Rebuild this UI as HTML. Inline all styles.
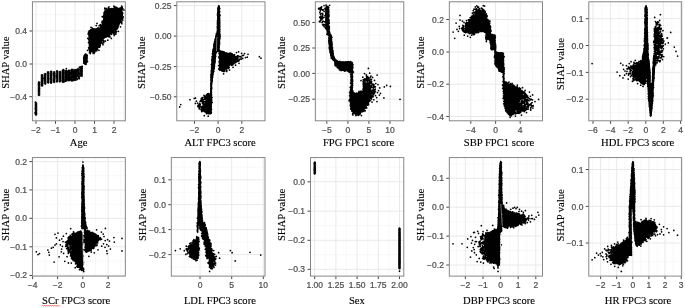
<!DOCTYPE html>
<html><head><meta charset="utf-8"><title>SHAP dependence plots</title>
<style>
html,body{margin:0;padding:0;background:#fff;}
body{width:685px;height:308px;overflow:hidden;}
svg{display:block;opacity:.999;will-change:transform;}
.t{font-family:"Liberation Sans",sans-serif;font-size:8.5px;fill:#4d4d4d;stroke:#4d4d4d;stroke-width:.22px;}
.a{font-family:"Liberation Serif",serif;font-size:10.6px;fill:#000;stroke:#000;stroke-width:.12px;}
.p{fill:none;stroke:#000;stroke-width:1.75;stroke-linecap:round;}
</style></head><body>
<svg width="685" height="308" viewBox="0 0 685 308">
<rect width="685" height="308" fill="#fff"/>
<g><clipPath id="c0"><rect x="32.4" y="1.8" width="92.9" height="119.0"/></clipPath>
<path d="M45.8 1.8V120.8M65.2 1.8V120.8M84.8 1.8V120.8M104.2 1.8V120.8M123.8 1.8V120.8M32.4 14.6H125.3M32.4 47.4H125.3M32.4 80.3H125.3M32.4 113.1H125.3" stroke="#f1f1f1" stroke-width=".5" fill="none"/>
<path d="M36.0 1.8V120.8M55.5 1.8V120.8M75.0 1.8V120.8M94.5 1.8V120.8M114.0 1.8V120.8M32.4 31.0H125.3M32.4 64.0H125.3M32.4 96.7H125.3" stroke="#e6e6e6" stroke-width=".9" fill="none"/>
<g clip-path="url(#c0)"><path d="M35.1 102.5L36.9 102.5L36.9 115.2L35.1 115.2ZM38.1 82.2L39.9 82.2L39.9 95.6L38.1 95.6ZM41.1 74.6L43.0 74.6L43.0 86.2L41.1 86.2ZM44.1 73.4L46.0 73.4L46.0 83.8L44.1 83.8ZM47.2 71.6L49.0 71.6L49.0 83.0L47.2 83.0ZM50.2 70.9L52.0 70.9L52.0 83.1L50.2 83.1ZM53.2 71.6L55.0 71.6L55.0 82.7L53.2 82.7ZM56.2 70.8L58.1 70.8L58.1 81.8L56.2 81.8ZM59.2 71.3L61.1 71.3L61.1 81.7L59.2 81.7ZM62.0 69.9L64.4 69.9L64.4 82.4L62.0 82.4ZM65.0 70.5L67.4 70.5L67.4 81.2L65.0 81.2ZM68.0 69.9L70.4 69.9L70.4 81.0L68.0 81.0ZM71.0 69.0L73.4 69.0L73.4 81.2L71.0 81.2ZM74.1 69.4L76.5 69.4L76.5 80.5L74.1 80.5ZM77.1 68.4L79.5 68.4L79.5 78.4L77.1 78.4ZM80.1 66.8L82.5 66.8L82.5 76.6L80.1 76.6ZM72.5 71.4L72.5 79.2L78.5 78.6L78.5 70.2ZM83.7 56.6L84.0 63.8L85.8 64.3L87.4 61.4L87.0 54.4L84.7 54.3ZM88.9 30.6L89.0 51.5L90.9 51.4L95.5 50.8L100.6 44.5L103.2 38.6L103.2 38.6L103.3 38.5L103.3 38.4L103.4 38.3L106.9 35.0L106.9 35.0L107.0 34.9L107.1 34.9L107.2 34.9L113.3 32.3L118.5 26.0L122.1 18.3L122.4 13.1L121.3 8.2L114.1 8.2L107.0 9.1L104.7 12.3L103.7 21.1L103.7 21.2L103.7 21.3L103.6 21.3L103.6 21.4L100.4 27.4L100.3 27.5L100.3 27.6L100.2 27.6L100.2 27.7L100.1 27.7L100.0 27.8L99.9 27.8L99.9 27.9L99.8 27.9L92.2 29.4Z" fill="#000" stroke="#000" stroke-width=".6" stroke-linejoin="round"/>
<path d="M36.2 110.6h0M36.2 114.3h0M36.0 112.6h0M35.6 105.1h0M36.0 106.1h0M36.3 114.0h0M35.4 102.1h0M35.8 113.3h0M35.1 112.9h0M35.4 108.4h0M38.8 84.8h0M38.6 84.0h0M38.7 90.5h0M39.5 82.3h0M38.7 82.2h0M39.0 89.1h0M39.4 88.4h0M38.8 94.9h0M39.0 90.8h0M39.1 89.1h0M39.0 88.9h0M41.5 84.8h0M42.1 82.2h0M42.3 83.4h0M42.0 75.3h0M42.3 80.9h0M42.0 80.5h0M42.3 85.1h0M42.7 78.7h0M41.7 81.6h0M44.5 80.2h0M44.7 80.6h0M45.4 74.6h0M44.2 77.9h0M44.9 75.6h0M45.0 77.5h0M45.6 74.0h0M45.4 83.9h0M47.9 72.9h0M48.6 73.5h0M48.4 82.6h0M48.1 77.9h0M48.4 73.3h0M47.9 82.1h0M48.6 79.1h0M48.1 78.2h0M48.3 75.8h0M51.0 72.0h0M51.0 83.1h0M51.4 79.1h0M51.3 76.1h0M50.6 77.3h0M51.1 81.9h0M51.1 74.9h0M50.6 78.2h0M51.2 79.4h0M50.7 75.1h0M54.5 78.7h0M53.7 80.7h0M54.5 77.3h0M54.2 79.9h0M53.4 73.8h0M54.7 73.5h0M54.8 75.5h0M54.1 73.2h0M54.0 75.3h0M57.1 77.3h0M56.8 75.5h0M57.0 80.9h0M56.9 75.3h0M57.1 81.4h0M57.0 71.2h0M57.0 75.5h0M56.5 76.6h0M56.8 81.7h0M60.5 80.3h0M60.1 72.1h0M60.2 77.7h0M59.8 76.2h0M60.4 77.6h0M59.9 78.3h0M60.1 74.3h0M59.7 81.7h0M63.5 81.7h0M63.4 80.2h0M62.9 81.2h0M62.6 76.4h0M63.6 81.7h0M63.6 70.0h0M63.1 69.8h0M63.4 69.7h0M63.5 72.8h0M63.6 72.7h0M65.4 77.1h0M66.6 72.2h0M65.7 76.7h0M66.2 70.5h0M66.6 79.4h0M65.5 81.2h0M65.3 80.0h0M66.3 70.6h0M68.8 80.1h0M68.9 71.8h0M68.8 76.3h0M68.8 77.1h0M69.3 76.7h0M68.9 70.5h0M69.4 77.4h0M69.4 77.0h0M70.1 79.3h0M71.2 73.5h0M71.9 71.9h0M71.4 74.6h0M70.8 77.2h0M72.0 69.9h0M72.8 73.6h0M72.3 70.3h0M71.7 77.3h0M71.8 79.5h0M72.7 73.5h0M74.7 70.5h0M75.2 70.5h0M75.3 69.9h0M74.7 79.9h0M76.0 72.2h0M75.9 72.6h0M75.1 79.0h0M75.6 76.4h0M75.4 71.2h0M79.0 73.6h0M78.0 76.2h0M78.1 70.0h0M77.5 70.8h0M79.0 73.8h0M78.7 76.1h0M78.7 77.8h0M78.6 69.3h0M82.0 68.3h0M81.5 74.5h0M81.3 74.5h0M81.1 74.1h0M80.8 71.1h0M81.3 70.4h0M81.7 70.8h0M81.1 66.7h0M71.5 76.3h0M69.0 76.2h0M75.9 77.0h0M78.8 76.8h0M68.4 76.4h0M76.0 74.2h0M76.5 71.9h0M78.2 72.9h0M68.8 72.6h0M67.7 74.3h0M68.4 74.0h0M68.2 74.2h0M73.7 73.5h0M71.4 76.4h0M69.2 79.5h0M77.4 74.3h0M69.2 73.1h0M67.1 74.7h0M72.4 76.9h0M70.7 79.2h0M70.0 73.2h0M75.1 75.5h0M71.9 71.8h0M67.9 75.2h0M79.3 78.7h0M77.3 79.3h0M77.5 74.5h0M69.7 78.2h0M71.1 74.0h0M68.8 74.1h0M67.9 75.6h0M67.2 72.2h0M72.5 73.4h0M67.8 77.2h0M68.4 78.5h0M76.9 70.1h0M72.3 77.6h0M69.2 77.9h0M74.2 74.4h0M74.0 77.5h0M70.0 72.7h0M73.7 76.6h0M74.0 74.3h0M73.3 76.9h0M71.2 73.3h0M76.8 75.1h0M77.4 74.6h0M69.1 76.5h0M68.5 72.3h0M67.9 79.4h0M78.5 72.6h0M77.8 72.8h0M76.8 71.9h0M75.1 72.5h0M73.2 71.9h0M78.7 72.9h0M77.3 76.0h0M73.4 79.8h0M76.9 75.2h0M72.5 76.2h0M78.2 76.0h0M73.2 73.4h0M75.5 73.4h0M73.5 75.3h0M74.4 72.0h0M73.1 72.5h0M75.5 78.3h0M74.9 74.1h0M75.8 72.2h0M73.9 76.3h0M74.0 72.4h0M74.2 78.6h0M74.9 76.3h0M77.0 71.0h0M75.1 73.4h0M77.7 70.4h0M78.0 72.2h0M76.6 71.7h0M73.9 76.1h0M74.9 71.7h0M76.2 78.2h0M78.7 73.4h0M73.9 73.5h0M76.6 70.9h0M75.5 77.4h0M73.3 76.2h0M77.8 75.1h0M76.0 75.9h0M77.7 72.3h0M73.1 75.6h0M66.3 68.6h0M82.2 66.3h0M79.4 67.2h0M84.1 59.2h0M85.0 59.4h0M86.4 61.4h0M84.9 60.6h0M83.7 60.1h0M87.2 55.4h0M86.8 56.4h0M86.0 63.2h0M84.4 55.6h0M85.8 59.8h0M85.9 54.6h0M84.8 63.5h0M86.5 55.9h0M84.8 58.4h0M85.7 59.3h0M83.8 61.2h0M86.0 64.2h0M86.8 61.5h0M86.9 57.3h0M85.1 54.8h0M86.6 62.1h0M85.7 54.1h0M85.3 62.0h0M86.6 55.6h0M84.1 59.0h0M86.1 59.9h0M86.4 61.1h0M85.4 64.3h0M86.4 60.8h0M85.8 57.9h0M85.6 61.4h0M84.4 58.8h0M87.0 58.3h0M85.1 58.1h0M86.1 58.9h0M85.3 57.1h0M84.1 59.5h0M86.2 62.6h0M85.5 57.5h0M85.5 63.0h0M84.2 57.7h0M85.3 59.7h0M84.7 58.3h0M86.4 60.9h0M85.4 64.2h0M86.3 60.9h0M85.3 61.4h0M83.7 57.9h0M87.5 61.5h0M86.4 57.3h0M84.6 59.5h0M86.3 60.9h0M84.6 56.2h0M84.0 62.3h0M83.7 63.0h0M86.9 61.2h0M85.2 57.5h0M84.4 61.0h0M85.1 55.3h0M85.7 60.3h0M86.0 60.2h0M86.4 60.9h0M86.5 58.8h0M84.3 56.5h0M85.8 61.6h0M85.3 62.2h0M86.3 58.2h0M112.4 24.5h0M111.4 19.7h0M95.1 34.3h0M119.1 14.4h0M118.2 26.1h0M110.4 20.5h0M113.4 18.9h0M105.0 23.6h0M96.2 46.9h0M89.5 32.4h0M103.7 24.1h0M105.2 34.6h0M109.5 19.7h0M105.9 32.0h0M104.4 33.9h0M114.5 11.8h0M113.2 10.5h0M115.4 19.2h0M111.6 23.9h0M112.6 18.0h0M94.8 36.1h0M112.7 9.6h0M114.6 22.3h0M109.8 33.1h0M117.1 16.5h0M95.1 45.3h0M93.7 44.7h0M107.5 18.5h0M107.8 18.0h0M114.0 21.8h0M114.6 24.1h0M90.5 48.4h0M108.1 15.4h0M96.8 40.3h0M106.3 21.3h0M107.4 10.8h0M97.2 36.5h0M97.4 39.6h0M101.7 40.5h0M104.6 24.7h0M89.5 47.5h0M98.6 34.3h0M91.8 40.9h0M120.6 19.7h0M96.3 41.2h0M102.4 25.1h0M101.4 38.5h0M114.6 15.1h0M95.3 46.9h0M103.0 21.9h0M117.5 17.1h0M98.6 37.0h0M98.4 38.9h0M116.6 24.6h0M96.8 41.5h0M112.8 21.9h0M92.5 37.0h0M107.5 26.2h0M103.5 28.6h0M104.5 35.0h0M105.5 24.0h0M93.7 51.4h0M97.5 45.6h0M98.0 34.2h0M96.5 36.0h0M97.3 43.6h0M99.8 46.8h0M100.9 36.3h0M104.7 12.1h0M111.4 11.0h0M120.9 11.6h0M102.2 22.8h0M109.2 17.9h0M119.6 20.6h0M109.3 28.4h0M91.4 49.3h0M119.0 20.4h0M92.5 48.3h0M97.6 37.7h0M91.7 39.9h0M88.4 33.5h0M100.5 28.6h0M97.3 47.5h0M114.8 19.8h0M117.9 27.4h0M109.6 21.6h0M119.4 9.4h0M122.8 20.0h0M115.9 20.8h0M110.3 9.2h0M108.0 18.5h0M98.3 37.1h0M100.2 37.4h0M122.8 18.1h0M96.2 47.5h0M103.4 27.9h0M99.6 47.1h0M92.5 38.1h0M116.2 19.7h0M94.1 39.5h0M107.0 10.6h0M110.5 23.2h0M99.3 36.3h0M98.5 39.4h0M95.8 47.8h0M119.1 21.9h0M117.2 15.7h0M123.2 16.8h0M108.3 13.6h0M120.7 12.0h0M97.7 39.9h0M94.3 42.0h0M114.8 13.4h0M117.2 25.4h0M122.0 12.1h0M96.9 31.4h0M92.4 36.5h0M88.3 33.4h0M121.6 22.2h0M103.3 21.4h0M117.4 22.3h0M97.9 42.3h0M107.5 21.3h0M107.7 23.9h0M107.7 34.2h0M93.0 47.8h0M120.9 7.9h0M106.4 18.0h0M93.3 42.9h0M104.2 29.5h0M112.1 27.5h0M115.7 20.1h0M117.4 12.3h0M116.3 13.4h0M97.7 40.6h0M98.1 34.2h0M103.1 35.3h0M109.1 17.4h0M99.5 29.9h0M99.7 38.1h0M104.2 31.8h0M108.4 9.9h0M119.7 8.3h0M95.3 34.8h0M106.7 26.7h0M91.0 50.7h0M122.8 13.0h0M105.0 23.9h0M121.3 21.4h0M92.4 38.0h0M107.5 21.7h0M120.4 13.2h0M110.8 33.5h0M108.6 28.9h0M101.5 36.8h0M107.5 33.1h0M106.6 32.9h0M116.3 13.9h0M91.2 37.9h0M114.5 23.8h0M99.8 43.5h0M116.3 27.4h0M90.9 45.8h0M99.1 47.0h0M106.7 33.0h0M98.5 42.5h0M117.6 13.7h0M108.2 32.0h0M97.3 42.5h0M114.8 13.7h0M109.3 23.7h0M119.2 9.6h0M105.2 36.3h0M120.5 14.4h0M92.0 30.7h0M114.5 10.5h0M99.7 42.7h0M109.3 30.6h0M93.4 46.2h0M114.6 11.6h0M92.6 46.0h0M119.6 19.9h0M118.1 18.0h0M106.0 23.2h0M106.7 26.8h0M97.5 29.5h0M94.8 37.7h0M91.7 35.9h0M112.2 14.6h0M122.0 14.8h0M119.3 15.2h0M98.0 27.8h0M106.7 11.2h0M110.6 30.5h0M115.3 11.0h0M99.6 37.2h0M116.0 24.4h0M88.9 32.6h0M95.9 35.2h0M94.3 42.9h0M98.9 46.5h0M121.8 14.3h0M89.8 47.4h0M110.7 20.1h0M115.9 20.7h0M101.3 41.6h0M95.5 32.6h0M118.7 24.7h0M93.1 43.5h0M92.8 48.3h0M96.9 35.6h0M112.8 20.6h0M105.9 14.4h0M110.5 9.6h0M95.8 31.5h0M114.7 12.9h0M110.7 27.2h0M115.5 23.5h0M103.3 27.5h0M119.5 13.8h0M107.6 25.8h0M117.9 9.1h0M112.2 26.7h0M110.5 19.7h0M106.3 15.6h0M105.9 15.1h0M95.6 33.8h0M94.0 46.8h0M115.4 27.8h0M90.2 44.2h0M97.1 40.3h0M96.5 30.2h0M99.6 39.8h0M111.1 10.4h0M91.7 33.2h0M111.4 10.8h0M99.1 37.3h0M117.2 22.6h0M103.3 21.8h0M93.1 35.8h0M109.8 11.3h0M91.4 44.9h0M114.7 18.4h0M105.0 23.7h0M111.8 11.1h0M96.3 47.7h0M112.1 16.9h0M95.0 45.2h0M104.8 20.4h0M93.3 40.0h0M106.8 13.1h0M109.4 29.3h0M121.5 15.8h0M119.8 8.5h0M115.4 23.0h0M98.7 40.0h0M109.4 18.8h0M91.9 38.5h0M104.7 31.6h0M117.1 16.7h0M114.8 26.3h0M111.7 29.2h0M93.7 37.7h0M104.8 22.5h0M109.2 10.4h0M105.8 17.3h0M90.5 34.4h0M94.7 45.0h0M108.1 25.2h0M108.6 11.8h0M112.5 10.5h0M102.7 42.8h0M105.3 14.0h0M90.6 32.5h0M95.2 50.7h0M118.2 9.1h0M103.4 20.4h0M115.8 11.7h0M108.9 30.8h0M95.3 35.3h0M105.7 16.8h0M98.2 39.5h0M113.7 21.4h0M113.4 22.6h0M116.8 22.5h0M118.0 22.2h0M117.4 20.6h0M113.0 30.0h0M91.7 44.0h0M108.3 24.0h0M93.9 47.6h0M100.0 33.8h0M101.3 35.4h0M92.7 45.5h0M120.7 14.1h0M93.7 47.9h0M117.2 13.5h0M113.1 18.1h0M107.0 23.8h0M100.9 36.0h0M118.6 13.7h0M120.3 18.6h0M94.9 42.9h0M94.3 30.8h0M93.4 39.5h0M108.9 22.4h0M92.0 49.6h0M99.8 40.7h0M116.6 18.1h0M90.4 45.2h0M109.3 21.0h0M117.5 21.5h0M93.3 45.9h0M104.6 28.9h0M94.6 49.4h0M102.4 36.4h0M92.2 38.7h0M106.6 24.2h0M112.7 20.1h0M87.5 50.3h0M94.8 45.4h0M111.7 23.6h0M113.4 30.5h0M104.9 30.4h0M112.8 11.1h0M120.6 11.2h0M111.5 26.7h0M118.3 23.8h0M91.9 30.1h0M96.3 45.3h0M115.7 25.4h0M90.4 42.1h0M118.6 24.5h0M116.5 25.2h0M112.3 29.4h0M111.7 31.3h0M89.1 42.2h0M114.0 19.4h0M115.3 23.4h0M109.6 18.0h0M97.2 30.2h0M106.4 32.6h0M114.5 10.2h0M92.0 31.9h0M92.9 34.1h0M106.7 12.7h0M121.3 18.1h0M110.9 31.5h0M99.6 42.9h0M116.5 18.7h0M120.2 13.7h0M96.8 36.3h0M121.1 11.1h0M90.1 31.3h0M97.5 41.5h0M103.0 38.0h0M91.5 30.0h0M113.5 16.5h0M104.7 11.3h0M110.2 23.2h0M98.3 28.6h0M91.8 38.9h0M104.1 24.6h0M93.3 44.7h0M119.1 16.9h0M110.5 14.8h0M103.2 36.4h0M91.5 32.7h0M106.7 14.5h0M93.7 43.5h0M120.9 14.0h0M116.5 15.4h0M107.5 13.5h0M110.6 27.8h0M89.4 37.7h0M113.1 12.1h0M101.0 42.0h0M114.4 16.8h0M109.1 23.1h0M109.3 33.0h0M120.0 19.9h0M90.7 42.4h0M97.3 47.3h0M97.0 33.6h0M96.3 45.5h0M118.2 13.6h0M90.6 50.6h0M95.5 43.6h0M94.2 35.6h0M116.4 11.0h0M93.4 38.5h0M112.1 9.1h0M100.8 25.8h0M93.3 50.8h0M118.8 13.7h0M94.8 50.1h0M101.7 32.1h0M118.9 17.3h0M103.8 19.5h0M115.6 21.3h0M120.3 19.9h0M104.7 34.1h0M102.6 25.3h0M98.6 35.8h0M88.3 34.3h0M114.8 29.4h0M93.8 46.5h0M97.5 32.8h0M109.6 27.9h0M120.2 10.4h0M119.1 12.3h0M117.1 23.4h0M119.9 12.2h0M119.7 17.5h0M108.4 7.8h0M97.1 40.4h0M97.7 35.7h0M96.9 33.7h0M107.0 28.8h0M114.8 10.1h0M93.8 32.3h0M102.4 33.4h0M119.3 19.4h0M93.2 36.7h0M117.1 21.9h0M107.5 19.6h0M110.8 16.2h0M95.1 32.5h0M116.3 15.6h0M114.7 12.8h0M115.3 15.0h0M106.8 14.4h0M117.3 20.2h0M103.1 33.3h0M118.6 22.0h0M114.9 27.7h0M119.4 20.8h0M95.2 29.6h0M113.7 21.9h0M112.8 22.3h0M104.6 16.5h0M114.8 12.8h0M106.3 26.0h0M95.3 33.5h0M109.4 32.7h0M103.2 23.7h0M113.4 19.4h0M91.0 35.1h0M117.9 24.9h0M110.5 23.5h0M110.1 16.6h0M96.8 44.9h0M106.1 12.6h0M109.3 14.8h0M109.2 12.9h0M97.4 33.2h0M121.1 16.4h0M116.4 17.3h0M108.4 23.6h0M96.7 40.2h0M113.2 20.4h0M112.4 25.3h0M116.1 24.7h0M102.5 23.5h0M111.6 33.5h0M112.9 22.0h0M92.0 40.2h0M113.2 12.9h0M108.6 19.1h0M119.9 19.3h0M90.5 31.8h0M118.2 23.7h0M110.0 27.9h0M104.1 26.5h0M111.7 13.2h0M108.0 17.5h0M97.5 49.4h0M94.2 39.2h0M115.6 9.2h0M106.5 22.1h0M117.8 9.1h0M117.8 13.3h0M119.4 14.3h0M110.3 13.8h0M97.6 39.4h0M118.1 25.2h0M96.2 33.0h0M95.9 40.1h0M109.7 30.0h0M96.6 43.3h0M113.8 22.6h0M98.0 29.3h0M104.0 37.4h0M107.1 32.6h0M101.8 36.8h0M116.5 24.0h0M106.3 11.8h0M92.1 43.9h0M99.0 28.5h0M109.3 28.1h0M99.1 25.8h0M102.7 26.9h0M95.4 42.5h0M93.7 46.0h0M122.3 14.8h0M120.1 15.4h0M96.2 37.8h0M106.0 34.8h0M119.2 9.5h0M95.4 38.8h0M90.3 32.2h0M91.7 37.3h0M94.1 49.0h0M116.2 12.2h0M104.5 14.6h0M111.4 15.2h0M104.8 13.4h0M97.0 47.5h0M89.1 49.0h0M103.6 32.7h0M102.2 35.5h0M106.3 31.6h0M103.7 16.0h0M88.7 47.8h0M97.4 31.9h0M122.2 9.6h0M104.1 18.6h0M101.6 27.4h0M106.7 22.1h0M120.2 14.3h0M90.8 40.0h0M108.3 30.8h0M117.3 18.4h0M102.7 39.5h0M120.9 15.3h0M94.1 34.6h0M121.1 12.2h0M116.5 21.6h0M95.8 45.8h0M94.8 36.1h0M107.7 29.6h0M117.4 16.7h0M119.7 17.9h0M88.8 39.6h0M93.0 30.0h0M99.8 30.1h0M110.7 11.5h0M111.8 15.7h0M111.1 24.8h0M112.8 29.5h0M110.5 14.6h0M92.1 35.4h0M96.8 36.6h0M113.8 17.9h0M95.1 45.4h0M107.6 34.6h0M103.2 37.9h0M111.2 33.3h0M103.5 29.5h0M98.3 42.4h0M118.4 18.8h0M118.4 13.5h0M106.2 32.7h0M91.8 50.9h0M103.7 30.7h0M109.1 22.8h0M116.2 20.5h0M112.6 28.6h0M99.3 31.0h0M116.0 17.9h0M103.2 30.0h0M96.2 40.2h0M102.7 38.0h0M119.6 13.6h0M89.5 39.3h0M90.7 51.5h0M112.9 12.8h0M99.8 41.3h0M114.1 28.4h0M118.3 14.0h0M108.1 11.9h0M95.8 38.0h0M95.9 37.8h0M109.9 19.2h0M110.8 21.0h0M98.9 41.0h0M106.5 23.7h0M106.8 32.6h0M109.7 11.0h0M104.1 25.4h0M105.0 36.1h0M98.6 28.4h0M117.2 18.6h0M117.1 10.9h0M118.8 16.4h0M108.8 15.7h0M114.2 23.2h0M98.2 41.3h0M104.8 35.6h0M96.1 29.4h0M94.5 44.2h0M103.5 35.1h0M121.2 13.5h0M114.6 26.5h0M94.8 37.5h0M106.4 35.2h0M97.0 31.8h0M90.8 38.7h0M107.4 18.5h0M121.7 8.2h0M115.1 27.5h0M103.2 24.6h0M104.1 30.3h0M110.3 23.4h0M90.8 46.6h0M110.3 30.1h0M105.8 27.5h0M103.6 25.6h0M115.5 15.2h0M113.9 31.4h0M121.0 7.7h0M120.9 18.7h0M117.8 18.0h0M103.7 25.9h0M113.9 21.7h0M90.9 48.8h0M96.3 33.8h0M95.0 33.5h0M100.8 37.8h0M107.6 13.1h0M89.7 31.0h0M96.3 48.5h0M107.9 12.3h0M107.4 11.0h0M105.2 15.9h0M99.1 41.4h0M107.4 34.5h0M91.5 31.6h0M99.7 42.0h0M118.0 16.2h0M94.7 36.7h0M91.4 34.5h0M117.6 20.2h0M96.6 44.4h0M99.3 41.1h0M92.6 31.5h0M104.9 34.3h0M105.9 13.7h0M121.3 17.3h0M117.4 16.9h0M106.0 30.7h0M90.3 36.3h0M110.6 14.1h0M103.5 37.1h0M101.1 26.4h0M113.2 20.6h0M111.7 28.1h0M112.8 21.9h0M93.2 38.4h0M91.2 44.7h0M104.0 33.9h0M96.0 49.0h0M105.3 28.4h0M115.0 17.0h0M111.8 27.4h0M108.2 18.6h0M107.4 28.0h0M100.9 27.6h0M97.6 31.9h0M98.3 34.7h0M114.9 19.3h0M107.5 33.3h0M95.0 33.7h0M91.8 48.7h0M111.4 28.6h0M107.4 18.5h0M90.3 43.1h0M89.9 41.5h0M98.7 32.7h0M90.5 36.5h0M93.0 39.2h0M107.9 24.9h0M113.1 22.3h0M92.6 44.9h0M94.5 41.1h0M107.2 20.0h0M90.3 32.9h0M90.5 30.8h0M106.1 36.9h0M106.8 31.1h0M92.1 35.0h0M110.7 13.6h0M95.5 42.9h0M119.6 15.8h0M90.0 41.4h0M109.9 18.0h0M92.1 37.2h0M113.7 23.2h0M112.4 28.4h0M106.9 33.0h0M110.3 19.9h0M110.7 19.0h0M109.5 10.8h0M103.0 31.1h0M111.2 12.4h0M113.1 20.1h0M94.0 28.8h0M99.9 40.7h0M117.9 8.7h0M93.1 45.0h0M104.7 16.8h0M103.4 30.2h0M112.3 8.8h0M94.3 37.8h0M104.6 31.0h0M100.8 25.7h0M115.4 23.1h0M98.9 44.5h0M116.3 27.9h0M113.6 18.2h0M106.5 13.6h0M111.7 25.5h0M111.6 9.2h0M89.4 32.3h0M108.7 17.3h0M119.8 18.8h0M110.2 10.0h0M98.6 36.7h0M102.4 37.8h0M99.0 42.6h0M106.6 33.8h0M120.3 8.4h0M97.6 35.2h0M103.9 12.8h0M92.0 34.7h0M94.1 38.8h0M104.1 14.1h0M96.3 38.7h0M114.8 17.1h0M106.2 36.0h0M110.3 24.6h0M119.5 14.2h0M89.5 52.5h0M88.5 42.5h0M103.1 33.1h0M113.7 12.4h0M103.2 17.3h0M106.9 31.4h0M89.1 34.8h0M98.0 34.1h0M105.7 17.0h0M92.1 35.9h0M101.1 39.2h0M108.7 14.2h0M97.9 46.4h0M106.5 22.5h0M90.9 49.2h0M95.8 44.1h0M105.1 15.3h0M95.7 33.3h0M108.4 32.4h0M113.3 10.8h0M108.7 22.9h0M90.3 48.0h0M89.4 30.9h0M90.3 35.5h0M103.8 28.4h0M118.6 15.7h0M111.4 24.5h0M110.0 24.5h0M110.6 18.0h0M96.6 34.6h0M102.7 28.8h0M114.9 17.9h0M100.2 38.1h0M119.1 14.2h0M119.2 20.3h0M115.6 22.4h0M95.4 39.1h0M114.0 23.0h0M117.0 12.2h0M96.0 47.8h0M106.0 12.4h0M108.9 17.4h0M95.0 44.5h0M101.4 41.2h0M93.3 33.2h0M110.8 29.1h0M116.0 20.0h0M101.3 25.8h0M101.7 35.7h0M99.9 34.1h0M115.9 18.5h0M103.9 15.2h0M111.1 31.1h0M99.6 35.6h0M97.8 41.2h0M97.5 45.2h0M116.8 9.0h0M116.8 11.3h0M93.9 36.4h0M111.8 8.7h0M89.4 41.2h0M118.5 14.0h0M95.0 45.6h0M116.8 29.2h0M90.0 48.9h0M106.9 17.7h0M120.2 14.0h0M108.4 26.6h0M88.8 34.7h0M92.5 33.9h0M95.0 31.2h0M97.0 37.1h0M111.7 13.2h0M111.8 18.2h0M113.8 19.4h0M111.8 25.4h0M119.6 19.8h0M93.0 42.1h0M114.0 11.9h0M100.0 33.3h0M116.1 20.6h0M105.6 29.6h0M89.6 49.0h0M102.9 22.6h0M103.5 21.8h0M104.3 20.3h0M95.3 36.4h0M121.8 18.9h0M109.2 22.8h0M104.2 35.6h0M116.2 18.2h0M96.7 50.8h0M89.5 35.3h0M99.5 39.8h0M102.5 34.4h0M105.1 28.7h0M121.8 10.0h0M101.2 33.7h0M101.0 35.8h0M112.4 12.4h0M89.2 35.9h0M107.2 9.8h0M116.4 15.1h0M109.4 20.1h0M116.7 16.1h0M93.6 32.2h0M122.0 17.1h0M106.7 33.3h0M95.8 37.5h0M90.3 31.9h0M105.4 37.2h0M113.1 27.1h0M101.4 40.7h0M93.9 41.0h0M116.5 20.0h0M92.2 50.7h0M113.2 10.6h0M113.6 27.0h0M93.7 32.1h0M107.9 23.8h0M111.2 16.0h0M93.6 32.3h0M113.8 13.3h0M117.5 10.2h0M96.5 39.1h0M92.4 51.9h0M108.7 24.8h0M101.2 27.5h0M119.7 22.8h0M121.0 13.6h0M95.7 44.0h0M113.2 20.8h0M100.9 35.7h0M108.7 30.9h0M104.4 35.0h0M113.5 28.1h0M95.6 46.9h0M114.1 10.0h0M110.4 24.1h0M111.7 29.9h0M106.9 31.3h0M100.5 40.4h0M100.5 37.4h0M118.2 17.9h0M117.9 11.5h0M121.3 12.1h0M106.6 25.6h0M99.9 36.7h0M111.7 21.4h0M110.1 26.7h0M90.4 43.1h0M103.5 24.0h0M118.5 11.3h0M107.4 35.8h0M107.5 17.4h0M105.1 12.6h0M99.6 29.1h0M108.3 16.1h0M121.5 21.6h0M87.8 38.4h0M117.8 17.8h0M96.1 50.4h0M93.0 30.7h0M92.1 32.9h0M111.0 9.7h0M114.2 23.0h0M89.7 39.5h0M119.8 11.5h0M114.9 23.0h0M101.5 39.4h0M97.3 38.5h0M104.3 14.5h0M106.1 26.3h0M103.3 32.3h0M92.9 44.2h0M96.5 29.0h0M113.4 16.1h0M100.5 36.7h0M101.5 31.0h0M105.5 30.9h0M120.5 9.2h0M115.4 24.0h0M90.0 37.0h0M91.5 44.7h0M121.5 16.7h0M108.0 34.2h0M110.7 12.7h0M114.6 8.3h0M107.1 32.4h0M97.8 39.7h0M95.1 30.3h0M108.7 18.6h0M117.1 21.1h0M95.4 36.2h0M109.2 31.3h0M93.4 32.0h0M107.9 32.3h0M91.4 35.7h0M99.3 37.4h0M110.8 30.4h0M95.1 34.0h0M101.4 36.1h0M112.8 31.6h0M118.0 23.7h0M93.1 35.2h0M97.4 35.5h0M95.4 48.7h0M95.4 32.1h0M98.8 37.7h0M120.3 12.3h0M111.8 32.0h0M108.8 24.9h0M97.0 47.5h0M93.4 49.4h0M90.3 40.1h0M98.0 46.8h0M115.1 25.9h0M105.6 24.6h0M113.0 24.6h0M90.2 47.5h0M104.1 28.8h0M98.7 28.6h0M115.9 27.8h0M99.2 30.2h0M96.8 36.5h0M109.1 29.4h0M112.4 19.3h0M93.1 36.6h0M91.4 30.6h0M108.0 29.8h0M94.4 43.7h0M101.9 30.2h0M93.7 47.1h0M100.5 43.5h0M107.5 12.0h0M118.0 21.9h0M95.3 41.9h0M103.7 38.2h0M111.0 12.7h0M94.8 36.7h0M107.8 15.7h0M110.8 13.9h0M115.6 17.1h0M100.0 32.3h0M94.1 38.6h0M117.1 19.8h0M108.9 29.9h0M110.9 11.6h0M118.7 11.3h0M112.6 24.6h0M122.8 8.7h0M110.1 27.9h0M98.1 45.3h0M101.2 42.4h0M92.9 32.0h0M114.2 19.2h0M98.3 43.1h0M92.8 34.1h0M101.0 34.6h0M97.7 43.9h0M112.3 26.3h0M88.6 32.1h0M95.7 36.9h0M101.4 39.2h0M110.3 32.9h0M100.0 38.5h0M110.0 14.3h0M102.3 25.9h0M106.2 20.0h0M101.7 36.4h0M102.2 31.0h0M115.0 12.6h0M110.6 15.2h0M91.8 34.6h0M114.5 21.6h0M90.7 45.6h0M97.9 33.9h0M102.9 34.0h0M108.4 34.9h0M92.1 39.9h0M100.2 45.5h0M101.1 38.6h0M92.2 50.7h0M90.7 36.4h0M92.7 35.1h0M99.3 40.7h0M104.9 23.6h0M100.1 42.9h0M91.5 50.9h0M89.8 32.0h0M91.4 35.8h0M90.3 41.5h0M90.7 29.9h0M90.3 39.4h0M89.7 39.8h0M89.9 52.1h0M90.2 36.9h0M89.8 44.5h0M90.0 40.9h0M89.9 48.1h0M89.8 43.8h0M90.3 53.5h0M90.0 44.6h0M89.7 37.3h0M89.8 39.2h0M90.1 50.1h0M90.8 37.9h0M90.2 51.8h0M90.6 39.7h0M90.3 52.3h0M89.3 32.5h0M90.2 48.3h0M89.8 39.8h0M91.9 39.9h0M91.5 32.4h0M91.4 41.1h0M91.6 30.4h0M91.5 30.4h0M91.1 29.8h0M91.9 33.8h0M91.6 31.6h0M91.8 34.0h0M91.0 45.0h0M91.8 44.4h0M92.2 28.2h0M91.7 49.1h0M91.0 48.1h0M91.5 51.3h0M91.5 33.0h0M91.6 45.9h0M91.4 41.5h0M91.7 45.3h0M91.3 50.2h0M91.6 29.5h0M91.2 48.7h0M92.6 45.9h0M93.2 39.8h0M93.1 29.5h0M93.1 44.6h0M93.6 45.0h0M92.5 45.9h0M93.2 37.2h0M93.2 50.2h0M92.8 43.4h0M93.7 38.0h0M92.7 34.5h0M93.1 29.2h0M93.1 46.4h0M92.3 36.4h0M92.6 50.0h0M92.8 36.5h0M93.4 36.1h0M93.4 48.2h0M93.3 38.0h0M93.2 53.3h0M92.3 42.7h0M93.2 52.1h0M93.6 29.8h0M94.2 37.9h0M94.4 36.7h0M94.9 30.9h0M94.3 46.3h0M94.6 41.7h0M94.2 44.8h0M94.7 51.4h0M94.1 43.5h0M94.8 51.9h0M93.4 49.9h0M93.8 42.2h0M95.2 44.7h0M94.6 40.6h0M94.2 38.4h0M95.3 47.7h0M94.9 44.2h0M94.9 37.9h0M94.4 45.6h0M94.7 42.4h0M94.7 31.0h0M93.9 48.0h0M96.0 50.0h0M95.2 38.4h0M96.0 34.8h0M95.8 29.9h0M96.8 31.6h0M96.3 29.4h0M96.0 40.8h0M96.2 36.8h0M96.4 34.9h0M95.9 46.4h0M96.0 30.2h0M96.0 37.7h0M97.0 46.1h0M96.1 46.7h0M95.4 44.0h0M96.4 40.0h0M97.1 31.9h0M95.8 37.1h0M97.4 44.5h0M98.0 41.0h0M98.1 46.0h0M97.6 36.3h0M97.9 31.3h0M97.6 37.0h0M97.9 47.6h0M97.6 38.5h0M97.7 37.6h0M97.4 46.5h0M97.5 42.0h0M98.2 31.6h0M97.1 37.2h0M97.5 49.4h0M97.3 29.1h0M97.9 46.0h0M98.2 35.6h0M97.4 45.7h0M96.5 32.2h0M97.7 43.6h0M99.2 29.8h0M98.9 35.9h0M99.2 41.5h0M98.5 40.8h0M99.2 30.1h0M98.2 36.6h0M98.8 32.6h0M99.6 30.9h0M99.6 33.6h0M99.0 38.9h0M98.8 43.0h0M99.5 29.1h0M99.1 32.4h0M99.2 40.0h0M99.4 35.8h0M100.5 42.4h0M100.5 32.7h0M100.5 38.1h0M100.6 27.3h0M100.4 41.3h0M100.2 41.7h0M100.0 39.3h0M99.8 39.3h0M101.0 36.9h0M100.9 32.5h0M100.0 41.3h0M100.4 28.9h0M100.7 37.3h0M101.1 28.4h0M100.3 40.4h0M102.6 23.0h0M102.3 31.0h0M101.9 38.0h0M102.3 23.5h0M102.5 43.6h0M102.4 37.1h0M102.2 21.3h0M102.0 37.8h0M102.3 30.7h0M102.8 24.9h0M102.2 36.0h0M101.9 37.2h0M102.3 35.1h0M101.7 26.7h0M102.2 25.1h0M102.0 22.3h0M102.5 24.7h0M102.2 29.1h0M102.5 28.6h0M103.0 22.5h0M103.4 35.2h0M103.4 34.6h0M104.3 37.5h0M103.9 40.9h0M103.2 24.6h0M103.4 26.6h0M103.5 42.2h0M103.3 35.6h0M102.9 40.4h0M103.8 28.0h0M103.8 42.5h0M103.6 30.3h0M103.4 38.5h0M103.6 40.9h0M103.8 32.1h0M103.2 29.9h0M103.4 31.7h0M103.3 23.6h0M103.8 22.3h0M103.6 41.6h0M105.4 29.0h0M105.4 34.0h0M105.2 15.1h0M105.6 15.5h0M105.0 35.7h0M104.8 32.8h0M105.3 26.6h0M104.2 30.3h0M105.0 26.0h0M105.2 16.3h0M105.0 23.7h0M105.6 14.5h0M105.4 10.3h0M105.2 17.2h0M105.0 30.7h0M105.6 11.5h0M104.9 8.8h0M105.0 14.2h0M105.4 30.0h0M105.4 32.9h0M105.9 15.3h0M105.1 35.1h0M104.5 21.2h0M105.4 27.2h0M105.6 26.7h0M106.5 14.9h0M106.4 32.7h0M106.6 12.9h0M106.2 14.6h0M106.9 30.1h0M106.0 33.5h0M106.7 36.1h0M106.1 8.7h0M107.1 17.4h0M106.9 26.0h0M106.3 17.4h0M106.4 30.0h0M106.2 14.2h0M106.5 25.8h0M106.7 12.2h0M107.5 11.9h0M106.1 31.7h0M107.0 26.5h0M106.4 24.6h0M106.7 18.8h0M106.9 27.9h0M106.8 36.4h0M106.7 18.8h0M106.5 8.7h0M106.6 15.2h0M108.6 26.1h0M108.2 30.3h0M107.8 22.5h0M108.6 28.7h0M108.3 21.7h0M108.3 11.2h0M107.7 33.1h0M108.2 14.2h0M107.6 14.1h0M107.5 11.9h0M108.1 18.2h0M108.0 19.8h0M108.4 13.9h0M108.7 12.9h0M108.2 21.2h0M108.8 8.5h0M108.0 22.4h0M108.5 11.3h0M107.7 12.0h0M108.2 11.7h0M108.1 32.7h0M108.1 31.8h0M108.4 36.6h0M107.5 31.5h0M108.2 22.8h0M107.9 19.6h0M109.4 19.9h0M109.6 27.8h0M109.7 18.2h0M108.9 17.9h0M109.8 20.9h0M109.2 34.7h0M110.1 22.0h0M110.2 10.9h0M109.6 18.7h0M109.0 25.4h0M109.6 24.1h0M109.6 36.2h0M109.8 23.2h0M109.5 31.4h0M109.2 30.2h0M109.5 21.9h0M109.2 20.5h0M110.2 21.7h0M109.3 11.8h0M109.3 10.8h0M109.6 11.6h0M109.1 12.1h0M109.4 10.7h0M109.5 19.9h0M109.4 12.6h0M109.5 36.8h0M111.6 27.8h0M111.0 29.5h0M111.1 14.0h0M111.0 17.9h0M111.5 25.3h0M111.9 21.9h0M110.9 29.7h0M111.4 19.7h0M111.2 32.3h0M111.1 14.8h0M111.4 25.8h0M110.7 29.5h0M111.5 34.3h0M111.3 18.8h0M110.8 31.6h0M111.8 24.5h0M111.5 25.5h0M111.6 15.7h0M110.7 31.5h0M111.1 10.9h0M111.0 34.3h0M111.4 23.6h0M112.5 13.5h0M113.4 20.4h0M113.1 32.0h0M112.4 22.1h0M113.0 32.3h0M113.0 21.8h0M112.6 20.8h0M113.0 11.1h0M112.7 12.5h0M112.4 29.8h0M112.2 25.7h0M112.6 23.0h0M113.0 30.2h0M112.1 24.9h0M112.0 16.8h0M112.8 29.7h0M111.6 26.6h0M113.3 12.4h0M112.4 28.9h0M112.9 18.6h0M113.3 29.2h0M112.1 28.8h0M114.5 6.7h0M113.7 13.6h0M114.1 10.7h0M113.6 19.2h0M114.0 19.3h0M115.5 17.3h0M114.2 32.8h0M114.1 17.3h0M114.0 11.6h0M113.8 33.9h0M113.6 24.8h0M114.2 34.0h0M114.1 19.2h0M114.7 23.8h0M113.6 15.6h0M114.4 34.3h0M114.7 14.1h0M113.5 33.4h0M114.5 16.0h0M113.6 28.6h0M114.4 25.0h0M114.7 28.9h0M114.2 11.9h0M114.3 35.4h0M114.0 20.6h0M114.3 8.1h0M116.0 32.8h0M116.1 16.0h0M115.6 29.5h0M115.8 17.2h0M115.1 28.4h0M114.8 19.4h0M115.4 13.0h0M115.5 12.9h0M115.1 15.1h0M115.7 10.4h0M115.7 31.5h0M115.9 33.1h0M116.2 29.5h0M115.9 7.2h0M115.5 31.9h0M115.7 29.5h0M115.8 30.8h0M115.2 24.9h0M116.1 12.9h0M115.9 15.5h0M115.5 18.0h0M115.4 12.3h0M117.0 7.8h0M115.9 33.9h0M116.0 18.0h0M116.3 24.2h0M117.5 22.6h0M117.3 28.3h0M117.2 24.2h0M117.5 13.3h0M117.3 9.8h0M117.2 26.9h0M116.8 23.3h0M117.1 20.2h0M117.5 18.3h0M117.1 27.5h0M117.4 9.4h0M117.2 11.7h0M116.9 14.9h0M116.9 28.4h0M117.0 22.4h0M117.1 20.6h0M117.2 15.4h0M118.6 13.7h0M119.0 12.6h0M118.5 10.7h0M119.0 16.5h0M118.6 22.7h0M118.5 17.9h0M118.6 24.6h0M118.7 20.1h0M118.4 19.2h0M118.2 18.6h0M119.3 10.5h0M118.5 20.2h0M118.0 13.1h0M117.8 11.2h0M117.6 11.6h0M118.4 12.7h0M119.1 20.7h0M121.0 13.8h0M120.1 21.5h0M120.7 21.1h0M120.4 8.8h0M120.2 13.0h0M119.6 17.9h0M120.6 13.1h0M120.0 21.4h0M120.1 8.6h0M120.4 22.0h0M120.3 15.9h0M120.7 15.8h0M120.0 17.0h0M120.3 9.7h0M120.4 12.8h0M122.2 7.9h0M121.9 14.8h0M121.4 22.3h0M122.2 15.2h0M121.8 12.9h0M122.2 7.3h0M121.3 12.0h0M122.3 8.5h0M121.7 13.4h0M120.9 13.5h0M121.9 22.0h0M121.6 12.3h0M121.3 21.1h0M121.6 6.0h0M121.0 11.4h0M122.0 6.6h0M118.4 31.3h0M111.3 38.4h0M97.0 23.4h0M113.9 6.2h0M109.0 6.8h0M116.5 31.5h0M105.5 41.0h0M100.3 24.6h0M91.0 27.4h0M110.0 36.8h0M99.0 50.3h0M124.0 10.0h0M120.5 26.8h0M94.0 53.4h0M103.0 44.7h0M107.8 40.2h0M114.8 34.3h0M121.8 23.7h0M102.2 16.5h0M104.8 8.2h0M96.2 25.5h0" class="p"/></g>
<rect x="32.4" y="1.8" width="92.9" height="119.0" fill="none" stroke="#7a7a7a" stroke-width=".9"/>
<path d="M36.0 121.2v2.6M55.5 121.2v2.6M75.0 121.2v2.6M94.5 121.2v2.6M114.0 121.2v2.6M32.0 31.0h-2.6M32.0 64.0h-2.6M32.0 96.7h-2.6" stroke="#333" stroke-width=".9" fill="none"/>
<text class="t" x="36.0" y="132.7" text-anchor="middle">−2</text>
<text class="t" x="55.5" y="132.7" text-anchor="middle">−1</text>
<text class="t" x="75.0" y="132.7" text-anchor="middle">0</text>
<text class="t" x="94.5" y="132.7" text-anchor="middle">1</text>
<text class="t" x="114.0" y="132.7" text-anchor="middle">2</text>
<text class="t" x="27.0" y="34.0" text-anchor="end">0.4</text>
<text class="t" x="27.0" y="67.0" text-anchor="end">0.0</text>
<text class="t" x="27.0" y="99.8" text-anchor="end">−0.4</text>
<text class="a" x="78.6" y="145.6" text-anchor="middle">Age</text>
<text class="a" transform="translate(9.1 62.7) rotate(-90)" text-anchor="middle">SHAP value</text></g>
<g><clipPath id="c1"><rect x="176.8" y="1.8" width="88.2" height="119.0"/></clipPath>
<path d="M182.7 1.8V120.8M206.3 1.8V120.8M230.0 1.8V120.8M253.6 1.8V120.8M176.8 20.8H265.0M176.8 51.2H265.0M176.8 81.6H265.0M176.8 112.0H265.0" stroke="#f1f1f1" stroke-width=".5" fill="none"/>
<path d="M194.5 1.8V120.8M218.1 1.8V120.8M241.8 1.8V120.8M176.8 5.6H265.0M176.8 36.1H265.0M176.8 66.6H265.0M176.8 96.8H265.0" stroke="#e6e6e6" stroke-width=".9" fill="none"/>
<g clip-path="url(#c1)"><path d="M218.6 5.2L217.8 8.0L217.4 20.0L216.9 36.0L217.2 46.0L217.3 52.0L218.7 52.0L219.5 46.0L220.1 36.0L219.8 20.0L219.5 8.0L218.8 5.2ZM216.7 33.0L214.3 42.0L212.9 50.0L211.7 62.0L210.9 75.0L210.8 84.0L210.7 100.0L210.3 113.0L210.8 113.0L211.2 100.0L211.6 84.0L213.2 75.0L215.2 62.0L216.4 50.0L217.0 42.0L217.0 33.0ZM219.4 49.6L219.9 69.8L221.6 71.0L225.7 66.3L225.8 66.3L230.7 61.3L234.0 56.6L231.8 54.9L225.9 53.3L225.9 53.3L220.4 51.8L220.4 51.8L220.3 51.8L220.3 51.8L220.3 51.8L220.3 51.8L220.2 51.7L220.2 51.7L220.2 51.7L220.2 51.7L220.2 51.6ZM211.2 94.5L208.7 95.6L206.0 99.1L205.9 107.9L207.8 112.3L210.8 113.5L211.2 111.9Z" fill="#000" stroke="#000" stroke-width=".6" stroke-linejoin="round"/>
<path d="M218.9 19.5h0M217.5 47.3h0M219.6 24.9h0M218.6 28.2h0M218.6 17.5h0M219.1 9.8h0M217.5 15.0h0M219.2 17.2h0M219.1 25.8h0M219.1 28.3h0M217.7 44.3h0M219.6 22.2h0M217.7 40.7h0M218.1 17.4h0M219.4 27.6h0M219.3 9.3h0M217.8 46.5h0M218.7 21.9h0M219.5 35.0h0M218.8 31.4h0M217.5 28.1h0M218.2 16.7h0M218.5 43.4h0M219.4 27.3h0M218.2 11.8h0M218.2 10.4h0M219.0 28.8h0M218.0 31.6h0M218.1 18.4h0M218.2 16.5h0M217.3 43.7h0M217.4 37.0h0M218.6 12.4h0M217.8 42.6h0M219.0 8.4h0M217.1 44.2h0M218.0 43.9h0M219.6 11.4h0M217.9 51.0h0M219.2 46.9h0M218.0 14.0h0M219.4 35.6h0M217.5 27.0h0M219.4 12.4h0M220.0 15.2h0M219.1 15.2h0M217.6 36.4h0M219.2 31.9h0M218.6 50.1h0M218.9 19.8h0M219.1 27.7h0M217.7 22.8h0M219.3 23.2h0M217.7 32.4h0M218.0 41.6h0M217.9 37.0h0M218.1 11.1h0M218.0 18.4h0M219.8 34.4h0M217.0 40.5h0M218.4 45.4h0M218.5 22.3h0M217.4 26.7h0M218.0 8.0h0M218.5 29.5h0M218.3 19.7h0M218.0 29.8h0M217.7 33.2h0M218.1 13.6h0M218.8 9.3h0M219.8 38.3h0M217.8 38.7h0M217.8 50.8h0M219.2 28.8h0M218.4 8.9h0M218.1 9.3h0M218.4 50.1h0M218.2 39.3h0M217.7 13.3h0M218.3 25.1h0M219.5 14.7h0M217.3 41.2h0M219.5 39.2h0M218.2 48.1h0M219.3 35.8h0M219.0 24.3h0M218.7 47.4h0M219.6 23.3h0M217.5 39.4h0M217.7 15.8h0M219.2 18.4h0M218.3 33.4h0M218.6 19.2h0M218.0 45.0h0M219.7 29.4h0M218.2 48.1h0M218.7 33.2h0M217.1 32.1h0M217.9 28.9h0M218.3 14.7h0M219.6 21.8h0M217.5 46.7h0M218.7 36.7h0M219.2 40.9h0M218.7 24.8h0M218.8 15.0h0M218.1 42.1h0M217.8 24.8h0M217.6 41.3h0M219.0 8.9h0M218.6 21.9h0M218.2 35.4h0M218.8 48.2h0M218.5 15.0h0M217.6 50.6h0M218.7 36.6h0M219.0 14.9h0M219.0 6.5h0M218.1 48.1h0M217.1 36.6h0M218.5 38.7h0M217.6 24.6h0M218.2 9.8h0M219.3 27.6h0M219.9 35.1h0M219.5 18.4h0M217.8 49.6h0M218.1 41.1h0M219.3 6.6h0M219.3 19.2h0M217.2 46.9h0M218.1 39.9h0M218.9 42.4h0M218.0 14.4h0M217.2 46.0h0M217.5 35.8h0M218.8 24.2h0M219.2 36.9h0M219.0 16.9h0M218.5 46.7h0M219.1 9.4h0M218.8 18.0h0M219.6 38.6h0M219.1 24.9h0M218.8 46.1h0M219.4 43.5h0M217.4 36.8h0M217.6 22.2h0M218.8 25.8h0M218.6 20.9h0M219.6 20.0h0M218.7 6.4h0M219.2 17.6h0M219.0 37.5h0M217.6 30.5h0M217.6 20.9h0M218.5 20.7h0M218.0 14.0h0M218.2 9.3h0M218.5 12.9h0M217.3 34.2h0M218.3 48.2h0M218.6 37.1h0M218.5 21.5h0M218.7 31.5h0M218.2 11.9h0M218.8 9.6h0M219.4 8.7h0M219.5 31.6h0M217.3 32.5h0M218.1 12.9h0M218.7 48.8h0M218.9 12.2h0M218.1 29.0h0M219.6 35.4h0M219.1 7.2h0M218.7 18.2h0M217.9 30.1h0M220.1 36.7h0M218.4 36.9h0M217.8 36.0h0M217.9 9.1h0M219.7 8.4h0M218.7 45.0h0M218.0 12.5h0M217.8 22.3h0M219.5 44.1h0M218.0 7.8h0M218.5 44.9h0M218.7 35.6h0M218.9 23.5h0M219.0 16.8h0M218.2 29.6h0M218.6 43.4h0M219.4 15.0h0M218.8 17.1h0M218.7 28.6h0M219.0 42.7h0M217.7 24.8h0M218.1 24.6h0M218.4 49.7h0M218.5 30.2h0M217.2 41.7h0M219.7 36.5h0M218.0 30.8h0M218.1 25.6h0M217.5 35.6h0M219.4 43.8h0M219.0 12.4h0M218.2 18.1h0M218.0 15.4h0M219.4 42.7h0M217.6 20.6h0M218.6 26.2h0M219.0 29.2h0M218.8 49.4h0M218.7 6.0h0M217.6 14.2h0M218.1 45.4h0M219.6 26.6h0M218.0 22.6h0M217.5 48.8h0M218.2 10.7h0M219.2 6.5h0M219.2 47.1h0M218.5 43.2h0M218.0 30.3h0M218.3 17.9h0M217.9 41.3h0M218.4 13.0h0M218.4 25.3h0M218.7 13.6h0M217.8 24.4h0M218.9 6.1h0M219.0 26.7h0M218.7 26.4h0M218.4 50.6h0M217.5 23.1h0M218.8 30.1h0M218.2 12.7h0M218.8 18.7h0M219.5 16.3h0M217.5 50.2h0M218.1 11.6h0M218.1 35.1h0M218.5 43.7h0M218.7 48.8h0M211.4 95.5h0M210.7 100.2h0M214.9 62.1h0M212.8 69.7h0M210.7 93.9h0M214.7 44.1h0M211.0 97.1h0M214.8 62.5h0M215.1 53.2h0M212.3 70.5h0M211.4 84.6h0M210.9 99.7h0M210.6 98.4h0M216.0 36.4h0M214.8 46.5h0M213.4 60.2h0M215.6 38.3h0M213.5 68.9h0M212.0 69.3h0M212.2 74.9h0M213.6 61.2h0M215.2 52.4h0M212.2 80.0h0M216.7 38.0h0M216.5 36.7h0M211.3 92.3h0M214.8 48.6h0M216.8 46.1h0M215.3 53.0h0M211.3 78.9h0M213.0 52.4h0M210.8 85.8h0M211.6 84.0h0M211.9 65.4h0M210.6 106.7h0M211.4 93.1h0M216.1 44.5h0M214.5 51.7h0M214.8 42.2h0M210.8 89.7h0M214.4 48.7h0M212.1 69.2h0M216.7 40.9h0M210.9 102.7h0M211.1 92.4h0M211.2 86.0h0M210.9 88.7h0M212.4 62.1h0M215.8 48.5h0M216.7 35.0h0M214.4 65.9h0M210.7 105.1h0M216.1 35.8h0M216.3 48.9h0M210.9 75.1h0M215.3 39.4h0M214.7 57.0h0M211.5 92.8h0M216.0 50.5h0M214.3 57.6h0M213.5 55.8h0M213.3 49.8h0M211.0 97.1h0M210.7 108.4h0M211.0 80.1h0M215.2 53.7h0M216.0 52.8h0M210.9 88.0h0M211.2 90.3h0M210.7 97.9h0M215.6 44.3h0M213.3 49.3h0M214.8 60.5h0M212.2 67.4h0M211.1 97.7h0M215.6 40.5h0M212.9 57.1h0M216.9 42.7h0M211.0 97.0h0M211.3 89.6h0M211.2 97.3h0M214.1 58.6h0M212.4 75.0h0M210.6 103.5h0M216.7 35.2h0M210.9 96.7h0M211.0 94.1h0M213.7 67.9h0M211.1 94.6h0M210.9 93.3h0M215.8 47.8h0M210.4 109.9h0M210.9 107.7h0M213.0 53.8h0M210.3 108.8h0M211.1 76.6h0M212.9 73.8h0M211.5 94.6h0M211.1 105.7h0M214.3 53.8h0M216.4 43.2h0M210.7 99.7h0M212.0 68.4h0M212.6 77.0h0M211.6 71.4h0M210.5 102.8h0M211.3 78.4h0M211.2 89.1h0M211.2 94.1h0M216.3 33.8h0M212.0 77.8h0M212.1 81.2h0M216.5 41.8h0M216.5 46.8h0M216.5 38.9h0M214.2 66.2h0M211.0 94.7h0M214.6 52.9h0M210.7 102.3h0M215.9 38.9h0M213.3 60.8h0M215.2 51.9h0M210.5 109.0h0M216.3 46.8h0M211.0 100.7h0M211.7 74.4h0M213.8 54.9h0M213.9 66.5h0M215.4 43.9h0M211.5 81.5h0M211.3 86.1h0M214.2 68.5h0M211.0 96.0h0M211.1 94.0h0M211.4 86.8h0M210.9 92.9h0M211.9 67.4h0M216.3 45.9h0M211.1 75.2h0M213.3 70.0h0M215.4 45.3h0M211.2 88.4h0M213.2 68.6h0M211.5 86.8h0M215.1 48.7h0M213.4 52.0h0M217.0 41.0h0M211.0 105.1h0M211.7 88.0h0M214.1 57.9h0M216.1 37.7h0M212.0 60.1h0M211.3 95.1h0M210.8 104.4h0M215.0 46.7h0M210.9 106.4h0M215.6 49.5h0M215.9 36.4h0M213.9 44.0h0M216.4 35.1h0M216.2 52.6h0M211.0 94.3h0M213.8 71.3h0M210.7 96.0h0M216.3 40.9h0M211.0 92.6h0M215.6 44.3h0M212.0 59.0h0M210.8 107.2h0M210.9 91.2h0M211.3 91.2h0M211.4 84.5h0M214.3 62.6h0M211.0 83.1h0M213.8 67.5h0M211.0 95.9h0M211.5 86.7h0M211.2 103.7h0M210.6 99.5h0M210.9 99.7h0M215.9 41.1h0M216.5 35.2h0M214.4 63.7h0M210.2 108.1h0M211.7 81.4h0M211.7 79.2h0M210.5 98.6h0M211.3 83.5h0M216.2 42.5h0M211.4 70.9h0M210.7 101.9h0M211.3 97.1h0M216.8 38.5h0M210.8 112.3h0M212.4 74.7h0M213.6 56.4h0M214.1 67.5h0M210.7 107.9h0M210.5 104.2h0M213.8 61.6h0M210.9 83.8h0M216.6 39.3h0M211.3 96.0h0M216.3 39.5h0M211.4 90.1h0M215.1 58.6h0M216.0 45.6h0M216.4 44.9h0M210.8 110.2h0M213.0 51.1h0M211.6 70.6h0M215.9 45.9h0M211.9 72.2h0M211.1 98.2h0M213.9 53.2h0M211.1 89.9h0M212.3 61.6h0M215.3 43.4h0M211.2 97.6h0M214.8 60.7h0M210.8 83.9h0M210.7 108.6h0M211.3 90.6h0M212.0 59.7h0M211.7 82.1h0M210.8 92.6h0M215.4 50.6h0M210.9 108.8h0M212.8 51.5h0M216.6 36.5h0M211.2 75.5h0M212.9 71.0h0M214.9 45.8h0M212.7 71.7h0M215.0 55.0h0M210.9 97.7h0M211.6 72.3h0M211.4 74.9h0M215.1 44.9h0M210.6 108.2h0M212.6 53.6h0M212.0 79.6h0M211.0 94.8h0M211.1 74.6h0M214.1 58.8h0M211.5 84.3h0M211.1 90.1h0M215.1 44.5h0M213.3 53.7h0M215.3 48.0h0M216.2 35.4h0M211.4 82.5h0M210.6 112.3h0M214.0 55.1h0M210.7 107.5h0M212.2 64.0h0M210.6 105.6h0M215.6 41.0h0M213.0 58.6h0M210.9 100.3h0M210.7 105.2h0M211.2 96.8h0M211.6 87.4h0M212.7 58.1h0M210.7 111.2h0M211.4 78.8h0M210.8 98.2h0M211.9 65.0h0M210.6 107.5h0M211.7 82.7h0M210.8 89.7h0M216.4 44.8h0M214.0 66.2h0M216.1 41.2h0M214.9 61.5h0M211.7 78.3h0M214.9 56.5h0M216.9 34.1h0M213.9 67.6h0M211.0 93.4h0M212.4 63.5h0M211.3 94.9h0M214.0 64.2h0M212.4 76.9h0M213.6 57.4h0M216.5 40.4h0M210.9 95.2h0M211.2 74.0h0M211.0 96.2h0M211.4 95.4h0M210.8 95.0h0M213.2 63.6h0M212.2 56.7h0M215.9 51.4h0M212.4 70.5h0M211.7 81.1h0M210.9 101.5h0M210.6 112.2h0M211.2 91.1h0M212.2 78.3h0M215.6 56.3h0M211.9 79.6h0M214.4 56.0h0M210.9 102.2h0M213.6 51.5h0M212.8 65.9h0M215.1 51.3h0M213.3 50.8h0M210.7 93.8h0M213.7 49.6h0M212.2 58.9h0M216.2 37.0h0M210.5 105.4h0M210.9 104.4h0M213.1 63.2h0M210.3 106.1h0M215.9 51.6h0M212.4 53.5h0M211.0 77.4h0M213.2 50.7h0M210.9 105.0h0M210.7 110.1h0M216.8 43.3h0M212.2 68.9h0M213.0 67.0h0M210.9 111.5h0M210.8 111.3h0M216.8 38.5h0M210.6 108.9h0M211.6 84.6h0M211.4 70.8h0M213.2 68.0h0M210.9 101.0h0M214.7 43.7h0M213.8 65.0h0M215.3 41.5h0M213.9 64.9h0M210.6 96.7h0M210.8 99.2h0M216.6 44.7h0M214.6 53.2h0M211.6 88.8h0M216.5 47.2h0M216.8 37.5h0M211.0 102.0h0M216.8 35.5h0M210.8 103.8h0M212.1 80.8h0M214.2 64.8h0M215.2 57.3h0M211.4 64.5h0M210.4 104.3h0M211.5 79.3h0M215.9 45.0h0M211.6 77.9h0M213.2 58.2h0M210.8 104.7h0M215.5 46.2h0M213.2 72.6h0M216.5 35.5h0M213.1 54.4h0M211.2 89.4h0M211.4 82.0h0M210.6 106.0h0M213.9 45.9h0M213.1 70.2h0M214.6 41.7h0M224.5 68.2h0M222.5 61.0h0M230.4 61.9h0M233.6 61.5h0M234.2 60.9h0M219.8 67.0h0M237.4 55.8h0M231.9 63.9h0M231.1 55.6h0M231.0 56.1h0M223.9 69.0h0M225.1 54.7h0M222.5 57.8h0M224.7 61.2h0M226.1 60.0h0M230.5 61.1h0M227.1 57.0h0M232.4 54.4h0M225.4 53.9h0M224.9 59.6h0M227.5 57.6h0M220.6 57.8h0M221.7 65.6h0M237.9 58.2h0M224.2 63.9h0M231.6 57.8h0M220.4 53.9h0M219.7 65.1h0M239.3 59.9h0M219.6 55.1h0M240.1 58.8h0M221.9 63.4h0M232.7 56.6h0M227.3 58.7h0M229.6 56.3h0M241.2 57.0h0M227.1 58.6h0M233.2 55.3h0M224.9 66.3h0M237.7 60.0h0M229.3 64.1h0M237.6 56.8h0M228.9 59.5h0M226.2 57.4h0M222.5 54.3h0M227.1 55.6h0M223.7 62.2h0M230.1 61.2h0M224.6 60.0h0M226.1 56.1h0M232.8 64.8h0M223.1 53.6h0M223.2 54.4h0M224.4 58.0h0M232.0 62.7h0M226.9 53.2h0M223.9 54.5h0M220.6 70.0h0M233.7 55.7h0M223.6 69.3h0M231.9 53.7h0M229.0 65.3h0M223.7 58.6h0M222.1 60.6h0M221.6 62.1h0M224.9 53.3h0M230.1 61.7h0M238.6 61.2h0M230.1 54.9h0M227.4 64.8h0M221.8 65.6h0M222.1 55.7h0M225.0 59.2h0M232.9 61.7h0M224.7 61.2h0M229.2 65.0h0M222.2 64.5h0M225.4 65.2h0M227.4 56.7h0M225.5 61.8h0M229.0 60.0h0M226.5 60.0h0M221.2 59.6h0M229.6 65.0h0M227.3 62.4h0M228.5 58.2h0M222.4 63.8h0M222.2 52.3h0M226.8 70.2h0M222.9 67.2h0M231.6 63.3h0M225.1 53.9h0M220.2 59.8h0M222.4 63.8h0M229.6 54.4h0M230.9 55.5h0M223.4 58.1h0M230.8 57.2h0M235.7 58.5h0M222.0 68.6h0M226.1 60.2h0M224.8 63.7h0M226.0 53.4h0M234.3 55.4h0M225.9 64.3h0M228.8 64.1h0M224.3 55.4h0M232.1 64.0h0M227.0 62.9h0M230.9 58.1h0M221.9 63.2h0M221.9 57.5h0M225.3 53.3h0M237.0 56.7h0M227.5 60.8h0M223.7 54.1h0M230.9 59.5h0M234.3 61.1h0M228.2 58.3h0M225.1 54.3h0M225.3 59.9h0M227.1 67.5h0M228.6 54.2h0M220.5 51.7h0M233.1 61.8h0M228.7 60.8h0M223.8 54.5h0M219.4 62.5h0M223.0 67.0h0M221.7 61.7h0M229.6 61.6h0M229.0 56.4h0M241.4 59.0h0M225.6 58.2h0M221.1 55.0h0M235.0 59.1h0M220.1 53.2h0M221.0 52.5h0M226.4 58.3h0M221.8 57.2h0M223.2 63.3h0M229.7 57.6h0M228.6 62.4h0M226.1 61.0h0M222.6 58.5h0M229.7 64.1h0M231.4 58.8h0M223.6 61.1h0M228.9 65.6h0M224.5 65.4h0M222.2 66.5h0M234.1 56.1h0M226.1 64.6h0M228.0 66.3h0M224.3 65.8h0M227.5 54.9h0M225.7 61.2h0M221.7 70.7h0M221.6 60.7h0M225.0 70.8h0M238.7 56.1h0M222.7 53.7h0M230.7 61.6h0M225.9 65.8h0M223.9 57.4h0M226.1 62.7h0M219.9 67.5h0M231.0 57.4h0M226.1 60.9h0M231.6 65.2h0M222.7 62.5h0M226.1 65.0h0M227.2 63.8h0M225.2 63.4h0M222.5 66.2h0M222.7 53.5h0M232.7 62.4h0M233.0 55.1h0M230.8 62.5h0M227.7 55.0h0M225.3 69.1h0M226.4 68.5h0M219.7 69.5h0M225.3 64.3h0M221.4 51.4h0M230.6 55.9h0M223.6 68.6h0M230.6 57.1h0M228.7 53.7h0M223.7 55.0h0M224.7 68.4h0M224.4 70.6h0M232.4 63.1h0M221.0 60.8h0M234.2 55.5h0M235.1 61.2h0M225.1 68.5h0M232.4 55.4h0M221.2 59.8h0M229.5 54.8h0M220.0 60.1h0M227.2 55.3h0M225.5 63.1h0M229.5 62.4h0M233.1 60.8h0M229.3 55.0h0M227.9 63.2h0M222.2 60.2h0M219.6 61.1h0M219.1 68.3h0M231.4 64.3h0M227.7 58.8h0M228.5 55.0h0M228.4 68.4h0M226.6 64.3h0M219.2 58.0h0M226.8 68.2h0M234.7 62.9h0M224.1 67.2h0M224.4 66.6h0M238.1 55.8h0M225.2 54.1h0M228.6 58.7h0M225.4 64.5h0M223.4 56.2h0M227.8 61.0h0M235.3 60.9h0M234.5 59.9h0M223.5 65.2h0M235.2 57.9h0M220.5 68.4h0M231.9 61.4h0M236.1 61.2h0M233.8 57.6h0M237.5 61.2h0M233.3 59.1h0M222.2 56.0h0M220.7 52.7h0M224.2 52.2h0M220.4 63.1h0M222.6 63.1h0M228.7 64.3h0M222.7 54.6h0M220.6 56.3h0M222.4 70.2h0M221.0 63.6h0M226.9 61.2h0M222.0 68.7h0M231.8 61.9h0M231.9 61.8h0M230.2 58.1h0M224.7 70.6h0M235.7 59.4h0M232.6 59.7h0M222.8 56.5h0M226.8 60.9h0M228.3 65.7h0M228.4 56.1h0M221.0 64.1h0M221.7 60.9h0M225.6 54.2h0M224.4 58.9h0M228.0 62.3h0M223.9 66.8h0M229.9 60.2h0M238.0 56.2h0M226.4 62.1h0M228.6 55.7h0M232.7 57.9h0M235.5 60.6h0M219.8 51.9h0M232.2 55.7h0M230.7 55.0h0M226.7 58.0h0M231.7 57.3h0M223.1 65.3h0M223.2 58.4h0M226.5 67.5h0M221.4 62.6h0M230.4 57.6h0M223.2 67.2h0M225.0 69.1h0M229.2 54.7h0M227.0 64.8h0M222.6 67.3h0M234.4 62.2h0M228.7 59.0h0M221.5 52.0h0M225.8 52.8h0M221.0 53.8h0M220.4 52.6h0M225.8 56.5h0M224.2 66.6h0M233.8 63.6h0M225.3 54.8h0M228.1 67.4h0M228.3 57.4h0M223.5 59.9h0M229.2 61.4h0M221.7 53.0h0M227.4 64.1h0M224.6 70.7h0M242.3 55.6h0M228.8 57.4h0M235.0 61.4h0M219.7 70.1h0M230.3 64.1h0M223.3 66.5h0M231.1 58.9h0M233.3 58.8h0M235.2 59.4h0M226.1 56.0h0M231.0 64.4h0M218.7 65.7h0M227.7 57.4h0M223.2 57.9h0M237.6 59.2h0M225.8 68.2h0M222.9 64.5h0M230.5 55.8h0M219.9 53.9h0M239.2 56.6h0M224.5 58.6h0M223.8 57.9h0M229.2 62.3h0M220.4 63.6h0M221.3 57.3h0M219.2 61.4h0M224.8 55.0h0M223.7 56.6h0M223.9 71.6h0M222.1 64.5h0M233.0 54.9h0M227.9 61.0h0M225.7 63.0h0M226.2 54.5h0M227.1 54.0h0M226.8 66.7h0M228.4 63.6h0M226.4 68.1h0M224.2 61.9h0M232.3 56.9h0M226.6 56.5h0M230.9 53.5h0M236.6 56.5h0M231.2 53.5h0M228.3 63.8h0M219.8 62.4h0M220.8 68.0h0M226.8 59.7h0M223.7 67.0h0M220.4 62.0h0M222.6 65.3h0M219.8 67.4h0M228.2 57.8h0M222.8 66.1h0M231.2 56.6h0M228.5 66.1h0M224.4 68.6h0M227.3 60.1h0M229.8 61.6h0M221.1 51.5h0M224.9 66.6h0M227.9 66.7h0M227.6 61.1h0M223.8 58.7h0M222.4 51.7h0M231.4 55.2h0M232.8 57.4h0M232.1 64.7h0M225.1 65.3h0M228.2 58.7h0M227.3 54.1h0M226.7 57.7h0M236.3 59.1h0M229.5 59.2h0M222.7 55.2h0M220.9 68.8h0M220.1 66.2h0M221.4 54.3h0M220.3 52.5h0M234.9 56.3h0M231.4 64.3h0M220.8 58.8h0M234.5 54.7h0M229.1 60.2h0M229.5 59.6h0M222.4 54.2h0M222.8 57.5h0M225.7 53.6h0M225.1 58.8h0M223.9 59.7h0M221.9 67.7h0M228.8 55.8h0M221.3 69.1h0M230.7 58.9h0M231.9 64.1h0M229.3 59.1h0M235.6 58.1h0M229.4 60.7h0M226.6 64.4h0M224.0 63.5h0M229.1 65.1h0M224.3 60.7h0M223.4 51.8h0M225.8 59.4h0M229.7 57.6h0M226.2 59.4h0M223.0 66.0h0M223.5 66.8h0M226.6 56.9h0M229.2 55.1h0M235.3 61.5h0M230.7 57.3h0M236.1 61.2h0M223.3 55.4h0M226.5 56.4h0M231.9 62.5h0M220.1 68.0h0M223.7 65.9h0M218.9 56.9h0M224.8 53.4h0M220.4 66.5h0M225.3 68.4h0M220.7 63.8h0M233.4 60.7h0M222.5 64.2h0M220.3 69.8h0M223.6 59.4h0M222.0 68.3h0M229.5 56.1h0M228.6 58.0h0M226.1 57.8h0M232.6 58.3h0M228.4 60.2h0M231.5 55.6h0M220.4 63.1h0M235.6 56.9h0M237.0 57.5h0M230.1 53.0h0M230.0 64.4h0M221.0 54.9h0M222.9 65.5h0M233.7 61.8h0M236.9 59.4h0M222.7 67.1h0M228.7 66.7h0M224.0 65.9h0M222.5 57.5h0M227.2 65.7h0M221.3 67.7h0M223.8 61.4h0M224.9 60.8h0M234.0 59.5h0M222.7 71.0h0M237.8 59.8h0M225.1 62.8h0M228.7 54.5h0M223.5 61.8h0M226.9 68.0h0M235.5 62.4h0M224.8 64.1h0M229.2 67.4h0M236.3 58.5h0M228.3 64.3h0M220.6 56.8h0M226.8 59.1h0M223.6 57.0h0M221.8 68.7h0M236.7 61.8h0M224.0 62.6h0M226.1 57.0h0M222.7 55.3h0M225.6 65.1h0M228.2 62.7h0M224.6 63.6h0M223.8 66.1h0M225.0 55.7h0M224.3 65.1h0M221.4 70.1h0M228.7 54.3h0M221.5 55.8h0M228.4 60.9h0M220.3 64.2h0M225.8 53.0h0M224.6 67.4h0M225.6 55.0h0M231.9 56.4h0M224.7 54.7h0M223.6 64.6h0M231.0 57.6h0M223.2 67.2h0M226.9 64.2h0M222.3 59.5h0M220.9 60.4h0M225.2 53.8h0M219.9 58.3h0M224.9 61.5h0M225.7 56.8h0M223.7 67.6h0M226.0 61.8h0M227.0 59.7h0M228.7 62.6h0M225.0 63.7h0M219.1 53.5h0M225.5 61.0h0M228.5 55.4h0M222.1 68.1h0M222.7 56.8h0M218.9 69.2h0M221.7 61.6h0M222.7 59.4h0M222.8 68.8h0M221.5 66.8h0M224.8 58.5h0M230.1 56.2h0M229.6 53.8h0M224.3 66.7h0M225.9 54.4h0M226.6 61.4h0M231.3 57.5h0M228.4 61.6h0M219.4 53.2h0M220.6 69.8h0M230.0 57.6h0M221.9 65.7h0M229.9 56.0h0M220.9 64.9h0M223.9 57.3h0M232.0 58.5h0M224.8 62.3h0M225.9 62.8h0M221.6 63.2h0M222.0 65.6h0M221.1 63.9h0M226.3 53.1h0M228.2 56.9h0M220.3 55.2h0M224.0 67.0h0M223.4 55.6h0M221.1 60.2h0M232.1 58.3h0M226.1 64.4h0M223.7 59.5h0M221.7 69.3h0M230.6 57.0h0M232.9 57.7h0M228.5 54.5h0M226.0 55.7h0M231.4 56.1h0M223.6 67.3h0M222.7 66.3h0M231.5 60.3h0M222.2 65.2h0M227.1 60.9h0M224.9 66.6h0M220.7 60.1h0M225.3 60.5h0M220.9 53.0h0M222.0 58.5h0M219.3 61.0h0M221.3 67.1h0M220.1 58.1h0M224.0 56.8h0M220.1 61.9h0M230.0 56.5h0M222.1 64.6h0M220.4 66.9h0M226.7 56.2h0M228.6 60.6h0M219.5 63.0h0M230.4 55.6h0M230.2 56.4h0M226.7 65.3h0M222.1 62.7h0M220.4 61.6h0M223.6 59.7h0M222.8 60.2h0M228.4 55.6h0M226.1 53.3h0M226.7 63.4h0M229.0 61.6h0M220.7 66.7h0M227.6 62.7h0M225.1 61.4h0M220.3 68.6h0M224.4 65.3h0M219.9 62.0h0M230.0 55.9h0M228.3 55.5h0M226.9 61.0h0M220.7 69.7h0M228.1 57.4h0M223.6 61.5h0M224.0 58.7h0M229.2 60.2h0M220.8 52.6h0M221.7 59.5h0M227.6 55.7h0M220.4 55.9h0M226.5 56.2h0M222.9 60.9h0M223.4 60.5h0M231.6 55.5h0M228.3 59.7h0M220.8 60.4h0M221.6 55.7h0M232.8 56.0h0M225.6 58.0h0M233.2 58.1h0M219.3 65.1h0M225.2 67.1h0M219.7 52.9h0M227.8 56.7h0M226.1 57.7h0M224.2 64.1h0M224.2 54.5h0M224.3 57.8h0M224.5 62.2h0M225.5 62.4h0M228.8 63.4h0M228.2 56.8h0M223.0 63.3h0M227.6 63.8h0M222.7 65.3h0M222.8 67.9h0M226.9 59.7h0M225.8 54.8h0M222.6 59.8h0M226.3 57.1h0M232.0 55.2h0M220.0 66.4h0M220.8 59.0h0M221.4 63.3h0M221.6 51.8h0M226.8 63.6h0M230.8 58.6h0M229.9 58.2h0M229.3 56.2h0M221.3 64.2h0M229.9 55.7h0M229.2 55.4h0M222.4 54.8h0M231.3 56.4h0M224.7 56.6h0M228.7 55.5h0M220.7 52.5h0M221.9 61.3h0M224.1 57.7h0M222.3 56.9h0M223.5 60.9h0M227.2 57.5h0M225.2 55.8h0M227.0 62.4h0M222.1 66.9h0M226.8 54.3h0M229.5 54.6h0M220.7 59.6h0M222.1 51.8h0M228.6 55.5h0M229.0 53.4h0M220.8 55.6h0M220.6 57.0h0M224.3 61.6h0M230.2 62.6h0M224.2 55.5h0M227.9 54.2h0M223.8 64.4h0M228.0 55.6h0M225.6 54.6h0M232.1 58.0h0M231.4 55.0h0M222.6 66.3h0M222.0 65.2h0M221.0 60.2h0M227.0 60.9h0M219.7 58.7h0M225.2 65.4h0M222.0 60.1h0M220.7 69.5h0M222.3 56.1h0M223.3 64.7h0M226.3 56.7h0M227.5 55.4h0M221.3 60.4h0M226.9 64.8h0M232.0 58.0h0M227.9 58.4h0M222.6 60.3h0M227.8 57.9h0M224.7 53.8h0M219.9 67.7h0M222.3 59.7h0M227.4 64.2h0M230.4 61.2h0M220.9 67.1h0M219.7 51.6h0M220.9 67.2h0M223.2 61.7h0M224.0 62.8h0M220.1 51.3h0M230.3 58.0h0M220.7 52.9h0M228.4 60.0h0M224.8 59.7h0M231.1 58.7h0M222.8 70.0h0M229.9 59.2h0M229.2 59.2h0M223.0 64.5h0M220.7 59.5h0M219.7 50.6h0M223.3 59.1h0M227.3 53.6h0M224.0 67.0h0M219.9 62.0h0M225.8 65.7h0M230.4 57.4h0M225.3 59.6h0M222.1 56.3h0M225.8 56.5h0M222.8 58.2h0M226.1 62.7h0M220.9 51.4h0M229.9 56.6h0M224.9 55.7h0M221.7 54.7h0M224.3 53.7h0M222.1 69.2h0M226.2 64.1h0M230.3 55.4h0M230.5 59.1h0M229.7 55.7h0M220.3 65.4h0M224.5 54.0h0M232.9 58.2h0M223.0 64.6h0M232.3 56.1h0M228.7 61.9h0M225.6 60.4h0M232.1 57.6h0M223.3 63.5h0M228.2 57.0h0M220.2 51.8h0M226.9 58.7h0M223.9 55.9h0M229.6 56.8h0M231.9 56.7h0M225.8 55.6h0M228.0 62.1h0M228.8 53.7h0M226.2 60.0h0M221.1 56.9h0M220.7 62.4h0M231.4 60.1h0M232.0 59.3h0M222.6 53.1h0M227.5 55.5h0M230.2 59.4h0M231.6 55.8h0M223.3 52.2h0M228.0 56.7h0M227.7 61.4h0M222.7 51.9h0M259.4 56.7h0M261.0 58.2h0M248.0 54.3h0M247.3 57.2h0M244.5 53.6h0M242.7 58.4h0M239.0 63.3h0M235.6 65.2h0M233.0 67.3h0M237.5 60.7h0M240.5 56.7h0M243.5 55.3h0M229.5 70.0h0M245.5 57.5h0M236.5 52.6h0M241.6 53.4h0M238.6 51.8h0M226.7 71.4h0M223.6 73.8h0M203.1 101.5h0M208.1 102.2h0M203.1 110.7h0M207.2 107.0h0M206.4 97.9h0M201.1 109.3h0M207.9 103.1h0M208.0 108.6h0M210.1 96.9h0M207.0 100.3h0M210.4 104.6h0M208.2 96.2h0M207.7 107.5h0M210.1 96.9h0M199.0 106.1h0M204.7 98.4h0M210.6 108.6h0M203.0 106.1h0M208.3 106.2h0M206.5 95.8h0M210.9 106.8h0M210.1 96.8h0M200.1 101.4h0M208.0 98.3h0M209.0 98.7h0M204.4 96.8h0M206.4 99.0h0M209.6 100.5h0M202.3 108.4h0M209.0 98.8h0M204.0 106.1h0M205.5 96.4h0M208.4 108.0h0M208.9 106.7h0M209.3 105.1h0M208.5 107.4h0M202.4 98.6h0M211.0 112.8h0M206.2 105.8h0M210.0 107.9h0M208.0 104.8h0M209.2 111.0h0M202.4 108.2h0M209.1 111.5h0M204.5 111.6h0M209.3 102.3h0M209.3 96.6h0M203.9 108.3h0M211.4 99.2h0M202.1 110.8h0M210.3 99.8h0M209.8 109.2h0M210.5 98.1h0M209.4 99.2h0M207.5 107.1h0M206.3 108.2h0M210.3 103.7h0M207.4 94.1h0M207.3 94.2h0M205.0 109.7h0M206.3 97.6h0M208.3 101.0h0M210.2 93.5h0M208.8 112.1h0M206.4 112.1h0M209.2 100.9h0M203.0 109.2h0M204.8 99.3h0M209.9 100.5h0M211.5 96.5h0M201.6 98.8h0M211.5 99.4h0M205.5 108.7h0M205.8 99.0h0M202.3 103.1h0M210.2 110.0h0M200.2 104.4h0M204.6 104.8h0M208.5 97.1h0M208.4 101.2h0M209.3 106.3h0M209.1 104.4h0M202.2 106.4h0M205.5 105.8h0M201.9 109.3h0M207.9 111.7h0M200.2 104.6h0M212.0 97.5h0M207.0 104.0h0M207.0 101.0h0M200.2 106.4h0M205.5 105.1h0M206.0 99.6h0M210.3 102.9h0M204.9 104.2h0M205.9 112.2h0M210.4 95.4h0M210.0 113.2h0M208.7 102.3h0M206.4 108.9h0M210.3 106.9h0M211.0 104.8h0M209.7 104.9h0M209.0 102.9h0M204.9 109.1h0M199.1 105.3h0M201.9 98.9h0M199.5 108.9h0M208.4 104.6h0M209.6 113.7h0M206.4 98.7h0M202.2 107.6h0M208.6 113.2h0M202.2 110.8h0M209.0 105.5h0M202.3 101.5h0M208.2 106.0h0M206.1 107.5h0M210.7 110.5h0M208.7 94.6h0M200.9 100.3h0M205.9 108.2h0M207.1 99.1h0M208.3 97.0h0M201.1 107.0h0M208.9 100.3h0M209.5 100.7h0M211.3 112.3h0M206.7 94.6h0M209.9 101.6h0M200.9 101.0h0M210.7 108.4h0M210.2 102.9h0M210.1 97.7h0M209.4 106.6h0M201.3 98.7h0M209.5 112.5h0M207.4 99.3h0M210.4 111.7h0M206.9 105.6h0M211.6 100.6h0M205.0 108.6h0M208.0 105.8h0M209.6 105.9h0M202.9 109.0h0M205.9 103.1h0M207.0 101.1h0M205.7 110.4h0M209.0 102.0h0M197.9 106.5h0M206.0 106.4h0M204.3 96.0h0M210.2 95.3h0M210.0 101.0h0M209.4 100.4h0M207.8 110.6h0M208.0 110.2h0M206.3 102.4h0M199.1 107.9h0M202.5 99.7h0M204.2 97.6h0M208.7 107.0h0M210.6 102.5h0M205.8 98.3h0M209.9 104.9h0M209.4 104.2h0M206.7 107.4h0M203.2 99.6h0M206.4 95.2h0M206.1 112.5h0M202.4 97.7h0M209.4 100.0h0M208.8 108.7h0M208.0 109.3h0M206.9 99.6h0M210.4 103.0h0M202.2 109.8h0M210.4 113.7h0M205.8 110.2h0M209.3 101.7h0M208.5 93.6h0M206.8 108.6h0M202.5 107.6h0M207.9 105.3h0M206.5 109.1h0M208.4 107.4h0M204.2 106.9h0M207.9 104.5h0M205.4 106.2h0M209.0 111.6h0M201.8 107.9h0M206.9 96.2h0M207.9 94.3h0M206.4 101.3h0M203.8 102.6h0M209.8 104.2h0M207.7 100.7h0M207.7 108.5h0M208.0 101.3h0M208.4 102.3h0M202.8 102.5h0M205.2 103.9h0M208.9 99.1h0M202.1 100.4h0M204.7 109.1h0M211.0 94.1h0M205.6 103.9h0M202.9 110.3h0M203.1 102.4h0M209.4 106.3h0M206.3 96.5h0M208.4 95.9h0M206.6 113.7h0M205.2 110.5h0M208.2 99.2h0M209.6 98.9h0M206.1 96.6h0M208.8 108.1h0M209.7 110.0h0M208.3 113.0h0M204.0 103.8h0M206.8 106.6h0M210.8 105.4h0M203.3 101.4h0M207.1 95.6h0M204.5 110.4h0M211.0 111.6h0M205.7 97.9h0M207.7 103.5h0M206.6 96.9h0M204.5 105.6h0M209.7 103.4h0M203.2 110.2h0M205.3 109.8h0M203.0 101.3h0M209.2 108.1h0M208.5 106.7h0M203.3 101.2h0M208.4 110.7h0M204.5 101.5h0M203.4 110.4h0M203.8 109.9h0M208.0 105.4h0M206.4 105.5h0M204.0 106.5h0M205.0 105.2h0M201.4 98.7h0M199.1 104.4h0M196.4 101.2h0M201.6 109.8h0M206.1 97.1h0M210.3 96.8h0M204.0 95.3h0M207.6 113.0h0M205.7 102.0h0M211.0 97.8h0M199.6 103.6h0M203.2 104.3h0M208.9 103.5h0M210.9 105.1h0M206.9 103.6h0M209.4 105.1h0M204.6 110.5h0M205.4 104.4h0M210.5 110.1h0M207.9 105.0h0M208.6 99.3h0M206.6 112.5h0M209.0 97.5h0M206.5 112.4h0M208.8 110.1h0M206.1 108.4h0M203.0 110.9h0M204.1 110.3h0M209.3 102.2h0M206.7 113.2h0M206.8 102.0h0M197.6 103.0h0M206.5 105.7h0M208.6 109.1h0M210.2 96.5h0M209.3 98.4h0M199.8 103.6h0M201.5 110.7h0M207.4 111.3h0M202.7 107.1h0M205.6 105.7h0M208.5 98.8h0M209.2 111.1h0M210.4 111.7h0M207.7 95.1h0M206.3 109.4h0M208.5 113.6h0M205.1 109.1h0M208.4 101.3h0M205.7 111.1h0M210.7 112.3h0M209.6 107.8h0M207.7 105.4h0M205.0 110.1h0M208.0 110.4h0M206.6 113.6h0M206.8 99.6h0M206.0 103.7h0M206.1 101.4h0M200.7 100.5h0M208.7 111.6h0M206.7 98.7h0M207.4 111.9h0M210.8 107.2h0M208.8 99.8h0M210.7 98.1h0M209.8 110.2h0M206.5 102.4h0M206.3 98.7h0M208.6 100.2h0M211.3 113.1h0M207.2 107.5h0M209.7 112.4h0M210.7 108.8h0M209.6 98.8h0M210.1 99.1h0M209.4 108.7h0M209.3 110.7h0M207.9 96.0h0M208.4 100.3h0M210.0 100.3h0M209.8 107.8h0M206.7 98.4h0M206.8 103.4h0M207.5 103.5h0M208.6 103.4h0M206.7 103.9h0M212.2 102.3h0M207.7 101.6h0M205.4 107.9h0M210.9 112.6h0M210.6 110.9h0M206.5 99.0h0M208.4 110.7h0M206.9 108.3h0M208.9 103.7h0M211.6 102.7h0M208.4 106.1h0M206.9 107.4h0M206.3 104.0h0M209.1 104.7h0M211.2 98.8h0M207.4 108.7h0M207.9 109.9h0M210.2 106.4h0M205.5 104.0h0M210.7 102.2h0M206.5 106.8h0M206.5 101.3h0M209.2 110.5h0M208.7 112.1h0M211.1 107.8h0M210.7 105.0h0M206.9 103.8h0M209.1 106.7h0M211.2 102.9h0M210.8 102.9h0M210.7 94.3h0M209.4 99.3h0M208.8 100.0h0M208.9 110.8h0M208.8 95.6h0M209.5 95.6h0M206.5 106.2h0M208.0 102.3h0M210.7 101.8h0M209.9 110.0h0M209.9 104.1h0M210.9 102.7h0M208.6 108.8h0M210.1 100.8h0M208.6 99.3h0M209.2 107.0h0M209.9 95.3h0M210.6 96.7h0M210.0 98.4h0M207.9 99.3h0M209.7 105.6h0M209.5 106.0h0M210.5 112.5h0M207.3 109.7h0M210.3 102.3h0M210.9 110.3h0M209.8 113.1h0M206.9 102.8h0M207.0 108.6h0M206.4 109.1h0M211.0 106.1h0M208.7 106.7h0M208.2 104.9h0M207.9 99.3h0M209.3 106.8h0M210.5 96.6h0M207.4 107.8h0M207.4 102.4h0M210.7 103.4h0M207.7 106.6h0M209.0 108.7h0M210.5 101.1h0M208.9 112.2h0M207.5 104.3h0M208.1 99.4h0M207.5 110.7h0M206.7 104.3h0M209.9 99.9h0M211.1 103.0h0M209.8 104.0h0M206.6 101.7h0M211.2 109.0h0M207.3 109.3h0M207.8 107.5h0M209.9 100.1h0M207.7 105.5h0M206.0 107.7h0M206.7 108.2h0M211.6 100.0h0M209.3 108.0h0M210.8 98.9h0M208.2 105.8h0M209.7 97.9h0M209.9 106.0h0M208.7 111.3h0M209.4 97.9h0M211.1 111.8h0M211.2 96.4h0M209.6 110.6h0M207.5 106.4h0M207.1 105.2h0M206.1 105.0h0M208.5 98.3h0M206.8 107.7h0M208.4 99.8h0M207.6 110.8h0M211.1 102.7h0M207.2 99.2h0M209.0 101.3h0M209.2 104.0h0M209.8 113.2h0M207.2 101.3h0M206.9 97.7h0M209.3 106.3h0M211.5 109.3h0M190.0 99.7h0M195.5 98.2h0M194.3 98.4h0M180.7 104.6h0M179.7 106.9h0M204.3 115.7h0M198.0 105.3h0M199.6 108.0h0M201.8 111.6h0M195.4 103.4h0M208.2 116.2h0" class="p"/>
<path d="M216.9 37.0L216.6 44.0L216.5 51.0" fill="none" stroke="#fff" stroke-width="0.45"/></g>
<rect x="176.8" y="1.8" width="88.2" height="119.0" fill="none" stroke="#7a7a7a" stroke-width=".9"/>
<path d="M194.5 121.2v2.6M218.1 121.2v2.6M241.8 121.2v2.6M176.4 5.6h-2.6M176.4 36.1h-2.6M176.4 66.6h-2.6M176.4 96.8h-2.6" stroke="#333" stroke-width=".9" fill="none"/>
<text class="t" x="194.5" y="132.7" text-anchor="middle">−2</text>
<text class="t" x="218.1" y="132.7" text-anchor="middle">0</text>
<text class="t" x="241.8" y="132.7" text-anchor="middle">2</text>
<text class="t" x="171.4" y="8.6" text-anchor="end">0.25</text>
<text class="t" x="171.4" y="39.1" text-anchor="end">0.00</text>
<text class="t" x="171.4" y="69.6" text-anchor="end">−0.25</text>
<text class="t" x="171.4" y="99.8" text-anchor="end">−0.50</text>
<text class="a" x="220.1" y="145.6" text-anchor="middle">ALT FPC3 score</text>
<text class="a" transform="translate(145.4 62.8) rotate(-90)" text-anchor="middle">SHAP value</text></g>
<g><clipPath id="c2"><rect x="315.3" y="1.8" width="88.5" height="119.0"/></clipPath>
<path d="M316.3 1.8V120.8M337.3 1.8V120.8M358.4 1.8V120.8M379.5 1.8V120.8M400.5 1.8V120.8M315.3 9.7H403.8M315.3 35.3H403.8M315.3 60.8H403.8M315.3 86.4H403.8M315.3 112.0H403.8" stroke="#f1f1f1" stroke-width=".5" fill="none"/>
<path d="M326.8 1.8V120.8M347.9 1.8V120.8M368.9 1.8V120.8M390.0 1.8V120.8M315.3 22.5H403.8M315.3 48.0H403.8M315.3 73.4H403.8M315.3 99.2H403.8" stroke="#e6e6e6" stroke-width=".9" fill="none"/>
<g clip-path="url(#c2)"><path d="M326.1 5.9L325.5 12.0L325.6 25.0L327.6 34.0L328.8 36.0L329.9 36.0L329.4 34.0L328.8 25.0L328.8 12.0L328.3 5.9ZM328.9 34.0L328.8 40.0L329.2 49.0L330.8 56.0L332.4 60.0L335.6 60.0L333.9 56.0L332.4 49.0L331.6 40.0L330.8 34.0ZM333.2 59.3L335.5 64.7L339.3 69.8L349.1 71.4L352.0 71.8L351.7 63.2L350.7 61.6L341.0 61.7L341.0 61.7L340.9 61.7L335.5 60.9L335.5 60.9L335.4 60.9L335.3 60.8L335.3 60.8L335.2 60.8ZM351.1 62.0L351.1 75.0L350.8 92.0L350.4 104.0L352.3 104.0L352.5 92.0L352.6 75.0L352.6 62.0ZM350.1 92.6L350.5 107.9L352.6 111.8L355.7 113.9L358.4 113.5L361.3 111.6L363.9 107.3L367.1 101.5L369.9 94.2L370.1 89.1L368.3 84.7L366.1 83.4L364.7 86.1L363.7 91.6L363.7 91.6L363.7 91.6L363.7 91.6L363.7 91.7L363.6 91.7L363.6 91.7L363.6 91.7L363.6 91.7L363.6 91.8L360.2 93.8L360.1 93.8L360.1 93.8L360.1 93.8L356.1 94.9L356.1 94.9L356.0 94.9L356.0 94.9L356.0 94.9L352.8 94.6L352.7 94.6L352.7 94.6L352.7 94.6L352.7 94.6L352.6 94.6L352.6 94.5Z" fill="#000" stroke="#000" stroke-width=".6" stroke-linejoin="round"/>
<path d="M326.2 9.3h0M326.0 25.8h0M327.4 18.7h0M328.7 15.9h0M328.6 16.0h0M328.1 19.4h0M325.9 21.9h0M327.8 29.6h0M328.0 23.7h0M327.5 7.5h0M327.7 19.2h0M326.7 27.0h0M328.2 17.2h0M327.7 7.7h0M328.2 34.0h0M327.9 21.6h0M326.8 11.8h0M328.9 33.7h0M327.8 8.0h0M327.9 8.5h0M326.9 10.3h0M327.6 12.1h0M328.5 23.7h0M328.7 33.5h0M327.1 17.0h0M329.5 33.0h0M326.0 14.3h0M328.1 15.8h0M326.8 22.2h0M328.0 30.7h0M329.3 26.3h0M327.0 17.5h0M327.1 14.9h0M326.8 16.4h0M328.4 31.8h0M325.0 15.5h0M328.8 11.5h0M328.8 14.2h0M327.4 17.9h0M328.3 34.1h0M328.0 20.3h0M327.4 31.9h0M328.5 32.4h0M328.5 23.5h0M325.4 27.6h0M327.6 10.4h0M327.0 18.5h0M327.2 9.6h0M327.3 9.6h0M325.8 20.6h0M328.5 30.6h0M327.8 9.0h0M326.5 7.5h0M327.9 30.7h0M328.7 19.5h0M326.4 10.1h0M328.5 32.4h0M327.3 22.4h0M329.3 28.2h0M330.0 33.0h0M328.5 10.3h0M326.6 11.0h0M328.2 33.6h0M326.2 15.8h0M327.9 23.5h0M328.0 22.4h0M328.1 12.8h0M326.9 15.1h0M326.2 9.7h0M327.6 21.3h0M325.3 24.7h0M327.6 7.0h0M328.1 30.3h0M325.7 13.9h0M327.7 21.8h0M326.7 8.4h0M327.9 16.1h0M327.1 9.2h0M328.4 23.5h0M329.0 15.8h0M328.6 33.0h0M326.9 10.3h0M328.0 22.2h0M328.5 34.1h0M327.1 14.8h0M329.4 31.6h0M329.3 35.1h0M326.0 8.9h0M326.8 22.1h0M327.4 18.6h0M329.0 20.4h0M327.3 30.0h0M327.1 29.5h0M328.0 14.0h0M329.2 23.2h0M326.9 34.2h0M327.6 13.2h0M327.1 12.1h0M327.9 22.7h0M326.4 18.1h0M326.2 14.8h0M329.3 28.9h0M327.5 34.0h0M327.6 13.7h0M327.5 10.1h0M326.4 19.6h0M328.8 21.9h0M328.9 32.0h0M329.1 34.1h0M326.3 22.0h0M327.1 25.3h0M326.6 22.7h0M326.7 6.6h0M328.6 22.9h0M327.5 26.4h0M328.8 16.6h0M327.5 24.3h0M327.5 18.7h0M328.5 33.0h0M326.4 20.3h0M328.5 22.8h0M328.0 11.5h0M326.6 27.5h0M328.4 19.9h0M328.1 10.9h0M327.1 21.3h0M326.1 12.7h0M327.1 16.5h0M326.6 14.6h0M327.8 21.3h0M327.9 23.0h0M328.1 29.5h0M326.2 21.3h0M327.7 31.9h0M328.9 30.6h0M327.3 7.8h0M326.8 16.5h0M328.6 9.4h0M328.9 31.6h0M327.0 7.7h0M326.8 13.5h0M327.6 23.4h0M325.8 10.0h0M327.8 33.7h0M327.8 14.3h0M326.9 9.6h0M327.9 10.1h0M326.1 18.4h0M326.5 20.4h0M326.7 24.1h0M326.1 9.4h0M326.9 11.5h0M326.8 15.5h0M325.5 8.4h0M326.8 9.0h0M327.0 16.4h0M326.7 17.3h0M329.3 27.9h0M327.6 34.7h0M328.6 11.0h0M327.6 28.1h0M328.7 7.6h0M328.9 11.9h0M327.9 8.3h0M320.0 9.0h0M322.8 14.3h0M323.1 21.3h0M319.8 8.4h0M319.7 17.2h0M321.0 17.7h0M324.1 26.5h0M320.0 12.0h0M325.0 8.4h0M323.8 25.4h0M322.6 18.2h0M320.7 7.7h0M322.3 22.6h0M321.3 9.0h0M321.5 7.6h0M322.5 10.1h0M321.0 16.0h0M321.4 18.2h0M322.8 10.0h0M322.5 13.3h0M323.3 21.3h0M324.0 17.3h0M321.4 9.2h0M322.4 16.5h0M319.8 12.6h0M321.3 16.3h0M322.8 14.9h0M325.0 9.0h0M322.6 24.8h0M322.0 22.4h0M324.1 11.4h0M320.5 18.6h0M322.2 22.3h0M323.1 17.7h0M318.8 8.9h0M321.2 13.7h0M320.6 20.3h0M321.5 16.4h0M324.8 21.8h0M320.4 10.2h0M321.0 17.1h0M323.1 9.7h0M319.8 8.2h0M320.6 18.5h0M323.8 24.4h0M320.0 21.9h0M318.6 8.3h0M319.4 21.3h0M320.5 14.3h0M321.6 6.8h0M325.6 28.6h0M320.3 10.5h0M322.0 19.5h0M324.0 5.6h0M326.0 5.0h0M329.6 5.3h0M331.3 56.6h0M330.8 46.7h0M331.2 50.7h0M328.9 41.9h0M330.5 52.2h0M332.8 57.3h0M330.8 44.0h0M332.7 55.0h0M334.3 58.5h0M330.9 49.7h0M332.0 44.5h0M330.4 43.6h0M329.6 36.1h0M329.1 43.8h0M331.5 42.9h0M330.1 42.8h0M330.8 44.5h0M330.4 40.9h0M332.6 54.1h0M332.1 47.1h0M331.9 53.4h0M332.0 37.3h0M333.3 56.6h0M328.9 40.4h0M330.1 41.9h0M331.9 51.6h0M330.9 54.6h0M332.8 51.2h0M331.9 48.2h0M331.0 40.8h0M329.1 37.8h0M330.9 41.5h0M331.2 39.8h0M331.1 48.1h0M330.2 52.4h0M332.8 51.2h0M329.9 40.8h0M332.1 47.9h0M333.7 57.1h0M332.2 48.6h0M330.5 39.5h0M331.0 54.8h0M330.7 42.1h0M333.6 57.4h0M331.2 53.1h0M329.7 39.0h0M329.9 36.9h0M331.9 42.1h0M331.2 58.0h0M334.5 59.0h0M330.6 48.5h0M331.1 38.3h0M330.2 46.9h0M332.8 56.0h0M331.0 48.8h0M331.2 36.6h0M332.4 47.9h0M333.6 59.1h0M331.0 36.8h0M329.4 41.1h0M331.5 54.9h0M332.2 52.6h0M332.2 57.7h0M329.8 38.0h0M330.7 47.4h0M329.7 48.3h0M329.6 49.1h0M330.5 38.3h0M331.2 51.1h0M331.9 58.1h0M330.7 42.7h0M334.1 58.0h0M330.4 47.7h0M331.1 54.0h0M330.7 52.7h0M332.6 55.0h0M331.6 56.3h0M332.4 47.3h0M331.0 40.5h0M329.7 41.6h0M329.4 38.9h0M331.1 35.4h0M334.6 58.6h0M332.9 50.9h0M331.0 41.6h0M329.7 43.6h0M329.7 39.6h0M332.3 58.2h0M333.9 57.8h0M331.7 44.0h0M333.8 57.5h0M330.1 37.5h0M332.5 52.1h0M330.7 41.0h0M332.3 57.2h0M329.5 37.1h0M332.2 44.1h0M331.5 53.1h0M330.1 39.1h0M330.3 51.1h0M331.9 52.1h0M331.9 56.1h0M333.3 58.8h0M330.9 38.4h0M331.5 39.3h0M331.7 42.9h0M329.4 47.8h0M330.7 55.0h0M331.8 56.3h0M334.0 58.1h0M330.1 41.3h0M330.6 47.1h0M332.9 59.2h0M330.3 48.1h0M333.1 53.2h0M332.4 54.9h0M330.2 39.9h0M330.8 50.9h0M330.8 42.9h0M331.3 47.2h0M333.3 58.7h0M330.2 42.7h0M333.4 56.4h0M330.3 50.9h0M329.4 34.7h0M328.9 38.3h0M329.6 47.0h0M331.5 51.6h0M333.3 56.3h0M330.1 44.3h0M330.5 45.4h0M333.4 57.7h0M329.9 37.3h0M332.3 48.7h0M331.1 53.9h0M329.1 42.0h0M333.4 56.4h0M332.2 51.1h0M328.8 40.5h0M331.7 52.1h0M332.6 50.0h0M330.2 36.3h0M331.4 40.9h0M330.0 37.3h0M329.6 38.8h0M333.0 53.7h0M332.0 45.0h0M329.1 38.8h0M330.3 50.4h0M329.7 37.1h0M336.6 61.6h0M350.6 65.1h0M351.3 63.2h0M342.1 68.1h0M345.5 70.6h0M341.8 64.4h0M343.4 68.2h0M337.7 63.7h0M342.8 62.5h0M345.2 69.5h0M337.9 63.7h0M338.7 68.1h0M335.5 63.8h0M343.6 66.4h0M339.4 64.4h0M350.8 65.8h0M339.3 61.6h0M344.6 66.6h0M335.5 65.8h0M345.3 67.1h0M337.5 61.8h0M342.9 68.4h0M347.5 67.0h0M349.4 68.1h0M346.6 66.6h0M337.9 65.4h0M348.6 71.4h0M346.3 67.8h0M339.6 63.7h0M349.3 72.3h0M346.1 62.4h0M349.3 65.2h0M333.5 60.0h0M350.7 68.1h0M339.0 65.0h0M350.1 68.9h0M339.4 67.9h0M339.3 61.9h0M347.8 66.5h0M343.7 63.8h0M349.4 65.5h0M346.5 68.5h0M344.7 67.2h0M349.9 67.6h0M344.2 70.7h0M343.7 67.8h0M340.0 64.4h0M346.5 69.4h0M351.4 69.1h0M341.6 68.6h0M338.7 67.7h0M342.7 70.2h0M335.4 61.9h0M344.7 71.0h0M336.1 62.2h0M345.9 69.3h0M348.6 62.0h0M351.5 70.3h0M347.0 65.0h0M341.2 68.8h0M341.3 66.9h0M342.7 62.9h0M344.6 63.1h0M347.0 70.1h0M347.4 63.5h0M347.4 65.2h0M347.4 64.3h0M346.3 66.3h0M349.5 70.8h0M335.7 62.0h0M335.6 63.9h0M347.2 62.2h0M340.0 61.7h0M348.4 69.7h0M335.0 63.1h0M343.1 69.7h0M341.5 66.0h0M345.9 68.7h0M343.0 68.1h0M345.2 67.5h0M350.1 67.7h0M346.5 66.3h0M341.1 70.5h0M344.7 70.7h0M337.4 63.5h0M341.6 68.2h0M339.8 66.0h0M350.2 64.8h0M341.6 69.2h0M350.5 70.9h0M348.9 66.7h0M348.4 65.8h0M351.3 65.4h0M350.1 71.8h0M347.8 70.8h0M350.1 68.0h0M343.6 66.4h0M351.4 71.0h0M347.2 66.6h0M350.3 63.7h0M347.1 63.6h0M341.4 66.5h0M350.3 69.0h0M340.1 65.1h0M350.1 65.1h0M347.3 62.2h0M347.5 66.0h0M335.8 62.4h0M345.3 70.8h0M345.9 64.1h0M343.1 62.1h0M348.3 66.6h0M343.1 68.8h0M343.6 63.6h0M343.2 68.4h0M340.8 63.5h0M349.3 67.5h0M339.5 69.8h0M349.3 66.9h0M339.5 66.4h0M352.2 65.6h0M341.8 68.0h0M345.8 63.6h0M343.3 68.4h0M341.8 66.5h0M337.6 66.3h0M342.3 66.9h0M349.2 62.5h0M350.7 69.1h0M340.0 64.1h0M344.7 65.8h0M347.5 66.3h0M342.5 63.4h0M339.9 64.8h0M338.2 67.2h0M346.8 66.6h0M338.1 62.0h0M346.5 62.6h0M346.3 63.9h0M336.4 65.5h0M347.1 62.2h0M342.0 65.7h0M350.3 69.6h0M350.5 61.7h0M348.7 63.1h0M347.3 68.0h0M344.8 63.8h0M346.0 68.7h0M342.6 66.8h0M347.6 69.3h0M336.0 61.9h0M352.4 71.8h0M339.0 65.0h0M342.4 67.1h0M348.2 61.8h0M344.1 66.7h0M347.3 64.6h0M345.6 62.0h0M349.0 66.9h0M345.3 63.2h0M340.1 64.6h0M345.9 67.1h0M343.8 68.7h0M344.5 63.9h0M335.3 61.7h0M341.2 62.2h0M337.4 61.2h0M348.3 61.6h0M340.5 66.7h0M348.6 66.8h0M334.4 59.9h0M345.1 66.3h0M347.5 63.2h0M337.8 64.6h0M336.1 60.2h0M344.5 68.6h0M346.0 65.6h0M341.3 64.5h0M334.9 64.9h0M342.5 69.7h0M350.4 63.0h0M349.4 66.6h0M336.7 62.4h0M347.2 68.3h0M350.5 69.6h0M345.5 65.6h0M348.5 61.9h0M342.6 66.3h0M350.9 64.0h0M343.7 67.4h0M353.4 72.1h0M348.9 69.6h0M343.9 66.8h0M350.9 68.4h0M345.0 66.4h0M344.1 64.5h0M338.7 65.0h0M336.5 62.8h0M344.1 64.6h0M352.2 70.1h0M341.0 63.1h0M343.1 64.3h0M350.6 66.7h0M335.3 62.8h0M337.8 62.4h0M339.4 65.7h0M351.4 69.5h0M335.4 61.1h0M350.4 67.2h0M344.4 65.5h0M337.7 67.7h0M342.6 68.4h0M341.2 68.6h0M350.1 69.7h0M337.3 63.0h0M343.4 65.2h0M336.4 60.9h0M341.7 64.6h0M337.2 61.0h0M339.7 65.9h0M349.6 70.8h0M351.2 68.8h0M345.8 68.1h0M346.7 65.8h0M341.8 69.5h0M337.2 67.3h0M335.6 62.0h0M348.6 69.5h0M350.4 66.0h0M336.9 61.3h0M350.2 69.3h0M341.8 65.4h0M349.7 69.2h0M345.2 68.0h0M337.0 62.4h0M344.4 68.9h0M349.3 71.6h0M347.6 69.7h0M348.1 65.3h0M351.2 65.4h0M348.6 64.8h0M342.5 67.9h0M340.5 63.8h0M348.1 63.6h0M346.5 65.0h0M339.0 62.9h0M342.1 68.1h0M350.9 62.2h0M351.1 70.5h0M349.2 67.9h0M345.1 63.0h0M335.7 65.3h0M344.4 62.8h0M349.6 68.2h0M352.0 88.7h0M352.1 101.4h0M352.4 92.3h0M352.0 66.6h0M351.3 93.7h0M350.7 90.7h0M352.6 85.3h0M352.4 84.0h0M352.3 77.8h0M351.8 64.6h0M351.5 95.4h0M350.6 99.4h0M351.8 83.8h0M351.9 84.7h0M351.1 100.9h0M352.2 76.5h0M351.6 62.9h0M351.1 72.4h0M351.2 72.9h0M351.2 85.9h0M350.7 74.3h0M351.3 96.0h0M351.9 63.5h0M352.1 101.7h0M351.0 76.3h0M351.9 81.8h0M351.5 79.9h0M350.3 65.4h0M351.2 80.7h0M351.7 70.1h0M351.2 67.5h0M351.8 68.0h0M352.3 73.4h0M351.1 96.8h0M350.6 92.4h0M351.8 82.5h0M351.6 73.6h0M352.4 87.3h0M352.1 84.1h0M351.4 72.3h0M352.2 72.8h0M351.9 73.5h0M351.8 97.2h0M350.7 95.2h0M350.8 83.1h0M352.5 97.7h0M351.3 90.0h0M350.6 100.3h0M351.5 72.3h0M351.9 81.2h0M351.4 99.0h0M351.9 69.9h0M351.9 79.4h0M351.4 97.2h0M351.2 77.0h0M352.3 65.3h0M352.5 79.6h0M352.3 80.4h0M352.7 67.9h0M351.6 75.7h0M351.1 88.4h0M351.2 99.6h0M352.0 79.0h0M352.4 65.7h0M352.1 72.1h0M352.5 70.7h0M351.8 75.3h0M350.8 97.9h0M352.2 95.8h0M352.1 80.5h0M352.2 102.5h0M351.1 93.8h0M350.7 96.7h0M352.2 102.9h0M351.7 101.8h0M351.5 70.1h0M350.6 90.3h0M352.0 99.6h0M351.9 87.1h0M350.5 91.1h0M352.6 90.6h0M351.1 70.6h0M351.4 93.5h0M351.6 83.3h0M351.2 64.0h0M350.9 90.4h0M351.9 97.1h0M352.4 83.3h0M352.5 76.4h0M352.1 64.4h0M351.6 76.7h0M351.8 70.9h0M351.2 64.9h0M352.3 94.4h0M350.2 87.3h0M351.3 88.3h0M352.5 80.7h0M351.9 70.2h0M352.5 66.7h0M351.0 99.5h0M350.9 80.0h0M351.9 65.3h0M352.7 91.2h0M352.7 81.1h0M352.3 94.5h0M350.9 91.3h0M351.7 92.2h0M352.0 79.5h0M351.0 76.7h0M351.6 67.9h0M352.0 66.8h0M350.5 90.5h0M351.5 101.4h0M351.5 92.7h0M351.3 79.4h0M352.4 85.0h0M352.9 64.5h0M351.3 96.4h0M351.7 63.6h0M352.0 71.6h0M352.2 102.7h0M350.6 83.0h0M352.1 78.0h0M351.7 96.8h0M351.4 90.6h0M351.3 77.5h0M352.0 88.7h0M351.1 80.2h0M352.0 91.8h0M352.1 65.0h0M351.4 90.8h0M352.8 67.6h0M351.7 70.4h0M351.5 71.5h0M350.9 91.9h0M351.0 99.9h0M351.3 81.9h0M351.5 91.6h0M351.8 86.7h0M351.7 81.6h0M352.3 100.2h0M352.6 93.8h0M352.6 81.5h0M352.3 98.2h0M352.6 66.1h0M351.2 91.1h0M352.7 72.7h0M351.9 75.1h0M352.1 80.9h0M351.8 67.7h0M351.8 79.9h0M351.7 65.4h0M350.4 94.4h0M352.0 77.6h0M351.3 77.0h0M352.1 67.2h0M350.6 89.6h0M351.6 78.4h0M352.2 66.0h0M351.2 100.3h0M351.8 71.4h0M351.4 64.0h0M351.2 75.0h0M360.4 93.4h0M360.4 93.8h0M363.4 86.6h0M355.7 99.3h0M356.3 96.2h0M364.9 92.3h0M366.2 83.0h0M366.0 83.9h0M369.4 95.7h0M364.4 96.9h0M357.5 101.2h0M369.6 90.2h0M373.6 93.2h0M359.0 104.7h0M358.6 108.3h0M358.3 97.8h0M352.2 94.1h0M350.6 98.2h0M354.9 105.9h0M365.6 80.7h0M363.5 92.3h0M364.5 94.4h0M351.7 95.1h0M360.3 109.1h0M374.9 89.7h0M357.3 110.8h0M355.7 111.6h0M358.2 99.9h0M365.7 104.4h0M361.8 105.6h0M357.4 102.5h0M366.8 77.5h0M362.3 104.2h0M367.9 93.1h0M364.9 82.9h0M350.4 93.2h0M364.4 91.2h0M361.7 100.4h0M369.6 80.2h0M357.5 110.9h0M352.8 93.6h0M362.3 99.2h0M363.4 103.3h0M351.6 91.5h0M359.0 112.2h0M354.1 98.8h0M369.8 85.6h0M366.9 103.0h0M366.4 78.5h0M353.9 105.6h0M370.2 89.3h0M355.9 101.4h0M365.1 104.6h0M353.9 98.3h0M369.6 100.4h0M368.4 90.6h0M351.2 106.2h0M363.2 93.0h0M361.5 100.4h0M374.4 92.3h0M358.4 97.2h0M371.6 81.3h0M353.3 110.6h0M358.4 104.0h0M366.9 95.8h0M364.0 86.8h0M361.2 110.8h0M361.0 91.1h0M356.2 101.5h0M362.3 99.8h0M364.7 88.7h0M365.0 102.9h0M366.7 103.4h0M356.3 109.1h0M365.0 103.6h0M364.2 103.6h0M360.3 103.5h0M367.7 90.1h0M366.4 99.5h0M356.5 113.1h0M353.7 112.5h0M369.6 85.4h0M369.5 82.5h0M355.1 107.0h0M351.6 101.7h0M366.1 98.5h0M360.2 98.6h0M356.8 100.6h0M363.6 104.7h0M359.7 99.7h0M358.0 113.3h0M366.8 100.5h0M353.3 104.3h0M366.0 88.1h0M364.7 92.7h0M354.9 97.7h0M352.4 108.4h0M361.7 108.2h0M368.5 104.4h0M368.4 95.5h0M356.2 101.0h0M366.6 80.1h0M367.2 103.6h0M358.0 97.9h0M365.9 92.6h0M359.9 94.5h0M358.6 94.1h0M353.8 95.7h0M361.4 111.6h0M355.1 97.1h0M371.6 99.0h0M363.7 100.0h0M363.5 105.9h0M349.1 100.7h0M357.8 110.4h0M363.3 84.9h0M361.5 93.4h0M354.3 94.7h0M363.1 101.7h0M357.6 106.5h0M367.1 84.8h0M359.3 93.6h0M354.4 103.9h0M368.4 84.2h0M357.1 113.3h0M357.6 96.5h0M361.1 107.7h0M359.3 104.3h0M359.3 110.0h0M370.1 79.1h0M354.4 101.9h0M363.1 93.2h0M355.8 101.7h0M354.2 96.3h0M367.5 89.3h0M355.2 94.4h0M363.2 91.3h0M356.9 107.5h0M363.9 88.4h0M366.7 98.1h0M357.7 100.7h0M371.6 85.4h0M350.6 95.6h0M373.9 84.6h0M352.7 96.7h0M352.7 99.3h0M360.9 107.9h0M372.8 84.4h0M358.5 115.3h0M369.7 82.0h0M363.8 101.8h0M369.4 90.5h0M355.5 101.0h0M364.7 78.8h0M356.3 100.2h0M365.7 96.5h0M368.2 101.5h0M365.0 104.2h0M367.5 84.0h0M362.3 103.6h0M357.8 103.1h0M368.3 78.6h0M359.3 102.0h0M356.4 106.2h0M360.9 97.4h0M359.6 96.8h0M352.2 100.7h0M357.0 109.9h0M365.9 92.4h0M366.6 93.7h0M366.3 100.6h0M353.9 105.8h0M364.1 84.6h0M357.6 104.4h0M375.4 91.7h0M349.6 95.8h0M364.6 93.3h0M361.9 103.7h0M368.5 99.5h0M368.2 80.8h0M359.6 100.8h0M357.5 105.9h0M370.6 90.3h0M364.6 93.4h0M362.4 102.9h0M352.3 105.6h0M363.6 103.8h0M360.6 94.7h0M357.1 99.5h0M372.9 92.8h0M353.5 101.2h0M356.9 107.6h0M366.0 94.9h0M371.4 97.4h0M364.1 83.8h0M359.4 95.9h0M353.0 103.6h0M367.3 99.0h0M368.4 77.4h0M364.5 95.7h0M369.8 93.5h0M366.3 97.2h0M368.0 93.6h0M355.5 95.5h0M357.9 94.9h0M355.7 97.9h0M358.0 103.1h0M364.7 94.8h0M358.2 97.1h0M351.9 107.2h0M364.5 98.5h0M364.4 79.5h0M370.5 88.5h0M362.2 101.5h0M361.0 93.4h0M354.5 101.9h0M352.3 95.8h0M371.6 93.3h0M363.1 109.1h0M366.5 76.4h0M371.4 95.1h0M363.1 81.6h0M362.0 93.9h0M364.0 85.7h0M354.0 104.2h0M351.6 98.1h0M351.2 101.1h0M355.5 103.7h0M365.3 85.3h0M356.9 101.4h0M361.0 97.3h0M361.1 111.9h0M363.8 107.6h0M360.2 102.0h0M361.0 103.4h0M355.6 94.5h0M363.2 101.8h0M365.3 98.3h0M364.3 100.8h0M352.7 97.3h0M366.9 98.3h0M367.7 86.1h0M359.7 101.5h0M361.1 103.2h0M364.3 103.3h0M360.6 110.7h0M362.3 111.7h0M365.5 100.5h0M373.5 92.0h0M365.4 101.4h0M353.0 103.8h0M366.4 79.6h0M371.6 95.5h0M368.8 83.2h0M369.7 82.6h0M362.6 93.9h0M359.2 99.2h0M374.8 89.4h0M351.7 105.6h0M363.6 91.0h0M363.2 102.6h0M365.7 98.2h0M366.0 79.3h0M355.1 102.6h0M350.6 106.3h0M361.4 101.9h0M353.7 110.2h0M364.6 86.5h0M355.0 95.6h0M356.5 113.5h0M356.2 105.9h0M373.6 92.2h0M355.4 94.8h0M353.0 104.2h0M364.7 104.6h0M355.3 95.4h0M360.6 108.8h0M361.3 108.8h0M368.4 91.5h0M368.9 90.4h0M359.7 93.1h0M366.2 98.8h0M366.3 96.1h0M360.7 111.9h0M367.8 90.0h0M367.3 99.9h0M358.8 98.8h0M364.0 88.6h0M362.1 109.6h0M360.7 111.6h0M354.1 105.9h0M359.5 104.2h0M356.6 111.1h0M355.2 95.9h0M356.7 111.6h0M359.6 105.3h0M359.7 104.4h0M361.1 101.8h0M370.6 83.3h0M361.4 101.2h0M368.3 101.7h0M353.6 108.1h0M370.4 77.1h0M351.5 105.7h0M373.6 87.3h0M356.9 112.8h0M370.5 96.4h0M357.1 105.5h0M355.3 100.0h0M371.4 93.3h0M357.0 111.0h0M365.4 88.6h0M366.9 78.8h0M360.3 96.2h0M357.3 102.8h0M365.0 102.9h0M354.3 113.0h0M366.7 101.7h0M364.6 95.9h0M362.4 108.0h0M355.4 111.1h0M371.4 79.4h0M353.0 96.0h0M356.0 112.8h0M366.0 93.3h0M364.9 89.6h0M365.1 83.4h0M370.2 97.4h0M370.9 93.8h0M358.3 101.8h0M359.0 98.5h0M367.4 95.3h0M363.7 84.0h0M364.0 90.3h0M361.0 101.4h0M361.0 92.6h0M360.7 110.3h0M356.7 93.0h0M360.6 100.1h0M358.6 101.0h0M362.7 92.4h0M365.3 88.3h0M366.0 100.3h0M368.8 93.1h0M363.0 105.1h0M367.6 101.9h0M364.1 90.0h0M362.9 102.4h0M373.2 84.4h0M357.2 106.1h0M372.1 90.4h0M362.5 96.8h0M357.6 105.4h0M355.8 110.5h0M361.6 97.4h0M355.3 98.2h0M358.3 115.2h0M366.1 100.0h0M360.0 104.6h0M373.4 91.6h0M356.2 98.8h0M357.2 98.8h0M360.4 104.2h0M361.0 100.0h0M353.6 101.9h0M355.2 98.4h0M366.8 80.2h0M357.7 110.5h0M369.3 84.9h0M361.0 95.0h0M364.6 88.9h0M358.5 100.4h0M352.8 93.2h0M359.7 95.2h0M360.2 92.8h0M361.7 97.3h0M355.7 112.8h0M368.0 93.9h0M359.2 93.9h0M371.2 97.2h0M365.3 92.3h0M361.2 92.7h0M369.3 82.8h0M363.7 111.2h0M365.3 99.0h0M358.0 111.8h0M358.7 95.7h0M368.8 82.9h0M368.7 96.4h0M355.0 102.0h0M368.7 95.3h0M365.7 100.5h0M362.5 111.7h0M367.4 101.6h0M362.0 107.1h0M358.9 96.5h0M365.7 105.8h0M371.9 95.5h0M367.2 92.1h0M363.1 95.6h0M365.1 103.4h0M365.4 100.4h0M358.8 103.0h0M353.6 112.9h0M359.9 104.5h0M350.8 100.4h0M364.6 90.9h0M359.0 108.8h0M364.4 99.5h0M360.4 106.2h0M350.6 101.6h0M368.2 79.0h0M357.7 96.5h0M364.6 91.1h0M362.7 99.7h0M351.3 101.2h0M368.0 80.6h0M364.9 98.9h0M360.9 106.2h0M361.1 94.7h0M370.2 82.1h0M363.8 92.2h0M359.6 102.3h0M354.1 99.7h0M361.1 104.6h0M358.1 104.6h0M357.9 105.7h0M368.9 99.0h0M353.3 105.3h0M351.6 92.8h0M364.4 94.8h0M365.9 103.3h0M351.8 105.1h0M367.7 92.4h0M366.9 90.9h0M357.2 94.1h0M367.2 76.4h0M352.8 103.4h0M368.2 100.7h0M350.4 97.6h0M358.5 106.5h0M360.0 102.7h0M369.0 97.3h0M371.0 87.1h0M367.8 95.1h0M357.8 95.3h0M356.7 97.3h0M356.5 99.5h0M359.5 110.1h0M360.2 96.6h0M368.8 97.2h0M350.4 93.3h0M359.3 103.2h0M353.9 100.7h0M369.5 91.3h0M360.1 112.5h0M370.2 87.5h0M356.6 97.9h0M355.1 95.0h0M370.3 88.6h0M363.3 105.7h0M358.9 98.2h0M363.2 100.1h0M355.7 99.2h0M355.0 99.1h0M357.0 112.9h0M372.1 92.2h0M355.0 105.4h0M360.5 110.2h0M358.0 107.9h0M369.8 92.4h0M358.8 92.4h0M363.8 103.4h0M357.9 112.2h0M360.2 102.7h0M358.9 106.8h0M359.2 105.0h0M363.6 108.2h0M364.7 102.2h0M360.4 106.3h0M357.4 108.9h0M362.0 110.4h0M351.1 103.7h0M364.6 105.5h0M351.5 93.5h0M353.2 99.3h0M372.2 92.5h0M355.5 108.0h0M357.4 114.4h0M351.6 94.0h0M359.3 110.9h0M356.2 105.9h0M363.8 97.5h0M356.5 110.4h0M354.6 106.8h0M355.6 97.0h0M351.4 96.9h0M369.5 85.0h0M366.4 102.6h0M352.7 106.6h0M359.0 97.8h0M352.6 96.6h0M363.7 93.9h0M363.4 100.1h0M356.0 106.2h0M358.0 102.8h0M365.8 106.9h0M355.5 110.0h0M359.0 94.1h0M360.6 105.2h0M366.6 104.9h0M363.0 104.3h0M369.2 93.8h0M366.9 78.1h0M353.9 98.0h0M360.1 111.8h0M359.4 107.5h0M371.4 93.0h0M360.2 103.2h0M352.6 94.8h0M375.3 86.9h0M370.6 98.1h0M362.2 93.9h0M374.1 87.0h0M361.7 94.7h0M361.3 102.7h0M365.7 100.8h0M357.2 110.7h0M370.6 92.9h0M358.7 95.5h0M365.2 110.7h0M358.7 106.9h0M372.2 87.1h0M360.9 105.1h0M365.4 102.4h0M355.2 111.4h0M371.6 97.2h0M349.7 99.4h0M364.5 107.6h0M357.1 97.3h0M361.7 103.0h0M350.3 101.6h0M368.1 101.7h0M350.2 92.6h0M363.4 88.2h0M368.7 90.3h0M372.0 92.9h0M358.2 93.2h0M361.3 95.0h0M374.4 93.5h0M350.4 95.4h0M359.3 104.8h0M357.4 109.8h0M358.3 100.3h0M371.1 86.5h0M369.0 86.1h0M365.6 92.9h0M355.8 107.9h0M351.0 95.6h0M357.8 101.2h0M353.7 92.6h0M358.0 93.5h0M356.2 99.5h0M364.1 86.9h0M355.9 96.7h0M373.5 87.0h0M363.7 88.8h0M354.0 98.6h0M365.8 104.9h0M361.7 111.1h0M367.9 98.2h0M361.4 98.2h0M368.4 103.1h0M352.9 111.8h0M357.4 110.8h0M356.9 108.0h0M361.1 101.7h0M368.3 88.1h0M369.8 81.1h0M368.3 91.5h0M350.8 106.1h0M352.7 102.3h0M368.8 90.6h0M362.7 95.6h0M357.4 102.6h0M354.5 94.8h0M351.6 97.4h0M363.7 88.4h0M354.9 110.6h0M359.0 91.4h0M362.0 95.2h0M363.2 83.4h0M352.2 96.2h0M354.0 109.8h0M352.9 100.2h0M359.2 103.1h0M367.4 102.1h0M351.3 98.8h0M358.0 97.0h0M365.7 103.9h0M357.5 110.0h0M356.8 109.9h0M360.6 93.3h0M360.6 94.5h0M363.4 93.3h0M355.3 105.2h0M359.8 95.2h0M353.2 107.9h0M362.4 105.2h0M364.5 103.9h0M351.6 93.6h0M362.2 92.9h0M373.1 90.4h0M358.8 94.9h0M357.7 103.6h0M363.9 109.9h0M359.0 104.1h0M358.3 105.7h0M354.9 113.3h0M364.2 101.3h0M367.7 93.2h0M371.4 82.6h0M352.9 111.0h0M359.1 97.2h0M354.9 106.9h0M367.9 95.7h0M352.7 97.1h0M367.6 100.8h0M366.3 105.7h0M358.9 99.3h0M356.2 112.7h0M361.9 110.3h0M369.9 93.6h0M370.4 81.0h0M356.9 114.6h0M359.6 97.8h0M367.0 100.3h0M360.2 92.3h0M365.2 97.4h0M364.6 101.5h0M370.8 90.8h0M355.7 105.4h0M357.4 93.9h0M365.2 85.0h0M357.6 113.4h0M368.8 99.1h0M368.2 101.9h0M370.9 87.6h0M370.6 93.3h0M357.5 109.8h0M352.6 113.9h0M354.6 109.2h0M353.2 107.5h0M366.8 83.7h0M362.8 103.2h0M362.3 99.0h0M363.5 110.8h0M350.8 99.9h0M370.5 95.8h0M354.7 107.9h0M366.2 90.8h0M355.6 95.0h0M363.9 86.5h0M367.8 85.3h0M355.3 112.0h0M369.4 100.7h0M365.7 85.0h0M363.6 109.0h0M372.8 84.5h0M360.2 100.9h0M364.9 99.2h0M356.0 102.4h0M351.7 109.2h0M349.7 92.4h0M366.7 79.4h0M364.1 96.1h0M371.1 92.4h0M367.8 96.1h0M368.0 85.2h0M373.3 91.4h0M358.5 97.2h0M363.2 107.1h0M357.0 113.1h0M366.1 85.7h0M360.4 108.7h0M353.5 100.9h0M356.4 99.1h0M363.7 95.7h0M369.8 95.4h0M356.6 108.9h0M359.5 107.2h0M356.2 112.9h0M365.7 92.7h0M367.3 81.3h0M366.8 85.2h0M375.3 89.2h0M358.9 108.1h0M364.7 87.5h0M368.5 85.2h0M357.3 99.4h0M360.3 101.9h0M350.0 92.6h0M362.5 102.5h0M351.1 106.8h0M363.0 89.3h0M369.8 96.8h0M355.8 97.0h0M362.9 95.7h0M363.6 82.7h0M359.8 100.1h0M352.1 108.1h0M359.5 101.7h0M354.4 104.6h0M373.3 94.8h0M359.8 94.6h0M362.3 91.4h0M366.8 97.0h0M373.1 96.7h0M355.1 93.5h0M355.9 97.0h0M350.9 99.6h0M366.5 86.5h0M366.9 95.6h0M366.0 84.9h0M365.2 104.9h0M373.8 92.1h0M351.7 96.7h0M358.1 100.4h0M359.4 107.2h0M364.9 87.6h0M369.2 86.5h0M356.7 101.6h0M360.6 97.7h0M356.7 114.2h0M361.1 105.9h0M356.1 99.7h0M361.5 107.0h0M349.5 100.2h0M373.0 94.1h0M368.5 98.7h0M361.7 100.0h0M356.3 93.4h0M355.3 113.9h0M364.8 81.9h0M352.6 98.4h0M365.7 99.2h0M350.6 96.1h0M366.4 96.9h0M368.2 96.4h0M369.9 96.3h0M373.2 87.8h0M363.6 95.2h0M358.2 102.6h0M353.8 111.2h0M351.5 96.4h0M351.9 105.4h0M359.3 114.0h0M365.4 106.4h0M351.7 110.9h0M366.1 89.5h0M368.9 87.9h0M367.4 89.4h0M356.6 100.6h0M371.1 93.6h0M363.3 96.3h0M364.6 89.1h0M361.8 103.7h0M350.6 101.4h0M351.3 93.5h0M355.2 113.6h0M360.5 95.4h0M366.4 102.0h0M364.7 88.9h0M363.9 86.0h0M366.6 87.4h0M357.5 97.6h0M374.0 92.7h0M352.2 107.4h0M354.4 93.4h0M353.5 98.6h0M353.5 102.9h0M358.8 101.9h0M363.1 100.6h0M368.2 94.2h0M354.7 100.2h0M366.9 83.5h0M366.7 91.8h0M352.7 104.5h0M359.1 103.1h0M353.4 98.5h0M360.3 98.3h0M366.4 104.3h0M352.0 93.7h0M355.2 95.3h0M359.5 103.2h0M366.2 97.1h0M356.5 94.4h0M352.9 111.7h0M352.4 98.0h0M358.7 99.7h0M363.0 104.6h0M363.7 105.1h0M367.2 93.9h0M352.2 105.5h0M367.4 104.3h0M366.8 94.7h0M361.5 111.0h0M352.9 98.2h0M356.7 94.2h0M354.6 110.0h0M365.7 100.9h0M354.6 96.1h0M357.6 95.9h0M358.3 93.9h0M354.1 104.7h0M364.7 83.2h0M363.3 105.7h0M360.5 100.5h0M356.4 96.6h0M367.9 83.1h0M356.7 93.5h0M361.1 98.6h0M367.9 105.2h0M369.5 88.9h0M356.8 114.5h0M363.2 101.4h0M365.9 87.8h0M370.1 87.0h0M369.5 96.4h0M357.5 102.0h0M358.8 109.8h0M361.8 105.2h0M356.3 97.5h0M364.6 108.3h0M364.3 93.7h0M369.3 93.3h0M359.4 103.8h0M352.6 105.4h0M352.8 99.2h0M354.1 113.1h0M352.4 104.9h0M353.0 102.2h0M365.7 96.1h0M366.1 92.0h0M366.4 97.5h0M365.8 90.5h0M360.3 94.0h0M367.0 89.4h0M369.8 94.0h0M364.2 106.0h0M368.5 85.1h0M365.3 97.9h0M365.1 97.6h0M359.4 98.9h0M367.4 83.0h0M364.4 93.3h0M374.3 86.2h0M362.1 93.4h0M361.1 110.6h0M356.1 93.8h0M352.5 97.7h0M354.7 95.0h0M358.3 101.6h0M360.2 107.7h0M359.3 110.9h0M370.9 85.8h0M366.7 107.9h0M357.8 106.0h0M352.3 109.7h0M360.7 96.4h0M363.5 80.6h0M365.7 106.2h0M369.4 95.8h0M361.6 92.9h0M362.8 97.8h0M367.5 80.6h0M369.3 92.9h0M352.9 96.0h0M360.3 113.4h0M361.6 99.5h0M366.8 103.1h0M350.7 96.4h0M366.4 93.5h0M358.0 101.0h0M358.2 98.6h0M351.3 101.7h0M356.3 113.3h0M355.7 104.4h0M358.5 105.1h0M365.0 99.5h0M370.4 100.6h0M358.8 100.2h0M367.0 84.7h0M361.1 101.5h0M353.8 99.3h0M364.8 106.7h0M358.5 99.7h0M369.5 99.1h0M373.7 85.7h0M362.4 93.4h0M367.9 98.8h0M353.0 114.9h0M358.7 99.3h0M359.4 103.1h0M373.3 89.1h0M362.2 100.0h0M369.2 101.3h0M363.6 100.2h0M360.5 94.1h0M361.1 103.5h0M363.6 98.8h0M359.3 112.4h0M367.9 97.0h0M356.2 98.7h0M360.0 107.9h0M363.2 102.6h0M358.3 93.4h0M372.2 84.1h0M366.0 108.1h0M354.5 96.8h0M367.4 98.5h0M350.9 96.6h0M372.1 96.9h0M370.4 95.1h0M362.9 92.3h0M358.8 113.4h0M360.4 106.1h0M359.8 114.3h0M363.3 79.7h0M368.8 78.2h0M370.2 92.5h0M356.0 108.0h0M357.3 106.2h0M353.1 96.1h0M354.1 98.5h0M361.3 100.8h0M363.7 85.5h0M372.9 84.1h0M361.6 102.9h0M362.6 101.3h0M352.2 103.0h0M364.6 88.0h0M352.9 108.2h0M351.8 107.5h0M353.2 96.3h0M369.4 96.1h0M370.2 83.7h0M365.9 92.1h0M366.9 95.0h0M363.8 102.6h0M369.3 87.3h0M350.5 100.7h0M363.9 88.2h0M352.4 101.0h0M359.9 96.1h0M362.6 99.1h0M364.9 80.3h0M369.3 100.9h0M369.9 100.7h0M351.6 104.6h0M360.7 102.9h0M353.7 93.3h0M353.4 100.4h0M356.9 94.1h0M354.2 106.5h0M354.7 109.9h0M362.6 97.0h0M372.3 84.3h0M365.9 92.4h0M355.9 115.6h0M356.3 111.4h0M372.1 92.3h0M374.6 90.7h0M370.4 89.6h0M354.4 106.9h0M371.6 86.7h0M359.6 96.4h0M356.2 97.5h0M358.6 106.7h0M358.8 110.8h0M353.0 100.5h0M358.2 97.4h0M363.7 89.5h0M355.1 96.1h0M367.8 93.3h0M357.8 98.1h0M355.9 102.8h0M368.0 93.6h0M355.2 100.4h0M351.1 98.7h0M361.6 92.9h0M361.1 100.1h0M364.9 99.8h0M354.7 105.7h0M368.9 86.1h0M365.6 96.0h0M365.6 90.1h0M354.1 108.4h0M359.9 111.9h0M360.0 108.4h0M366.5 89.1h0M355.2 108.6h0M368.4 88.4h0M366.3 95.6h0M367.3 99.6h0M360.0 100.2h0M355.8 102.8h0M358.3 98.4h0M354.2 100.2h0M352.9 108.4h0M365.3 88.5h0M354.1 98.7h0M355.2 99.3h0M354.5 99.8h0M352.7 103.2h0M357.4 106.5h0M354.4 104.2h0M364.2 99.4h0M354.1 110.9h0M356.4 104.7h0M360.6 94.2h0M358.6 110.3h0M353.7 109.9h0M358.1 107.7h0M361.4 103.7h0M354.2 100.8h0M354.7 110.0h0M354.8 98.3h0M355.1 97.4h0M351.3 95.7h0M352.5 94.9h0M361.9 104.5h0M352.8 94.6h0M352.9 106.8h0M352.8 108.0h0M353.6 98.2h0M360.8 102.1h0M356.1 108.8h0M364.0 101.6h0M363.7 88.1h0M368.5 87.8h0M361.1 102.0h0M356.4 111.3h0M353.6 105.5h0M355.8 109.7h0M364.6 103.7h0M355.0 101.4h0M352.0 96.9h0M364.1 101.5h0M370.1 88.4h0M360.9 109.6h0M352.5 94.4h0M367.7 86.9h0M351.2 99.2h0M358.2 102.3h0M355.4 105.3h0M367.6 93.0h0M365.6 104.3h0M362.4 96.8h0M365.7 93.8h0M357.9 101.7h0M359.8 108.6h0M365.4 85.9h0M365.0 93.3h0M363.9 92.7h0M362.3 93.6h0M359.8 99.5h0M356.4 100.0h0M361.4 104.8h0M350.6 102.8h0M368.1 90.2h0M353.8 101.6h0M359.0 108.3h0M359.4 96.0h0M359.2 107.0h0M356.5 97.9h0M361.0 102.5h0M358.0 111.6h0M362.7 93.1h0M366.4 103.7h0M362.1 93.7h0M365.4 102.2h0M356.5 111.3h0M355.3 113.3h0M354.9 99.9h0M365.0 97.8h0M365.0 95.7h0M357.3 110.3h0M363.9 107.4h0M366.8 98.7h0M357.5 109.9h0M360.0 110.9h0M354.7 111.2h0M358.9 95.4h0M366.4 86.4h0M366.9 84.4h0M365.3 85.8h0M357.5 95.6h0M363.0 105.8h0M362.0 96.9h0M365.9 95.7h0M367.7 98.2h0M361.0 96.2h0M364.4 94.4h0M360.4 109.2h0M369.2 91.8h0M356.3 96.0h0M356.5 100.2h0M356.3 108.2h0M360.4 96.8h0M353.8 102.5h0M359.8 110.2h0M357.1 110.0h0M353.1 103.2h0M355.3 96.9h0M364.6 86.4h0M353.2 112.2h0M369.3 92.8h0M358.2 112.3h0M356.1 98.5h0M358.1 107.6h0M366.2 94.9h0M364.6 99.4h0M352.0 104.0h0M356.8 112.5h0M355.9 100.2h0M364.8 94.9h0M356.6 98.2h0M364.6 93.1h0M362.7 96.1h0M355.8 97.3h0M364.6 95.5h0M354.7 98.7h0M357.5 95.5h0M362.3 105.8h0M367.5 90.4h0M357.1 97.7h0M354.9 109.1h0M352.6 98.3h0M352.7 96.4h0M354.9 106.9h0M360.0 95.5h0M365.1 104.5h0M360.1 111.5h0M355.6 99.3h0M356.9 102.0h0M355.4 97.0h0M365.5 85.8h0M363.2 96.3h0M361.0 99.0h0M366.6 92.2h0M357.9 99.0h0M358.1 99.7h0M352.2 110.4h0M360.9 104.7h0M360.1 109.5h0M360.0 104.7h0M365.8 92.6h0M368.7 92.0h0M361.7 99.0h0M365.9 87.6h0M355.2 97.7h0M359.4 96.8h0M355.1 107.3h0M362.2 96.9h0M365.6 93.9h0M364.8 90.9h0M352.1 101.6h0M351.7 107.5h0M364.8 99.4h0M364.5 102.2h0M351.3 108.6h0M362.7 93.8h0M368.8 90.8h0M361.2 101.6h0M357.8 104.0h0M353.8 108.3h0M358.4 111.2h0M365.7 88.4h0M363.7 108.6h0M359.9 102.2h0M368.7 83.9h0M360.3 100.8h0M356.6 113.1h0M351.7 102.3h0M370.1 87.9h0M368.0 99.0h0M361.7 105.4h0M363.3 103.0h0M367.8 87.9h0M367.7 99.8h0M353.8 99.8h0M367.3 94.7h0M356.1 112.5h0M352.4 96.7h0M358.7 97.2h0M359.0 112.9h0M359.9 109.1h0M350.3 94.1h0M365.9 104.2h0M361.6 109.8h0M358.9 110.6h0M365.3 101.8h0M354.4 112.7h0M353.4 94.3h0M364.8 88.3h0M366.5 85.5h0M363.8 89.9h0M360.9 97.6h0M361.8 97.7h0M353.7 102.0h0M356.0 108.0h0M358.4 102.0h0M359.9 108.7h0M354.9 101.2h0M353.8 102.6h0M363.8 101.6h0M368.3 94.0h0M360.2 101.4h0M365.4 90.7h0M355.4 108.5h0M351.2 105.6h0M353.8 101.6h0M360.6 103.6h0M361.6 100.9h0M358.9 108.7h0M368.7 91.7h0M357.7 98.9h0M370.0 92.2h0M350.6 97.0h0M357.8 98.3h0M355.5 104.2h0M352.9 96.0h0M350.2 99.4h0M356.9 110.6h0M366.7 99.5h0M358.8 106.5h0M355.5 105.2h0M357.9 113.2h0M355.0 108.6h0M353.5 94.2h0M361.3 98.9h0M366.1 92.9h0M355.6 96.4h0M366.4 102.9h0M366.5 88.6h0M370.3 90.8h0M355.1 106.4h0M355.9 112.3h0M351.3 95.8h0M351.5 103.7h0M353.0 102.7h0M367.5 95.3h0M356.0 110.4h0M350.7 109.0h0M360.8 102.1h0M368.4 85.5h0M369.4 92.8h0M363.0 102.2h0M361.1 101.2h0M351.5 99.2h0M358.6 111.5h0M366.0 94.6h0M365.9 101.9h0M357.1 97.9h0M366.8 94.4h0M367.8 98.3h0M361.1 104.2h0M359.2 94.7h0M356.9 103.2h0M366.9 86.2h0M363.2 95.0h0M357.0 97.9h0M357.4 111.1h0M361.3 99.3h0M352.4 98.3h0M359.1 102.7h0M359.4 110.8h0M362.1 105.6h0M364.3 97.1h0M359.3 95.9h0M361.3 96.7h0M352.4 107.3h0M365.7 84.0h0M368.1 92.6h0M353.5 97.6h0M365.0 90.7h0M358.4 95.0h0M367.6 87.4h0M363.0 100.5h0M362.6 98.3h0M361.8 94.5h0M355.7 106.8h0M369.4 92.8h0M364.9 90.0h0M353.2 112.1h0M362.0 94.3h0M353.4 104.2h0M359.3 112.0h0M366.4 99.7h0M353.2 97.0h0M369.1 96.3h0M352.7 96.4h0M368.2 96.8h0M361.6 104.8h0M364.4 98.7h0M355.5 97.7h0M365.1 103.7h0M357.4 94.5h0M353.9 104.5h0M365.2 86.4h0M359.0 102.8h0M350.9 94.2h0M364.6 101.9h0M363.7 100.7h0M365.3 103.1h0M366.5 87.5h0M364.8 94.0h0M359.6 112.4h0M354.5 109.9h0M355.0 101.0h0M368.8 92.1h0M351.2 94.9h0M360.8 97.6h0M364.8 98.3h0M356.4 105.9h0M362.1 108.0h0M350.2 94.8h0M363.7 97.2h0M352.3 93.9h0M359.0 107.8h0M354.9 96.6h0M350.5 99.4h0M350.7 99.2h0M366.5 92.3h0M357.6 100.1h0M360.1 101.1h0M361.2 100.8h0M356.8 100.1h0M360.6 111.1h0M359.4 113.4h0M352.2 104.1h0M364.9 103.2h0M365.6 96.2h0M360.7 97.1h0M351.5 103.3h0M356.5 98.3h0M355.3 101.8h0M353.5 98.1h0M363.3 91.2h0M367.8 92.9h0M353.5 100.6h0M358.8 97.6h0M368.9 88.8h0M355.2 102.7h0M358.5 101.4h0M354.8 112.5h0M367.4 84.8h0M353.6 109.0h0M359.5 104.8h0M350.3 105.0h0M364.7 107.0h0M360.6 105.1h0M361.5 92.9h0M362.8 108.0h0M355.8 100.6h0M354.4 108.0h0M351.8 95.7h0M363.5 103.7h0M366.7 93.7h0M359.7 107.7h0M364.9 101.9h0M363.6 94.0h0M357.5 105.7h0M365.6 98.3h0M360.4 95.6h0M352.0 100.2h0M368.2 87.2h0M351.2 94.3h0M365.3 92.3h0M359.1 108.2h0M367.3 96.6h0M366.4 96.4h0M350.6 98.6h0M356.5 111.4h0M356.3 112.1h0M354.3 99.3h0M363.9 94.1h0M361.0 107.7h0M355.7 100.3h0M362.7 92.5h0M353.9 105.7h0M358.8 96.3h0M363.7 99.5h0M351.7 107.8h0M359.8 110.7h0M352.8 100.4h0M368.5 89.8h0M358.4 100.4h0M364.0 105.9h0M350.9 101.0h0M359.8 107.4h0M351.0 95.8h0M359.0 98.3h0M354.3 107.5h0M353.8 95.3h0M351.3 95.9h0M361.4 99.3h0M357.6 100.8h0M358.4 102.9h0M368.0 88.1h0M355.4 109.7h0M353.9 106.9h0M358.7 109.9h0M356.9 102.8h0M356.7 104.8h0M357.9 96.0h0M359.6 105.2h0M364.9 90.7h0M360.5 105.7h0M359.6 103.1h0M356.4 106.5h0M363.9 95.9h0M366.0 104.1h0M356.7 107.6h0M363.0 97.7h0M358.8 104.8h0M367.5 87.6h0M357.6 113.3h0M366.7 87.7h0M360.2 94.5h0M353.5 98.5h0M358.6 110.5h0M366.3 86.0h0M362.0 100.6h0M360.7 100.0h0M362.5 100.1h0M356.2 112.0h0M363.3 100.1h0M364.2 93.0h0M365.5 92.8h0M362.6 95.5h0M366.1 100.3h0M352.4 102.0h0M353.6 97.2h0M366.7 98.5h0M355.8 106.6h0M355.6 100.8h0M358.5 94.9h0M354.8 102.2h0M363.2 106.4h0M363.6 99.4h0M354.1 100.5h0M351.0 99.7h0M356.9 101.6h0M354.1 103.9h0M360.1 99.4h0M354.6 112.0h0M355.0 105.1h0M360.8 93.4h0M355.4 112.8h0M356.2 98.5h0M366.5 93.3h0M363.2 98.9h0M353.9 106.7h0M366.6 100.6h0M357.7 100.1h0M353.7 112.4h0M357.6 111.6h0M352.6 100.7h0M359.5 111.0h0M352.1 107.2h0M368.7 91.6h0M362.3 108.3h0M365.7 87.9h0M354.7 96.1h0M360.0 104.8h0M352.8 103.0h0M359.6 96.1h0M362.4 98.4h0M354.7 105.4h0M357.9 96.5h0M358.6 98.8h0M356.0 111.7h0M355.7 112.1h0M351.2 106.2h0M368.7 91.5h0M369.4 95.1h0M360.5 104.2h0M352.3 104.8h0M351.8 99.2h0M353.5 104.1h0M368.4 92.3h0M365.3 98.2h0M354.7 106.0h0M357.8 97.4h0M352.1 108.9h0M366.7 93.6h0M357.7 106.8h0M364.9 96.9h0M358.7 98.4h0M364.5 89.8h0M350.8 97.3h0M355.4 97.3h0M357.6 108.2h0M364.7 96.1h0M356.3 106.4h0M357.6 107.4h0M351.9 94.6h0M354.9 97.5h0M352.7 111.5h0M355.9 103.8h0M362.4 95.7h0M356.8 104.9h0M350.3 98.1h0M365.0 102.1h0M365.8 99.7h0M366.0 89.8h0M367.4 100.8h0M353.3 95.6h0M366.5 88.5h0M356.7 109.1h0M369.6 90.5h0M368.5 92.9h0M367.2 94.2h0M364.6 97.7h0M368.4 68.4h0M377.1 75.0h0M379.7 87.9h0M384.3 86.9h0M386.7 85.4h0M390.4 86.4h0M383.9 97.9h0M400.0 99.3h0M362.8 77.2h0M361.0 80.5h0M377.5 92.5h0M379.4 95.0h0M376.7 97.5h0M373.8 99.8h0M377.0 101.5h0M361.4 115.6h0M375.8 83.5h0M366.3 74.8h0M371.0 76.0h0M374.5 80.4h0M378.5 90.5h0M375.5 95.7h0M380.5 93.3h0M372.0 102.0h0M364.5 73.6h0M369.7 73.2h0M372.6 77.4h0M378.0 84.6h0" class="p"/></g>
<rect x="315.3" y="1.8" width="88.5" height="119.0" fill="none" stroke="#7a7a7a" stroke-width=".9"/>
<path d="M326.8 121.2v2.6M347.9 121.2v2.6M368.9 121.2v2.6M390.0 121.2v2.6M314.9 22.5h-2.6M314.9 48.0h-2.6M314.9 73.4h-2.6M314.9 99.2h-2.6" stroke="#333" stroke-width=".9" fill="none"/>
<text class="t" x="326.8" y="132.7" text-anchor="middle">−5</text>
<text class="t" x="347.9" y="132.7" text-anchor="middle">0</text>
<text class="t" x="368.9" y="132.7" text-anchor="middle">5</text>
<text class="t" x="390.0" y="132.7" text-anchor="middle">10</text>
<text class="t" x="309.9" y="25.6" text-anchor="end">0.50</text>
<text class="t" x="309.9" y="51.0" text-anchor="end">0.25</text>
<text class="t" x="309.9" y="76.5" text-anchor="end">0.00</text>
<text class="t" x="309.9" y="102.2" text-anchor="end">−0.25</text>
<text class="a" x="358.6" y="145.6" text-anchor="middle">FPG FPC1 score</text>
<text class="a" transform="translate(285.0 62.8) rotate(-90)" text-anchor="middle">SHAP value</text></g>
<g><clipPath id="c3"><rect x="449.3" y="1.8" width="93.2" height="119.0"/></clipPath>
<path d="M458.4 1.8V120.8M483.2 1.8V120.8M507.9 1.8V120.8M532.6 1.8V120.8M449.3 3.3H542.5M449.3 35.7H542.5M449.3 68.0H542.5M449.3 100.3H542.5" stroke="#f1f1f1" stroke-width=".5" fill="none"/>
<path d="M470.8 1.8V120.8M495.6 1.8V120.8M520.2 1.8V120.8M449.3 19.5H542.5M449.3 52.0H542.5M449.3 84.2H542.5M449.3 116.5H542.5" stroke="#e6e6e6" stroke-width=".9" fill="none"/>
<g clip-path="url(#c3)"><path d="M468.8 27.5L471.2 31.7L474.0 31.5L479.2 30.1L479.3 30.1L479.3 30.1L479.3 30.1L479.4 30.1L485.6 31.2L485.6 31.2L485.6 31.2L485.6 31.2L485.7 31.2L485.7 31.3L485.7 31.3L485.7 31.3L485.7 31.3L485.8 31.3L485.8 31.4L485.8 31.4L485.8 31.4L485.8 31.5L485.8 31.5L486.3 39.3L490.5 39.3L490.0 25.1L488.2 21.6L488.2 21.6L485.7 16.1L485.7 16.1L484.3 12.3L476.7 12.8L474.8 16.1L474.8 16.2L471.8 21.1ZM489.8 34.8L490.5 41.9L490.5 42.0L491.1 49.5L495.3 49.5L495.1 34.8ZM494.8 52.0L495.1 64.3L497.4 67.7L499.9 71.1L503.5 73.6L503.5 73.6L503.6 73.6L503.6 73.7L503.6 73.7L503.6 73.8L503.7 73.8L503.7 73.8L503.7 73.9L503.9 74.6L503.7 52.9ZM494.8 49.7L494.8 51.8L495.8 51.8L495.8 49.7ZM503.5 72.0L503.4 80.0L503.6 84.0L504.8 84.0L503.9 80.0L503.8 72.0ZM503.5 81.6L503.8 98.0L504.9 105.9L506.9 110.8L509.6 113.1L512.8 111.7L516.7 107.8L519.1 102.0L518.7 95.6L516.3 90.2L511.8 86.3L505.9 83.3L505.8 83.3L505.8 83.2Z" fill="#000" stroke="#000" stroke-width=".6" stroke-linejoin="round"/>
<path d="M467.8 30.2h0M481.3 22.7h0M488.0 29.4h0M486.4 17.7h0M485.3 22.6h0M480.0 22.0h0M477.9 19.7h0M482.4 26.6h0M482.1 22.5h0M469.0 26.6h0M463.9 28.6h0M486.6 18.0h0M486.2 22.2h0M481.8 19.5h0M477.5 29.5h0M481.5 17.2h0M488.2 30.2h0M470.6 21.1h0M483.9 22.9h0M487.3 35.4h0M480.8 14.0h0M489.6 33.5h0M481.2 15.0h0M475.4 11.3h0M474.9 13.2h0M475.3 16.5h0M465.8 30.0h0M477.8 17.2h0M469.0 29.5h0M488.5 35.7h0M483.3 31.2h0M469.9 25.1h0M478.7 24.5h0M464.3 32.1h0M482.2 12.9h0M473.4 31.6h0M478.7 12.1h0M480.4 27.0h0M479.2 13.7h0M469.3 21.8h0M479.2 25.1h0M487.1 15.8h0M477.9 13.4h0M473.2 12.8h0M479.6 25.9h0M482.4 24.3h0M470.8 31.5h0M486.2 14.7h0M481.8 11.3h0M467.7 23.3h0M468.4 23.6h0M478.4 27.5h0M475.9 14.1h0M488.7 21.0h0M478.9 9.4h0M469.0 23.0h0M464.0 31.5h0M480.0 15.4h0M481.4 27.9h0M476.3 24.4h0M484.9 16.4h0M479.4 17.4h0M473.4 24.9h0M475.2 16.6h0M487.0 20.3h0M475.6 25.7h0M487.2 32.6h0M479.5 26.6h0M470.3 28.1h0M483.9 11.6h0M468.6 23.1h0M487.6 31.7h0M469.9 21.8h0M470.8 23.4h0M466.8 24.2h0M469.4 25.8h0M475.3 25.0h0M485.6 31.6h0M476.9 28.8h0M476.7 25.0h0M477.5 10.4h0M474.8 31.9h0M474.7 20.6h0M482.9 24.2h0M476.7 12.6h0M479.2 12.2h0M483.9 10.2h0M482.1 8.8h0M479.7 30.0h0M473.2 31.9h0M485.8 38.4h0M480.6 14.3h0M479.1 13.5h0M481.4 24.8h0M487.5 29.7h0M475.7 17.6h0M484.7 12.1h0M479.6 18.6h0M482.8 20.6h0M478.6 11.5h0M475.5 23.6h0M467.3 31.4h0M470.9 32.3h0M480.3 26.7h0M483.5 18.3h0M469.2 29.3h0M469.3 20.1h0M489.7 33.5h0M486.6 39.9h0M465.4 26.8h0M488.5 32.8h0M475.4 30.1h0M463.8 31.6h0M465.9 28.9h0M476.3 27.0h0M466.6 26.9h0M480.2 12.2h0M482.7 30.0h0M478.6 11.7h0M481.5 30.0h0M482.6 28.9h0M473.2 22.8h0M487.0 21.3h0M482.3 28.9h0M479.5 17.6h0M475.6 21.8h0M480.5 11.9h0M475.8 24.2h0M485.9 18.8h0M479.1 10.1h0M470.8 22.1h0M481.5 20.6h0M479.8 22.6h0M476.8 23.1h0M473.0 26.0h0M475.4 30.0h0M483.4 25.7h0M483.1 29.9h0M471.6 31.0h0M470.0 31.9h0M485.6 21.1h0M488.4 37.3h0M483.9 12.9h0M473.5 15.8h0M475.6 25.8h0M473.1 20.8h0M475.6 22.1h0M486.7 27.7h0M481.0 21.4h0M480.8 20.5h0M488.0 20.8h0M469.7 29.1h0M470.7 19.8h0M473.2 34.6h0M474.6 21.1h0M464.9 31.0h0M482.9 9.3h0M487.6 28.8h0M482.1 22.2h0M479.1 26.9h0M484.4 17.2h0M477.0 11.3h0M467.7 30.1h0M482.7 15.4h0M472.7 21.4h0M487.8 20.6h0M483.0 30.3h0M484.4 11.4h0M487.0 26.4h0M470.9 28.0h0M479.0 20.3h0M487.5 21.5h0M486.4 30.6h0M472.6 27.0h0M481.3 27.9h0M467.3 26.0h0M478.1 20.1h0M479.8 18.6h0M487.1 21.0h0M480.1 15.6h0M486.3 22.7h0M465.4 28.5h0M488.9 28.8h0M481.3 28.1h0M484.7 29.8h0M476.2 24.6h0M463.4 31.1h0M486.9 33.2h0M478.0 10.9h0M486.8 22.3h0M480.8 10.6h0M485.5 22.9h0M470.8 21.8h0M480.9 17.9h0M470.2 22.5h0M481.5 22.2h0M478.8 15.8h0M479.7 23.0h0M486.1 17.6h0M488.0 23.9h0M470.1 17.8h0M484.6 32.2h0M477.5 18.7h0M484.1 22.0h0M476.9 29.5h0M476.5 32.7h0M482.0 14.7h0M480.5 20.0h0M483.4 13.7h0M478.2 17.9h0M480.3 11.9h0M490.1 31.1h0M480.4 23.0h0M488.9 39.3h0M473.1 24.8h0M478.2 32.5h0M466.7 31.4h0M482.2 21.9h0M478.1 14.6h0M470.0 21.2h0M470.6 19.7h0M473.7 16.0h0M486.8 36.6h0M471.0 24.0h0M465.8 24.3h0M485.7 24.5h0M484.3 11.1h0M481.4 21.4h0M482.3 20.6h0M479.7 25.0h0M486.9 36.0h0M484.0 17.5h0M476.6 26.8h0M475.6 13.8h0M473.6 26.0h0M475.7 20.7h0M471.0 32.1h0M479.0 27.9h0M483.7 11.4h0M474.5 33.2h0M487.9 29.4h0M469.9 24.0h0M483.3 24.1h0M475.9 15.5h0M483.6 11.2h0M484.8 11.8h0M476.6 11.2h0M473.2 16.2h0M481.3 19.4h0M477.2 15.3h0M483.8 29.4h0M474.8 26.6h0M481.2 8.3h0M478.8 19.6h0M477.1 20.1h0M478.2 21.3h0M483.5 17.8h0M488.8 32.1h0M471.9 33.1h0M484.8 16.1h0M469.1 25.8h0M471.3 25.4h0M484.0 20.5h0M478.0 26.1h0M478.2 25.5h0M489.1 25.8h0M486.2 18.2h0M483.6 14.3h0M471.6 26.9h0M478.5 28.4h0M482.2 13.1h0M463.2 30.5h0M486.4 23.7h0M471.4 23.0h0M467.4 28.9h0M459.6 28.6h0M486.7 15.4h0M471.9 17.7h0M482.5 19.5h0M473.7 16.9h0M474.8 20.5h0M482.9 16.1h0M489.5 30.7h0M476.0 19.6h0M483.6 10.5h0M462.9 28.3h0M484.1 17.8h0M466.7 28.9h0M476.3 21.6h0M483.8 30.0h0M471.2 22.2h0M469.6 23.7h0M466.1 29.3h0M487.5 37.7h0M485.5 21.8h0M477.0 9.3h0M478.5 15.4h0M474.7 13.0h0M480.6 25.7h0M490.9 31.2h0M480.5 12.4h0M487.8 30.4h0M475.3 27.6h0M470.7 24.9h0M478.3 24.7h0M484.4 20.8h0M471.6 17.3h0M481.4 18.8h0M490.1 25.8h0M487.6 22.1h0M480.3 24.4h0M473.0 31.9h0M487.5 38.1h0M466.6 31.8h0M487.1 31.5h0M471.5 16.7h0M474.8 31.2h0M473.7 25.3h0M476.4 17.0h0M475.5 27.0h0M478.4 11.0h0M478.7 14.5h0M490.1 36.3h0M476.0 12.0h0M474.3 18.9h0M483.5 19.3h0M485.7 20.3h0M482.8 21.0h0M488.3 31.0h0M482.5 9.7h0M482.4 14.9h0M464.4 31.2h0M472.8 23.4h0M489.9 30.0h0M489.6 37.5h0M474.0 31.6h0M486.7 39.2h0M483.8 14.0h0M474.7 32.7h0M481.1 15.7h0M477.3 20.9h0M484.2 31.7h0M475.2 20.7h0M473.4 25.7h0M468.3 22.8h0M474.2 15.3h0M469.2 25.2h0M486.7 38.7h0M466.4 31.5h0M471.7 29.6h0M480.8 16.2h0M466.5 27.1h0M482.5 9.3h0M482.9 22.1h0M489.5 25.4h0M479.1 29.8h0M479.8 16.1h0M476.2 21.8h0M462.5 27.6h0M490.0 34.3h0M471.3 29.6h0M487.3 27.0h0M476.0 17.6h0M483.5 19.2h0M489.5 25.7h0M470.2 26.4h0M488.2 33.3h0M490.0 21.1h0M465.8 25.4h0M482.9 10.8h0M479.9 27.1h0M483.2 13.7h0M482.1 14.3h0M490.3 32.6h0M469.4 24.7h0M474.9 32.6h0M480.7 14.6h0M485.4 20.4h0M480.5 21.2h0M463.1 31.1h0M470.4 32.3h0M482.7 25.7h0M472.6 16.7h0M472.2 31.1h0M487.7 31.4h0M483.6 17.2h0M483.7 26.2h0M482.5 24.7h0M473.3 33.3h0M478.7 25.2h0M474.7 33.8h0M469.7 22.2h0M467.0 26.0h0M487.0 28.4h0M477.2 19.9h0M479.5 14.0h0M464.9 32.0h0M483.5 23.5h0M475.1 23.7h0M482.2 22.5h0M476.6 25.8h0M468.4 20.0h0M467.8 24.4h0M475.6 14.0h0M471.0 31.9h0M465.4 26.9h0M481.1 24.7h0M469.9 26.5h0M482.4 25.0h0M475.7 14.0h0M476.0 28.3h0M486.7 37.2h0M481.3 17.7h0M471.5 27.2h0M486.1 22.3h0M477.6 25.1h0M488.2 26.5h0M484.5 25.7h0M471.9 22.7h0M487.7 27.8h0M486.8 29.6h0M478.7 29.8h0M465.5 28.8h0M488.6 20.7h0M479.2 16.4h0M475.3 20.7h0M466.0 30.7h0M489.7 40.1h0M474.3 20.5h0M470.5 27.4h0M486.0 15.6h0M478.9 18.7h0M486.7 23.6h0M467.3 27.4h0M476.3 21.8h0M490.7 33.8h0M471.1 31.4h0M470.2 22.7h0M487.8 38.1h0M473.8 20.3h0M469.3 22.2h0M477.3 11.8h0M484.9 30.8h0M473.6 20.3h0M486.4 27.2h0M462.1 27.8h0M471.2 29.7h0M466.8 25.0h0M469.6 27.2h0M475.8 26.7h0M477.9 20.7h0M486.4 32.4h0M482.1 21.5h0M487.1 36.7h0M468.9 23.7h0M478.3 19.3h0M477.3 28.5h0M483.2 15.3h0M481.1 20.4h0M478.9 24.9h0M472.4 18.0h0M484.9 14.4h0M479.5 28.5h0M474.2 31.7h0M488.8 28.6h0M475.7 23.2h0M472.1 16.9h0M488.4 32.2h0M471.5 16.3h0M477.1 25.4h0M481.9 31.4h0M482.8 19.7h0M472.5 29.5h0M477.1 31.0h0M484.9 31.3h0M468.7 27.0h0M489.9 26.2h0M481.2 30.2h0M476.2 9.5h0M477.2 27.5h0M483.3 26.2h0M481.5 19.2h0M485.1 12.0h0M485.7 32.6h0M479.2 12.7h0M488.3 33.3h0M470.3 22.9h0M478.4 11.0h0M472.8 18.0h0M480.0 26.0h0M479.4 20.3h0M490.2 37.8h0M483.7 13.8h0M466.1 28.8h0M474.6 32.4h0M481.1 25.3h0M476.3 30.5h0M480.4 15.7h0M477.9 14.9h0M490.3 28.8h0M470.7 26.5h0M490.1 40.7h0M487.2 32.9h0M485.9 19.6h0M487.9 35.2h0M465.7 31.0h0M471.1 21.4h0M467.0 29.0h0M486.7 33.2h0M463.6 29.0h0M489.0 38.2h0M471.3 22.3h0M474.3 21.3h0M487.5 29.3h0M478.5 20.0h0M467.2 25.2h0M491.1 38.2h0M479.1 15.7h0M469.5 24.0h0M481.6 17.9h0M476.1 24.5h0M480.1 29.5h0M486.3 29.4h0M469.2 19.9h0M469.9 28.1h0M476.5 18.1h0M488.0 22.0h0M489.8 30.6h0M490.6 27.0h0M488.1 20.3h0M484.4 15.8h0M477.2 11.0h0M482.0 28.8h0M485.1 11.3h0M469.2 31.0h0M463.4 26.8h0M471.0 29.0h0M475.8 18.6h0M466.1 27.9h0M489.8 36.1h0M486.2 14.5h0M482.1 27.7h0M478.3 28.3h0M488.1 31.4h0M476.1 20.5h0M469.2 28.0h0M487.2 26.1h0M484.4 13.1h0M472.4 32.1h0M474.0 34.6h0M475.7 31.9h0M486.1 36.4h0M485.3 29.1h0M485.4 21.9h0M478.2 25.7h0M481.4 25.3h0M486.4 39.7h0M488.4 38.7h0M468.9 30.9h0M484.6 24.7h0M476.0 16.0h0M477.5 29.9h0M480.0 18.2h0M468.9 20.3h0M472.0 17.3h0M487.3 25.0h0M470.5 24.7h0M476.5 20.5h0M486.5 17.4h0M480.9 27.9h0M483.7 19.0h0M471.9 23.2h0M487.5 27.8h0M485.2 27.8h0M485.6 16.4h0M469.2 28.3h0M475.3 16.8h0M484.7 18.2h0M482.1 27.7h0M469.8 33.5h0M487.0 31.3h0M488.4 27.1h0M466.1 30.3h0M488.5 38.2h0M488.6 31.0h0M471.5 22.6h0M479.4 23.7h0M471.5 24.1h0M478.6 19.7h0M471.9 25.4h0M479.1 14.9h0M473.7 27.7h0M468.1 32.8h0M479.9 16.5h0M488.3 24.2h0M477.7 23.5h0M490.1 29.7h0M477.3 28.1h0M484.5 28.0h0M486.4 23.4h0M480.2 24.8h0M472.4 28.0h0M462.4 29.9h0M480.0 25.9h0M487.5 39.1h0M473.2 21.2h0M484.2 29.4h0M487.4 25.7h0M473.5 28.4h0M469.7 27.4h0M484.0 15.6h0M479.7 22.5h0M468.9 24.7h0M481.4 29.0h0M471.0 18.1h0M478.1 21.6h0M488.2 36.1h0M479.4 11.9h0M486.5 19.2h0M476.9 20.4h0M489.6 35.5h0M487.4 35.2h0M470.8 27.6h0M489.3 26.8h0M478.6 13.0h0M480.8 13.8h0M479.6 10.1h0M474.6 25.4h0M480.1 27.8h0M475.8 23.1h0M479.7 17.2h0M490.9 30.1h0M468.7 29.6h0M487.1 16.2h0M480.7 26.7h0M466.8 31.4h0M475.6 19.9h0M485.3 20.8h0M478.4 22.0h0M488.0 21.9h0M479.7 14.7h0M480.1 17.1h0M477.8 30.5h0M476.5 16.0h0M482.1 15.4h0M484.3 23.7h0M488.0 36.4h0M472.3 16.0h0M481.9 17.0h0M467.6 25.6h0M478.1 11.2h0M476.4 19.9h0M470.9 17.9h0M479.6 17.6h0M468.7 28.8h0M480.5 28.0h0M482.6 25.9h0M483.0 26.7h0M485.5 18.1h0M468.5 20.0h0M489.0 22.9h0M485.9 15.5h0M467.5 22.6h0M474.3 17.2h0M477.3 28.9h0M469.9 24.2h0M480.1 16.0h0M476.4 11.2h0M470.3 21.6h0M474.8 23.4h0M483.3 22.4h0M475.4 18.6h0M473.3 14.8h0M485.8 14.5h0M472.8 29.2h0M463.3 28.4h0M478.2 25.3h0M473.9 26.6h0M483.2 11.4h0M482.5 17.0h0M485.1 14.2h0M488.8 25.6h0M488.4 25.5h0M480.9 28.7h0M480.7 27.0h0M469.2 33.0h0M469.7 22.1h0M484.8 15.8h0M473.8 29.1h0M472.9 31.3h0M475.9 20.6h0M482.1 15.8h0M471.2 32.9h0M479.8 21.8h0M481.7 12.8h0M472.2 19.4h0M487.1 38.8h0M483.0 20.7h0M462.6 29.1h0M487.2 26.2h0M478.3 28.7h0M470.3 28.6h0M466.3 22.5h0M484.4 20.3h0M477.6 12.7h0M466.2 30.3h0M481.7 17.2h0M486.1 35.1h0M477.6 21.5h0M465.5 30.3h0M479.1 18.1h0M472.0 28.3h0M471.9 20.8h0M469.8 28.6h0M469.2 29.7h0M474.2 20.2h0M480.1 30.4h0M467.8 31.4h0M472.5 22.9h0M479.2 8.7h0M480.0 21.7h0M465.1 25.8h0M475.2 21.5h0M485.8 31.9h0M475.3 20.9h0M463.4 26.4h0M475.3 20.3h0M471.1 17.6h0M478.2 21.0h0M480.5 20.4h0M483.4 29.6h0M486.7 24.8h0M479.4 16.4h0M475.3 9.2h0M474.8 27.5h0M469.6 19.9h0M486.6 30.6h0M476.7 8.7h0M474.7 21.7h0M483.5 10.1h0M473.9 12.7h0M488.3 35.2h0M479.4 10.4h0M472.0 17.7h0M468.2 26.6h0M468.9 29.8h0M489.1 31.6h0M476.3 18.5h0M482.9 16.8h0M483.0 20.6h0M474.9 26.1h0M467.5 30.4h0M472.6 31.2h0M483.5 11.5h0M490.4 26.4h0M488.7 34.5h0M468.4 27.1h0M487.5 26.4h0M477.8 20.0h0M465.7 32.7h0M474.0 30.5h0M482.1 13.6h0M484.4 24.2h0M476.9 17.0h0M475.7 20.1h0M463.4 27.9h0M478.1 29.3h0M486.7 22.1h0M481.7 12.6h0M469.9 29.4h0M487.2 22.7h0M480.1 25.5h0M472.4 19.0h0M481.8 22.5h0M476.1 11.3h0M485.2 12.2h0M473.8 31.4h0M488.8 29.6h0M470.5 27.9h0M464.2 30.4h0M486.5 31.7h0M474.1 31.1h0M480.6 26.6h0M482.0 21.6h0M487.8 19.6h0M482.7 12.8h0M473.4 24.2h0M471.4 20.9h0M480.1 20.2h0M485.7 37.3h0M490.0 29.4h0M484.8 29.2h0M489.3 32.0h0M482.9 14.9h0M467.6 27.8h0M471.6 35.1h0M485.0 28.4h0M478.8 30.1h0M474.0 20.4h0M468.9 21.0h0M468.7 30.8h0M484.5 13.7h0M480.6 31.4h0M473.5 28.3h0M469.6 24.6h0M479.2 23.6h0M479.5 10.8h0M484.6 29.5h0M478.8 17.6h0M486.3 30.9h0M488.9 35.7h0M476.1 27.5h0M480.5 17.5h0M479.5 9.6h0M465.6 23.7h0M474.1 19.4h0M487.3 26.5h0M489.3 27.1h0M480.6 29.3h0M474.0 23.1h0M483.5 17.5h0M474.0 15.2h0M471.0 25.7h0M475.7 19.4h0M471.3 20.1h0M467.9 25.1h0M485.5 22.9h0M472.6 20.6h0M480.3 17.6h0M471.5 26.0h0M480.9 29.4h0M489.1 33.3h0M479.9 19.8h0M481.7 26.1h0M483.5 15.6h0M470.4 23.2h0M480.1 21.0h0M479.7 20.1h0M480.7 29.9h0M480.6 19.9h0M488.1 26.3h0M469.2 26.3h0M478.9 12.3h0M478.4 17.1h0M473.2 10.6h0M473.8 12.7h0M475.6 21.8h0M487.5 28.3h0M469.1 23.1h0M488.6 23.9h0M489.8 39.1h0M486.6 20.0h0M472.8 29.6h0M481.4 14.2h0M482.7 12.9h0M478.9 31.9h0M474.9 27.2h0M481.4 23.2h0M479.7 20.4h0M467.5 27.7h0M478.3 25.8h0M466.9 25.7h0M486.4 30.8h0M489.3 28.6h0M475.3 13.7h0M479.6 17.1h0M469.7 25.9h0M469.3 22.4h0M488.1 29.6h0M466.2 32.3h0M470.9 27.2h0M487.5 34.2h0M477.5 31.5h0M480.4 23.5h0M486.0 18.8h0M476.3 25.3h0M470.6 19.5h0M486.7 33.0h0M480.3 24.9h0M486.2 28.4h0M479.2 29.3h0M470.1 26.5h0M480.7 16.0h0M484.8 26.8h0M476.6 18.6h0M480.5 27.4h0M475.4 32.2h0M470.7 25.2h0M481.7 16.7h0M487.9 29.7h0M474.3 25.3h0M475.9 17.3h0M478.5 23.4h0M473.0 29.1h0M477.4 17.4h0M474.3 31.6h0M477.2 19.5h0M484.1 18.7h0M473.8 29.0h0M476.7 31.1h0M476.2 23.0h0M485.5 26.0h0M463.2 25.7h0M465.2 30.2h0M469.2 27.9h0M471.4 24.0h0M475.1 13.5h0M472.9 33.5h0M485.3 23.8h0M470.6 19.9h0M483.4 21.2h0M479.4 10.4h0M468.7 25.3h0M487.0 30.8h0M481.3 28.4h0M478.9 11.3h0M486.3 13.8h0M486.6 38.2h0M487.1 34.6h0M477.6 21.6h0M482.0 12.9h0M468.8 31.3h0M470.0 29.0h0M477.8 7.2h0M489.9 37.2h0M488.8 32.9h0M478.6 25.3h0M473.4 20.8h0M483.9 29.0h0M469.7 25.3h0M486.9 27.7h0M484.5 13.2h0M486.8 27.5h0M475.3 29.1h0M470.3 28.9h0M473.7 30.8h0M483.7 23.2h0M481.0 22.8h0M475.1 29.1h0M473.8 26.8h0M484.5 14.7h0M478.8 29.2h0M489.1 38.5h0M481.5 14.6h0M475.9 28.0h0M484.3 29.9h0M486.7 32.7h0M479.2 28.4h0M480.6 20.6h0M489.3 33.7h0M477.6 19.8h0M481.7 28.0h0M476.6 14.6h0M482.4 15.4h0M471.8 27.6h0M481.4 25.2h0M484.9 19.6h0M486.8 39.5h0M473.8 19.9h0M486.4 30.1h0M472.8 25.7h0M475.6 23.0h0M479.2 27.4h0M487.5 36.0h0M481.9 16.5h0M486.8 35.1h0M485.2 26.8h0M476.3 25.1h0M481.6 18.3h0M489.7 29.9h0M475.6 29.9h0M487.2 27.5h0M483.8 16.7h0M487.9 32.3h0M476.1 17.6h0M475.8 19.8h0M486.5 18.3h0M481.1 20.2h0M477.7 25.3h0M478.6 26.4h0M478.0 24.0h0M489.2 36.7h0M481.0 20.1h0M482.5 13.8h0M476.8 25.5h0M488.4 37.2h0M471.6 31.0h0M478.3 18.7h0M474.6 27.4h0M475.2 31.5h0M479.9 21.9h0M481.7 29.5h0M478.2 24.8h0M487.9 28.6h0M476.4 24.8h0M478.8 22.4h0M487.6 24.6h0M481.5 17.7h0M489.2 36.7h0M481.7 14.1h0M486.2 31.8h0M487.1 33.0h0M481.9 25.1h0M484.1 12.7h0M474.5 20.3h0M476.6 24.1h0M485.7 31.6h0M489.6 27.0h0M489.6 31.9h0M486.8 23.3h0M488.9 30.6h0M483.6 22.4h0M485.9 30.3h0M472.7 22.9h0M483.4 14.6h0M475.5 18.2h0M486.8 31.7h0M471.0 24.1h0M477.4 17.4h0M478.3 13.5h0M486.3 35.3h0M486.9 28.9h0M488.2 30.4h0M478.2 25.7h0M487.4 34.9h0M471.4 22.8h0M485.2 15.1h0M483.4 13.8h0M482.7 15.2h0M482.3 13.4h0M486.7 22.2h0M476.9 26.7h0M489.3 26.8h0M477.1 19.3h0M484.7 27.0h0M483.6 20.6h0M476.7 13.3h0M484.4 23.6h0M475.4 17.2h0M485.7 17.0h0M481.4 28.2h0M477.9 16.4h0M473.3 26.3h0M488.0 27.5h0M476.1 15.2h0M489.7 31.1h0M487.9 27.5h0M484.3 13.8h0M487.0 38.3h0M480.9 25.4h0M482.0 18.2h0M474.4 29.6h0M477.6 18.7h0M476.5 21.8h0M483.3 29.1h0M484.9 25.5h0M481.2 24.1h0M474.2 23.1h0M485.2 30.1h0M480.0 14.0h0M485.3 16.2h0M484.8 14.6h0M481.4 27.9h0M480.4 21.6h0M486.9 27.9h0M476.0 13.0h0M485.9 14.5h0M479.1 15.6h0M488.9 28.8h0M490.1 29.3h0M484.3 27.3h0M482.9 21.0h0M480.9 15.1h0M488.1 32.6h0M476.7 15.5h0M486.9 38.3h0M474.1 25.4h0M483.5 13.8h0M484.2 17.5h0M478.6 18.0h0M474.9 24.1h0M486.0 20.8h0M482.9 29.7h0M480.1 20.6h0M487.8 24.1h0M480.0 19.2h0M481.2 16.4h0M486.7 19.5h0M484.8 16.0h0M482.2 19.7h0M479.8 21.2h0M488.3 29.5h0M482.6 29.3h0M479.7 13.9h0M485.0 17.2h0M482.7 29.3h0M484.6 18.5h0M484.2 20.0h0M469.9 30.6h0M479.1 24.8h0M476.7 28.3h0M477.7 23.7h0M485.5 25.5h0M480.0 20.2h0M488.5 26.6h0M489.1 28.4h0M472.9 27.9h0M473.7 20.0h0M474.3 23.2h0M483.6 14.2h0M473.4 29.7h0M477.5 27.5h0M488.5 32.6h0M484.4 22.8h0M470.2 26.5h0M489.2 24.9h0M489.7 26.1h0M487.2 28.2h0M485.5 19.3h0M484.7 24.6h0M470.9 27.9h0M486.7 26.2h0M478.2 25.4h0M473.3 22.6h0M483.6 18.3h0M488.3 26.0h0M472.1 20.3h0M483.2 20.4h0M490.5 35.4h0M482.4 20.2h0M476.9 30.7h0M474.0 22.4h0M477.5 17.4h0M474.9 29.1h0M488.0 26.8h0M473.5 26.2h0M471.0 29.1h0M473.4 24.4h0M481.8 18.6h0M472.2 27.2h0M484.6 23.7h0M475.0 16.7h0M472.4 20.7h0M472.5 30.0h0M484.3 18.6h0M484.9 17.5h0M477.4 14.7h0M487.2 31.6h0M476.5 23.9h0M480.4 17.3h0M488.6 26.8h0M476.3 21.6h0M475.8 27.8h0M475.9 18.5h0M473.0 28.5h0M482.5 24.6h0M478.1 22.9h0M489.5 35.2h0M486.7 30.2h0M480.5 27.1h0M478.9 18.6h0M484.2 24.8h0M473.3 23.7h0M480.5 18.4h0M483.8 19.2h0M486.9 21.1h0M477.7 23.7h0M484.6 16.6h0M480.3 14.7h0M481.4 28.0h0M485.2 20.6h0M479.1 22.7h0M486.8 30.2h0M476.8 28.4h0M487.6 24.1h0M488.1 30.3h0M488.7 36.1h0M483.5 15.5h0M490.4 33.3h0M488.7 27.9h0M487.7 38.6h0M483.2 24.7h0M489.5 39.3h0M487.8 27.1h0M470.8 27.1h0M487.3 34.7h0M488.1 27.7h0M483.5 16.0h0M475.0 18.9h0M472.4 25.0h0M482.3 13.8h0M479.0 15.6h0M473.1 29.7h0M480.3 28.8h0M476.3 23.2h0M481.5 15.8h0M481.5 18.7h0M483.6 20.7h0M477.9 15.6h0M486.8 32.0h0M481.1 27.2h0M473.6 30.4h0M480.6 20.7h0M480.4 14.7h0M471.1 28.6h0M481.4 28.2h0M471.9 24.8h0M479.5 18.7h0M483.7 25.7h0M477.3 20.7h0M477.9 21.1h0M473.8 23.1h0M483.5 20.6h0M481.8 13.3h0M483.8 18.7h0M489.3 28.6h0M485.6 22.3h0M486.0 37.3h0M480.0 27.7h0M488.6 34.8h0M485.0 30.3h0M484.6 26.1h0M488.0 23.7h0M473.1 28.8h0M485.0 19.0h0M486.4 38.7h0M486.7 29.8h0M480.1 12.9h0M475.3 25.6h0M475.4 30.7h0M487.3 38.3h0M487.1 16.1h0M476.6 24.1h0M481.1 20.7h0M489.7 27.9h0M477.9 14.8h0M478.1 28.0h0M483.9 21.8h0M476.6 17.2h0M481.0 15.3h0M475.9 18.2h0M479.0 15.9h0M470.6 27.6h0M482.4 29.0h0M487.5 24.6h0M487.9 32.4h0M480.4 23.2h0M485.4 24.4h0M476.9 28.0h0M488.0 31.4h0M475.8 29.6h0M483.1 13.7h0M488.2 21.2h0M484.2 23.5h0M473.1 28.7h0M477.3 22.8h0M475.5 20.5h0M478.8 28.6h0M489.2 33.1h0M473.6 29.9h0M484.3 21.7h0M487.7 30.3h0M485.1 21.7h0M486.7 22.3h0M488.8 36.6h0M486.8 23.4h0M479.5 25.7h0M481.5 15.7h0M470.9 27.1h0M477.1 27.7h0M475.3 23.9h0M488.3 25.5h0M480.8 16.3h0M483.9 14.2h0M486.2 39.1h0M477.9 21.2h0M487.3 32.2h0M474.8 18.6h0M488.9 27.5h0M485.8 21.6h0M484.0 14.3h0M483.0 13.7h0M489.1 38.7h0M480.9 16.6h0M489.4 36.9h0M476.4 14.1h0M486.0 27.3h0M488.2 24.3h0M479.1 26.0h0M489.0 27.0h0M472.5 26.5h0M485.8 24.0h0M486.7 26.5h0M489.9 32.0h0M480.5 13.3h0M481.5 18.8h0M482.6 13.6h0M476.9 24.5h0M489.2 33.2h0M476.4 23.1h0M478.5 28.5h0M479.0 18.0h0M478.2 17.3h0M484.1 23.2h0M482.0 26.0h0M471.9 26.2h0M484.2 16.6h0M486.2 27.2h0M479.1 19.5h0M482.0 19.8h0M479.5 17.0h0M479.1 22.5h0M476.5 20.7h0M489.6 36.2h0M469.1 28.3h0M486.5 22.2h0M477.2 20.1h0M480.1 20.4h0M478.3 16.3h0M485.0 24.1h0M472.0 22.3h0M472.4 24.0h0M476.8 20.2h0M475.0 24.7h0M483.4 14.0h0M488.3 31.6h0M474.2 28.1h0M479.6 14.7h0M473.3 26.4h0M474.8 22.3h0M475.5 20.4h0M474.2 28.0h0M474.2 24.7h0M475.5 16.1h0M470.9 31.2h0M489.2 27.2h0M486.8 26.6h0M479.7 24.7h0M480.2 14.0h0M478.5 23.9h0M485.5 24.3h0M478.9 23.6h0M489.8 23.0h0M481.9 27.5h0M487.5 25.9h0M483.2 13.0h0M482.6 19.2h0M482.6 24.5h0M482.1 18.3h0M472.5 22.6h0M480.6 13.0h0M488.0 27.7h0M483.4 22.6h0M485.4 17.1h0M487.6 28.0h0M477.7 27.7h0M482.3 22.7h0M487.4 33.4h0M471.9 27.9h0M489.0 37.6h0M487.1 28.5h0M484.0 25.0h0M482.0 30.7h0M472.0 27.1h0M476.4 17.6h0M476.7 25.5h0M475.2 18.5h0M479.4 24.1h0M484.6 20.7h0M487.4 26.1h0M473.9 19.7h0M481.0 24.3h0M474.4 18.7h0M485.8 17.3h0M481.8 27.0h0M479.5 18.8h0M490.7 36.5h0M479.7 13.8h0M475.8 24.8h0M477.7 22.5h0M478.4 24.3h0M488.3 28.4h0M477.6 15.5h0M489.2 37.6h0M486.9 29.3h0M482.5 17.9h0M460.0 15.4h0M460.0 20.0h0M462.4 21.0h0M456.1 23.1h0M459.3 26.4h0M462.9 25.4h0M453.1 32.1h0M454.7 38.3h0M457.0 29.4h0M458.4 31.3h0M464.3 35.2h0M470.3 37.3h0M476.8 5.8h0M483.2 5.6h0M474.0 9.0h0M472.4 13.2h0M466.5 20.5h0M486.3 41.6h0M464.0 22.4h0M461.8 28.5h0M467.7 36.0h0M478.6 7.0h0M481.6 8.2h0M475.3 6.9h0M484.6 6.0h0M495.6 49.0h0M494.8 40.2h0M494.5 46.1h0M494.1 43.7h0M492.6 36.5h0M490.5 40.7h0M492.8 38.0h0M494.7 37.4h0M492.3 41.7h0M491.4 46.7h0M491.2 35.2h0M493.6 47.4h0M494.7 38.6h0M491.6 36.9h0M493.3 43.0h0M494.2 42.2h0M492.8 49.5h0M492.8 47.1h0M493.6 36.0h0M491.2 45.1h0M492.7 48.8h0M490.5 35.4h0M490.9 48.2h0M493.4 39.9h0M491.3 44.3h0M492.3 47.4h0M490.2 42.4h0M490.6 43.7h0M492.7 37.5h0M490.8 40.3h0M491.0 42.7h0M494.1 37.9h0M494.2 41.2h0M490.8 35.2h0M492.9 41.8h0M492.5 46.3h0M490.5 36.8h0M490.8 37.8h0M491.2 40.3h0M492.2 48.1h0M491.8 38.0h0M491.6 37.8h0M495.3 47.7h0M493.3 37.8h0M493.9 46.9h0M491.5 40.6h0M491.0 35.0h0M490.1 36.9h0M490.7 38.7h0M493.8 43.8h0M494.4 35.1h0M491.4 38.4h0M490.3 35.1h0M491.0 43.1h0M491.4 44.4h0M491.3 36.5h0M492.5 36.2h0M493.7 45.6h0M492.9 47.8h0M492.7 35.2h0M490.5 39.2h0M491.8 44.3h0M492.8 47.2h0M491.2 42.7h0M491.2 48.8h0M495.3 36.1h0M493.2 46.9h0M494.2 44.9h0M491.1 37.1h0M491.7 41.0h0M491.5 49.6h0M491.2 36.8h0M495.3 37.5h0M491.3 44.1h0M490.8 42.2h0M495.0 40.6h0M492.8 41.1h0M490.8 39.4h0M495.0 38.3h0M491.4 37.0h0M490.6 36.2h0M493.7 36.9h0M491.0 36.2h0M495.2 42.8h0M492.1 41.4h0M492.6 44.8h0M492.0 44.2h0M491.5 35.1h0M494.0 37.1h0M491.8 46.4h0M491.4 36.5h0M491.1 35.5h0M493.9 40.7h0M491.7 44.7h0M494.4 49.2h0M491.7 39.1h0M492.8 43.4h0M495.1 40.5h0M493.5 40.6h0M493.4 48.2h0M495.5 44.3h0M494.0 43.7h0M494.3 45.6h0M493.7 38.2h0M494.1 48.1h0M493.1 36.3h0M493.4 48.3h0M495.0 37.7h0M491.1 47.1h0M492.2 39.0h0M495.8 45.9h0M492.2 49.2h0M494.6 43.6h0M490.7 40.9h0M492.0 35.9h0M491.0 42.2h0M491.1 35.5h0M492.8 48.0h0M494.0 47.7h0M491.2 34.8h0M493.8 46.8h0M492.1 43.1h0M493.9 41.4h0M495.7 47.7h0M494.9 43.2h0M491.2 36.3h0M491.1 38.0h0M491.6 44.5h0M494.1 35.5h0M490.4 40.8h0M494.0 44.8h0M491.0 42.6h0M494.5 41.6h0M494.8 48.7h0M490.8 41.9h0M492.3 34.7h0M492.7 38.4h0M493.8 41.0h0M493.7 35.5h0M491.4 37.7h0M494.2 46.6h0M493.3 35.9h0M491.4 47.1h0M492.1 38.9h0M494.5 38.5h0M494.0 43.6h0M493.0 43.9h0M490.3 38.5h0M490.7 35.5h0M493.4 47.3h0M493.5 38.8h0M490.9 38.8h0M490.5 36.1h0M495.9 51.7h0M501.7 69.3h0M503.9 67.6h0M503.3 64.6h0M496.8 55.9h0M496.6 57.8h0M504.0 71.6h0M499.0 56.4h0M499.1 61.5h0M498.5 63.8h0M498.6 63.8h0M502.1 68.1h0M502.0 72.2h0M498.9 61.6h0M501.4 59.9h0M501.8 54.7h0M495.2 61.6h0M502.1 52.9h0M500.0 71.3h0M497.6 53.7h0M495.6 56.6h0M501.1 60.2h0M498.5 61.9h0M495.4 64.5h0M502.8 53.5h0M497.2 54.2h0M498.6 60.0h0M495.3 60.3h0M502.8 59.3h0M496.1 64.7h0M496.7 55.9h0M501.9 61.8h0M495.9 55.9h0M496.1 66.1h0M498.6 66.1h0M499.1 64.1h0M496.4 60.1h0M501.2 63.1h0M501.1 65.8h0M502.7 66.0h0M496.6 61.9h0M501.5 60.6h0M496.0 64.7h0M498.0 60.8h0M498.2 63.2h0M501.8 55.1h0M500.3 56.0h0M495.2 58.8h0M503.2 58.8h0M497.7 62.4h0M503.7 64.0h0M502.2 53.3h0M500.6 68.3h0M497.9 58.3h0M497.4 54.7h0M500.3 70.9h0M496.8 53.4h0M500.1 62.0h0M504.2 68.0h0M501.9 69.3h0M501.9 68.8h0M497.9 55.0h0M501.6 65.7h0M496.0 63.9h0M494.4 57.1h0M501.7 71.7h0M495.5 55.6h0M498.7 57.2h0M499.8 66.7h0M501.1 63.6h0M498.0 53.0h0M498.8 67.7h0M498.8 63.2h0M501.6 69.9h0M500.6 57.7h0M497.1 57.0h0M496.9 59.6h0M503.1 62.9h0M496.9 55.9h0M499.7 57.2h0M499.1 62.8h0M498.1 56.7h0M495.7 62.9h0M500.7 55.4h0M502.3 65.5h0M495.7 62.9h0M500.3 53.1h0M499.6 61.7h0M500.5 65.6h0M502.7 63.8h0M498.4 64.3h0M498.4 59.8h0M500.5 54.9h0M497.7 53.4h0M502.1 63.5h0M502.4 65.9h0M496.6 64.2h0M502.1 66.4h0M500.4 69.1h0M496.9 57.0h0M500.3 55.0h0M501.8 54.9h0M498.8 53.4h0M498.6 68.7h0M500.8 70.8h0M500.1 61.6h0M498.8 59.9h0M497.3 54.8h0M496.6 53.6h0M501.7 68.2h0M499.1 67.3h0M498.6 59.8h0M498.3 66.7h0M502.9 67.2h0M498.2 58.6h0M502.7 59.9h0M498.6 62.0h0M501.1 55.8h0M503.9 68.7h0M499.3 58.0h0M497.6 66.6h0M500.9 54.7h0M501.3 69.3h0M503.0 57.6h0M496.4 61.6h0M501.8 67.8h0M500.4 68.5h0M500.6 57.9h0M498.3 62.9h0M498.4 56.1h0M500.8 62.2h0M500.2 56.7h0M501.0 68.5h0M496.3 62.1h0M502.9 70.8h0M502.7 68.2h0M502.1 55.2h0M498.6 65.6h0M501.1 62.7h0M497.1 56.2h0M496.0 55.4h0M503.9 71.4h0M497.9 57.7h0M499.9 54.1h0M495.9 55.9h0M501.7 56.4h0M498.6 61.8h0M500.3 66.6h0M496.7 58.2h0M500.5 58.4h0M501.9 60.6h0M499.9 59.2h0M496.8 64.6h0M496.6 64.1h0M498.5 63.4h0M503.0 69.0h0M495.5 56.8h0M498.9 53.6h0M503.4 60.3h0M499.4 56.8h0M496.2 61.4h0M495.6 58.8h0M497.3 52.5h0M500.7 53.0h0M499.2 71.2h0M495.2 57.5h0M501.8 67.5h0M501.3 68.4h0M503.1 70.1h0M501.3 68.6h0M497.5 53.4h0M499.2 69.2h0M502.8 55.9h0M500.9 60.2h0M498.5 55.4h0M495.5 56.5h0M502.2 58.7h0M497.1 66.9h0M498.8 68.7h0M499.4 65.8h0M501.2 63.5h0M499.7 57.7h0M502.4 55.0h0M503.4 65.9h0M495.8 56.7h0M502.9 60.4h0M498.6 62.1h0M496.6 61.5h0M502.5 63.8h0M499.5 65.7h0M501.3 70.3h0M500.7 60.4h0M498.0 57.4h0M497.6 62.4h0M502.2 57.9h0M500.9 59.0h0M502.6 59.9h0M500.2 64.7h0M496.5 58.9h0M504.1 56.7h0M503.2 64.6h0M502.9 63.2h0M502.0 53.3h0M499.3 59.1h0M503.2 65.0h0M498.3 65.0h0M503.1 57.5h0M503.3 62.8h0M501.4 58.1h0M501.1 71.5h0M498.6 55.8h0M500.4 60.1h0M501.7 69.5h0M502.4 64.3h0M498.3 55.4h0M498.8 57.1h0M503.0 58.0h0M501.3 64.8h0M501.2 56.0h0M502.6 53.9h0M497.4 64.2h0M501.2 63.5h0M502.6 67.4h0M501.8 61.5h0M504.1 68.0h0M500.4 64.4h0M497.4 60.9h0M502.7 69.0h0M502.4 67.7h0M495.9 63.4h0M501.8 69.8h0M500.3 66.4h0M498.9 68.0h0M503.6 67.8h0M502.6 58.3h0M500.2 59.4h0M500.5 71.2h0M498.2 64.5h0M499.8 59.5h0M501.9 57.3h0M494.7 55.7h0M502.6 65.9h0M501.2 56.8h0M496.0 62.1h0M498.0 58.9h0M501.0 53.9h0M503.0 57.7h0M499.8 70.0h0M501.1 53.3h0M496.3 63.3h0M496.8 63.8h0M497.1 65.3h0M496.2 52.7h0M502.4 62.4h0M501.7 61.0h0M503.5 72.2h0M502.5 53.6h0M498.9 70.0h0M501.2 58.1h0M498.6 68.0h0M497.7 66.0h0M503.4 57.7h0M495.3 62.2h0M499.9 61.3h0M495.8 61.7h0M503.1 72.5h0M503.1 60.0h0M501.9 70.2h0M497.2 59.8h0M495.1 54.1h0M501.5 53.9h0M501.0 70.8h0M502.2 56.7h0M497.6 60.8h0M495.8 52.5h0M497.0 59.1h0M498.1 59.5h0M496.8 59.4h0M497.1 55.7h0M503.7 69.6h0M500.1 65.9h0M497.5 54.3h0M497.0 58.3h0M497.1 66.2h0M495.3 55.6h0M501.2 56.1h0M500.0 55.8h0M499.9 65.2h0M500.8 66.4h0M500.3 55.6h0M498.3 65.8h0M499.3 65.3h0M496.4 57.8h0M496.1 62.7h0M500.8 54.5h0M501.3 55.5h0M498.1 65.4h0M500.8 59.2h0M497.4 56.6h0M499.9 62.8h0M503.1 55.9h0M497.3 61.4h0M499.7 65.0h0M495.0 63.7h0M502.3 70.0h0M497.8 55.0h0M496.2 57.8h0M497.4 57.1h0M496.8 55.0h0M500.9 70.3h0M497.6 66.3h0M502.9 65.9h0M496.6 57.5h0M503.7 71.1h0M502.6 60.6h0M495.9 61.7h0M498.0 52.8h0M498.6 56.4h0M499.9 59.1h0M503.4 71.8h0M502.1 56.6h0M500.1 60.9h0M502.3 62.2h0M503.2 53.5h0M496.9 53.4h0M497.1 57.7h0M502.7 68.8h0M501.9 60.1h0M499.7 64.3h0M504.2 69.6h0M502.8 58.2h0M496.9 66.8h0M495.7 57.7h0M498.6 54.8h0M495.5 55.1h0M500.9 54.9h0M500.6 69.3h0M495.0 51.9h0M495.8 51.5h0M495.0 50.1h0M495.0 50.9h0M503.3 72.8h0M504.2 83.1h0M504.0 73.7h0M502.9 76.7h0M503.5 78.9h0M503.4 77.2h0M503.5 81.6h0M503.6 72.6h0M503.8 74.0h0M503.7 82.6h0M503.9 79.0h0M503.6 78.3h0M503.8 80.9h0M503.3 81.0h0M503.7 81.4h0M503.6 76.2h0M503.7 77.0h0M503.4 75.0h0M503.7 73.6h0M504.1 73.6h0M503.6 77.2h0M503.3 74.5h0M503.6 81.4h0M503.1 81.6h0M503.6 74.0h0M504.0 78.6h0M503.9 82.0h0M504.0 82.8h0M503.7 73.5h0M503.4 77.4h0M504.0 82.6h0M513.6 91.4h0M517.7 92.8h0M517.7 107.7h0M508.9 94.6h0M526.9 109.0h0M507.2 101.3h0M509.6 93.2h0M513.5 100.8h0M507.0 106.3h0M508.3 113.1h0M507.1 107.9h0M508.2 106.5h0M506.3 106.5h0M505.2 99.6h0M515.6 88.0h0M524.3 96.9h0M508.7 93.1h0M518.9 101.8h0M517.6 95.0h0M505.0 99.5h0M515.6 100.8h0M512.1 87.7h0M512.7 87.7h0M507.4 86.0h0M506.8 85.7h0M513.0 101.0h0M514.9 108.7h0M508.9 110.2h0M506.0 105.2h0M518.0 94.3h0M513.6 87.6h0M509.9 94.6h0M516.7 90.2h0M515.4 93.2h0M511.2 101.1h0M509.4 105.5h0M513.2 95.0h0M505.7 95.6h0M515.1 94.7h0M507.1 103.7h0M505.4 93.4h0M512.8 112.8h0M516.9 93.1h0M505.7 110.8h0M512.1 114.3h0M526.9 102.1h0M506.8 103.5h0M521.2 103.7h0M515.6 87.9h0M503.4 87.6h0M513.3 91.6h0M518.8 100.8h0M513.6 113.4h0M511.4 115.7h0M522.4 103.1h0M512.7 102.6h0M514.8 94.8h0M521.7 92.8h0M510.5 114.0h0M517.4 91.4h0M520.5 107.8h0M518.2 106.2h0M515.2 109.7h0M518.7 96.4h0M508.5 109.9h0M504.9 103.0h0M519.2 95.5h0M512.2 112.6h0M513.9 100.0h0M518.8 89.7h0M510.9 92.6h0M524.2 110.1h0M527.5 103.1h0M511.7 88.6h0M505.8 109.8h0M512.8 88.2h0M507.6 83.7h0M505.0 82.4h0M509.3 101.7h0M519.2 96.1h0M510.4 92.1h0M503.5 95.8h0M505.2 107.8h0M514.8 105.0h0M523.0 95.5h0M505.4 103.6h0M526.3 103.8h0M524.5 97.0h0M513.1 100.8h0M524.2 99.3h0M527.5 102.7h0M507.5 108.5h0M521.3 92.3h0M528.9 100.3h0M511.0 88.0h0M515.4 90.7h0M505.8 90.3h0M513.1 102.2h0M505.7 91.8h0M509.3 102.5h0M509.4 108.5h0M505.4 105.0h0M505.2 92.6h0M519.2 88.4h0M508.7 89.5h0M505.6 92.9h0M513.2 99.8h0M523.9 105.8h0M516.5 88.5h0M509.9 88.4h0M512.6 85.9h0M517.6 106.4h0M506.8 94.7h0M511.7 87.7h0M525.0 96.1h0M508.3 93.2h0M516.9 100.5h0M512.7 106.4h0M510.6 93.1h0M516.3 102.2h0M522.1 110.3h0M513.1 89.3h0M505.5 86.6h0M521.4 104.6h0M507.6 103.4h0M506.6 96.2h0M517.6 92.8h0M509.9 95.7h0M519.2 111.9h0M505.2 103.6h0M518.4 100.3h0M507.9 100.5h0M519.0 103.6h0M515.2 93.0h0M517.3 92.9h0M512.2 88.9h0M510.9 101.5h0M504.5 90.1h0M507.8 106.8h0M508.3 88.7h0M512.8 109.0h0M514.3 87.7h0M510.7 98.9h0M515.4 100.4h0M506.4 106.5h0M526.0 108.0h0M517.3 110.2h0M522.4 101.5h0M520.2 107.8h0M506.6 111.6h0M514.6 98.6h0M515.0 109.1h0M503.6 96.1h0M508.5 102.1h0M509.5 108.1h0M526.2 104.4h0M511.1 111.4h0M516.0 106.2h0M505.4 86.2h0M510.7 85.0h0M506.9 99.1h0M510.0 104.6h0M506.0 98.4h0M506.2 108.0h0M505.3 101.0h0M513.7 90.8h0M513.1 90.1h0M513.7 110.1h0M508.8 109.8h0M506.1 99.9h0M511.6 113.9h0M518.5 94.8h0M513.2 97.8h0M508.3 93.8h0M516.3 109.1h0M514.1 98.2h0M518.9 113.3h0M525.6 110.0h0M514.0 99.7h0M507.3 87.0h0M506.6 95.2h0M505.8 82.9h0M511.0 114.3h0M510.1 85.9h0M506.5 91.5h0M509.6 104.9h0M511.7 94.2h0M531.6 106.0h0M510.1 113.1h0M511.9 94.8h0M527.4 106.7h0M508.1 91.2h0M518.6 108.7h0M511.7 111.4h0M519.2 95.4h0M508.2 113.5h0M513.8 106.1h0M515.5 105.5h0M506.8 104.9h0M524.3 111.5h0M517.0 102.8h0M508.8 96.4h0M508.6 87.3h0M505.0 108.1h0M529.9 104.9h0M509.8 111.7h0M519.7 101.0h0M519.7 106.0h0M506.4 103.3h0M509.8 97.8h0M504.0 92.0h0M512.7 98.9h0M503.9 92.6h0M508.4 110.1h0M510.2 105.2h0M506.2 101.3h0M514.5 91.0h0M512.0 84.1h0M508.9 112.4h0M504.7 84.5h0M517.7 98.9h0M514.2 98.0h0M510.8 96.5h0M508.0 111.5h0M530.4 104.7h0M517.5 90.6h0M503.5 93.4h0M509.3 114.5h0M506.1 97.9h0M524.1 105.4h0M515.2 106.4h0M524.0 106.2h0M509.5 94.6h0M506.6 103.2h0M519.2 112.9h0M517.0 109.1h0M520.5 109.5h0M510.3 100.6h0M515.7 91.2h0M503.9 89.2h0M507.9 84.0h0M507.4 109.0h0M507.7 102.3h0M509.2 110.5h0M524.0 109.7h0M510.0 87.9h0M513.8 106.7h0M510.0 111.7h0M509.8 99.6h0M521.1 105.4h0M508.1 97.1h0M508.1 84.7h0M513.5 90.9h0M508.7 104.8h0M521.9 100.8h0M508.0 84.6h0M513.4 86.9h0M503.8 84.6h0M515.3 97.3h0M530.6 109.1h0M513.9 89.5h0M519.5 109.8h0M515.1 110.0h0M525.1 90.4h0M514.9 111.6h0M509.6 85.2h0M511.8 86.7h0M521.9 95.7h0M503.2 98.4h0M504.5 104.5h0M507.7 100.0h0M512.6 109.2h0M513.6 109.4h0M517.0 101.9h0M509.6 100.6h0M511.0 86.6h0M510.8 108.2h0M524.1 107.9h0M510.3 101.0h0M509.0 112.1h0M513.9 94.6h0M509.4 90.2h0M520.9 104.9h0M507.9 105.7h0M521.9 103.2h0M524.7 108.6h0M515.1 95.5h0M520.4 104.6h0M511.3 105.5h0M513.3 109.2h0M508.6 102.0h0M520.9 94.0h0M512.7 103.4h0M517.0 92.7h0M512.4 96.7h0M507.0 106.3h0M509.4 107.4h0M511.0 86.7h0M517.5 100.9h0M505.8 94.2h0M519.8 98.4h0M519.8 106.0h0M525.7 110.3h0M517.8 94.5h0M515.4 112.7h0M503.4 82.5h0M520.6 107.6h0M507.3 86.5h0M506.7 93.3h0M513.4 111.7h0M515.7 100.5h0M519.2 96.8h0M519.2 94.4h0M519.9 110.7h0M526.0 94.6h0M514.6 92.7h0M509.0 99.9h0M505.7 105.2h0M520.6 103.6h0M520.8 98.1h0M515.4 113.5h0M521.9 98.2h0M507.4 110.2h0M511.6 93.1h0M514.4 86.2h0M518.6 96.9h0M517.3 86.8h0M519.1 100.6h0M511.6 104.9h0M520.2 97.2h0M511.5 95.1h0M515.6 96.7h0M517.1 98.7h0M510.1 91.9h0M525.4 94.2h0M507.9 100.2h0M506.6 105.7h0M505.4 87.5h0M506.5 84.0h0M508.3 95.6h0M507.5 102.9h0M508.8 90.1h0M512.3 103.3h0M504.8 102.8h0M520.7 111.6h0M511.0 103.0h0M525.4 101.1h0M526.9 97.6h0M507.8 90.6h0M507.3 84.3h0M505.5 87.5h0M519.7 111.5h0M524.7 105.2h0M529.3 98.6h0M513.7 96.4h0M512.9 110.0h0M514.3 110.6h0M511.8 105.9h0M516.9 98.6h0M521.9 97.1h0M507.2 84.4h0M522.6 109.5h0M514.3 98.8h0M508.1 108.8h0M512.1 111.4h0M519.8 91.7h0M522.6 92.0h0M522.4 110.8h0M512.6 98.7h0M524.6 104.1h0M525.2 105.7h0M509.0 88.3h0M505.7 96.7h0M512.0 107.8h0M521.7 103.7h0M521.6 105.4h0M506.4 85.8h0M513.7 99.6h0M510.6 91.8h0M509.2 93.9h0M506.7 105.2h0M514.4 108.1h0M504.2 90.0h0M507.6 85.5h0M517.8 100.4h0M504.9 86.5h0M505.9 98.4h0M520.1 94.9h0M505.2 91.2h0M532.0 102.5h0M515.0 88.1h0M524.6 94.9h0M515.6 106.3h0M507.7 100.7h0M505.3 99.5h0M507.8 97.6h0M522.9 92.9h0M507.8 85.1h0M520.5 91.8h0M513.7 111.8h0M513.4 106.8h0M524.1 96.7h0M507.6 85.0h0M509.4 90.7h0M504.0 89.0h0M515.6 90.1h0M506.8 108.5h0M523.4 108.9h0M511.0 107.6h0M522.8 93.1h0M512.7 111.7h0M506.8 91.2h0M504.7 82.0h0M513.2 93.0h0M516.4 104.0h0M503.8 87.4h0M520.7 108.4h0M516.8 100.5h0M515.2 87.1h0M508.6 88.9h0M511.7 87.7h0M522.1 99.9h0M513.9 88.8h0M514.8 102.4h0M508.0 107.8h0M507.9 104.2h0M505.6 95.5h0M517.5 88.0h0M523.8 110.7h0M522.9 98.0h0M522.1 110.3h0M509.2 107.6h0M507.0 82.9h0M521.2 92.4h0M506.8 108.6h0M516.8 100.9h0M510.7 97.9h0M511.9 96.3h0M512.5 89.1h0M505.5 88.9h0M506.4 95.0h0M526.3 103.7h0M513.1 95.2h0M523.4 101.3h0M515.1 109.0h0M507.5 98.6h0M517.1 105.0h0M518.4 101.4h0M512.5 93.8h0M515.7 88.6h0M531.0 103.7h0M517.4 107.2h0M526.2 95.8h0M518.4 94.3h0M520.8 94.4h0M524.2 107.9h0M517.9 103.4h0M526.5 103.3h0M517.7 102.1h0M504.9 93.9h0M515.5 98.5h0M520.8 112.0h0M512.4 113.5h0M513.8 101.6h0M509.8 98.4h0M520.7 91.2h0M510.0 85.4h0M506.2 99.8h0M505.7 94.6h0M508.7 84.5h0M506.0 101.2h0M524.2 102.4h0M510.9 87.3h0M524.0 97.0h0M530.7 99.8h0M512.4 89.0h0M515.8 88.0h0M515.3 94.7h0M514.2 88.2h0M512.2 108.5h0M512.0 104.3h0M507.4 107.0h0M509.5 108.4h0M519.0 107.9h0M530.3 104.2h0M518.5 100.4h0M513.5 86.2h0M506.4 82.5h0M510.6 93.5h0M510.4 97.0h0M510.1 107.2h0M511.5 101.8h0M520.8 104.9h0M502.6 85.2h0M513.7 93.8h0M517.4 112.0h0M512.4 103.1h0M510.8 102.0h0M504.4 105.9h0M508.8 92.1h0M506.1 82.1h0M525.0 110.3h0M513.1 108.4h0M510.5 93.0h0M531.1 99.0h0M509.0 109.7h0M504.8 89.2h0M507.4 109.9h0M516.2 95.6h0M525.9 99.3h0M514.3 107.3h0M510.9 100.3h0M510.1 88.4h0M515.2 113.7h0M506.3 91.2h0M521.0 94.6h0M519.0 100.3h0M512.3 103.0h0M520.5 89.4h0M520.6 96.9h0M507.0 100.8h0M524.5 99.7h0M522.0 93.9h0M514.3 106.0h0M506.7 85.7h0M507.5 104.4h0M514.9 111.7h0M515.8 107.9h0M511.5 108.8h0M508.9 90.9h0M517.9 110.8h0M520.7 104.0h0M522.9 108.9h0M511.4 90.6h0M510.2 106.6h0M509.0 88.6h0M512.5 93.4h0M505.7 90.5h0M511.0 98.0h0M510.8 86.7h0M507.2 88.6h0M524.5 92.2h0M505.8 87.0h0M523.0 107.8h0M512.0 90.0h0M510.0 97.6h0M503.3 86.8h0M518.4 96.6h0M518.0 94.2h0M510.2 84.9h0M512.3 110.5h0M517.0 111.4h0M515.6 93.9h0M503.6 86.4h0M522.6 95.4h0M528.1 106.7h0M519.1 98.2h0M507.0 100.9h0M521.1 102.8h0M512.4 93.1h0M526.9 104.6h0M514.6 90.8h0M515.1 95.8h0M512.0 111.8h0M524.6 99.9h0M519.9 106.1h0M506.3 90.4h0M512.4 114.4h0M506.6 101.6h0M507.0 92.6h0M511.7 104.9h0M506.7 96.1h0M506.2 97.0h0M514.4 90.1h0M519.5 95.2h0M511.9 101.7h0M511.7 94.0h0M509.8 89.3h0M513.6 113.2h0M516.0 93.7h0M520.1 107.2h0M511.3 84.9h0M523.0 93.4h0M505.4 95.0h0M510.4 84.3h0M517.3 92.5h0M505.2 87.3h0M506.2 94.4h0M509.7 107.8h0M516.2 95.0h0M520.3 90.0h0M521.1 97.5h0M511.2 107.4h0M519.8 107.6h0M511.9 101.4h0M511.8 94.8h0M517.0 98.7h0M506.6 109.5h0M516.0 96.3h0M524.4 106.6h0M511.2 99.5h0M511.1 96.3h0M519.3 92.0h0M509.8 111.7h0M524.2 101.3h0M516.9 99.7h0M517.8 90.6h0M517.4 102.2h0M518.6 101.8h0M517.0 103.6h0M505.3 97.3h0M510.4 109.5h0M508.7 102.7h0M519.2 98.5h0M516.9 107.1h0M504.9 102.1h0M510.7 99.7h0M508.6 111.6h0M504.8 87.5h0M531.4 105.3h0M518.3 89.4h0M516.9 104.3h0M511.8 89.4h0M524.5 103.9h0M507.5 92.8h0M526.1 100.2h0M514.1 100.2h0M509.8 110.8h0M518.5 105.6h0M505.7 86.0h0M520.7 106.3h0M512.0 114.3h0M512.6 86.2h0M508.9 112.4h0M506.1 94.6h0M514.2 93.7h0M522.1 90.7h0M518.9 95.6h0M518.7 101.2h0M511.9 99.0h0M524.4 100.6h0M506.8 105.8h0M513.2 92.3h0M510.4 106.0h0M527.6 96.1h0M519.9 93.9h0M509.6 86.3h0M511.6 114.3h0M512.6 94.1h0M512.2 90.0h0M518.8 91.3h0M509.4 89.8h0M525.2 99.9h0M524.8 93.9h0M511.7 84.5h0M504.9 83.6h0M503.7 97.9h0M505.0 98.3h0M513.3 98.9h0M524.5 97.0h0M517.1 92.8h0M504.4 92.3h0M518.0 110.9h0M508.4 100.6h0M513.8 105.4h0M509.5 101.3h0M529.0 100.7h0M519.2 87.8h0M524.9 96.6h0M509.9 87.8h0M506.1 85.0h0M506.3 93.0h0M510.2 103.3h0M505.1 102.6h0M508.3 93.8h0M511.9 91.2h0M511.4 90.4h0M513.6 100.5h0M513.5 112.9h0M518.3 103.2h0M505.6 95.4h0M524.6 98.2h0M511.6 87.0h0M505.5 89.3h0M506.6 96.9h0M508.2 111.4h0M510.4 110.4h0M506.2 87.4h0M512.9 110.8h0M526.3 100.9h0M508.2 89.8h0M525.5 97.5h0M518.7 92.3h0M517.1 96.4h0M508.8 102.4h0M511.9 99.5h0M515.3 90.8h0M506.3 96.0h0M524.6 99.4h0M511.7 87.9h0M517.6 97.1h0M519.2 103.5h0M510.6 89.5h0M506.3 101.7h0M508.3 100.2h0M508.4 111.1h0M507.6 102.3h0M507.4 102.6h0M526.6 100.6h0M507.8 94.9h0M514.1 100.7h0M529.2 105.4h0M512.2 104.8h0M511.3 93.0h0M520.5 88.6h0M509.0 82.1h0M512.5 94.2h0M511.9 86.7h0M508.1 105.3h0M512.4 95.0h0M525.0 101.0h0M518.8 105.6h0M517.6 113.1h0M506.6 98.4h0M520.7 112.2h0M518.2 105.8h0M506.7 87.3h0M513.3 88.2h0M513.4 85.0h0M507.7 88.7h0M507.7 100.7h0M512.3 88.5h0M517.5 104.3h0M505.0 99.5h0M522.3 106.2h0M514.0 97.6h0M517.9 94.0h0M522.8 97.9h0M521.7 93.2h0M512.3 109.8h0M520.5 99.4h0M512.9 100.7h0M516.2 97.4h0M512.1 106.9h0M533.1 105.6h0M506.2 89.0h0M512.6 102.0h0M509.0 97.8h0M505.3 101.9h0M527.5 99.7h0M508.5 96.1h0M509.5 93.3h0M505.6 90.5h0M519.8 108.7h0M518.0 108.4h0M526.8 102.2h0M513.2 101.9h0M509.9 115.6h0M510.5 103.7h0M514.4 90.9h0M513.1 88.2h0M526.9 101.3h0M505.1 89.3h0M522.8 101.3h0M520.1 91.2h0M521.8 91.3h0M509.4 102.8h0M520.2 94.9h0M507.4 95.6h0M512.4 88.0h0M504.1 97.7h0M511.3 96.7h0M506.7 96.1h0M514.1 110.0h0M517.9 104.7h0M518.3 109.4h0M515.2 99.7h0M507.9 98.3h0M515.1 104.5h0M511.7 103.2h0M504.2 92.0h0M511.8 105.1h0M514.6 95.7h0M515.2 108.5h0M508.9 101.7h0M512.3 100.4h0M528.1 107.6h0M519.2 89.4h0M516.7 89.0h0M522.7 110.9h0M502.8 85.2h0M508.6 87.1h0M505.8 83.6h0M521.4 96.8h0M529.4 104.9h0M511.5 87.9h0M505.7 104.6h0M511.7 97.4h0M514.1 100.4h0M511.1 108.7h0M511.1 88.1h0M510.1 90.9h0M525.1 101.8h0M508.4 100.0h0M519.4 92.1h0M507.2 106.7h0M511.7 90.0h0M517.4 95.0h0M504.4 88.5h0M528.2 106.3h0M511.7 96.6h0M512.5 110.2h0M517.6 102.6h0M510.3 89.7h0M512.0 98.2h0M530.7 99.4h0M514.4 102.7h0M521.9 104.9h0M505.2 91.4h0M505.5 94.1h0M510.3 88.3h0M516.2 109.7h0M508.2 112.3h0M511.1 97.4h0M521.9 97.4h0M511.5 100.5h0M508.3 90.7h0M512.1 93.2h0M521.1 110.4h0M510.5 89.1h0M506.7 92.5h0M506.0 88.0h0M505.3 105.8h0M519.9 105.6h0M507.5 112.3h0M504.6 97.9h0M515.2 95.1h0M524.6 104.1h0M506.7 92.5h0M524.3 107.8h0M518.0 105.1h0M525.9 94.8h0M505.8 103.5h0M507.7 100.3h0M516.9 105.3h0M507.3 110.5h0M509.6 91.2h0M508.2 96.4h0M521.8 91.4h0M513.9 101.0h0M522.6 97.8h0M513.0 93.6h0M513.1 99.0h0M528.1 104.9h0M518.0 100.3h0M505.1 97.0h0M517.5 93.2h0M509.1 92.1h0M514.1 88.6h0M506.8 99.0h0M507.9 111.7h0M513.0 114.4h0M515.8 109.4h0M506.8 110.8h0M510.7 94.5h0M516.8 98.6h0M521.4 105.8h0M508.5 107.7h0M526.5 108.6h0M511.9 103.9h0M522.8 108.9h0M512.1 108.0h0M509.1 100.5h0M515.1 92.2h0M503.6 89.7h0M506.9 108.5h0M525.2 108.0h0M512.7 104.1h0M515.2 103.3h0M509.0 87.7h0M517.5 102.6h0M521.0 110.2h0M509.2 93.3h0M503.1 85.3h0M519.0 96.8h0M508.4 111.3h0M513.0 98.3h0M505.1 88.5h0M504.5 104.4h0M513.1 110.0h0M511.6 89.2h0M515.8 109.4h0M518.8 109.5h0M505.4 87.4h0M521.3 104.3h0M514.0 105.4h0M506.7 105.9h0M514.4 87.1h0M513.2 99.8h0M516.2 102.8h0M521.8 95.5h0M507.4 102.5h0M506.3 97.7h0M509.7 93.6h0M514.8 109.0h0M522.7 101.6h0M520.7 103.1h0M526.0 95.2h0M506.5 95.4h0M503.9 86.6h0M518.1 96.2h0M509.0 108.3h0M506.4 94.5h0M509.6 106.8h0M511.0 97.8h0M516.8 99.5h0M509.4 103.5h0M505.7 99.1h0M526.7 96.6h0M528.3 100.6h0M507.2 101.3h0M517.1 106.9h0M505.0 81.8h0M510.2 113.1h0M510.8 92.5h0M504.6 103.3h0M510.5 105.0h0M510.4 99.7h0M513.4 87.6h0M508.3 98.4h0M506.3 92.0h0M524.9 108.6h0M508.8 92.0h0M517.0 95.8h0M505.8 103.3h0M516.7 89.2h0M514.6 100.1h0M521.3 103.5h0M509.1 105.3h0M508.5 114.1h0M505.6 96.9h0M506.3 100.6h0M505.9 99.5h0M520.6 94.2h0M509.4 111.4h0M507.6 93.3h0M528.2 97.5h0M530.9 104.2h0M513.3 106.9h0M511.3 95.8h0M514.2 102.8h0M509.9 90.0h0M517.3 103.7h0M507.0 91.4h0M516.9 106.8h0M509.1 99.1h0M519.1 107.5h0M517.3 102.6h0M507.7 84.4h0M517.0 104.3h0M513.3 87.4h0M514.7 90.4h0M504.6 88.3h0M516.7 97.7h0M513.1 106.4h0M504.4 86.6h0M516.9 109.5h0M517.0 113.0h0M516.0 107.4h0M514.1 112.0h0M512.6 109.9h0M502.6 88.4h0M508.0 113.2h0M507.9 85.9h0M509.0 86.7h0M509.0 86.4h0M513.8 95.8h0M516.3 107.3h0M511.0 112.8h0M526.5 95.1h0M520.3 112.6h0M510.0 115.1h0M507.3 102.4h0M510.5 109.7h0M520.0 93.2h0M519.8 90.0h0M507.0 95.0h0M512.2 108.9h0M510.6 106.1h0M520.4 94.3h0M512.5 97.4h0M525.2 97.6h0M524.8 106.5h0M518.0 112.8h0M515.6 113.4h0M508.5 106.0h0M512.5 92.5h0M508.1 102.6h0M506.9 84.9h0M514.8 86.3h0M513.5 112.4h0M509.9 97.3h0M517.5 108.9h0M522.6 92.4h0M507.4 99.3h0M509.3 105.6h0M523.0 96.9h0M511.3 97.9h0M512.3 108.1h0M506.0 109.8h0M507.6 86.6h0M513.0 107.1h0M518.1 111.2h0M508.7 106.9h0M509.1 88.2h0M518.7 98.5h0M520.4 92.1h0M522.6 106.0h0M524.9 106.6h0M516.9 93.5h0M514.4 99.7h0M510.3 87.3h0M513.8 110.0h0M512.0 92.5h0M507.6 94.9h0M508.7 107.4h0M518.6 111.5h0M508.9 112.1h0M514.8 95.5h0M506.4 95.0h0M510.9 114.2h0M514.0 94.0h0M514.7 90.2h0M530.8 107.6h0M505.1 95.9h0M520.8 105.8h0M508.3 111.3h0M512.4 90.0h0M503.6 98.1h0M510.6 100.0h0M522.7 93.6h0M511.3 110.3h0M507.5 102.3h0M506.0 97.9h0M506.6 94.3h0M516.5 106.0h0M526.2 94.6h0M514.5 90.9h0M517.0 103.6h0M519.2 104.2h0M515.2 102.3h0M511.9 95.2h0M528.4 107.0h0M509.6 84.9h0M532.5 99.8h0M521.7 92.9h0M511.9 98.3h0M524.1 98.6h0M520.3 104.3h0M512.3 113.0h0M513.6 104.1h0M518.9 106.5h0M518.2 89.6h0M509.8 104.2h0M510.3 83.7h0M518.5 89.5h0M514.3 108.8h0M523.5 108.5h0M525.6 95.7h0M504.0 91.5h0M514.9 106.0h0M504.5 93.5h0M524.9 100.9h0M521.7 107.2h0M531.0 107.6h0M509.2 108.4h0M511.0 94.7h0M517.9 90.9h0M516.4 96.5h0M511.4 92.1h0M508.7 90.0h0M509.9 88.4h0M508.3 102.1h0M509.7 96.0h0M509.5 90.3h0M509.3 98.9h0M503.7 103.8h0M521.2 97.7h0M510.0 113.2h0M518.8 95.7h0M513.6 113.1h0M518.0 106.4h0M505.7 88.1h0M523.4 107.8h0M505.2 95.8h0M511.0 103.2h0M515.8 113.8h0M523.0 102.1h0M516.3 103.7h0M522.1 96.4h0M516.1 109.3h0M510.5 99.9h0M514.0 87.1h0M511.7 92.4h0M513.3 98.5h0M510.3 103.4h0M507.3 87.3h0M516.8 98.8h0M511.7 109.3h0M506.0 85.9h0M519.1 99.4h0M510.9 89.8h0M520.9 96.1h0M507.4 92.4h0M520.6 98.4h0M520.1 103.4h0M510.8 99.9h0M505.5 108.3h0M511.4 91.3h0M525.2 106.0h0M512.7 87.3h0M512.3 89.4h0M520.0 108.2h0M516.8 104.0h0M519.3 92.8h0M507.6 96.4h0M522.7 92.9h0M506.7 88.2h0M515.2 97.8h0M516.0 87.9h0M519.4 96.4h0M507.8 87.9h0M517.2 102.6h0M521.3 105.9h0M517.7 93.8h0M518.9 98.4h0M509.7 92.2h0M515.3 96.5h0M510.0 88.5h0M521.9 108.5h0M513.4 96.0h0M505.0 94.6h0M528.0 103.4h0M504.5 103.9h0M516.3 87.0h0M511.0 102.4h0M510.1 105.0h0M523.3 91.8h0M513.1 89.0h0M507.8 94.5h0M530.5 104.5h0M525.3 97.0h0M523.4 93.3h0M507.1 112.4h0M523.0 103.1h0M506.0 106.5h0M522.2 106.4h0M526.5 107.0h0M520.9 107.7h0M506.2 99.2h0M510.6 84.4h0M519.3 103.3h0M511.0 101.6h0M528.1 109.2h0M504.4 89.9h0M506.3 87.8h0M509.0 99.6h0M506.9 91.0h0M507.5 90.7h0M512.9 105.3h0M512.1 97.3h0M521.5 101.6h0M519.8 111.3h0M530.7 110.0h0M509.1 94.2h0M512.8 105.1h0M512.4 87.9h0M507.2 95.2h0M515.2 98.6h0M508.7 92.5h0M508.5 95.2h0M505.8 104.5h0M510.6 102.0h0M514.4 103.4h0M516.7 97.5h0M525.1 93.3h0M517.9 94.5h0M503.5 88.0h0M516.3 92.8h0M505.6 108.9h0M506.1 88.1h0M511.0 96.5h0M509.6 88.8h0M503.9 85.4h0M515.1 101.8h0M516.5 93.2h0M504.7 86.1h0M506.7 107.5h0M505.9 90.6h0M513.0 103.6h0M517.9 94.9h0M512.6 104.6h0M512.3 108.7h0M503.4 87.2h0M516.1 96.4h0M517.8 95.8h0M511.8 109.5h0M515.6 89.0h0M516.8 98.2h0M509.3 95.7h0M506.9 85.2h0M510.9 94.9h0M511.6 111.9h0M515.4 109.0h0M507.2 95.3h0M504.2 82.7h0M510.3 100.9h0M505.4 102.1h0M512.6 110.2h0M514.8 104.8h0M504.0 86.1h0M503.9 85.8h0M510.1 97.5h0M509.2 109.2h0M511.9 111.2h0M505.2 84.8h0M515.8 103.9h0M510.4 108.7h0M517.2 91.0h0M509.7 102.2h0M516.2 99.7h0M514.9 99.3h0M505.2 101.6h0M506.9 108.2h0M511.0 100.2h0M508.4 108.6h0M517.1 91.9h0M511.5 87.8h0M508.4 84.4h0M518.0 101.7h0M503.8 87.2h0M515.5 102.3h0M512.3 110.0h0M505.1 93.1h0M507.9 86.4h0M509.8 106.0h0M506.3 106.5h0M508.6 106.0h0M514.1 107.7h0M504.5 99.8h0M512.4 110.1h0M516.7 106.9h0M512.6 105.4h0M504.4 88.8h0M506.8 89.0h0M516.4 100.3h0M514.8 107.3h0M512.0 101.4h0M505.0 105.9h0M509.6 112.7h0M519.2 98.9h0M513.9 102.9h0M515.7 92.6h0M506.6 89.4h0M513.7 94.5h0M510.2 95.7h0M506.3 91.6h0M517.7 103.2h0M513.0 95.1h0M506.0 94.3h0M505.5 86.7h0M514.6 99.9h0M515.3 100.0h0M510.3 95.6h0M509.7 107.6h0M518.2 93.6h0M511.4 93.5h0M513.8 107.1h0M512.0 105.6h0M518.0 105.4h0M507.2 90.0h0M510.4 110.0h0M512.8 109.9h0M515.4 108.6h0M510.3 87.7h0M509.9 102.7h0M515.8 101.2h0M511.8 109.1h0M510.3 108.0h0M508.7 105.3h0M510.8 93.8h0M505.3 107.3h0M516.3 103.5h0M514.2 106.1h0M513.3 90.4h0M508.6 92.6h0M510.3 90.6h0M510.1 85.7h0M510.6 86.3h0M505.8 86.5h0M508.5 110.5h0M511.3 103.0h0M516.7 104.7h0M508.8 98.6h0M509.2 99.8h0M518.6 96.5h0M513.6 96.3h0M507.4 94.0h0M505.9 98.7h0M517.3 99.0h0M505.1 106.2h0M508.3 106.4h0M507.4 86.4h0M508.6 89.5h0M511.4 98.0h0M518.5 104.8h0M516.1 103.6h0M510.4 92.5h0M509.4 91.6h0M517.8 98.0h0M505.0 96.2h0M507.0 88.5h0M510.6 111.1h0M510.7 93.0h0M513.9 108.0h0M517.3 98.6h0M504.3 89.8h0M507.2 86.3h0M515.5 101.6h0M508.0 107.6h0M513.2 98.1h0M511.0 102.2h0M517.6 101.3h0M509.0 102.1h0M518.5 99.4h0M510.4 108.4h0M507.2 99.1h0M509.2 89.8h0M516.9 108.2h0M508.6 88.1h0M509.9 108.2h0M510.3 92.9h0M514.1 96.3h0M508.6 98.8h0M509.2 100.2h0M505.2 96.1h0M504.5 97.5h0M506.5 93.8h0M505.8 89.5h0M518.2 96.3h0M511.3 97.9h0M503.3 87.8h0M509.6 84.7h0M516.8 103.9h0M504.9 90.4h0M511.4 100.4h0M508.2 109.1h0M508.9 89.6h0M504.9 106.1h0M515.0 98.4h0M510.5 86.4h0M518.4 96.6h0M506.2 90.0h0M505.7 96.9h0M511.9 94.7h0M511.7 100.0h0M510.6 107.1h0M507.7 86.5h0M512.7 111.9h0M514.9 107.6h0M517.0 96.3h0M512.2 87.9h0M508.1 100.6h0M509.6 104.7h0M512.4 106.4h0M507.2 86.9h0M505.2 86.0h0M506.7 104.9h0M515.5 91.3h0M513.4 110.9h0M508.1 109.1h0M512.4 95.0h0M513.1 102.1h0M507.6 107.6h0M504.7 87.1h0M504.3 83.3h0M504.2 82.2h0M507.8 100.2h0M513.2 112.4h0M515.9 104.0h0M513.1 96.0h0M510.2 91.8h0M512.1 97.0h0M513.8 103.1h0M515.2 89.7h0M518.0 101.5h0M507.5 101.4h0M509.5 112.7h0M513.0 98.2h0M506.4 93.1h0M507.1 99.0h0M513.0 108.6h0M507.9 85.2h0M506.2 92.9h0M510.2 97.2h0M513.1 98.0h0M509.6 108.3h0M511.2 93.8h0M510.7 105.8h0M517.8 95.1h0M508.1 87.8h0M508.2 95.0h0M510.2 98.2h0M515.2 93.8h0M504.7 97.3h0M508.2 88.2h0M505.2 93.8h0M508.2 95.6h0M516.2 94.3h0M506.0 100.3h0M508.7 106.9h0M517.3 102.1h0M510.4 89.2h0M509.1 111.6h0M508.2 107.6h0M508.2 105.1h0M508.0 92.6h0M509.6 97.1h0M505.7 86.6h0M509.6 100.8h0M514.6 108.8h0M508.4 105.1h0M514.7 92.6h0M517.9 99.1h0M505.7 104.1h0M505.8 105.4h0M504.4 82.3h0M509.9 105.4h0M508.0 101.7h0M513.8 104.0h0M506.6 98.3h0M508.2 104.7h0M515.2 89.6h0M505.5 95.6h0M512.3 90.9h0M508.3 102.7h0M515.5 96.8h0M504.7 90.9h0M504.0 81.2h0M514.5 94.8h0M512.3 95.5h0M508.5 94.8h0M515.6 95.0h0M505.0 98.0h0M506.5 92.9h0M509.1 87.5h0M509.0 112.5h0M514.4 98.2h0M507.8 91.4h0M505.9 86.5h0M516.7 107.1h0M504.8 86.2h0M508.9 92.6h0M503.8 101.4h0M508.2 106.9h0M507.2 101.5h0M518.6 102.4h0M517.3 102.7h0M504.6 101.2h0M504.9 101.9h0M509.2 95.4h0M505.8 85.1h0M514.2 92.4h0M515.7 98.7h0M510.3 96.3h0M514.4 94.9h0M509.1 93.2h0M515.8 93.2h0M515.9 107.6h0M508.1 108.3h0M507.8 86.2h0M511.4 98.9h0M505.0 102.8h0M513.6 94.6h0M514.0 108.9h0M513.9 99.2h0M503.7 97.2h0M511.4 105.5h0M513.4 110.4h0M514.6 100.4h0M518.0 96.8h0M508.6 90.0h0M509.8 108.7h0M516.2 97.0h0M512.2 97.7h0M503.5 86.6h0M509.5 86.6h0M511.9 105.8h0M514.7 104.6h0M511.8 99.6h0M511.1 93.8h0M511.4 107.6h0M502.8 88.4h0M517.5 99.1h0M513.3 97.8h0M511.0 110.0h0M514.4 105.8h0M515.2 106.0h0M518.0 101.7h0M510.4 97.3h0M503.3 91.3h0M507.6 87.4h0M514.4 109.4h0M510.3 108.2h0M517.7 101.7h0M518.2 97.8h0M505.1 102.4h0M509.0 86.1h0M510.7 98.0h0M514.0 105.9h0M509.6 93.5h0M507.6 87.6h0M511.9 88.6h0M511.4 107.4h0M514.2 110.1h0M512.6 101.5h0M509.8 90.4h0M508.3 109.1h0M513.5 89.9h0M513.1 91.8h0M514.8 105.5h0M508.9 108.5h0M517.8 99.0h0M505.4 104.6h0M510.0 92.1h0M513.8 88.9h0M513.5 111.6h0M509.2 108.2h0M504.3 91.3h0M508.3 93.9h0M513.8 93.3h0M511.3 96.5h0M507.7 103.9h0M505.1 89.5h0M517.5 102.7h0M512.3 87.9h0M513.0 110.1h0M507.2 102.6h0M506.5 95.0h0M510.1 105.6h0M502.9 85.1h0M508.9 108.2h0M504.0 87.8h0M507.9 90.5h0M513.4 92.9h0M513.7 109.4h0M513.7 101.2h0M510.1 100.6h0M515.6 94.1h0M514.5 102.9h0M510.4 103.7h0M511.4 106.7h0M513.8 93.7h0M509.6 103.0h0M518.7 96.1h0M511.5 100.6h0M505.6 97.9h0M510.0 87.1h0M508.9 109.8h0M511.5 90.5h0M512.8 91.3h0M508.3 85.9h0M504.7 103.1h0M515.6 105.5h0M513.1 93.9h0M505.9 97.5h0M504.9 90.5h0M511.6 92.9h0M506.0 91.5h0M512.2 99.5h0M512.5 101.5h0M514.2 94.7h0M509.3 95.3h0M506.9 103.4h0M511.0 95.8h0M507.8 107.1h0M516.3 96.6h0M507.7 93.1h0M506.9 106.8h0M516.6 96.0h0M504.4 96.0h0M506.4 84.8h0M514.2 91.5h0M507.4 104.6h0M509.8 94.2h0M511.5 106.9h0M506.6 89.9h0M508.6 107.1h0M514.2 95.6h0M517.3 98.8h0M518.4 100.0h0M509.8 107.3h0M505.5 95.6h0M508.0 106.0h0M515.8 91.6h0M514.8 107.9h0M506.9 109.3h0M505.9 90.2h0M513.8 108.8h0M510.1 100.8h0M510.8 96.0h0M512.5 97.6h0M513.7 110.1h0M514.9 91.9h0M515.8 108.1h0M514.3 92.0h0M506.4 94.0h0M517.6 100.2h0M515.6 106.3h0M510.5 86.8h0M504.6 100.3h0M515.3 102.2h0M506.5 109.1h0M510.6 96.1h0M510.1 98.7h0M505.9 84.8h0M504.7 83.6h0M518.2 98.2h0M512.8 110.9h0M506.2 99.0h0M513.2 99.0h0M506.8 100.2h0M515.1 99.9h0M509.9 110.1h0M511.5 86.9h0M511.5 89.8h0M508.4 99.2h0M507.2 104.5h0M505.1 87.7h0M510.6 105.8h0M504.8 99.4h0M518.4 99.9h0M505.4 89.6h0M516.8 107.2h0M516.7 107.6h0M503.6 97.4h0M506.0 85.4h0M514.3 96.2h0M508.1 101.2h0M508.2 100.4h0M512.4 105.3h0M510.6 94.1h0M515.8 102.9h0M507.3 88.9h0M515.5 91.2h0M515.6 90.4h0M515.3 109.6h0M518.5 94.5h0M508.7 106.8h0M510.0 110.3h0M508.1 83.1h0M514.2 100.2h0M510.4 92.5h0M513.7 97.4h0M538.6 99.4h0M532.6 94.9h0M532.9 108.0h0M512.1 83.4h0M530.4 96.3h0M533.0 106.2h0M526.5 112.6h0M521.5 115.0h0M515.4 116.0h0M510.2 117.3h0M535.0 101.5h0M529.5 92.0h0M522.5 87.7h0M517.3 85.0h0" class="p"/></g>
<rect x="449.3" y="1.8" width="93.2" height="119.0" fill="none" stroke="#7a7a7a" stroke-width=".9"/>
<path d="M470.8 121.2v2.6M495.6 121.2v2.6M520.2 121.2v2.6M448.9 19.5h-2.6M448.9 52.0h-2.6M448.9 84.2h-2.6M448.9 116.5h-2.6" stroke="#333" stroke-width=".9" fill="none"/>
<text class="t" x="470.8" y="132.7" text-anchor="middle">−4</text>
<text class="t" x="495.6" y="132.7" text-anchor="middle">0</text>
<text class="t" x="520.2" y="132.7" text-anchor="middle">4</text>
<text class="t" x="443.9" y="22.6" text-anchor="end">0.2</text>
<text class="t" x="443.9" y="55.0" text-anchor="end">0.0</text>
<text class="t" x="443.9" y="87.2" text-anchor="end">−0.2</text>
<text class="t" x="443.9" y="119.5" text-anchor="end">−0.4</text>
<text class="a" x="499.0" y="145.6" text-anchor="middle">SBP FPC1 score</text>
<text class="a" transform="translate(424.0 62.7) rotate(-90)" text-anchor="middle">SHAP value</text></g>
<g><clipPath id="c4"><rect x="588.8" y="1.8" width="92.9" height="119.0"/></clipPath>
<path d="M601.8 1.8V120.8M619.3 1.8V120.8M636.8 1.8V120.8M654.3 1.8V120.8M671.8 1.8V120.8M588.8 5.3H681.7M588.8 32.1H681.7M588.8 59.0H681.7M588.8 85.8H681.7M588.8 112.6H681.7" stroke="#f1f1f1" stroke-width=".5" fill="none"/>
<path d="M593.0 1.8V120.8M610.6 1.8V120.8M628.2 1.8V120.8M645.8 1.8V120.8M663.3 1.8V120.8M680.6 1.8V120.8M588.8 18.7H681.7M588.8 45.5H681.7M588.8 72.4H681.7M588.8 99.2H681.7" stroke="#e6e6e6" stroke-width=".9" fill="none"/>
<g clip-path="url(#c4)"><path d="M646.0 5.6L645.2 8.0L645.0 20.0L644.8 35.0L644.0 49.0L642.2 59.0L642.1 64.0L649.1 64.0L648.5 59.0L648.0 49.0L647.5 35.0L647.2 20.0L647.0 8.0L646.2 5.6ZM644.8 60.0L646.0 69.0L647.1 78.0L647.8 86.0L650.7 86.0L650.4 78.0L650.0 69.0L649.0 60.0ZM653.8 55.0L653.4 60.0L652.8 69.0L652.2 78.0L651.8 86.0L653.2 86.0L654.0 78.0L654.6 69.0L655.1 60.0L654.8 55.0ZM647.8 83.0L648.3 95.0L649.2 106.0L650.6 116.4L650.8 116.4L652.2 106.0L653.1 95.0L653.7 83.0ZM634.8 67.2L634.3 73.9L637.2 77.8L641.6 80.7L645.7 82.2L645.2 62.4L640.1 63.9Z" fill="#000" stroke="#000" stroke-width=".6" stroke-linejoin="round"/>
<path d="M646.3 33.2h0M646.8 51.7h0M646.1 14.6h0M646.7 51.3h0M644.8 47.1h0M645.8 18.3h0M646.9 20.4h0M646.5 30.3h0M646.0 42.6h0M644.9 38.4h0M645.4 62.6h0M645.6 7.2h0M646.3 45.2h0M648.3 55.0h0M648.0 48.9h0M646.3 10.4h0M645.7 45.6h0M646.8 58.4h0M645.2 25.0h0M647.7 43.4h0M646.0 30.6h0M646.1 19.8h0M646.3 34.5h0M646.4 10.7h0M646.3 9.5h0M642.6 56.7h0M645.5 9.9h0M646.1 53.7h0M643.4 62.6h0M648.2 57.9h0M646.7 9.9h0M646.6 11.3h0M646.5 21.8h0M644.8 46.6h0M645.2 11.4h0M646.2 32.0h0M645.3 48.1h0M645.2 14.4h0M645.4 14.8h0M645.4 35.1h0M646.0 33.6h0M646.0 16.2h0M645.3 51.9h0M646.2 11.9h0M645.1 47.4h0M644.1 61.4h0M647.4 61.0h0M646.7 11.2h0M646.5 50.8h0M647.5 32.6h0M645.4 61.7h0M645.7 53.2h0M644.3 41.1h0M645.4 27.5h0M645.3 36.2h0M645.7 42.4h0M643.9 57.3h0M647.1 39.0h0M645.4 9.9h0M645.0 35.0h0M646.3 61.5h0M645.9 21.2h0M645.4 29.8h0M645.2 21.0h0M646.1 19.9h0M646.9 28.0h0M647.7 56.1h0M646.9 11.4h0M643.1 54.5h0M646.6 25.4h0M647.3 48.5h0M646.3 26.8h0M646.1 25.1h0M644.2 55.8h0M646.5 46.3h0M645.8 9.0h0M645.7 18.5h0M647.4 36.5h0M645.0 30.1h0M647.3 42.8h0M646.8 13.2h0M644.6 61.0h0M646.6 37.6h0M645.8 14.5h0M645.2 8.1h0M645.0 47.4h0M646.8 9.5h0M644.2 51.2h0M645.4 13.0h0M647.1 32.0h0M645.4 40.0h0M642.7 58.2h0M647.0 59.5h0M645.1 19.9h0M646.5 45.7h0M647.3 46.1h0M644.8 22.2h0M646.4 12.7h0M645.9 8.3h0M647.5 51.6h0M646.7 31.3h0M645.5 19.6h0M644.7 36.5h0M647.0 24.3h0M645.6 10.9h0M645.6 7.5h0M645.7 16.3h0M645.9 35.8h0M644.3 45.2h0M644.2 54.7h0M646.8 26.5h0M646.6 41.7h0M646.3 8.7h0M644.1 48.5h0M646.6 10.2h0M646.4 21.8h0M647.1 27.6h0M646.8 45.6h0M645.6 33.6h0M643.2 62.8h0M646.1 22.0h0M646.3 27.3h0M644.8 29.4h0M646.8 22.0h0M645.5 57.3h0M646.3 49.9h0M647.0 22.7h0M646.9 20.8h0M647.4 38.4h0M644.8 44.3h0M645.3 16.2h0M644.2 59.7h0M646.3 58.1h0M644.9 51.2h0M643.0 55.8h0M646.3 21.5h0M645.2 45.6h0M646.6 26.3h0M646.3 39.5h0M646.4 34.6h0M647.3 35.0h0M646.6 41.2h0M644.7 55.7h0M646.6 20.6h0M647.2 31.3h0M644.9 33.6h0M646.6 39.7h0M646.2 15.3h0M644.5 60.3h0M646.7 22.7h0M646.5 28.4h0M645.7 13.3h0M646.2 26.4h0M645.3 10.2h0M647.0 13.0h0M643.6 58.1h0M644.5 49.9h0M645.2 33.9h0M645.3 22.0h0M646.0 36.9h0M646.6 21.0h0M645.0 58.4h0M645.6 12.0h0M647.6 46.5h0M645.4 15.8h0M645.3 23.5h0M642.9 59.0h0M645.4 10.5h0M648.3 54.4h0M647.0 19.5h0M645.7 52.2h0M646.5 21.8h0M643.8 53.9h0M644.8 59.8h0M644.6 59.2h0M646.6 15.5h0M645.3 33.4h0M646.6 37.6h0M645.1 46.6h0M646.2 14.0h0M643.1 59.2h0M647.4 39.8h0M646.8 22.1h0M647.9 48.6h0M648.0 45.2h0M645.7 35.7h0M646.0 14.6h0M645.3 20.3h0M646.2 29.5h0M647.4 35.0h0M646.4 10.1h0M645.2 32.1h0M645.5 8.0h0M645.1 8.9h0M646.4 12.1h0M644.6 63.3h0M648.2 58.4h0M646.2 36.4h0M645.4 57.3h0M646.6 49.5h0M646.8 35.2h0M647.4 32.7h0M646.1 10.6h0M646.3 62.5h0M646.0 50.3h0M644.7 44.5h0M643.7 54.8h0M643.3 57.7h0M645.9 28.1h0M644.0 56.8h0M646.8 52.1h0M646.7 8.5h0M647.2 61.0h0M645.9 34.5h0M646.7 7.8h0M647.0 58.6h0M647.1 19.9h0M646.2 25.9h0M645.0 30.9h0M647.3 15.3h0M646.8 40.7h0M645.1 59.2h0M644.9 23.0h0M644.8 16.1h0M645.2 37.6h0M643.8 58.0h0M646.0 48.0h0M645.3 37.2h0M645.4 13.6h0M645.0 39.2h0M647.1 17.5h0M646.1 42.3h0M646.8 40.3h0M645.6 23.6h0M646.1 30.8h0M646.8 20.8h0M647.2 19.8h0M644.2 49.3h0M646.7 40.9h0M648.0 47.1h0M645.2 19.3h0M647.0 50.9h0M645.9 40.7h0M644.9 51.7h0M646.0 56.7h0M648.5 63.0h0M645.7 39.5h0M646.2 27.1h0M645.8 41.6h0M645.3 23.1h0M644.7 33.2h0M645.7 7.3h0M645.6 58.5h0M647.5 40.0h0M645.7 14.1h0M645.0 28.9h0M645.4 34.5h0M645.9 20.2h0M648.2 57.9h0M644.9 32.4h0M645.2 39.0h0M645.7 7.1h0M647.3 55.1h0M647.7 53.1h0M648.4 62.4h0M645.8 49.3h0M646.9 34.1h0M645.6 14.3h0M647.2 22.1h0M646.2 15.9h0M645.8 42.8h0M646.2 49.5h0M645.6 10.2h0M646.1 52.6h0M648.0 49.3h0M642.7 58.9h0M645.8 25.4h0M646.5 12.5h0M645.4 36.4h0M645.7 36.3h0M646.5 22.2h0M645.9 52.1h0M646.1 45.5h0M647.8 57.8h0M645.8 29.0h0M646.1 55.2h0M645.9 9.8h0M643.9 54.8h0M646.8 14.8h0M647.2 18.5h0M647.8 62.4h0M646.8 30.5h0M646.6 44.6h0M647.1 9.5h0M646.8 23.6h0M642.7 57.8h0M645.0 29.6h0M647.0 41.6h0M646.0 51.9h0M645.3 21.8h0M647.0 46.3h0M645.3 53.2h0M647.3 41.1h0M645.8 46.1h0M644.5 48.3h0M646.7 20.0h0M645.2 38.5h0M645.5 23.1h0M645.3 19.4h0M643.7 53.5h0M644.2 55.4h0M645.2 18.7h0M648.6 59.6h0M646.5 14.5h0M645.1 34.8h0M647.3 51.0h0M646.1 6.4h0M643.5 53.1h0M648.4 61.0h0M643.8 59.9h0M645.6 6.9h0M646.0 11.5h0M646.7 20.1h0M645.9 8.8h0M645.8 15.0h0M647.2 54.6h0M646.0 6.2h0M645.9 16.4h0M645.5 38.0h0M643.6 57.1h0M645.4 7.6h0M646.5 17.7h0M643.4 55.7h0M646.1 62.3h0M645.9 17.2h0M644.9 46.1h0M644.4 38.8h0M646.8 45.1h0M646.5 10.8h0M645.8 46.2h0M644.2 45.3h0M645.8 11.9h0M644.6 49.9h0M645.6 55.8h0M645.9 54.6h0M646.1 34.7h0M645.5 40.2h0M645.9 17.1h0M644.4 62.6h0M645.9 8.3h0M645.7 13.2h0M646.6 7.7h0M645.8 24.5h0M645.2 15.2h0M647.2 30.0h0M645.2 37.4h0M646.6 14.3h0M647.0 36.4h0M646.9 59.0h0M644.7 56.8h0M646.0 53.5h0M646.9 28.4h0M645.6 47.3h0M647.0 40.4h0M648.0 54.2h0M646.0 7.5h0M644.0 51.9h0M645.9 49.0h0M643.9 61.4h0M647.2 12.5h0M645.4 33.9h0M646.1 27.9h0M645.7 10.8h0M646.1 39.1h0M646.3 16.3h0M643.9 57.7h0M646.7 11.0h0M645.8 50.3h0M643.9 54.5h0M649.3 78.4h0M649.5 79.4h0M647.7 65.9h0M648.4 72.8h0M646.7 64.6h0M648.2 69.5h0M646.0 64.8h0M647.0 69.5h0M648.6 61.5h0M649.9 79.9h0M648.4 66.2h0M648.3 68.0h0M648.3 65.4h0M647.0 72.2h0M650.0 82.8h0M649.1 63.5h0M648.1 75.5h0M648.5 73.3h0M650.0 73.2h0M649.9 72.3h0M648.9 78.7h0M647.1 72.2h0M647.9 84.2h0M649.5 83.2h0M646.9 72.9h0M646.5 60.8h0M647.1 65.0h0M645.8 67.7h0M647.0 67.0h0M648.9 67.0h0M649.1 82.9h0M648.6 77.1h0M650.2 79.1h0M647.8 74.3h0M649.3 83.5h0M646.5 62.3h0M649.4 77.3h0M647.2 78.1h0M648.2 79.3h0M648.5 77.4h0M648.5 80.6h0M647.7 80.7h0M648.1 61.3h0M645.9 63.1h0M647.6 68.0h0M650.3 80.7h0M647.8 69.7h0M648.5 76.8h0M648.9 78.0h0M648.0 81.8h0M647.1 64.7h0M650.2 78.3h0M647.6 83.3h0M647.1 76.7h0M648.4 81.7h0M648.0 69.9h0M646.7 75.1h0M645.8 68.2h0M647.3 78.1h0M647.8 84.2h0M648.6 65.1h0M646.0 68.5h0M649.6 84.5h0M648.7 70.3h0M647.7 72.1h0M649.1 65.6h0M648.3 80.0h0M646.9 75.4h0M646.5 73.1h0M648.3 63.5h0M649.2 78.6h0M647.7 79.4h0M647.7 71.9h0M649.0 75.5h0M649.9 83.4h0M648.9 83.9h0M650.0 83.1h0M647.0 71.0h0M648.5 72.3h0M649.1 66.0h0M650.6 84.3h0M650.1 75.6h0M647.2 63.4h0M647.5 75.1h0M646.8 73.9h0M648.0 75.5h0M647.0 75.4h0M648.3 77.3h0M649.2 72.6h0M648.8 72.2h0M647.0 73.1h0M648.2 81.5h0M645.9 63.6h0M650.2 81.5h0M647.9 61.4h0M645.7 66.0h0M647.4 78.5h0M650.2 78.1h0M649.7 82.7h0M649.3 82.0h0M647.2 78.6h0M645.8 61.5h0M648.0 67.5h0M648.0 74.0h0M648.2 69.8h0M648.9 81.9h0M649.4 84.7h0M647.0 76.3h0M646.5 62.5h0M648.1 78.2h0M648.4 70.5h0M648.8 85.3h0M646.5 71.7h0M647.7 66.4h0M649.7 70.7h0M649.3 83.2h0M646.4 65.0h0M649.7 76.5h0M649.3 73.3h0M645.9 65.8h0M649.0 71.9h0M648.7 79.2h0M648.0 69.7h0M648.1 65.7h0M647.9 79.8h0M649.5 83.4h0M649.2 78.5h0M649.4 79.5h0M649.8 75.8h0M648.1 76.0h0M649.1 71.7h0M649.4 78.5h0M645.5 61.2h0M648.4 73.1h0M650.0 76.6h0M648.4 78.9h0M649.4 81.5h0M648.7 82.7h0M648.2 70.8h0M648.9 64.1h0M649.5 74.4h0M646.9 74.3h0M649.3 82.7h0M648.6 62.0h0M647.8 83.9h0M648.7 66.2h0M649.1 64.6h0M648.7 69.7h0M646.3 70.9h0M647.6 72.7h0M646.3 61.2h0M647.4 77.1h0M647.4 67.2h0M647.6 81.4h0M646.5 64.6h0M650.1 84.4h0M648.5 79.9h0M649.6 70.8h0M649.5 69.2h0M646.4 66.8h0M648.9 79.9h0M648.4 63.0h0M647.8 68.2h0M648.0 62.9h0M649.1 67.0h0M649.4 74.9h0M649.5 77.8h0M648.0 78.7h0M647.3 80.5h0M649.2 77.2h0M646.7 61.3h0M649.2 72.4h0M646.3 72.6h0M649.2 80.5h0M647.4 66.7h0M645.9 63.5h0M648.9 61.3h0M647.8 82.8h0M646.5 69.6h0M646.7 68.4h0M646.2 65.0h0M654.3 68.5h0M652.7 69.3h0M654.8 55.9h0M653.5 65.4h0M652.8 74.8h0M654.1 78.6h0M653.2 73.0h0M653.0 69.0h0M652.5 79.4h0M653.9 62.8h0M653.9 58.2h0M654.6 58.2h0M653.5 58.8h0M653.8 66.3h0M653.3 78.9h0M654.1 60.0h0M654.7 60.0h0M653.4 77.0h0M653.0 82.6h0M653.8 69.7h0M653.2 63.0h0M653.8 56.0h0M653.8 58.0h0M654.1 59.7h0M654.4 63.5h0M652.8 75.0h0M653.7 65.2h0M654.0 77.3h0M653.2 71.0h0M654.6 64.4h0M654.2 71.1h0M652.9 69.1h0M652.0 84.5h0M654.2 70.1h0M654.8 62.2h0M654.2 69.6h0M652.7 73.9h0M654.1 56.3h0M653.7 63.0h0M652.3 81.1h0M653.1 75.0h0M654.5 66.3h0M651.9 83.0h0M653.2 79.5h0M653.1 67.3h0M652.8 80.8h0M653.3 74.4h0M654.3 63.7h0M654.6 62.6h0M653.5 66.5h0M653.5 80.4h0M654.6 57.4h0M653.5 70.9h0M653.1 70.7h0M652.9 72.0h0M652.7 84.1h0M654.5 60.9h0M652.8 78.7h0M653.5 73.8h0M652.8 77.1h0M653.5 78.7h0M652.4 80.4h0M653.7 57.9h0M653.8 58.3h0M654.3 56.0h0M653.3 85.2h0M653.0 75.9h0M653.0 80.0h0M653.7 72.5h0M651.9 84.4h0M652.1 83.0h0M653.6 60.8h0M653.7 68.5h0M652.6 83.5h0M655.0 62.2h0M652.5 76.5h0M654.6 58.6h0M654.6 62.4h0M652.5 83.0h0M652.3 83.5h0M653.9 73.5h0M653.9 66.0h0M653.6 80.8h0M653.2 72.9h0M653.3 72.2h0M653.6 73.3h0M653.6 59.3h0M654.2 59.0h0M653.5 70.6h0M653.1 70.0h0M653.9 74.8h0M653.0 76.3h0M654.4 66.8h0M654.1 67.4h0M654.2 56.1h0M654.4 65.6h0M653.0 79.0h0M653.6 60.2h0M654.0 67.9h0M654.2 72.4h0M654.7 60.1h0M652.8 79.8h0M654.1 71.5h0M652.6 75.8h0M653.4 75.2h0M654.7 65.2h0M653.0 68.3h0M654.6 63.2h0M654.0 71.5h0M655.0 57.7h0M653.3 62.1h0M652.5 72.0h0M652.9 74.3h0M653.4 81.8h0M652.6 76.9h0M654.1 60.5h0M654.9 59.5h0M653.6 75.8h0M654.1 67.7h0M653.6 78.6h0M652.6 77.4h0M653.6 57.9h0M653.9 63.9h0M653.1 72.6h0M654.2 71.8h0M653.3 61.9h0M651.0 115.5h0M652.2 101.5h0M651.3 107.0h0M651.7 103.2h0M652.1 100.3h0M650.7 115.8h0M652.0 95.9h0M651.9 102.6h0M650.6 115.7h0M648.6 96.4h0M651.1 107.9h0M651.8 107.9h0M648.0 86.8h0M651.6 104.0h0M648.3 85.0h0M652.7 88.2h0M650.3 106.3h0M650.5 92.2h0M648.2 87.1h0M649.8 98.4h0M651.6 101.6h0M650.4 111.1h0M651.1 112.9h0M650.8 111.6h0M648.4 98.6h0M651.6 108.2h0M650.9 105.2h0M652.4 94.8h0M650.4 113.1h0M651.6 108.5h0M650.1 87.5h0M650.1 97.8h0M650.3 109.0h0M652.0 85.0h0M650.5 91.1h0M651.9 108.5h0M652.0 103.8h0M650.6 113.0h0M651.8 100.1h0M650.5 115.0h0M650.7 88.4h0M649.7 89.4h0M648.9 85.5h0M650.4 111.2h0M649.5 91.8h0M650.5 105.8h0M652.1 87.7h0M650.9 94.8h0M650.2 115.1h0M650.9 113.4h0M651.1 113.4h0M651.5 109.4h0M651.9 107.8h0M651.3 85.4h0M649.5 106.0h0M648.7 100.7h0M651.4 91.6h0M649.5 96.6h0M650.8 115.2h0M648.4 93.5h0M651.3 103.7h0M650.2 106.1h0M650.3 105.7h0M650.8 108.8h0M650.2 112.2h0M650.3 107.8h0M651.0 96.8h0M652.8 84.9h0M653.3 95.9h0M651.7 105.5h0M652.2 100.5h0M650.7 111.8h0M650.3 112.6h0M651.8 96.0h0M653.1 84.6h0M651.6 102.8h0M651.9 92.5h0M649.4 104.8h0M651.8 104.8h0M651.7 106.0h0M651.1 108.8h0M649.6 101.9h0M648.9 84.0h0M651.5 99.4h0M650.9 112.6h0M650.0 105.7h0M652.0 92.1h0M650.5 114.9h0M652.4 103.2h0M651.1 92.3h0M651.0 108.6h0M652.7 97.6h0M650.6 112.5h0M652.7 95.9h0M652.1 103.2h0M648.3 89.1h0M650.6 112.6h0M648.4 96.6h0M651.1 105.9h0M650.7 96.8h0M650.2 109.4h0M650.8 111.1h0M651.2 88.0h0M653.0 87.6h0M651.3 107.4h0M651.6 97.7h0M649.8 95.9h0M650.5 89.8h0M650.3 115.3h0M651.5 110.2h0M650.3 105.3h0M651.1 114.6h0M652.7 100.7h0M651.0 109.0h0M650.1 91.4h0M651.0 88.3h0M650.2 112.5h0M650.7 105.8h0M650.2 110.0h0M651.5 87.0h0M651.0 94.8h0M651.7 88.2h0M651.3 106.5h0M653.6 87.6h0M650.5 106.7h0M651.6 84.6h0M652.4 86.9h0M651.6 102.7h0M651.6 107.5h0M650.1 111.0h0M652.2 97.1h0M652.4 100.3h0M649.3 98.8h0M648.4 94.0h0M648.0 85.2h0M652.5 94.6h0M650.1 103.2h0M649.3 94.1h0M650.3 95.6h0M649.2 85.0h0M650.4 94.6h0M651.1 94.2h0M650.8 104.0h0M650.3 113.3h0M649.3 92.6h0M651.0 111.2h0M649.1 99.9h0M652.6 101.1h0M649.6 100.7h0M648.7 100.7h0M650.0 110.8h0M649.1 90.3h0M651.1 102.7h0M648.6 88.2h0M651.1 112.2h0M651.3 83.9h0M648.9 94.7h0M651.4 103.4h0M652.2 92.0h0M652.0 92.8h0M650.3 113.2h0M650.0 87.2h0M650.7 115.0h0M650.5 111.0h0M652.0 105.4h0M649.0 99.5h0M648.4 91.0h0M650.3 113.2h0M650.6 115.1h0M650.6 112.5h0M653.0 95.4h0M649.9 84.5h0M650.3 106.4h0M649.5 100.9h0M649.6 95.4h0M649.7 100.7h0M651.0 112.5h0M650.8 105.9h0M649.6 106.2h0M651.0 88.7h0M649.2 87.9h0M649.3 90.4h0M651.6 101.8h0M652.0 101.6h0M650.3 110.8h0M649.0 92.7h0M650.2 96.5h0M649.4 106.3h0M649.2 96.5h0M650.3 105.6h0M653.0 93.8h0M650.8 102.0h0M651.8 99.6h0M650.1 106.5h0M649.7 94.1h0M651.4 111.4h0M652.4 84.7h0M652.5 99.1h0M651.7 98.5h0M647.9 83.6h0M652.6 90.1h0M650.9 108.5h0M647.9 86.5h0M651.9 101.0h0M650.9 114.1h0M652.6 86.6h0M651.3 108.9h0M648.6 98.7h0M652.3 96.3h0M651.3 108.9h0M650.7 95.4h0M652.3 101.8h0M651.3 85.2h0M651.1 101.7h0M649.1 88.7h0M650.2 103.3h0M650.3 106.2h0M652.4 94.0h0M649.4 103.6h0M651.2 105.4h0M649.6 95.8h0M652.4 90.5h0M652.9 92.6h0M651.3 85.0h0M652.6 85.6h0M651.9 94.5h0M650.6 110.6h0M651.0 91.2h0M651.5 90.0h0M652.3 86.5h0M650.7 113.7h0M649.8 106.0h0M650.6 87.0h0M651.1 106.2h0M651.5 102.3h0M650.0 107.6h0M650.3 89.8h0M633.1 66.7h0M643.0 65.2h0M645.2 78.1h0M643.6 82.5h0M639.2 73.3h0M644.4 80.5h0M633.9 65.4h0M628.4 66.8h0M645.7 77.6h0M636.9 66.1h0M643.1 81.1h0M631.3 75.4h0M635.3 71.2h0M642.8 74.1h0M644.6 82.2h0M637.3 65.1h0M633.8 68.5h0M640.8 63.4h0M633.3 79.7h0M642.1 61.7h0M635.8 79.8h0M643.9 77.8h0M643.8 76.1h0M645.1 63.9h0M644.0 68.0h0M633.8 67.0h0M640.6 72.1h0M644.0 80.6h0M628.9 68.7h0M639.0 66.4h0M638.8 62.9h0M642.5 74.7h0M633.2 70.1h0M634.3 71.4h0M644.9 76.5h0M639.3 70.2h0M633.7 70.8h0M640.6 70.8h0M645.5 66.6h0M643.6 73.0h0M642.9 77.9h0M645.9 73.4h0M644.0 71.2h0M633.9 73.9h0M641.7 66.6h0M633.6 77.1h0M641.2 70.1h0M641.9 81.1h0M638.0 65.9h0M631.6 66.4h0M642.5 80.1h0M640.0 79.5h0M641.1 62.7h0M643.9 73.7h0M638.9 74.1h0M640.0 68.6h0M640.3 77.6h0M634.5 79.7h0M635.1 79.5h0M643.1 75.4h0M636.8 76.3h0M641.2 68.2h0M636.5 70.5h0M637.4 74.2h0M634.9 67.5h0M637.6 69.5h0M640.8 72.5h0M639.2 63.5h0M641.2 78.4h0M639.6 70.2h0M640.7 63.2h0M635.2 75.6h0M638.9 66.1h0M639.8 66.9h0M643.7 61.8h0M643.1 70.1h0M633.5 74.9h0M644.2 72.2h0M640.0 71.4h0M636.7 76.7h0M639.5 77.4h0M639.9 77.0h0M639.0 73.9h0M636.8 72.1h0M642.3 80.3h0M642.9 83.1h0M639.8 72.6h0M642.4 72.9h0M639.7 71.2h0M644.0 68.4h0M644.6 68.7h0M644.5 61.8h0M643.0 75.7h0M636.8 79.0h0M644.3 83.2h0M631.2 70.2h0M642.7 76.0h0M644.7 71.4h0M644.3 79.1h0M642.6 74.3h0M643.1 83.6h0M635.4 63.6h0M632.1 68.3h0M644.7 74.6h0M639.6 66.5h0M644.5 78.8h0M636.2 76.1h0M645.4 66.9h0M637.3 65.4h0M630.8 67.1h0M643.7 65.4h0M643.7 72.5h0M644.3 76.9h0M640.0 73.3h0M639.0 74.4h0M640.7 74.6h0M640.6 70.0h0M634.0 75.9h0M637.6 68.3h0M639.2 70.8h0M642.1 73.7h0M638.4 79.1h0M640.2 63.6h0M641.9 61.9h0M634.3 63.0h0M640.1 63.8h0M643.7 71.6h0M641.7 71.0h0M633.5 71.2h0M637.0 77.1h0M643.5 79.3h0M637.9 69.1h0M640.2 67.7h0M641.1 74.2h0M633.0 71.8h0M643.9 71.8h0M641.6 68.6h0M630.5 73.5h0M637.2 78.2h0M633.6 72.9h0M633.8 76.4h0M636.1 76.3h0M639.2 79.8h0M636.9 74.4h0M633.6 66.9h0M638.5 80.4h0M644.3 70.4h0M637.6 70.2h0M638.9 66.2h0M642.3 81.2h0M637.0 75.5h0M627.0 71.3h0M630.6 76.6h0M641.7 69.5h0M636.2 66.5h0M639.9 65.5h0M633.8 72.3h0M644.1 70.2h0M644.1 73.0h0M642.4 75.6h0M636.1 79.1h0M634.6 75.3h0M637.5 71.0h0M638.2 67.7h0M640.7 79.4h0M637.5 78.2h0M644.7 75.4h0M643.3 73.1h0M645.8 76.6h0M636.1 78.1h0M643.6 79.3h0M636.0 78.2h0M641.6 74.2h0M642.3 62.7h0M645.1 71.8h0M640.0 80.7h0M643.0 80.4h0M637.7 76.5h0M641.6 73.2h0M640.8 78.8h0M643.9 83.1h0M637.4 74.8h0M642.9 61.3h0M634.4 65.9h0M639.1 77.7h0M642.4 77.7h0M637.9 79.0h0M644.7 80.8h0M642.5 75.5h0M640.0 74.3h0M628.5 75.1h0M638.1 79.1h0M630.6 66.0h0M645.7 75.1h0M640.8 80.3h0M635.0 67.9h0M643.9 63.1h0M644.0 59.1h0M640.3 81.3h0M645.1 80.6h0M633.5 72.7h0M638.1 69.1h0M634.1 69.6h0M636.9 80.7h0M636.3 78.2h0M636.7 79.1h0M640.4 80.8h0M640.7 70.0h0M644.3 66.0h0M641.6 77.2h0M633.2 74.1h0M633.7 80.5h0M639.0 61.4h0M645.7 83.1h0M639.9 75.4h0M642.2 72.8h0M646.0 78.1h0M634.0 79.3h0M643.2 81.8h0M637.9 65.3h0M628.5 73.5h0M644.2 83.6h0M636.6 70.8h0M633.9 70.7h0M643.3 65.3h0M640.4 69.7h0M644.8 76.8h0M639.7 81.2h0M636.0 75.5h0M635.6 77.6h0M643.1 70.5h0M632.4 74.2h0M642.3 78.7h0M638.3 79.5h0M642.4 82.7h0M630.2 69.7h0M637.9 62.8h0M640.5 81.6h0M635.2 73.9h0M632.3 72.6h0M636.8 75.8h0M644.1 76.3h0M639.6 65.6h0M642.3 60.9h0M637.0 71.8h0M642.2 67.9h0M641.2 83.1h0M637.9 75.0h0M638.2 79.6h0M635.5 68.6h0M640.3 76.9h0M635.1 71.5h0M640.6 80.4h0M641.4 61.9h0M633.3 75.9h0M635.5 76.8h0M641.5 70.2h0M640.9 79.6h0M635.2 75.2h0M645.3 73.9h0M641.1 65.1h0M642.9 81.9h0M641.9 73.6h0M643.9 67.7h0M640.5 77.3h0M637.1 63.8h0M644.1 71.6h0M639.1 70.2h0M642.8 73.9h0M629.6 67.9h0M645.0 68.4h0M645.7 75.4h0M644.0 74.0h0M640.5 82.3h0M633.9 70.1h0M640.7 77.5h0M637.6 64.4h0M640.9 60.6h0M636.0 76.4h0M642.8 80.0h0M643.3 66.0h0M644.2 64.1h0M644.8 72.2h0M632.7 75.9h0M639.8 63.9h0M640.5 79.4h0M638.2 64.4h0M641.8 72.6h0M634.4 70.4h0M642.4 72.6h0M642.8 63.5h0M638.4 63.6h0M636.4 69.2h0M644.7 62.3h0M644.4 61.1h0M629.6 73.3h0M632.5 72.5h0M646.9 80.8h0M638.2 63.7h0M636.6 74.5h0M640.9 67.2h0M639.9 78.6h0M639.7 80.2h0M644.2 63.3h0M639.8 65.1h0M633.4 69.8h0M643.4 84.4h0M639.8 79.0h0M638.3 69.4h0M642.5 80.5h0M643.3 71.4h0M637.6 69.8h0M633.7 67.5h0M639.6 71.8h0M641.5 63.7h0M644.2 84.3h0M641.9 72.1h0M643.5 73.3h0M643.9 83.0h0M633.2 69.5h0M637.7 75.1h0M645.8 73.7h0M638.7 80.3h0M633.6 67.8h0M640.5 63.2h0M645.1 65.8h0M636.2 65.2h0M644.9 81.5h0M636.1 71.9h0M639.6 66.1h0M643.6 73.8h0M642.9 69.0h0M638.9 73.8h0M638.3 70.9h0M632.9 68.9h0M644.4 65.5h0M640.9 71.6h0M642.1 67.5h0M636.8 77.5h0M636.8 66.5h0M632.4 71.9h0M633.3 66.1h0M640.9 67.1h0M642.8 74.1h0M637.9 64.8h0M640.1 78.2h0M641.3 77.1h0M639.8 66.5h0M631.4 68.1h0M634.0 77.8h0M644.4 68.1h0M636.8 67.1h0M642.5 64.8h0M642.9 76.6h0M640.1 66.4h0M629.1 67.6h0M633.8 74.4h0M644.9 80.8h0M637.3 71.4h0M641.4 70.7h0M642.2 65.1h0M640.9 62.7h0M643.4 64.6h0M645.7 77.2h0M640.3 73.7h0M644.6 78.3h0M638.3 71.5h0M643.3 78.0h0M643.5 62.2h0M638.1 68.6h0M643.4 83.3h0M641.6 63.1h0M638.1 73.3h0M640.2 67.3h0M645.1 80.8h0M627.0 68.8h0M640.0 76.4h0M636.7 71.4h0M636.9 66.4h0M641.1 69.4h0M633.8 69.2h0M644.3 68.7h0M630.1 71.3h0M644.8 73.7h0M639.5 75.6h0M644.6 62.3h0M644.4 73.6h0M641.5 61.7h0M638.0 71.1h0M645.3 62.1h0M637.7 78.0h0M634.7 72.7h0M637.7 79.6h0M634.7 66.9h0M635.6 74.0h0M639.5 72.1h0M638.9 64.3h0M640.2 64.1h0M646.3 78.1h0M628.0 68.7h0M642.5 62.3h0M630.4 71.7h0M639.2 77.3h0M632.9 78.5h0M635.5 77.1h0M636.8 75.4h0M639.8 76.9h0M643.2 67.9h0M642.0 78.8h0M632.4 74.2h0M629.7 68.4h0M645.3 77.6h0M642.7 83.7h0M645.0 81.1h0M628.1 68.7h0M644.7 62.4h0M642.1 69.5h0M640.8 73.6h0M638.4 72.1h0M640.0 70.0h0M643.2 65.7h0M629.5 73.6h0M643.6 64.9h0M636.0 74.7h0M639.7 80.7h0M638.9 80.2h0M642.6 78.2h0M638.6 69.1h0M633.4 65.9h0M642.3 66.6h0M632.4 66.7h0M642.4 65.0h0M643.3 64.8h0M645.1 69.9h0M639.5 73.5h0M641.4 62.5h0M633.9 62.4h0M632.5 67.9h0M642.6 69.5h0M639.5 64.5h0M635.5 72.9h0M640.5 61.6h0M640.8 74.4h0M638.8 76.3h0M640.5 78.4h0M637.6 63.1h0M645.0 71.7h0M635.7 74.5h0M636.7 65.8h0M635.8 75.8h0M642.0 63.2h0M633.3 65.2h0M632.2 66.3h0M638.3 67.2h0M640.9 78.4h0M644.5 71.7h0M641.6 82.1h0M640.0 64.4h0M633.8 64.4h0M644.5 68.6h0M635.2 65.9h0M637.9 75.3h0M642.8 68.1h0M645.0 81.8h0M636.9 69.8h0M635.5 66.4h0M637.7 71.8h0M643.6 73.4h0M641.5 73.5h0M638.4 72.5h0M641.1 77.2h0M644.1 80.5h0M641.6 71.6h0M639.6 68.0h0M639.9 67.7h0M638.1 66.0h0M636.1 68.8h0M636.4 77.0h0M636.7 62.5h0M642.0 63.9h0M632.9 68.6h0M636.4 74.6h0M637.1 66.5h0M634.4 73.6h0M638.0 63.0h0M638.7 79.2h0M638.5 66.7h0M635.4 73.3h0M639.8 79.6h0M638.8 68.3h0M643.0 81.7h0M643.7 81.2h0M637.2 72.5h0M635.2 71.1h0M643.5 79.7h0M641.7 71.6h0M641.9 79.4h0M642.2 66.1h0M645.6 76.0h0M639.6 77.2h0M641.0 76.2h0M643.5 64.8h0M636.3 69.2h0M638.7 76.9h0M639.1 71.2h0M640.0 67.5h0M636.8 69.0h0M643.1 61.7h0M636.6 73.6h0M635.2 71.5h0M638.0 73.0h0M639.9 67.9h0M645.4 75.0h0M645.2 81.4h0M639.1 67.0h0M642.5 63.4h0M640.4 70.3h0M641.2 72.6h0M644.0 71.2h0M634.7 70.9h0M644.8 74.7h0M644.3 81.6h0M643.3 70.7h0M640.0 71.2h0M644.2 64.4h0M643.4 77.9h0M640.5 71.2h0M635.2 71.0h0M638.8 65.1h0M635.1 74.6h0M638.8 77.1h0M644.5 73.8h0M643.1 73.9h0M640.9 72.9h0M643.1 75.7h0M639.9 75.3h0M639.2 73.0h0M641.2 79.2h0M643.9 64.9h0M644.5 63.0h0M643.3 76.6h0M644.0 73.6h0M636.9 67.7h0M638.0 71.6h0M641.6 66.7h0M638.8 73.0h0M645.1 74.8h0M640.5 63.7h0M641.3 76.3h0M639.7 64.8h0M644.1 72.9h0M643.5 72.3h0M640.2 67.0h0M638.7 68.2h0M642.0 78.0h0M641.0 75.3h0M643.9 70.8h0M636.3 71.3h0M639.0 79.4h0M645.4 79.1h0M642.8 74.0h0M635.8 72.5h0M645.3 64.3h0M643.7 77.7h0M643.9 72.7h0M638.6 72.9h0M642.3 79.0h0M643.4 79.4h0M641.3 66.9h0M644.4 72.6h0M640.6 77.1h0M644.4 65.6h0M642.0 77.3h0M639.2 66.3h0M640.7 68.0h0M644.3 68.3h0M638.7 76.4h0M642.6 69.5h0M638.5 75.2h0M645.4 78.2h0M644.4 71.6h0M641.1 64.2h0M642.3 69.7h0M642.3 75.5h0M640.0 71.0h0M640.0 74.4h0M639.6 76.6h0M635.4 76.3h0M636.7 72.4h0M640.2 69.7h0M637.8 75.7h0M646.0 77.0h0M644.9 79.4h0M640.4 65.5h0M637.2 74.3h0M639.7 73.4h0M641.3 72.9h0M643.4 66.7h0M642.2 78.5h0M644.0 78.5h0M644.6 70.1h0M643.4 70.7h0M636.5 76.2h0M641.7 66.4h0M644.9 69.0h0M641.6 72.4h0M636.9 66.9h0M640.9 80.0h0M642.2 72.6h0M639.4 78.1h0M643.5 72.6h0M639.6 69.5h0M638.6 77.6h0M643.9 64.0h0M644.1 66.1h0M643.7 77.9h0M638.2 66.0h0M639.7 66.0h0M638.9 72.1h0M635.3 74.2h0M640.8 66.6h0M643.9 76.8h0M639.6 63.8h0M638.8 66.7h0M641.6 71.2h0M636.5 67.7h0M639.7 71.0h0M638.6 72.9h0M640.4 67.8h0M641.9 72.0h0M644.8 75.5h0M642.8 71.5h0M638.4 68.0h0M637.9 78.0h0M643.4 71.6h0M640.9 79.0h0M643.3 72.4h0M639.2 71.0h0M634.6 69.1h0M638.3 70.6h0M644.5 66.6h0M635.1 70.7h0M635.8 66.3h0M641.7 79.8h0M635.5 71.9h0M639.6 67.0h0M639.9 65.7h0M642.7 80.5h0M639.8 74.1h0M636.0 76.0h0M644.5 80.5h0M644.5 63.3h0M639.1 67.6h0M643.5 74.2h0M641.6 71.2h0M635.4 68.6h0M636.4 71.6h0M638.5 75.3h0M641.8 76.4h0M643.7 71.2h0M644.0 72.7h0M645.0 72.6h0M636.6 69.2h0M639.9 71.9h0M641.7 69.6h0M635.1 72.4h0M643.1 65.4h0M643.5 79.3h0M643.2 64.9h0M640.3 78.5h0M644.2 70.8h0M642.6 64.9h0M637.7 77.2h0M636.1 70.2h0M643.7 63.0h0M639.6 73.9h0M635.6 72.9h0M636.5 66.3h0M641.5 77.0h0M645.2 78.5h0M637.7 68.5h0M639.9 78.9h0M645.5 64.0h0M637.9 69.6h0M641.4 73.6h0M637.3 69.7h0M639.4 72.8h0M642.9 78.7h0M635.7 74.2h0M644.7 78.1h0M637.7 70.0h0M643.3 78.8h0M636.8 72.9h0M644.0 81.1h0M639.9 64.9h0M643.9 78.4h0M642.9 67.1h0M641.9 65.6h0M639.6 75.9h0M642.0 66.7h0M640.9 64.6h0M643.9 78.5h0M637.1 77.0h0M641.6 79.8h0M643.3 67.7h0M641.7 75.0h0M636.1 67.7h0M643.7 78.5h0M645.2 67.1h0M640.8 75.3h0M642.1 72.3h0M641.5 68.1h0M638.6 68.7h0M645.2 80.9h0M641.5 75.6h0M639.2 74.2h0M644.5 65.8h0M645.7 81.6h0M637.5 68.7h0M636.3 75.9h0M634.1 71.3h0M645.0 70.7h0M642.0 73.0h0M644.0 68.1h0M641.8 73.8h0M640.0 76.4h0M642.4 72.9h0M645.5 63.7h0M640.1 67.0h0M637.1 76.0h0M641.4 66.4h0M641.3 75.4h0M644.8 71.1h0M592.1 63.6h0M620.7 63.3h0M617.1 72.1h0M619.8 75.7h0M623.0 77.9h0M643.0 86.4h0M622.9 65.0h0M626.4 65.7h0M629.3 63.6h0M623.6 69.3h0M627.1 68.9h0M626.4 73.6h0M625.0 71.0h0M631.0 61.7h0M635.3 60.4h0M628.2 79.0h0M632.4 81.3h0M637.6 83.6h0M640.7 85.2h0M624.6 75.2h0M659.2 41.2h0M655.5 39.6h0M655.8 29.6h0M658.9 27.0h0M657.0 40.0h0M658.1 50.0h0M657.6 47.0h0M661.1 37.5h0M660.8 45.8h0M656.7 47.4h0M656.4 39.4h0M654.8 63.2h0M657.5 48.3h0M657.8 41.0h0M656.1 42.5h0M655.9 37.6h0M657.0 33.3h0M659.8 46.7h0M662.3 56.3h0M656.9 36.3h0M657.1 42.4h0M656.4 56.9h0M655.4 57.7h0M658.9 35.1h0M657.4 52.1h0M658.0 41.6h0M659.0 27.6h0M657.6 58.8h0M656.2 22.7h0M657.6 39.9h0M658.6 45.9h0M661.3 42.4h0M656.2 46.1h0M657.9 54.0h0M655.4 52.4h0M655.5 41.2h0M655.2 58.5h0M660.2 29.0h0M655.5 40.6h0M655.5 38.7h0M655.7 47.8h0M654.5 59.6h0M662.5 42.5h0M654.3 34.2h0M663.4 45.5h0M654.7 55.3h0M659.6 46.2h0M654.4 51.2h0M655.0 52.8h0M655.1 37.3h0M659.9 46.8h0M658.6 28.6h0M655.5 35.6h0M660.4 42.5h0M657.7 21.9h0M660.4 40.0h0M655.8 31.6h0M659.2 60.9h0M659.5 45.6h0M658.8 56.2h0M659.0 36.0h0M657.6 28.6h0M655.1 58.6h0M658.7 49.0h0M660.6 39.1h0M659.4 54.2h0M659.5 44.0h0M656.1 60.1h0M658.7 50.7h0M659.4 56.8h0M661.7 55.6h0M660.5 43.0h0M661.8 38.5h0M659.1 43.4h0M656.8 38.1h0M657.6 38.9h0M661.1 57.5h0M657.5 43.4h0M654.9 31.9h0M659.2 42.1h0M655.4 38.7h0M656.9 28.6h0M655.6 31.8h0M658.0 45.0h0M655.6 41.2h0M658.6 30.0h0M660.9 29.5h0M659.9 36.0h0M658.3 32.2h0M654.4 28.7h0M656.3 29.1h0M659.7 47.3h0M658.4 49.3h0M654.9 57.2h0M657.6 50.8h0M655.9 53.6h0M658.4 46.2h0M659.5 41.2h0M661.3 47.4h0M659.5 42.9h0M662.3 43.6h0M661.4 36.5h0M663.2 42.8h0M655.6 38.1h0M659.9 29.2h0M658.9 40.4h0M655.8 40.4h0M654.5 60.7h0M658.9 24.8h0M655.2 49.1h0M660.0 52.1h0M655.8 27.7h0M657.8 27.6h0M655.9 32.0h0M658.7 53.7h0M657.5 52.2h0M659.3 54.5h0M660.3 60.5h0M661.8 34.1h0M658.4 39.0h0M656.3 23.0h0M660.5 41.5h0M654.4 49.0h0M658.5 22.3h0M654.7 32.3h0M654.9 28.4h0M655.3 33.4h0M661.9 50.7h0M655.1 45.7h0M658.4 34.5h0M657.5 43.4h0M659.9 54.9h0M660.5 35.1h0M654.2 36.4h0M660.8 42.4h0M653.7 42.4h0M654.6 45.4h0M658.9 43.3h0M659.0 49.2h0M662.9 46.3h0M656.5 39.3h0M660.6 25.3h0M658.5 44.9h0M657.8 57.3h0M658.9 42.7h0M657.5 47.1h0M655.0 47.8h0M660.2 51.0h0M657.6 40.1h0M655.9 39.2h0M661.6 40.0h0M659.9 53.5h0M657.0 39.2h0M658.8 36.3h0M658.3 51.8h0M655.6 50.9h0M656.5 49.9h0M657.9 51.4h0M655.7 48.4h0M659.4 52.8h0M659.9 61.7h0M662.0 45.8h0M655.5 27.8h0M657.5 53.1h0M658.4 33.4h0M659.6 42.7h0M663.2 42.9h0M656.7 36.3h0M656.8 56.5h0M658.5 35.7h0M656.2 24.0h0M656.0 31.6h0M661.4 41.3h0M656.1 35.7h0M661.7 34.0h0M657.1 62.8h0M658.4 58.3h0M659.4 42.1h0M655.0 55.8h0M658.7 46.0h0M654.7 47.1h0M663.4 48.8h0M655.2 52.6h0M658.4 28.9h0M661.9 55.3h0M661.5 57.8h0M657.8 30.4h0M657.4 50.4h0M662.7 40.5h0M657.4 34.8h0M655.9 35.6h0M655.5 30.3h0M657.8 50.6h0M657.3 47.6h0M656.1 39.0h0M662.6 50.5h0M662.7 43.2h0M655.6 26.5h0M658.4 33.3h0M657.0 40.1h0M656.9 42.6h0M657.9 38.9h0M660.2 31.9h0M654.6 48.4h0M656.6 49.7h0M660.1 37.3h0M658.7 58.6h0M655.5 35.4h0M656.0 62.8h0M659.8 43.0h0M658.7 40.7h0M658.5 36.4h0M654.6 36.7h0M657.9 53.6h0M655.1 48.5h0M661.2 48.6h0M657.4 48.1h0M657.7 48.0h0M655.7 54.1h0M659.5 26.1h0M655.2 36.7h0M657.5 57.3h0M655.2 58.1h0M660.7 57.9h0M658.0 31.7h0M659.7 33.0h0M659.0 43.3h0M657.4 47.5h0M661.4 36.6h0M660.6 52.2h0M655.8 56.0h0M657.9 45.1h0M654.2 40.9h0M655.3 35.1h0M658.5 60.7h0M662.6 39.3h0M657.7 53.2h0M656.9 33.7h0M655.1 58.0h0M659.8 51.3h0M656.5 50.1h0M660.5 36.7h0M660.2 45.0h0M657.2 24.7h0M657.5 60.6h0M658.9 45.7h0M656.5 37.3h0M655.7 45.5h0M658.8 47.9h0M655.7 44.6h0M663.9 41.0h0M661.7 40.0h0M655.5 43.1h0M657.1 24.7h0M658.0 52.8h0M657.9 41.6h0M658.2 51.2h0M659.3 36.1h0M662.3 47.3h0M660.6 31.8h0M655.3 26.7h0M661.9 47.7h0M656.5 58.0h0M655.4 30.0h0M657.9 33.0h0M656.1 34.3h0M656.4 32.5h0M659.4 44.9h0M656.0 26.1h0M659.3 25.0h0M658.2 41.1h0M660.5 45.3h0M654.9 45.1h0M656.2 56.1h0M661.2 42.3h0M659.7 54.0h0M654.8 51.1h0M655.7 64.7h0M658.2 39.9h0M655.4 42.9h0M656.8 38.3h0M654.5 41.3h0M656.2 62.3h0M661.6 34.2h0M656.2 48.6h0M658.2 47.2h0M661.7 35.1h0M658.2 36.3h0M657.3 42.4h0M661.2 28.4h0M658.1 58.3h0M654.2 53.3h0M660.2 54.6h0M657.4 41.5h0M658.2 35.4h0M657.2 36.4h0M663.0 41.0h0M657.2 40.9h0M655.4 27.9h0M660.8 41.3h0M655.2 31.5h0M657.6 39.8h0M657.3 58.7h0M659.4 39.6h0M656.8 62.2h0M654.7 61.8h0M660.1 31.4h0M660.7 43.7h0M654.1 47.6h0M659.6 27.4h0M655.7 28.3h0M660.9 29.3h0M660.3 45.4h0M656.3 40.2h0M658.9 33.6h0M659.3 39.0h0M657.8 39.5h0M659.8 24.4h0M661.9 52.0h0M653.7 41.6h0M655.9 37.3h0M661.0 54.7h0M654.4 35.4h0M662.2 36.2h0M663.0 38.9h0M658.8 43.5h0M661.0 36.5h0M656.8 34.2h0M662.1 54.6h0M661.7 56.5h0M656.5 37.7h0M655.6 41.6h0M655.7 38.6h0M655.0 41.7h0M655.8 41.3h0M659.0 33.4h0M656.4 30.2h0M657.9 36.0h0M655.5 48.2h0M655.5 56.4h0M658.0 38.1h0M655.1 49.9h0M654.5 53.4h0M654.2 44.4h0M656.6 36.6h0M657.5 40.6h0M657.6 30.9h0M655.0 38.8h0M656.1 33.9h0M656.7 35.1h0M658.1 34.4h0M655.9 30.3h0M656.8 33.4h0M657.1 37.2h0M654.6 46.3h0M659.3 38.9h0M658.7 34.7h0M657.1 30.9h0M658.2 34.7h0M655.0 52.6h0M654.9 58.1h0M655.9 43.7h0M654.7 47.3h0M655.3 47.9h0M655.9 54.8h0M654.6 30.2h0M656.3 40.3h0M655.3 40.4h0M654.1 55.1h0M654.4 30.9h0M655.6 55.1h0M654.4 29.9h0M657.4 47.5h0M654.7 59.1h0M654.8 41.4h0M654.7 37.4h0M655.8 45.8h0M656.9 57.3h0M656.9 46.4h0M657.0 40.7h0M655.9 44.2h0M655.0 51.9h0M656.4 53.1h0M654.9 41.7h0M656.1 36.2h0M657.1 32.7h0M655.5 40.6h0M657.4 33.7h0M656.4 54.8h0M655.9 45.3h0M658.5 37.1h0M657.8 36.4h0M658.9 36.4h0M656.6 42.8h0M656.7 35.0h0M655.3 47.2h0M657.1 31.4h0M657.1 28.9h0M655.3 57.7h0M656.8 49.4h0M655.0 57.8h0M655.8 46.9h0M656.8 39.0h0M655.3 38.0h0M657.8 35.4h0M655.4 60.6h0M654.7 29.0h0M656.7 38.1h0M658.6 36.0h0M656.6 28.5h0M657.3 51.9h0M654.4 40.0h0M660.4 14.7h0M654.7 17.4h0M659.6 20.4h0M662.9 30.7h0M670.7 32.4h0M667.1 38.1h0M668.3 42.9h0M667.4 37.9h0M674.3 47.1h0M676.0 51.4h0M677.6 56.0h0M655.5 21.5h0M657.5 23.5h0M663.7 56.6h0M662.5 59.5h0M665.3 44.0h0" class="p"/>
<path d="M651.6 56.0L651.5 70.0L651.2 83.0" fill="none" stroke="#fff" stroke-width="0.70"/></g>
<rect x="588.8" y="1.8" width="92.9" height="119.0" fill="none" stroke="#7a7a7a" stroke-width=".9"/>
<path d="M593.0 121.2v2.6M610.6 121.2v2.6M628.2 121.2v2.6M645.8 121.2v2.6M663.3 121.2v2.6M680.6 121.2v2.6M588.4 18.7h-2.6M588.4 45.5h-2.6M588.4 72.4h-2.6M588.4 99.2h-2.6" stroke="#333" stroke-width=".9" fill="none"/>
<text class="t" x="593.0" y="132.7" text-anchor="middle">−6</text>
<text class="t" x="610.6" y="132.7" text-anchor="middle">−4</text>
<text class="t" x="628.2" y="132.7" text-anchor="middle">−2</text>
<text class="t" x="645.8" y="132.7" text-anchor="middle">0</text>
<text class="t" x="663.3" y="132.7" text-anchor="middle">2</text>
<text class="t" x="680.6" y="132.7" text-anchor="middle">4</text>
<text class="t" x="583.4" y="21.8" text-anchor="end">0.1</text>
<text class="t" x="583.4" y="48.5" text-anchor="end">0.0</text>
<text class="t" x="583.4" y="75.5" text-anchor="end">−0.1</text>
<text class="t" x="583.4" y="102.2" text-anchor="end">−0.2</text>
<text class="a" x="637.7" y="145.6" text-anchor="middle">HDL FPC3 score</text>
<text class="a" transform="translate(564.3 64.2) rotate(-90)" text-anchor="middle">SHAP value</text></g>
<g><clipPath id="c5"><rect x="32.4" y="157.6" width="92.9" height="118.5"/></clipPath>
<path d="M45.2 157.6V276.1M70.4 157.6V276.1M95.6 157.6V276.1M120.8 157.6V276.1M32.4 175.8H125.3M32.4 204.3H125.3M32.4 232.7H125.3M32.4 261.2H125.3" stroke="#f1f1f1" stroke-width=".5" fill="none"/>
<path d="M32.6 157.6V276.1M57.6 157.6V276.1M82.8 157.6V276.1M108.2 157.6V276.1M32.4 161.6H125.3M32.4 189.9H125.3M32.4 218.3H125.3M32.4 246.8H125.3M32.4 275.4H125.3" stroke="#e6e6e6" stroke-width=".9" fill="none"/>
<g clip-path="url(#c5)"><path d="M82.9 164.6L82.3 167.0L82.0 180.0L81.9 199.0L81.7 215.0L81.5 224.0L81.5 229.0L87.4 229.0L86.0 224.0L84.7 215.0L84.1 199.0L84.0 180.0L83.7 167.0L83.1 164.6ZM82.0 232.1L77.2 234.6L73.8 236.8L72.8 241.0L73.1 250.4L75.3 256.4L78.3 261.9L80.9 266.4L82.3 268.5L82.4 250.0ZM84.6 230.3L84.9 240.0L85.3 251.2L87.8 249.4L90.8 246.2L93.7 242.5L95.3 238.4L93.8 235.4L89.9 233.1Z" fill="#000" stroke="#000" stroke-width=".6" stroke-linejoin="round"/>
<path d="M82.9 162.1h0M82.4 212.3h0M83.6 177.1h0M83.4 184.5h0M82.9 200.3h0M82.3 194.2h0M83.2 169.4h0M83.6 198.4h0M84.0 227.4h0M83.4 180.7h0M82.8 209.9h0M82.4 199.4h0M82.9 181.8h0M83.8 188.5h0M83.6 203.8h0M83.0 224.4h0M82.0 211.6h0M82.7 226.5h0M83.1 216.3h0M82.0 183.3h0M82.7 177.3h0M82.3 206.2h0M83.3 194.4h0M83.7 168.1h0M83.2 176.3h0M82.7 203.6h0M82.0 196.1h0M82.3 191.9h0M82.9 208.1h0M83.5 170.5h0M82.7 184.9h0M82.9 178.2h0M85.3 223.7h0M84.0 176.6h0M83.3 176.4h0M82.5 217.6h0M82.4 182.8h0M83.9 204.5h0M82.8 175.6h0M82.5 213.4h0M84.0 197.0h0M81.9 211.6h0M83.1 207.3h0M81.8 193.2h0M83.3 169.4h0M83.8 198.9h0M83.3 171.5h0M82.4 204.5h0M84.9 228.2h0M83.0 184.3h0M83.7 168.5h0M82.8 170.6h0M83.1 197.4h0M83.2 205.0h0M83.8 208.5h0M82.2 207.7h0M83.3 174.0h0M83.6 194.3h0M82.2 195.2h0M81.8 204.0h0M82.8 176.7h0M82.1 197.0h0M82.2 173.3h0M83.7 179.5h0M83.8 206.1h0M84.7 218.1h0M83.9 227.3h0M82.5 210.5h0M84.9 224.1h0M82.7 222.3h0M82.1 214.0h0M82.2 207.4h0M82.0 208.8h0M83.0 193.7h0M85.8 226.4h0M81.8 218.4h0M82.8 179.7h0M83.7 217.9h0M83.9 177.6h0M83.5 185.2h0M83.4 189.4h0M82.8 165.3h0M83.2 198.4h0M83.5 190.8h0M82.9 190.7h0M83.4 187.1h0M84.0 201.3h0M82.8 169.1h0M84.2 223.1h0M82.5 168.4h0M83.3 184.2h0M81.9 206.7h0M83.6 194.4h0M82.5 205.4h0M82.6 199.4h0M83.9 192.1h0M82.4 170.1h0M82.8 203.0h0M82.8 165.8h0M85.2 224.1h0M84.5 221.3h0M85.0 225.8h0M83.2 177.9h0M83.8 173.7h0M83.3 184.3h0M82.9 182.1h0M82.5 197.9h0M83.2 171.9h0M82.5 190.9h0M83.1 211.3h0M82.4 178.9h0M83.3 169.5h0M81.8 197.3h0M83.2 203.7h0M82.2 214.6h0M84.8 214.1h0M83.1 166.4h0M84.1 211.2h0M83.6 215.8h0M82.0 214.7h0M84.9 222.2h0M83.0 182.0h0M83.7 170.8h0M83.3 199.4h0M84.0 221.3h0M82.6 172.6h0M85.2 218.1h0M84.0 216.3h0M82.8 194.3h0M83.8 211.6h0M82.5 190.2h0M83.6 208.6h0M83.9 177.6h0M83.2 175.3h0M83.9 214.5h0M82.2 196.7h0M82.7 202.4h0M84.1 204.8h0M83.2 190.5h0M83.4 167.6h0M84.3 222.1h0M83.7 174.2h0M83.2 176.9h0M82.8 225.0h0M83.6 181.2h0M83.5 170.1h0M83.2 182.9h0M83.4 177.9h0M82.1 174.1h0M82.9 227.3h0M83.8 186.4h0M83.7 177.5h0M83.1 210.4h0M81.7 222.7h0M82.9 183.4h0M82.8 184.6h0M83.0 171.1h0M82.6 187.9h0M82.2 214.2h0M82.1 184.8h0M82.7 182.5h0M82.4 207.6h0M82.2 190.9h0M82.9 201.9h0M82.7 169.6h0M82.1 181.6h0M83.9 213.1h0M83.9 200.5h0M82.9 171.3h0M82.0 207.6h0M82.4 178.9h0M83.5 226.9h0M83.7 202.5h0M82.5 195.1h0M83.9 189.2h0M84.3 210.6h0M82.3 188.0h0M82.6 221.7h0M85.5 222.3h0M83.1 206.1h0M83.5 223.5h0M83.1 211.2h0M83.4 198.2h0M82.3 171.5h0M84.5 208.2h0M82.1 220.7h0M81.5 226.2h0M84.4 216.6h0M85.3 223.0h0M83.5 217.2h0M83.6 173.0h0M83.1 189.8h0M83.4 207.1h0M83.5 171.5h0M83.8 187.3h0M83.8 195.0h0M83.9 207.0h0M82.6 198.8h0M82.2 221.5h0M84.3 216.9h0M82.7 195.5h0M84.3 214.5h0M84.5 212.9h0M83.0 211.6h0M83.5 183.2h0M83.7 194.8h0M83.9 199.9h0M82.4 167.4h0M81.9 223.6h0M84.0 224.1h0M83.5 170.0h0M83.0 175.2h0M83.3 184.3h0M84.1 211.7h0M82.8 218.1h0M83.5 211.6h0M82.3 208.9h0M85.4 226.3h0M81.7 209.8h0M81.9 173.4h0M82.1 178.1h0M82.8 203.4h0M84.3 220.5h0M82.2 225.0h0M82.7 210.3h0M83.0 194.1h0M83.2 196.1h0M83.1 202.0h0M83.0 210.1h0M82.3 220.0h0M83.2 172.0h0M84.2 209.7h0M82.1 171.4h0M83.4 197.0h0M83.3 196.1h0M84.5 223.6h0M83.1 168.7h0M83.3 183.2h0M83.4 212.7h0M82.3 193.6h0M82.5 173.4h0M82.3 204.7h0M82.7 177.8h0M82.7 174.6h0M83.2 166.5h0M83.5 198.5h0M82.0 183.8h0M83.0 165.9h0M82.9 219.4h0M84.8 225.6h0M82.1 217.8h0M82.3 187.2h0M83.5 196.4h0M84.6 226.4h0M82.9 207.1h0M84.0 199.7h0M82.4 198.5h0M84.4 227.7h0M82.6 197.6h0M83.0 168.4h0M84.4 204.1h0M82.9 173.3h0M83.5 193.6h0M83.4 168.7h0M81.8 220.7h0M83.2 186.6h0M83.8 206.9h0M83.9 201.8h0M82.0 194.6h0M84.1 186.4h0M84.5 227.2h0M83.2 175.8h0M82.5 199.9h0M82.9 166.2h0M82.3 209.1h0M83.8 215.5h0M83.0 184.0h0M81.9 216.7h0M84.3 222.4h0M86.4 227.2h0M83.9 222.9h0M82.7 188.8h0M83.6 188.7h0M84.1 213.5h0M83.5 194.7h0M83.9 208.8h0M83.8 211.8h0M82.6 174.6h0M83.7 192.5h0M83.4 193.3h0M82.1 189.0h0M81.8 211.2h0M83.6 175.3h0M85.8 227.4h0M81.7 225.3h0M83.7 220.4h0M84.5 207.1h0M82.3 189.1h0M83.5 168.7h0M82.4 215.5h0M82.9 167.8h0M82.8 192.9h0M82.2 186.5h0M84.3 211.2h0M82.8 200.3h0M81.9 217.1h0M82.0 175.6h0M82.0 204.2h0M84.3 221.3h0M82.9 220.4h0M83.2 177.8h0M83.4 189.3h0M83.3 189.5h0M82.2 192.6h0M83.0 181.2h0M83.0 174.3h0M82.5 190.1h0M82.8 206.9h0M83.8 197.1h0M83.6 173.7h0M86.9 227.8h0M82.4 197.6h0M82.9 166.3h0M82.4 183.4h0M82.4 185.2h0M82.9 196.8h0M82.8 213.1h0M83.5 171.6h0M83.6 174.6h0M82.5 167.6h0M83.5 169.8h0M82.9 186.3h0M84.5 215.3h0M83.5 180.6h0M83.3 199.0h0M83.4 189.7h0M82.2 202.0h0M83.6 185.7h0M82.1 181.4h0M84.8 226.7h0M82.2 208.8h0M82.7 210.8h0M83.1 198.0h0M83.3 171.5h0M82.7 190.3h0M83.5 192.0h0M81.8 241.8h0M79.3 259.3h0M74.5 245.8h0M76.6 248.8h0M76.5 243.4h0M76.2 256.7h0M77.0 257.4h0M81.2 265.2h0M77.1 236.3h0M77.9 250.4h0M81.6 263.8h0M83.1 267.9h0M70.3 235.4h0M78.9 253.8h0M77.2 250.4h0M71.4 239.5h0M77.5 232.6h0M73.4 244.7h0M75.8 239.2h0M80.4 236.4h0M82.4 255.0h0M80.5 261.7h0M80.7 267.0h0M83.0 256.4h0M76.4 263.4h0M73.7 258.5h0M78.6 255.6h0M70.4 236.8h0M76.5 240.9h0M70.7 240.7h0M81.1 253.9h0M77.5 238.1h0M69.8 242.1h0M80.2 260.0h0M77.7 265.3h0M80.1 259.3h0M79.5 269.7h0M67.9 249.1h0M75.4 250.7h0M72.5 244.4h0M81.6 267.7h0M65.4 242.1h0M69.1 236.8h0M80.3 245.3h0M82.6 238.2h0M72.1 242.2h0M69.2 244.5h0M76.0 240.7h0M80.9 250.0h0M79.7 250.4h0M68.5 252.5h0M79.4 235.0h0M77.4 258.5h0M77.0 257.0h0M78.8 234.6h0M81.5 250.4h0M80.5 246.1h0M81.0 240.2h0M83.8 271.6h0M76.9 237.9h0M80.6 236.9h0M70.3 245.8h0M77.1 233.3h0M73.4 242.4h0M73.4 239.7h0M76.6 247.4h0M74.8 235.7h0M79.2 237.9h0M73.6 240.3h0M73.3 260.5h0M79.5 258.9h0M82.8 268.6h0M82.3 254.0h0M79.6 238.0h0M68.2 253.3h0M78.9 232.5h0M82.5 235.2h0M81.5 267.2h0M72.6 243.1h0M75.7 250.0h0M69.8 249.8h0M74.0 235.4h0M74.8 250.2h0M72.1 245.1h0M70.1 246.7h0M81.3 251.0h0M74.0 257.7h0M77.3 238.4h0M75.1 249.7h0M76.6 249.4h0M79.3 251.8h0M79.1 259.4h0M79.2 263.7h0M70.8 255.9h0M76.0 235.3h0M74.3 258.3h0M77.2 242.2h0M81.6 267.0h0M80.1 251.9h0M77.5 245.9h0M78.5 248.7h0M78.8 245.4h0M75.6 250.6h0M79.3 254.3h0M70.9 249.5h0M81.9 265.0h0M73.0 256.4h0M77.8 254.7h0M80.8 231.2h0M77.0 240.0h0M74.2 242.8h0M80.0 242.6h0M80.4 255.3h0M79.8 252.8h0M76.0 240.8h0M77.8 256.2h0M80.5 247.5h0M79.3 232.5h0M77.0 237.3h0M77.0 242.7h0M79.0 261.1h0M78.9 244.1h0M72.9 236.5h0M79.2 256.1h0M81.0 232.0h0M78.3 240.0h0M77.9 240.3h0M72.6 242.1h0M79.0 238.1h0M81.3 244.0h0M67.5 240.5h0M78.4 261.5h0M77.3 239.8h0M80.9 266.5h0M78.1 253.7h0M74.4 243.1h0M76.5 246.8h0M70.5 253.4h0M83.0 249.5h0M77.7 238.5h0M74.5 250.1h0M77.9 248.6h0M78.7 261.0h0M71.0 249.6h0M69.7 250.2h0M73.1 235.1h0M77.1 255.2h0M74.2 247.5h0M76.9 237.5h0M73.4 241.4h0M73.6 243.0h0M76.5 237.9h0M77.1 240.7h0M76.0 260.9h0M79.8 238.2h0M74.3 255.0h0M80.7 255.0h0M78.6 243.7h0M76.7 257.0h0M74.5 236.3h0M79.6 260.7h0M72.9 242.3h0M81.0 234.4h0M80.1 232.4h0M71.4 249.5h0M81.3 255.3h0M79.9 231.5h0M80.4 250.3h0M78.3 241.6h0M72.1 254.6h0M69.4 242.5h0M78.5 250.1h0M82.3 244.1h0M77.6 248.7h0M73.1 255.4h0M73.0 254.1h0M78.9 264.7h0M77.7 251.8h0M82.5 259.6h0M76.4 238.2h0M70.7 246.2h0M80.5 232.4h0M71.6 252.4h0M73.9 241.9h0M76.3 250.9h0M74.7 259.0h0M77.6 234.3h0M77.3 262.1h0M78.1 256.7h0M79.9 260.5h0M76.5 235.7h0M76.1 237.7h0M76.0 241.2h0M82.6 258.5h0M75.5 258.5h0M77.9 237.8h0M81.8 266.8h0M70.7 252.4h0M81.7 243.9h0M78.9 262.6h0M73.7 235.5h0M77.3 244.7h0M78.5 250.1h0M77.3 251.3h0M70.6 255.5h0M79.3 253.0h0M81.6 262.6h0M80.1 237.3h0M79.4 245.2h0M80.5 234.8h0M74.6 242.7h0M80.8 253.2h0M78.7 258.8h0M76.5 247.2h0M70.9 252.2h0M82.7 260.5h0M80.3 247.1h0M82.2 253.9h0M79.1 249.7h0M77.5 257.7h0M73.5 234.5h0M72.4 250.5h0M72.7 242.2h0M82.2 237.0h0M74.4 234.7h0M69.0 243.5h0M78.6 251.3h0M78.5 245.0h0M82.1 252.1h0M75.6 258.6h0M79.3 257.4h0M80.5 241.2h0M75.2 257.8h0M76.3 246.0h0M81.4 232.4h0M76.8 242.0h0M75.4 247.7h0M71.8 247.4h0M81.5 248.8h0M77.7 236.9h0M72.0 236.3h0M74.6 240.2h0M75.9 237.1h0M75.7 262.8h0M73.9 256.5h0M75.3 236.8h0M81.6 259.3h0M75.9 260.1h0M70.7 237.3h0M77.2 239.1h0M78.3 238.6h0M77.2 250.8h0M74.8 240.0h0M81.4 246.7h0M73.8 241.0h0M79.1 231.5h0M74.0 239.6h0M81.4 265.6h0M76.5 233.0h0M76.5 253.0h0M76.4 249.0h0M72.6 240.2h0M81.4 236.8h0M78.7 259.8h0M70.2 245.0h0M81.6 260.3h0M74.9 251.6h0M79.1 251.6h0M82.3 256.5h0M78.2 236.5h0M79.4 239.1h0M74.8 240.4h0M70.3 243.7h0M80.7 254.5h0M78.0 242.9h0M81.6 236.4h0M77.7 235.4h0M79.5 250.4h0M79.0 263.8h0M81.0 266.0h0M68.6 242.0h0M76.7 260.2h0M75.4 261.0h0M81.1 263.6h0M78.3 232.7h0M79.3 236.5h0M74.7 240.7h0M80.7 241.6h0M77.1 253.1h0M76.7 249.7h0M77.5 238.6h0M71.4 253.4h0M71.4 256.2h0M67.0 243.9h0M73.9 233.4h0M72.4 242.0h0M79.8 233.1h0M80.0 238.8h0M71.2 254.6h0M75.8 254.4h0M68.0 248.5h0M79.3 249.3h0M80.4 250.4h0M71.6 239.0h0M77.1 235.2h0M70.0 251.9h0M81.2 241.4h0M81.7 249.4h0M75.1 245.9h0M77.5 246.9h0M81.4 263.9h0M79.6 251.1h0M77.6 244.4h0M75.1 255.6h0M76.4 239.7h0M79.7 258.6h0M76.3 237.7h0M80.2 250.0h0M78.7 243.4h0M68.6 243.0h0M80.6 267.8h0M73.6 255.5h0M80.0 242.3h0M74.4 250.1h0M70.9 254.4h0M83.5 262.3h0M81.0 261.3h0M80.5 269.1h0M72.9 254.6h0M77.3 237.1h0M70.2 238.2h0M80.1 238.4h0M74.1 243.4h0M75.1 239.5h0M74.1 241.5h0M68.0 241.8h0M79.2 239.1h0M80.5 239.0h0M73.0 253.2h0M77.1 240.0h0M80.6 240.3h0M74.7 254.4h0M69.0 244.0h0M70.8 246.5h0M74.9 259.8h0M74.5 241.8h0M72.5 251.4h0M80.9 256.3h0M82.0 235.1h0M81.2 259.0h0M71.5 258.4h0M77.2 258.9h0M76.4 238.5h0M74.1 239.6h0M79.8 235.1h0M77.2 245.2h0M75.1 250.3h0M78.6 266.6h0M69.0 236.9h0M75.9 246.3h0M83.3 267.9h0M74.1 236.6h0M79.5 253.7h0M78.8 234.3h0M80.9 240.5h0M76.8 236.5h0M74.2 244.6h0M66.7 242.4h0M74.0 240.3h0M68.1 250.2h0M83.0 255.7h0M79.9 256.6h0M79.5 241.2h0M76.6 238.1h0M75.1 246.1h0M70.0 239.3h0M77.0 244.6h0M75.3 234.2h0M77.5 259.3h0M80.8 240.5h0M72.5 244.6h0M73.5 240.9h0M72.0 237.5h0M76.9 266.6h0M78.9 252.0h0M78.3 247.4h0M74.9 239.9h0M79.4 238.0h0M79.7 245.1h0M72.6 251.3h0M80.3 250.3h0M82.3 261.4h0M82.0 254.1h0M72.9 249.3h0M82.6 251.8h0M79.5 261.6h0M74.3 254.1h0M81.3 247.2h0M76.8 251.7h0M75.7 248.5h0M81.6 266.5h0M77.1 266.2h0M66.1 242.7h0M81.0 262.2h0M82.0 265.7h0M70.7 244.3h0M76.2 247.4h0M78.0 249.5h0M83.9 249.5h0M73.9 246.2h0M74.7 258.3h0M76.2 251.6h0M77.8 257.0h0M76.1 256.0h0M76.0 258.3h0M68.8 250.3h0M79.9 236.9h0M80.9 257.7h0M80.9 250.3h0M70.7 252.9h0M80.4 263.0h0M74.5 245.6h0M78.7 261.2h0M68.7 247.9h0M70.5 255.8h0M80.5 243.0h0M70.5 251.3h0M81.5 263.1h0M74.9 258.0h0M80.4 255.3h0M77.1 243.7h0M80.5 239.6h0M73.3 244.1h0M74.1 242.0h0M77.5 235.2h0M72.1 241.4h0M73.2 234.6h0M81.5 253.7h0M78.9 238.7h0M81.8 262.2h0M79.5 267.1h0M74.9 233.3h0M79.6 254.5h0M71.8 240.3h0M82.8 237.1h0M83.3 264.0h0M72.0 234.2h0M81.9 257.2h0M79.3 246.1h0M72.3 235.8h0M75.3 240.1h0M73.1 245.5h0M73.2 238.5h0M74.1 258.2h0M77.4 256.7h0M73.0 252.5h0M79.6 238.9h0M74.2 245.7h0M76.7 262.9h0M74.1 241.4h0M80.8 247.1h0M79.8 232.5h0M69.1 249.1h0M77.0 241.8h0M78.5 252.3h0M78.3 266.8h0M82.3 238.8h0M73.7 246.0h0M80.1 253.4h0M77.6 237.2h0M69.9 237.2h0M76.6 250.9h0M78.6 251.1h0M81.7 269.2h0M75.3 236.0h0M76.1 237.3h0M74.6 244.6h0M80.5 259.0h0M71.8 253.3h0M78.7 251.8h0M80.5 263.1h0M73.0 250.4h0M75.1 252.0h0M79.5 254.2h0M77.4 264.2h0M72.8 259.3h0M71.4 253.7h0M68.3 251.5h0M83.1 256.3h0M76.0 242.6h0M82.6 265.1h0M67.6 245.3h0M74.3 247.5h0M78.9 237.0h0M81.0 244.9h0M68.6 239.6h0M81.6 247.0h0M71.5 236.5h0M75.4 245.6h0M79.8 243.0h0M79.3 265.6h0M71.5 242.5h0M79.8 255.5h0M72.2 241.8h0M73.0 241.7h0M82.0 251.5h0M73.3 245.5h0M67.8 248.4h0M73.9 250.5h0M80.4 261.3h0M79.7 266.0h0M75.4 253.8h0M79.1 259.7h0M80.3 235.2h0M75.3 245.4h0M79.3 244.5h0M82.0 234.8h0M77.6 262.6h0M79.1 264.7h0M80.9 253.6h0M80.0 254.4h0M76.8 262.1h0M77.9 246.6h0M81.5 234.9h0M73.7 254.9h0M78.6 260.8h0M77.5 247.1h0M77.1 242.5h0M73.1 252.2h0M81.0 266.5h0M74.9 250.5h0M81.5 234.6h0M70.5 238.6h0M70.7 247.8h0M75.9 255.3h0M80.9 266.7h0M80.1 233.3h0M79.5 243.6h0M79.9 243.2h0M80.7 266.9h0M79.4 248.1h0M78.3 254.9h0M67.4 247.8h0M69.3 239.1h0M67.5 244.1h0M78.5 248.6h0M81.0 236.5h0M75.0 256.3h0M74.6 246.1h0M78.1 255.7h0M74.0 256.3h0M80.2 236.0h0M78.3 247.5h0M72.4 253.9h0M75.3 243.9h0M78.4 233.9h0M81.2 264.1h0M79.7 258.6h0M80.8 264.5h0M75.6 263.8h0M74.6 254.9h0M81.4 233.3h0M82.0 234.5h0M71.8 238.3h0M70.5 242.6h0M75.7 235.8h0M76.9 248.6h0M68.6 240.0h0M81.8 261.2h0M80.8 245.0h0M76.6 245.9h0M74.8 259.5h0M81.3 250.0h0M73.3 259.2h0M72.6 251.2h0M71.5 246.6h0M81.2 266.4h0M73.1 246.8h0M72.4 248.9h0M83.3 270.4h0M79.2 264.5h0M75.2 248.5h0M80.5 235.9h0M78.0 234.7h0M82.5 265.1h0M77.1 236.6h0M81.7 253.4h0M76.8 236.1h0M72.5 237.4h0M75.0 245.2h0M81.8 251.3h0M77.6 239.7h0M73.8 238.4h0M80.3 245.8h0M81.2 253.1h0M71.8 239.4h0M68.1 237.9h0M78.6 239.9h0M77.5 252.9h0M80.4 268.2h0M72.2 256.6h0M80.9 256.2h0M79.3 241.4h0M81.6 262.3h0M69.6 240.8h0M74.7 257.0h0M81.9 240.1h0M78.0 256.1h0M76.9 251.5h0M73.9 257.5h0M73.1 249.6h0M77.4 250.0h0M80.2 263.5h0M80.9 236.1h0M80.7 233.1h0M80.6 245.3h0M77.3 236.0h0M68.2 248.5h0M72.3 241.0h0M73.4 250.8h0M81.3 256.2h0M67.6 245.9h0M75.5 246.6h0M77.2 255.0h0M71.0 254.1h0M78.1 244.2h0M66.9 241.5h0M68.5 251.4h0M81.3 265.7h0M70.9 244.4h0M72.2 244.0h0M79.8 234.6h0M79.1 259.9h0M75.6 245.7h0M82.4 258.3h0M77.0 239.3h0M71.2 247.9h0M75.3 248.7h0M74.8 257.4h0M78.0 248.2h0M74.0 242.7h0M81.5 266.4h0M79.5 249.1h0M72.5 242.0h0M76.1 253.1h0M79.9 236.1h0M77.1 239.4h0M75.0 236.8h0M75.6 248.2h0M79.2 236.2h0M78.0 245.8h0M71.7 255.9h0M72.8 253.5h0M78.9 239.0h0M75.0 253.6h0M80.2 245.6h0M76.3 244.1h0M78.9 235.3h0M73.6 234.2h0M73.1 255.7h0M80.2 268.5h0M73.8 241.2h0M76.6 237.7h0M75.5 252.6h0M80.2 266.2h0M68.5 239.4h0M78.0 235.5h0M80.6 239.2h0M76.9 262.0h0M79.4 251.8h0M79.5 252.1h0M72.5 235.6h0M81.1 257.5h0M81.8 262.8h0M77.6 267.2h0M76.3 235.8h0M80.8 261.4h0M78.6 258.4h0M74.9 259.5h0M76.1 255.9h0M75.7 238.7h0M78.6 239.9h0M71.1 237.3h0M72.5 250.0h0M76.5 246.6h0M78.8 236.1h0M78.2 258.4h0M79.2 246.5h0M75.8 259.9h0M80.5 242.0h0M80.1 233.3h0M71.7 256.4h0M75.9 246.6h0M80.2 263.6h0M77.9 234.9h0M79.8 233.2h0M77.6 234.1h0M77.3 254.7h0M77.6 233.3h0M77.2 254.3h0M72.5 259.3h0M75.9 243.7h0M81.6 237.8h0M75.6 260.0h0M71.1 246.9h0M76.0 254.0h0M80.2 240.8h0M79.0 263.4h0M77.8 254.4h0M81.7 265.1h0M73.4 248.9h0M77.2 258.9h0M77.3 252.7h0M80.7 258.3h0M77.1 242.6h0M72.5 252.3h0M67.0 246.2h0M79.3 261.2h0M79.8 245.3h0M71.0 253.1h0M74.7 243.6h0M74.2 236.7h0M83.7 269.2h0M72.0 257.1h0M75.9 260.7h0M81.8 270.3h0M81.2 244.6h0M73.8 256.5h0M75.4 240.8h0M79.1 242.4h0M78.7 241.6h0M78.7 267.1h0M74.0 243.4h0M73.7 259.5h0M77.2 252.4h0M80.4 263.3h0M79.7 249.2h0M81.3 250.6h0M72.2 242.2h0M73.3 257.5h0M81.4 242.7h0M77.3 256.0h0M80.0 232.7h0M81.6 247.1h0M80.6 259.7h0M75.1 236.0h0M79.0 256.0h0M79.4 233.3h0M81.8 267.1h0M72.1 238.6h0M76.9 248.0h0M73.2 237.9h0M79.4 233.1h0M75.8 248.2h0M77.6 251.9h0M65.7 246.4h0M73.7 248.4h0M75.8 247.7h0M69.4 237.3h0M71.7 239.2h0M77.2 255.1h0M77.1 240.0h0M67.1 245.1h0M77.6 246.1h0M72.9 245.0h0M80.0 269.3h0M78.1 248.7h0M79.0 266.1h0M78.8 251.3h0M81.7 257.3h0M80.7 260.6h0M77.6 259.3h0M74.2 260.2h0M76.8 256.3h0M81.0 247.4h0M81.1 239.7h0M76.6 254.0h0M71.3 254.7h0M72.1 244.9h0M78.0 261.4h0M78.7 246.7h0M70.2 241.9h0M77.2 249.3h0M81.1 246.5h0M81.0 241.8h0M79.0 247.3h0M76.2 240.0h0M76.9 242.5h0M77.0 240.3h0M78.6 252.6h0M77.7 258.9h0M75.6 259.8h0M73.3 239.0h0M77.4 262.8h0M81.5 236.9h0M77.5 246.9h0M74.7 257.9h0M76.7 263.0h0M82.5 257.9h0M77.5 235.0h0M75.7 235.3h0M82.4 259.0h0M75.1 247.8h0M76.5 247.5h0M81.2 233.7h0M78.1 258.0h0M82.4 267.0h0M71.0 247.0h0M80.4 264.8h0M82.1 267.7h0M70.0 249.1h0M74.7 246.5h0M77.3 257.3h0M74.8 258.2h0M79.7 232.6h0M77.6 232.1h0M80.4 243.0h0M81.7 259.5h0M77.8 253.2h0M78.4 243.4h0M82.7 265.6h0M72.5 245.9h0M71.7 236.9h0M78.2 250.0h0M80.5 243.6h0M80.0 240.1h0M78.9 255.3h0M76.8 246.3h0M74.8 261.0h0M76.0 248.7h0M72.6 251.3h0M68.2 241.6h0M78.7 261.5h0M74.9 255.6h0M78.8 253.4h0M73.7 232.9h0M80.8 246.7h0M78.1 233.5h0M68.5 247.4h0M77.9 260.0h0M74.7 257.8h0M81.7 251.5h0M76.4 244.3h0M74.3 256.3h0M73.9 237.7h0M75.9 260.7h0M79.9 236.7h0M81.2 256.6h0M75.3 245.7h0M71.4 240.9h0M80.2 262.2h0M79.8 245.3h0M80.2 239.9h0M71.6 256.8h0M71.1 248.5h0M81.0 255.1h0M76.2 250.6h0M72.6 257.6h0M80.9 239.6h0M77.5 254.1h0M75.6 242.4h0M75.7 248.6h0M68.2 243.4h0M80.4 256.5h0M78.5 262.0h0M78.5 252.2h0M77.7 240.1h0M76.9 241.5h0M66.6 248.6h0M73.9 242.4h0M77.6 259.7h0M82.2 237.2h0M81.1 235.0h0M65.9 244.8h0M78.2 255.2h0M74.0 256.6h0M82.2 238.7h0M79.7 239.6h0M80.1 267.4h0M80.2 246.3h0M81.5 269.9h0M81.0 265.4h0M75.4 234.2h0M71.8 243.7h0M81.4 244.4h0M78.1 258.9h0M78.1 249.9h0M80.3 242.6h0M80.5 248.3h0M76.8 246.6h0M74.7 251.8h0M80.6 259.4h0M79.4 237.6h0M76.1 237.6h0M76.9 235.2h0M75.7 242.0h0M79.3 262.3h0M81.8 234.6h0M80.1 237.6h0M74.6 242.6h0M80.2 245.9h0M80.0 250.9h0M73.6 245.5h0M74.4 248.4h0M77.3 253.2h0M76.9 254.4h0M82.1 266.3h0M81.8 265.2h0M75.1 253.8h0M79.5 254.1h0M75.8 239.4h0M74.5 249.2h0M77.0 257.5h0M81.6 241.2h0M78.7 257.9h0M79.4 258.5h0M79.8 235.8h0M79.6 256.8h0M73.2 245.4h0M81.3 260.0h0M81.9 233.9h0M82.2 236.2h0M78.1 249.6h0M77.4 244.0h0M76.9 256.4h0M81.9 249.0h0M73.6 237.6h0M82.3 264.6h0M81.2 259.4h0M77.4 236.1h0M81.1 264.5h0M76.1 239.1h0M75.8 249.7h0M82.3 243.0h0M80.1 245.3h0M77.9 243.5h0M77.2 248.4h0M76.9 248.8h0M80.1 239.1h0M79.2 239.7h0M79.4 235.7h0M81.7 253.7h0M73.9 245.7h0M78.1 245.6h0M81.8 244.9h0M78.5 236.4h0M78.0 238.6h0M78.3 260.5h0M80.7 260.6h0M79.7 238.3h0M81.8 259.6h0M74.3 246.4h0M79.9 247.7h0M78.0 261.4h0M81.1 246.7h0M75.4 241.2h0M80.8 256.3h0M80.3 250.8h0M79.3 247.9h0M74.5 239.3h0M76.4 251.8h0M80.4 249.1h0M78.9 246.5h0M80.3 244.8h0M75.7 255.2h0M80.2 247.1h0M78.4 235.1h0M82.6 264.1h0M79.7 243.4h0M79.4 248.9h0M78.1 256.7h0M81.1 248.2h0M80.2 264.2h0M73.3 244.3h0M76.2 252.3h0M74.9 249.6h0M76.9 242.0h0M82.0 239.5h0M77.4 257.6h0M76.8 247.7h0M81.2 251.7h0M78.9 257.2h0M82.3 253.0h0M80.7 255.5h0M82.1 237.8h0M81.3 238.3h0M74.5 251.6h0M74.5 245.3h0M73.1 246.2h0M74.4 242.9h0M80.2 245.0h0M82.7 255.3h0M78.9 252.9h0M80.1 253.2h0M78.2 249.5h0M79.4 237.2h0M79.2 236.8h0M81.5 265.4h0M78.7 238.6h0M77.3 247.6h0M79.9 258.0h0M81.8 241.6h0M76.0 236.6h0M81.5 258.5h0M74.2 253.6h0M76.3 251.1h0M75.7 248.8h0M81.4 235.6h0M79.3 245.7h0M80.5 263.5h0M79.9 239.9h0M76.5 238.2h0M78.5 255.1h0M82.1 251.8h0M79.1 241.0h0M77.2 238.3h0M80.0 257.2h0M80.7 249.0h0M82.1 252.3h0M74.1 249.0h0M81.7 232.6h0M77.8 240.2h0M77.9 237.6h0M80.1 238.0h0M79.2 251.5h0M81.6 260.8h0M76.9 256.1h0M73.0 238.6h0M79.7 256.7h0M77.9 252.3h0M79.9 234.0h0M81.0 239.9h0M80.3 262.2h0M77.5 258.5h0M81.5 246.2h0M80.8 236.7h0M78.9 261.5h0M78.5 248.0h0M75.9 239.1h0M80.7 259.1h0M80.3 264.0h0M77.9 256.0h0M78.9 242.4h0M80.0 265.6h0M77.2 254.9h0M76.3 245.6h0M81.5 236.8h0M82.5 254.6h0M77.6 235.7h0M81.1 263.4h0M78.2 260.2h0M73.4 247.4h0M80.7 240.9h0M77.1 235.1h0M79.0 235.0h0M81.9 258.4h0M73.9 238.1h0M79.2 241.4h0M79.3 240.0h0M81.1 232.9h0M75.4 236.2h0M77.5 257.2h0M73.0 252.3h0M80.8 262.3h0M81.6 267.4h0M79.1 256.8h0M75.7 250.7h0M77.9 258.9h0M80.9 239.4h0M79.2 250.4h0M75.7 254.0h0M79.4 249.1h0M81.1 257.3h0M74.0 238.6h0M77.5 241.0h0M80.1 236.5h0M72.9 242.0h0M75.7 245.9h0M80.2 246.1h0M78.9 253.6h0M79.9 244.5h0M80.0 261.6h0M82.5 244.8h0M78.2 257.6h0M81.6 258.3h0M74.6 236.6h0M79.4 245.4h0M78.3 255.9h0M75.0 243.9h0M79.4 262.4h0M77.8 248.1h0M81.5 245.5h0M81.8 264.4h0M78.2 234.6h0M78.5 237.1h0M77.0 240.4h0M81.0 264.4h0M77.6 251.3h0M80.6 244.6h0M80.2 234.7h0M79.8 241.6h0M80.1 243.5h0M77.3 239.3h0M80.8 266.0h0M82.7 258.4h0M75.0 256.3h0M74.9 238.9h0M81.4 234.3h0M80.1 237.8h0M79.9 263.5h0M78.0 236.6h0M79.0 250.7h0M82.3 238.8h0M80.1 243.0h0M73.1 240.5h0M80.0 260.3h0M81.4 245.4h0M78.5 235.7h0M72.5 246.5h0M81.6 241.9h0M80.1 239.5h0M73.8 239.5h0M75.0 246.8h0M76.8 241.2h0M74.0 239.4h0M80.9 240.7h0M76.5 247.2h0M79.6 251.1h0M74.0 239.3h0M79.0 245.3h0M78.6 242.1h0M81.0 241.2h0M81.5 235.6h0M82.6 237.0h0M78.7 261.7h0M80.6 262.1h0M76.1 244.5h0M77.2 240.1h0M72.9 244.7h0M78.0 237.4h0M81.6 234.5h0M79.5 232.6h0M78.3 243.9h0M81.1 244.9h0M79.5 256.6h0M80.1 251.6h0M81.2 252.3h0M74.5 252.8h0M75.4 239.2h0M79.3 244.0h0M80.5 239.9h0M77.9 255.0h0M76.9 258.6h0M78.2 240.4h0M74.5 251.8h0M77.0 239.4h0M82.4 267.2h0M79.8 236.6h0M79.8 238.7h0M75.1 244.8h0M81.2 264.9h0M78.1 243.6h0M78.3 243.6h0M74.5 240.5h0M75.8 237.4h0M75.8 245.5h0M74.6 254.4h0M77.7 255.7h0M75.1 242.2h0M80.0 255.1h0M74.0 238.6h0M74.3 239.8h0M80.7 263.7h0M80.7 243.6h0M77.5 234.8h0M80.1 249.9h0M76.7 257.9h0M75.6 251.6h0M73.9 247.7h0M76.8 240.0h0M81.9 243.9h0M81.7 260.3h0M81.5 241.6h0M75.4 254.5h0M74.0 242.9h0M79.2 249.5h0M77.0 238.9h0M77.4 253.5h0M79.3 259.8h0M76.1 247.3h0M75.0 245.3h0M79.7 243.6h0M82.0 242.4h0M79.8 262.9h0M78.6 256.2h0M80.1 252.5h0M76.3 256.4h0M78.2 235.1h0M79.2 244.9h0M81.3 235.1h0M75.1 238.0h0M79.7 237.7h0M77.3 234.7h0M80.7 240.9h0M74.3 252.5h0M79.5 258.1h0M73.8 243.8h0M75.4 242.6h0M77.0 234.7h0M74.2 239.5h0M76.0 249.8h0M77.5 249.5h0M79.2 248.6h0M79.3 246.2h0M81.3 252.1h0M78.5 254.5h0M75.6 254.1h0M77.9 238.0h0M76.0 242.8h0M95.8 235.5h0M86.3 233.5h0M91.9 248.0h0M91.8 233.5h0M89.3 235.8h0M86.0 242.8h0M86.5 251.4h0M89.9 235.5h0M87.7 238.9h0M86.5 237.6h0M88.0 244.4h0M86.3 241.3h0M91.3 242.8h0M85.5 235.7h0M92.2 242.0h0M97.5 237.4h0M90.4 244.2h0M97.3 242.7h0M87.6 231.7h0M91.7 232.5h0M84.9 241.2h0M91.5 248.6h0M89.9 239.0h0M87.8 230.6h0M85.9 233.2h0M87.3 239.2h0M89.5 239.0h0M88.5 241.7h0M93.3 244.4h0M88.5 244.7h0M93.7 246.4h0M90.8 237.0h0M92.2 236.0h0M89.3 248.9h0M99.0 238.8h0M85.8 251.6h0M93.4 246.1h0M86.4 250.9h0M90.2 239.9h0M91.5 243.0h0M85.8 238.7h0M89.8 239.5h0M94.6 235.3h0M92.1 236.8h0M85.6 232.5h0M92.1 234.5h0M87.3 245.8h0M93.4 241.6h0M92.8 247.3h0M92.6 235.6h0M89.4 238.4h0M84.9 240.6h0M91.0 233.6h0M96.8 239.2h0M92.5 234.0h0M89.0 247.4h0M89.5 236.9h0M88.8 240.1h0M96.3 245.5h0M86.2 235.2h0M88.1 232.6h0M88.5 249.7h0M86.1 246.3h0M93.2 245.0h0M96.2 235.4h0M89.7 232.6h0M89.7 232.2h0M90.1 243.0h0M88.9 237.3h0M88.8 237.3h0M87.5 244.2h0M87.9 233.1h0M85.7 244.3h0M92.5 244.3h0M85.1 249.8h0M86.9 240.5h0M91.7 233.6h0M92.8 234.9h0M86.4 238.1h0M94.7 239.4h0M90.0 233.8h0M85.0 236.6h0M94.5 246.1h0M91.7 234.0h0M87.0 243.8h0M86.8 249.7h0M87.8 250.8h0M85.7 240.5h0M90.4 247.6h0M89.5 237.7h0M96.0 235.2h0M91.3 248.8h0M95.3 234.5h0M91.3 252.1h0M92.6 239.6h0M87.0 244.8h0M89.4 244.1h0M88.1 231.4h0M87.2 241.8h0M93.0 247.9h0M95.5 238.9h0M90.2 247.4h0M86.6 241.2h0M87.2 237.5h0M87.6 247.1h0M91.3 242.7h0M92.4 240.2h0M94.0 244.7h0M92.3 246.2h0M86.3 247.5h0M86.0 251.9h0M91.7 238.6h0M87.5 242.8h0M87.9 247.5h0M97.0 240.5h0M87.5 235.5h0M86.0 235.6h0M86.3 245.6h0M93.4 242.6h0M89.3 243.5h0M90.0 246.0h0M86.1 235.6h0M86.4 244.0h0M90.1 235.9h0M98.2 240.7h0M100.3 239.0h0M90.6 249.5h0M86.0 231.1h0M92.3 233.6h0M92.4 238.7h0M86.2 241.6h0M91.5 242.2h0M90.0 239.4h0M90.7 237.8h0M95.4 234.9h0M91.2 247.4h0M86.7 245.1h0M88.9 242.3h0M89.2 250.8h0M93.0 247.1h0M89.4 236.6h0M87.1 234.4h0M86.8 230.8h0M88.0 248.7h0M86.3 247.3h0M85.8 244.3h0M88.1 245.5h0M87.3 233.6h0M95.6 245.5h0M92.4 247.6h0M94.0 234.1h0M94.2 242.2h0M87.8 239.2h0M88.5 238.2h0M91.2 243.9h0M85.4 246.8h0M95.2 237.7h0M88.0 233.4h0M96.3 242.6h0M86.0 243.1h0M94.0 239.2h0M85.7 231.1h0M95.9 243.4h0M93.8 236.6h0M87.7 230.3h0M97.8 239.6h0M92.8 239.8h0M89.2 239.5h0M97.4 238.8h0M85.1 234.6h0M99.8 239.0h0M87.7 249.2h0M96.3 236.8h0M96.7 240.8h0M88.1 248.9h0M88.5 244.3h0M89.7 249.2h0M90.0 232.3h0M87.5 237.6h0M86.4 240.3h0M90.7 235.1h0M90.0 245.0h0M88.5 245.7h0M94.1 247.8h0M87.5 236.0h0M87.9 242.7h0M90.9 241.5h0M88.9 249.5h0M86.6 249.4h0M88.1 231.1h0M89.8 245.4h0M89.7 242.0h0M86.7 242.3h0M88.8 243.7h0M88.1 237.3h0M97.3 241.4h0M89.5 239.8h0M88.4 239.2h0M88.7 235.7h0M91.8 245.3h0M93.8 234.6h0M90.3 242.3h0M97.5 242.5h0M86.8 231.7h0M89.2 250.1h0M86.0 251.2h0M91.6 242.7h0M89.4 231.1h0M95.6 245.6h0M91.3 246.7h0M87.7 242.9h0M92.4 233.6h0M93.3 233.2h0M98.3 235.7h0M86.7 233.5h0M86.7 239.3h0M97.0 245.3h0M93.9 234.8h0M95.0 235.6h0M89.7 244.8h0M91.6 247.4h0M92.0 244.9h0M89.5 246.0h0M96.7 235.4h0M92.3 245.4h0M90.9 238.6h0M90.1 237.9h0M94.4 241.7h0M95.4 241.4h0M92.2 233.4h0M90.2 233.4h0M85.3 236.0h0M92.5 237.8h0M88.0 250.5h0M85.4 229.6h0M95.7 239.1h0M96.1 235.4h0M90.8 239.8h0M87.7 250.4h0M89.2 247.8h0M85.2 241.2h0M90.6 235.0h0M90.1 250.0h0M86.0 244.8h0M94.7 238.8h0M87.7 245.9h0M88.1 239.4h0M91.7 239.3h0M88.3 235.4h0M89.0 238.5h0M96.0 241.4h0M90.0 244.0h0M86.2 234.0h0M87.3 248.8h0M97.6 242.9h0M87.3 239.5h0M98.5 238.1h0M90.5 243.3h0M88.3 248.5h0M92.3 246.7h0M86.8 248.9h0M86.0 245.5h0M93.6 235.1h0M94.4 233.8h0M86.3 240.3h0M91.2 233.2h0M88.6 239.9h0M87.4 238.3h0M94.5 244.5h0M92.1 232.4h0M84.1 235.5h0M88.8 239.3h0M100.3 237.7h0M85.5 234.7h0M90.9 243.8h0M90.4 250.4h0M92.5 239.2h0M85.7 234.4h0M90.3 242.4h0M87.9 245.0h0M89.6 236.9h0M94.0 245.8h0M87.8 232.6h0M95.0 237.6h0M89.3 242.9h0M86.2 239.4h0M90.9 248.9h0M92.9 238.1h0M90.3 249.0h0M87.3 249.7h0M90.1 249.9h0M97.0 244.9h0M85.4 234.3h0M95.2 239.0h0M92.6 245.8h0M95.4 241.0h0M85.9 236.0h0M87.6 233.7h0M92.0 233.0h0M93.7 246.4h0M87.6 246.8h0M88.3 239.4h0M86.5 233.9h0M83.7 241.0h0M89.5 235.0h0M85.4 237.5h0M87.9 237.7h0M91.9 237.5h0M87.7 242.0h0M94.8 234.5h0M92.3 241.8h0M90.1 234.5h0M91.0 250.3h0M95.8 242.5h0M93.3 235.3h0M91.0 235.5h0M94.9 240.5h0M94.7 244.7h0M91.6 247.4h0M83.9 242.5h0M87.4 238.1h0M91.9 239.6h0M87.0 243.6h0M85.9 246.2h0M86.5 232.0h0M90.4 240.7h0M91.1 247.1h0M95.4 243.7h0M87.2 247.1h0M88.7 242.5h0M90.0 234.9h0M90.0 242.8h0M87.0 249.2h0M91.1 246.4h0M89.9 245.2h0M92.2 235.7h0M86.2 241.9h0M91.9 235.4h0M86.9 242.9h0M93.0 244.4h0M89.3 233.1h0M87.6 239.5h0M92.2 240.3h0M87.4 240.7h0M95.1 243.2h0M93.5 246.2h0M90.6 237.9h0M88.8 243.2h0M95.8 239.3h0M92.8 239.1h0M89.3 239.4h0M92.5 238.1h0M88.9 242.8h0M92.5 239.7h0M95.5 237.6h0M91.8 236.4h0M90.0 238.3h0M85.9 239.6h0M98.9 238.1h0M92.3 244.4h0M86.8 248.8h0M85.4 231.8h0M92.2 233.8h0M96.7 241.9h0M91.4 239.9h0M90.5 237.4h0M86.8 245.5h0M86.4 244.4h0M92.6 243.0h0M91.2 246.0h0M91.1 245.5h0M92.2 246.5h0M93.3 235.1h0M86.5 238.1h0M87.2 231.1h0M86.6 241.2h0M94.7 233.6h0M85.0 233.5h0M88.7 236.0h0M87.1 237.2h0M93.5 234.8h0M86.5 249.1h0M92.1 237.6h0M84.6 229.9h0M91.8 246.3h0M86.0 237.1h0M91.2 249.4h0M88.5 246.7h0M91.0 236.8h0M90.6 238.5h0M99.2 238.4h0M92.3 240.6h0M85.8 241.2h0M92.0 236.2h0M89.1 246.3h0M87.4 246.2h0M97.3 235.9h0M87.3 236.0h0M97.0 242.4h0M86.7 235.5h0M100.6 239.6h0M90.1 247.8h0M86.8 252.0h0M87.0 234.8h0M88.1 243.4h0M94.1 241.3h0M92.6 238.2h0M87.2 238.4h0M87.8 233.4h0M89.7 233.6h0M89.1 239.4h0M101.6 239.2h0M92.3 247.8h0M91.0 232.8h0M92.9 246.6h0M87.2 241.4h0M91.0 249.2h0M89.7 241.7h0M87.1 237.3h0M99.7 239.6h0M96.6 235.7h0M88.0 250.6h0M97.9 240.0h0M85.8 250.7h0M91.4 234.7h0M88.4 240.7h0M91.5 247.5h0M88.0 247.4h0M89.4 238.1h0M96.3 237.6h0M86.5 232.4h0M88.1 251.1h0M93.5 246.0h0M96.1 234.8h0M87.6 237.1h0M89.1 236.9h0M93.3 248.4h0M85.4 242.4h0M91.6 237.0h0M93.5 237.8h0M95.9 234.5h0M85.6 244.8h0M96.0 240.3h0M98.4 236.2h0M90.8 242.3h0M90.0 245.5h0M92.4 242.9h0M89.1 245.7h0M86.5 245.8h0M86.7 241.3h0M85.6 245.8h0M92.6 238.5h0M86.8 241.4h0M93.0 234.2h0M91.6 242.6h0M85.1 240.3h0M86.7 247.1h0M93.8 236.5h0M90.5 242.0h0M83.9 239.7h0M88.7 246.1h0M89.3 235.4h0M84.5 236.4h0M87.0 237.2h0M86.9 238.0h0M89.3 241.1h0M89.2 236.5h0M88.2 241.0h0M90.6 235.0h0M87.8 245.5h0M92.2 239.2h0M87.9 242.8h0M85.7 243.9h0M93.6 236.0h0M89.3 242.3h0M87.7 239.3h0M88.8 244.6h0M87.1 243.5h0M88.7 239.3h0M87.2 246.6h0M89.9 241.2h0M86.5 232.1h0M93.4 236.5h0M86.2 245.8h0M86.8 240.5h0M87.3 239.9h0M91.9 245.7h0M91.8 239.7h0M90.7 233.6h0M84.7 232.5h0M90.4 238.3h0M89.6 240.8h0M87.6 248.8h0M85.1 250.5h0M85.3 239.4h0M88.6 246.4h0M91.1 238.4h0M87.4 246.8h0M86.3 239.0h0M88.9 244.8h0M86.4 237.7h0M86.9 243.5h0M93.0 243.3h0M90.2 238.9h0M88.6 234.3h0M85.0 237.2h0M88.8 241.8h0M86.9 245.2h0M87.0 238.0h0M86.7 236.8h0M92.2 239.1h0M85.6 237.7h0M84.8 241.0h0M90.0 237.5h0M86.0 233.6h0M86.1 232.6h0M85.6 238.4h0M91.9 241.3h0M85.6 241.1h0M93.7 238.0h0M90.3 245.5h0M90.2 244.6h0M88.1 240.4h0M88.5 238.5h0M93.1 237.3h0M85.9 240.2h0M89.3 236.4h0M86.2 231.4h0M93.2 238.1h0M90.1 233.1h0M87.9 233.7h0M94.2 243.3h0M84.4 232.1h0M88.1 242.6h0M89.8 243.1h0M93.9 239.9h0M86.9 236.8h0M91.3 245.4h0M89.6 244.4h0M92.1 236.0h0M86.4 231.5h0M84.5 241.6h0M86.8 231.3h0M88.5 232.1h0M90.8 239.2h0M86.2 238.4h0M87.0 241.5h0M85.7 249.9h0M92.3 239.6h0M87.7 235.3h0M90.7 233.7h0M85.9 241.5h0M85.5 241.2h0M87.1 240.3h0M88.1 236.0h0M87.1 244.3h0M85.7 244.1h0M87.1 247.4h0M88.2 241.1h0M91.3 243.6h0M93.6 241.3h0M86.8 233.2h0M89.9 236.6h0M89.7 236.4h0M92.2 235.4h0M88.2 247.8h0M87.2 248.0h0M87.9 233.1h0M86.2 246.8h0M89.3 238.6h0M91.1 244.2h0M93.7 238.4h0M91.8 238.9h0M89.7 235.8h0M86.2 241.6h0M91.1 237.7h0M94.5 238.6h0M91.1 234.4h0M85.8 235.0h0M92.7 241.6h0M85.4 235.8h0M86.8 233.6h0M86.9 233.6h0M93.7 238.1h0M90.8 237.5h0M93.9 240.6h0M85.7 231.9h0M86.2 244.6h0M86.1 243.5h0M90.6 236.5h0M85.2 234.4h0M92.5 234.5h0M86.6 237.0h0M87.6 232.9h0M91.3 238.7h0M87.4 241.9h0M92.5 235.1h0M91.0 244.5h0M84.4 241.9h0M94.6 241.5h0M88.6 245.7h0M90.9 240.2h0M90.9 236.7h0M93.3 237.6h0M87.8 234.9h0M88.9 244.9h0M92.6 238.6h0M90.4 235.8h0M86.8 250.1h0M88.4 244.5h0M91.5 239.5h0M91.9 237.1h0M89.1 238.2h0M92.2 236.1h0M85.7 235.0h0M93.7 237.8h0M89.5 238.4h0M85.8 233.8h0M89.3 236.8h0M85.2 247.5h0M86.7 245.7h0M91.2 238.6h0M92.8 239.8h0M92.8 241.1h0M91.4 235.6h0M93.6 242.0h0M94.6 242.4h0M85.6 230.8h0M92.6 242.2h0M87.5 248.4h0M86.3 233.8h0M94.2 237.5h0M36.3 251.8h0M38.0 254.5h0M39.5 253.6h0M47.9 250.0h0M48.8 252.3h0M49.3 255.0h0M51.4 248.2h0M53.2 247.3h0M55.0 245.0h0M56.4 243.8h0M54.1 262.1h0M59.1 256.8h0M61.3 251.8h0M61.6 249.1h0M64.8 261.3h0M68.4 262.9h0M55.0 234.3h0M58.0 233.0h0M56.4 237.9h0M59.5 240.2h0M70.7 228.6h0M122.0 238.4h0M122.0 250.9h0M113.9 237.5h0M114.3 242.0h0M109.5 241.1h0M106.8 244.6h0M108.6 246.1h0M110.4 249.1h0M106.8 250.9h0M107.1 253.6h0M105.0 247.3h0M88.9 256.3h0M96.6 229.8h0M105.4 228.4h0M101.4 232.1h0M63.0 241.5h0M62.4 246.3h0M73.5 231.8h0M72.8 233.6h0M104.0 236.5h0M105.2 240.6h0M103.5 243.8h0M101.7 246.2h0M98.0 249.8h0M94.3 252.8h0M67.0 256.7h0M71.3 263.0h0M75.2 267.7h0M103.2 234.0h0M107.6 239.7h0M63.4 236.2h0M61.8 238.8h0M66.3 233.6h0M60.3 244.8h0M63.6 253.4h0" class="p"/>
<path d="M82.6 230.5L83.1 250.0L83.7 268.0" fill="none" stroke="#fff" stroke-width="0.50"/></g>
<rect x="32.4" y="157.6" width="92.9" height="118.5" fill="none" stroke="#7a7a7a" stroke-width=".9"/>
<path d="M32.6 276.5v2.6M57.6 276.5v2.6M82.8 276.5v2.6M108.2 276.5v2.6M32.0 161.6h-2.6M32.0 189.9h-2.6M32.0 218.3h-2.6M32.0 246.8h-2.6M32.0 275.4h-2.6" stroke="#333" stroke-width=".9" fill="none"/>
<text class="t" x="32.6" y="288.0" text-anchor="middle">−4</text>
<text class="t" x="57.6" y="288.0" text-anchor="middle">−2</text>
<text class="t" x="82.8" y="288.0" text-anchor="middle">0</text>
<text class="t" x="108.2" y="288.0" text-anchor="middle">2</text>
<text class="t" x="27.0" y="164.7" text-anchor="end">0.2</text>
<text class="t" x="27.0" y="193.0" text-anchor="end">0.1</text>
<text class="t" x="27.0" y="221.4" text-anchor="end">0.0</text>
<text class="t" x="27.0" y="249.9" text-anchor="end">−0.1</text>
<text class="t" x="27.0" y="278.4" text-anchor="end">−0.2</text>
<text class="a" x="76.2" y="303.8" text-anchor="middle">SCr FPC3 score</text>
<text class="a" transform="translate(9.2 214.9) rotate(-90)" text-anchor="middle">SHAP value</text></g>
<g><clipPath id="c6"><rect x="171.3" y="157.6" width="93.7" height="118.5"/></clipPath>
<path d="M184.2 157.6V276.1M215.8 157.6V276.1M247.5 157.6V276.1M171.3 167.3H265.0M171.3 192.3H265.0M171.3 217.2H265.0M171.3 242.1H265.0M171.3 267.1H265.0" stroke="#f1f1f1" stroke-width=".5" fill="none"/>
<path d="M200.0 157.6V276.1M231.7 157.6V276.1M263.3 157.6V276.1M171.3 179.8H265.0M171.3 204.7H265.0M171.3 229.6H265.0M171.3 254.6H265.0" stroke="#e6e6e6" stroke-width=".9" fill="none"/>
<g clip-path="url(#c6)"><path d="M199.6 161.0L199.1 163.0L198.8 180.0L198.6 199.0L197.7 216.0L197.6 224.0L197.8 229.0L204.0 229.0L203.2 224.0L202.2 216.0L200.8 199.0L200.5 180.0L200.2 163.0L199.8 161.0ZM197.3 222.0L197.3 228.0L197.6 232.8L197.8 232.8L197.8 228.0L197.7 222.0ZM201.2 223.2L202.4 231.0L204.6 240.0L206.6 248.0L206.6 248.0L208.2 255.0L209.8 260.9L211.7 266.1L212.2 265.4L213.0 261.0L212.2 255.0L210.4 248.0L210.4 248.0L208.6 240.0L206.4 231.0L204.4 223.2ZM198.4 238.7L195.5 241.1L192.7 245.1L191.2 249.4L192.2 253.5L194.7 257.1L198.2 258.3Z" fill="#000" stroke="#000" stroke-width=".6" stroke-linejoin="round"/>
<path d="M198.9 178.6h0M200.7 213.9h0M201.1 218.9h0M200.2 174.0h0M199.3 163.2h0M198.3 224.9h0M198.5 203.0h0M198.6 184.3h0M200.1 202.0h0M199.3 181.9h0M199.8 166.4h0M199.6 191.1h0M198.3 217.7h0M199.1 220.1h0M201.3 214.7h0M200.1 186.6h0M203.3 226.2h0M200.9 182.2h0M198.9 215.2h0M199.0 193.4h0M200.6 225.9h0M199.5 219.2h0M200.9 220.7h0M199.6 182.2h0M199.4 165.1h0M199.6 227.8h0M200.3 189.9h0M200.3 184.3h0M200.2 190.0h0M199.7 174.2h0M199.5 195.5h0M200.1 212.3h0M199.1 199.6h0M199.5 171.5h0M197.5 218.2h0M199.6 196.6h0M199.5 164.9h0M201.0 208.7h0M199.7 174.3h0M199.9 204.2h0M199.9 217.9h0M198.1 211.1h0M199.3 168.4h0M202.5 226.2h0M200.2 168.4h0M198.1 217.4h0M199.1 202.9h0M199.4 200.7h0M200.5 211.7h0M199.5 164.8h0M199.5 212.9h0M199.3 218.6h0M198.6 215.0h0M199.4 175.6h0M200.6 193.4h0M199.3 177.8h0M199.7 194.0h0M200.5 183.7h0M199.7 202.1h0M199.2 227.3h0M202.2 222.4h0M198.5 209.0h0M200.8 202.7h0M201.9 211.8h0M199.7 190.0h0M199.5 174.8h0M200.1 205.4h0M198.3 213.5h0M200.0 179.2h0M202.2 220.9h0M199.6 181.8h0M200.6 211.5h0M200.6 223.0h0M200.3 190.8h0M200.4 213.1h0M200.6 211.4h0M200.7 223.0h0M199.9 192.7h0M198.9 206.4h0M201.2 226.9h0M198.8 198.0h0M199.7 221.3h0M200.0 181.1h0M198.5 204.4h0M200.2 201.0h0M200.6 206.5h0M200.1 171.8h0M200.9 213.5h0M200.5 218.2h0M199.2 210.4h0M201.8 218.0h0M199.4 200.0h0M200.1 162.7h0M199.9 163.9h0M200.4 182.9h0M201.6 214.9h0M199.7 167.0h0M198.1 223.9h0M199.6 191.0h0M199.5 162.8h0M199.4 201.3h0M200.0 163.4h0M199.4 198.3h0M200.0 162.8h0M199.4 191.2h0M199.3 195.8h0M200.0 207.1h0M199.0 178.2h0M199.5 167.6h0M199.2 189.2h0M199.1 174.1h0M198.9 189.0h0M198.4 220.3h0M200.1 175.6h0M199.2 164.2h0M200.5 210.4h0M201.6 216.1h0M200.9 207.3h0M199.4 167.1h0M199.9 165.2h0M200.1 163.5h0M200.3 171.2h0M199.8 227.3h0M200.0 213.8h0M202.9 224.5h0M198.9 193.4h0M198.6 198.7h0M200.4 189.8h0M200.2 219.1h0M199.2 218.4h0M199.0 196.1h0M200.1 169.9h0M200.5 195.2h0M199.6 186.7h0M199.7 209.0h0M200.6 197.1h0M199.5 225.3h0M201.0 210.1h0M199.8 199.5h0M198.8 193.0h0M201.6 218.8h0M200.5 227.5h0M203.6 227.2h0M199.1 218.6h0M200.1 171.2h0M200.5 221.4h0M200.3 193.8h0M200.6 186.8h0M201.6 219.4h0M199.2 201.8h0M199.7 177.8h0M200.6 198.5h0M199.1 189.6h0M202.7 223.1h0M199.3 228.4h0M199.2 177.3h0M199.7 175.3h0M199.6 163.1h0M199.4 197.4h0M198.4 213.2h0M200.0 181.5h0M202.0 218.2h0M199.8 164.3h0M199.6 188.7h0M199.4 167.9h0M198.7 201.7h0M202.4 221.0h0M201.0 215.5h0M199.2 178.1h0M200.8 196.9h0M198.8 193.9h0M199.4 166.7h0M198.8 224.7h0M200.2 209.9h0M198.2 211.4h0M198.6 203.9h0M200.8 218.2h0M199.7 174.8h0M200.0 194.0h0M200.4 175.4h0M200.1 191.6h0M199.7 206.4h0M200.3 191.7h0M199.6 179.2h0M200.4 187.7h0M199.5 192.8h0M200.2 209.4h0M199.4 203.8h0M199.4 185.7h0M200.0 176.1h0M200.2 164.0h0M199.0 187.6h0M198.8 224.1h0M199.0 201.4h0M199.6 173.7h0M201.0 225.2h0M198.3 216.9h0M199.4 181.9h0M199.9 165.2h0M200.2 165.2h0M198.9 191.8h0M199.0 221.1h0M199.4 186.7h0M199.2 179.1h0M201.4 223.2h0M200.6 193.1h0M199.1 221.0h0M199.7 195.7h0M199.9 179.4h0M200.1 212.6h0M200.3 175.5h0M201.5 209.4h0M203.0 226.6h0M200.6 183.1h0M200.6 178.4h0M199.4 168.8h0M199.2 197.4h0M199.1 191.4h0M199.8 177.7h0M201.8 226.9h0M200.2 180.8h0M199.9 214.4h0M199.4 181.1h0M200.3 211.4h0M199.8 219.8h0M199.8 168.3h0M201.7 220.0h0M200.8 208.3h0M199.5 204.6h0M200.3 185.6h0M199.2 173.7h0M199.3 174.9h0M200.0 162.9h0M198.9 186.0h0M200.2 178.9h0M199.4 205.7h0M200.4 189.4h0M200.7 191.4h0M199.6 211.5h0M198.7 197.0h0M201.0 206.1h0M200.1 198.9h0M199.3 180.5h0M199.8 178.3h0M199.1 207.6h0M199.2 175.4h0M198.6 198.9h0M199.7 167.4h0M199.1 163.0h0M199.5 199.9h0M199.3 180.1h0M200.2 211.0h0M202.5 224.2h0M198.6 217.0h0M199.3 227.3h0M200.1 194.9h0M199.6 184.7h0M198.6 205.4h0M197.7 223.1h0M199.3 185.0h0M201.5 224.1h0M199.6 182.6h0M199.3 189.8h0M200.2 162.9h0M199.8 203.4h0M199.1 205.0h0M199.6 181.0h0M200.1 183.8h0M198.0 209.0h0M203.8 228.1h0M202.1 222.8h0M199.1 173.5h0M200.6 203.1h0M198.6 207.6h0M199.3 211.3h0M199.1 180.3h0M198.5 215.3h0M200.3 189.4h0M199.5 197.4h0M199.5 166.0h0M198.9 174.5h0M198.8 206.0h0M199.3 166.4h0M200.7 203.2h0M199.8 161.8h0M200.7 200.9h0M200.3 175.2h0M200.4 170.9h0M201.1 214.0h0M198.8 177.9h0M198.3 209.9h0M199.5 173.0h0M199.5 193.6h0M200.8 192.8h0M199.2 208.8h0M199.4 205.7h0M200.6 195.6h0M200.1 163.1h0M199.4 203.4h0M199.9 191.5h0M199.8 162.5h0M200.8 186.9h0M200.9 196.3h0M199.9 174.3h0M200.1 188.2h0M201.8 225.6h0M200.8 176.9h0M200.1 162.3h0M200.0 182.5h0M200.6 193.8h0M199.0 171.0h0M198.4 204.0h0M200.6 201.3h0M199.4 174.7h0M200.0 188.5h0M199.0 196.0h0M199.9 191.3h0M198.9 200.8h0M199.3 207.2h0M198.6 203.8h0M199.4 185.4h0M199.8 172.8h0M199.8 179.7h0M198.5 187.5h0M199.2 188.5h0M199.4 187.8h0M201.7 228.0h0M199.6 220.3h0M199.5 173.8h0M199.2 205.1h0M200.2 182.6h0M198.9 180.8h0M198.1 227.9h0M199.2 204.1h0M199.6 171.2h0M199.6 166.4h0M198.9 226.7h0M198.6 214.2h0M198.3 207.0h0M200.2 213.6h0M200.3 186.9h0M201.2 209.6h0M200.5 201.3h0M198.7 198.4h0M199.1 171.6h0M199.1 184.3h0M199.9 178.2h0M200.2 178.8h0M199.7 197.0h0M200.4 198.8h0M198.7 202.2h0M199.3 178.5h0M199.7 190.5h0M199.7 205.6h0M199.7 194.3h0M199.9 184.8h0M198.8 192.6h0M201.5 218.2h0M199.1 176.1h0M199.6 164.0h0M202.9 225.7h0M201.3 216.2h0M202.7 224.4h0M198.9 176.4h0M199.8 174.3h0M199.8 178.4h0M198.7 220.2h0M199.7 165.0h0M200.9 213.8h0M198.4 203.5h0M201.1 206.6h0M199.8 223.0h0M200.3 205.6h0M199.9 201.0h0M201.3 219.0h0M200.3 172.0h0M199.9 169.3h0M201.0 205.3h0M199.2 196.2h0M200.0 164.9h0M200.2 212.0h0M199.4 211.5h0M200.4 194.1h0M200.1 202.8h0M199.7 177.2h0M199.9 173.1h0M199.4 210.8h0M199.1 209.4h0M199.7 185.5h0M203.0 227.1h0M197.8 226.7h0M197.6 224.5h0M197.5 230.9h0M197.7 228.3h0M197.6 227.2h0M197.5 223.1h0M197.4 226.8h0M197.7 226.1h0M197.9 226.4h0M197.3 225.6h0M197.6 225.6h0M197.7 224.5h0M197.7 230.2h0M197.2 222.9h0M197.6 225.1h0M197.3 226.3h0M197.8 230.2h0M197.3 229.9h0M198.0 227.4h0M197.4 231.5h0M197.7 222.7h0M197.7 229.7h0M197.8 226.0h0M197.8 231.8h0M211.6 266.4h0M212.4 261.6h0M210.3 248.5h0M202.8 238.7h0M207.0 247.0h0M208.8 242.8h0M208.4 237.9h0M204.7 232.1h0M201.2 223.7h0M205.4 242.4h0M207.6 252.5h0M209.1 243.5h0M213.9 257.6h0M207.1 249.6h0M208.1 255.8h0M210.3 266.3h0M204.2 230.8h0M205.3 225.2h0M207.7 243.6h0M204.3 229.4h0M203.0 231.1h0M209.4 260.8h0M206.2 248.6h0M207.5 246.7h0M201.1 226.2h0M207.7 235.0h0M208.9 249.6h0M211.7 248.9h0M208.3 252.9h0M209.8 247.5h0M209.7 265.9h0M203.9 230.5h0M206.6 256.6h0M205.2 245.0h0M201.3 223.2h0M204.7 234.7h0M207.1 248.0h0M205.2 228.4h0M208.2 239.7h0M211.5 268.6h0M206.0 244.9h0M211.2 261.5h0M202.6 233.5h0M211.6 263.9h0M209.5 257.4h0M202.2 236.8h0M208.5 241.1h0M209.5 250.4h0M210.4 244.7h0M209.4 257.0h0M201.2 226.2h0M211.3 258.4h0M210.9 248.5h0M211.2 253.4h0M210.7 260.9h0M208.4 245.0h0M209.3 253.2h0M209.2 251.8h0M206.5 242.7h0M203.4 223.7h0M199.9 224.5h0M211.1 243.9h0M213.0 254.7h0M212.8 265.1h0M202.4 230.7h0M204.7 241.3h0M208.4 237.5h0M205.3 231.4h0M210.3 254.2h0M206.7 230.3h0M204.7 243.0h0M208.0 255.3h0M215.8 258.8h0M211.9 252.1h0M206.8 252.4h0M211.6 249.0h0M205.3 249.2h0M207.1 258.5h0M210.7 252.9h0M210.7 248.3h0M207.0 245.5h0M209.9 260.9h0M208.5 244.0h0M205.7 248.9h0M212.1 258.8h0M213.4 266.5h0M202.1 225.0h0M209.3 251.8h0M209.8 257.4h0M207.0 240.8h0M207.8 254.9h0M209.7 243.3h0M206.9 242.8h0M207.4 240.5h0M207.1 245.6h0M206.4 229.3h0M206.7 245.7h0M204.4 222.5h0M203.8 232.2h0M202.3 231.2h0M208.8 263.4h0M205.1 238.4h0M208.0 246.2h0M211.7 259.9h0M200.9 230.2h0M207.8 244.4h0M204.2 232.5h0M208.8 254.0h0M204.1 242.1h0M209.8 240.2h0M204.2 242.4h0M210.6 251.0h0M208.8 246.2h0M204.6 231.0h0M208.8 248.2h0M211.4 264.1h0M212.4 256.0h0M214.1 258.2h0M207.4 250.3h0M212.2 253.1h0M207.1 236.5h0M204.6 240.1h0M208.3 246.6h0M214.9 258.4h0M207.7 243.3h0M209.9 259.5h0M203.8 230.0h0M208.9 245.5h0M207.6 248.3h0M205.7 249.6h0M206.6 254.7h0M214.2 264.0h0M210.8 250.5h0M214.9 258.9h0M206.8 253.3h0M211.4 265.6h0M206.0 242.7h0M203.8 233.9h0M210.9 252.0h0M211.5 267.3h0M203.8 229.4h0M209.1 258.4h0M206.3 229.2h0M212.4 256.1h0M214.0 267.3h0M209.1 262.9h0M203.7 234.2h0M203.8 230.0h0M205.7 255.5h0M207.2 236.2h0M213.0 258.0h0M205.0 242.1h0M203.9 232.3h0M209.4 250.1h0M206.6 249.4h0M213.7 253.8h0M211.2 258.2h0M212.8 264.0h0M210.5 253.7h0M213.1 258.0h0M206.2 236.9h0M209.6 256.5h0M210.9 250.9h0M212.1 266.7h0M203.7 232.4h0M214.6 258.2h0M205.7 232.5h0M213.6 266.2h0M202.6 228.2h0M201.7 233.7h0M208.3 255.9h0M212.6 257.4h0M210.4 264.9h0M208.1 252.2h0M204.5 223.0h0M208.3 253.1h0M211.0 265.4h0M213.2 259.4h0M206.8 243.8h0M210.4 245.3h0M210.6 251.2h0M209.6 249.4h0M212.6 264.5h0M204.8 232.1h0M205.5 232.0h0M213.8 259.4h0M210.6 246.6h0M200.5 228.3h0M210.5 261.1h0M209.3 261.0h0M206.0 241.4h0M211.1 252.3h0M201.9 230.7h0M211.1 263.5h0M210.3 254.2h0M207.3 252.9h0M210.7 259.4h0M204.6 242.7h0M206.7 240.9h0M206.5 231.6h0M211.7 258.5h0M204.8 224.3h0M207.6 234.0h0M209.5 241.2h0M204.3 238.6h0M208.6 249.4h0M205.6 237.2h0M205.5 242.1h0M213.0 263.4h0M212.2 254.3h0M205.5 232.8h0M206.7 246.3h0M206.0 242.9h0M205.0 243.0h0M209.6 246.4h0M202.3 232.5h0M207.9 249.5h0M209.5 243.4h0M209.6 256.7h0M206.4 239.3h0M206.5 239.5h0M212.0 258.7h0M202.2 230.8h0M213.7 264.8h0M210.0 255.6h0M210.0 266.1h0M204.0 231.9h0M207.8 249.3h0M213.6 261.4h0M205.5 246.7h0M202.1 231.0h0M205.5 237.3h0M209.1 255.8h0M208.2 239.5h0M209.7 243.2h0M206.8 244.1h0M212.4 254.7h0M210.1 246.9h0M208.3 254.8h0M212.1 265.7h0M203.1 224.8h0M208.3 254.8h0M207.5 236.8h0M209.9 252.1h0M202.4 232.6h0M209.4 260.0h0M205.2 246.1h0M209.0 254.8h0M203.2 228.8h0M211.2 257.9h0M213.9 261.4h0M203.5 223.6h0M214.6 254.4h0M208.4 240.7h0M207.9 239.4h0M201.7 228.6h0M210.2 261.7h0M205.8 245.3h0M209.2 243.0h0M205.7 234.6h0M203.3 236.9h0M203.1 237.5h0M202.2 227.4h0M206.0 241.8h0M208.1 246.0h0M209.3 246.4h0M210.8 251.8h0M210.0 265.0h0M206.9 251.5h0M203.6 230.1h0M209.4 264.1h0M207.0 236.6h0M207.3 247.5h0M211.8 266.2h0M207.2 248.0h0M203.2 239.0h0M214.7 261.6h0M203.5 224.3h0M207.9 237.1h0M208.0 257.5h0M202.0 230.8h0M206.2 245.1h0M203.6 232.4h0M207.4 253.7h0M209.1 252.8h0M202.8 229.8h0M213.4 258.2h0M211.6 252.8h0M207.3 247.6h0M206.7 237.2h0M209.9 258.8h0M208.5 244.8h0M206.3 255.9h0M204.4 226.8h0M210.9 251.6h0M210.6 247.8h0M207.5 246.8h0M207.3 232.8h0M205.0 231.5h0M210.6 258.1h0M205.8 241.5h0M209.5 267.0h0M205.6 230.5h0M211.1 263.8h0M209.2 257.1h0M204.0 232.4h0M205.4 231.5h0M206.2 227.9h0M205.4 243.7h0M210.1 247.6h0M209.8 251.4h0M212.4 258.6h0M205.1 244.8h0M206.3 237.4h0M213.7 263.3h0M210.3 260.9h0M207.5 251.6h0M214.4 263.3h0M202.8 232.1h0M212.4 268.7h0M206.9 250.8h0M209.9 254.8h0M210.6 265.8h0M205.4 239.4h0M210.7 262.8h0M204.8 238.9h0M210.3 252.9h0M203.7 224.5h0M207.0 247.7h0M213.8 257.0h0M209.7 251.7h0M208.1 237.5h0M204.0 230.7h0M212.6 256.5h0M211.4 265.2h0M204.0 244.1h0M212.0 264.7h0M206.7 234.5h0M207.1 243.9h0M213.0 259.5h0M208.5 242.1h0M212.4 265.8h0M212.3 255.2h0M211.9 253.3h0M204.0 223.9h0M208.7 249.2h0M203.3 225.8h0M207.2 237.9h0M203.8 230.5h0M207.3 251.8h0M206.6 253.5h0M214.9 261.1h0M213.4 255.4h0M210.6 268.4h0M204.8 232.3h0M212.6 260.6h0M208.6 254.1h0M215.3 259.2h0M208.6 239.8h0M200.8 227.8h0M202.6 225.1h0M205.0 236.5h0M206.3 236.0h0M202.1 226.5h0M209.0 242.6h0M206.9 242.9h0M206.7 250.7h0M209.1 262.0h0M211.6 249.0h0M213.0 260.5h0M212.1 263.6h0M201.8 222.3h0M205.4 231.8h0M213.8 264.8h0M209.4 245.4h0M211.7 262.4h0M208.0 256.2h0M210.0 253.9h0M209.4 250.6h0M205.8 237.7h0M204.7 232.7h0M204.3 230.4h0M207.1 242.8h0M208.0 262.9h0M208.4 251.3h0M210.7 259.1h0M204.5 238.9h0M204.0 223.7h0M208.1 238.0h0M206.3 244.1h0M215.6 263.1h0M204.7 234.4h0M209.9 262.1h0M201.7 225.8h0M208.3 237.1h0M211.5 252.9h0M209.0 252.1h0M211.5 264.6h0M213.5 257.2h0M204.8 240.3h0M210.1 248.1h0M212.1 250.2h0M211.1 260.2h0M206.0 244.3h0M202.5 230.3h0M207.7 249.5h0M213.9 264.5h0M201.8 227.4h0M213.0 260.3h0M204.4 232.4h0M206.2 228.2h0M204.5 243.7h0M212.5 254.4h0M208.5 247.7h0M212.7 264.0h0M211.4 259.1h0M210.2 258.4h0M207.6 251.7h0M204.2 226.5h0M204.1 238.5h0M209.1 252.4h0M202.8 237.5h0M210.7 261.9h0M209.7 255.7h0M203.4 234.2h0M211.1 255.0h0M207.7 256.7h0M213.9 261.1h0M202.6 238.5h0M212.1 254.3h0M207.0 242.4h0M210.0 260.6h0M203.9 224.6h0M214.2 259.5h0M210.0 255.8h0M204.5 235.9h0M210.2 259.0h0M204.9 228.1h0M204.5 240.3h0M209.4 253.8h0M211.7 265.1h0M213.0 257.1h0M208.8 244.4h0M207.1 232.2h0M210.1 253.1h0M203.4 232.4h0M202.4 226.9h0M202.2 224.5h0M212.6 254.3h0M203.2 226.0h0M207.1 238.3h0M205.9 252.1h0M203.0 230.3h0M204.6 227.3h0M213.3 253.8h0M201.4 226.3h0M207.2 247.5h0M214.0 259.1h0M208.3 241.2h0M210.6 267.1h0M210.9 267.7h0M204.3 223.4h0M209.9 257.9h0M206.3 242.7h0M202.0 230.2h0M200.6 228.9h0M208.2 252.5h0M205.3 241.8h0M201.7 235.9h0M213.4 256.5h0M214.9 256.8h0M209.5 251.5h0M205.4 233.4h0M209.7 257.7h0M210.9 267.4h0M213.0 256.9h0M210.5 264.9h0M207.4 239.1h0M207.2 243.1h0M205.9 239.6h0M208.4 253.1h0M202.6 235.3h0M211.1 245.9h0M207.6 250.6h0M208.9 256.2h0M214.9 263.6h0M202.6 224.9h0M209.7 265.6h0M202.5 237.6h0M204.5 223.7h0M210.3 251.0h0M208.6 251.9h0M205.5 243.4h0M202.7 226.8h0M208.3 250.6h0M207.0 249.1h0M209.7 251.1h0M209.0 239.8h0M210.5 254.5h0M206.8 236.3h0M204.9 234.3h0M207.5 238.0h0M203.7 226.7h0M207.0 247.6h0M210.0 253.4h0M210.3 262.4h0M202.0 228.5h0M207.1 244.3h0M205.2 238.8h0M207.7 245.4h0M211.6 258.5h0M203.6 224.7h0M203.7 233.0h0M205.2 234.0h0M212.5 259.6h0M203.6 229.8h0M206.9 231.4h0M205.8 244.5h0M209.6 253.2h0M209.5 255.5h0M204.6 228.4h0M210.2 254.8h0M212.2 262.2h0M207.1 240.0h0M205.8 244.5h0M212.8 258.1h0M211.8 255.7h0M212.0 263.4h0M204.0 225.8h0M212.2 259.1h0M208.4 243.0h0M206.7 236.1h0M203.5 224.3h0M205.3 228.3h0M206.7 233.2h0M205.1 242.0h0M202.1 224.8h0M211.9 252.8h0M204.6 231.0h0M209.7 256.4h0M209.0 245.8h0M209.4 254.9h0M208.5 246.3h0M203.4 225.4h0M206.5 237.1h0M209.2 244.2h0M206.2 245.4h0M207.7 249.0h0M209.1 252.3h0M206.6 246.9h0M203.1 225.5h0M210.9 260.6h0M201.9 224.0h0M209.7 251.5h0M203.2 232.8h0M205.0 241.0h0M205.1 232.3h0M210.3 251.3h0M204.1 238.1h0M209.1 251.8h0M210.7 255.8h0M208.2 247.2h0M207.9 250.3h0M210.2 249.6h0M211.7 257.5h0M203.9 232.3h0M205.5 236.3h0M211.2 255.8h0M211.8 255.6h0M210.0 252.0h0M208.2 254.6h0M210.5 252.6h0M209.3 253.1h0M208.1 246.4h0M210.1 248.4h0M208.7 250.6h0M204.0 230.8h0M204.3 227.7h0M207.2 244.0h0M204.1 226.6h0M206.8 240.1h0M208.8 251.9h0M204.5 236.4h0M203.1 224.1h0M204.2 233.2h0M210.3 252.0h0M204.1 228.7h0M208.5 254.0h0M210.2 250.4h0M208.1 251.7h0M210.1 262.0h0M204.8 237.8h0M208.0 242.0h0M206.9 234.9h0M206.9 236.1h0M203.6 228.2h0M207.1 240.2h0M203.9 223.4h0M207.8 246.9h0M207.2 241.5h0M211.2 254.9h0M208.2 252.2h0M202.6 232.3h0M206.9 235.5h0M212.3 261.2h0M206.2 232.9h0M205.3 240.1h0M207.6 239.0h0M207.3 240.6h0M210.4 262.3h0M211.2 261.4h0M207.5 237.1h0M205.9 244.6h0M211.9 253.0h0M212.3 255.5h0M206.1 233.4h0M206.1 245.0h0M211.4 252.5h0M203.9 225.7h0M202.6 229.1h0M202.3 231.8h0M211.0 263.8h0M203.2 225.2h0M203.4 225.6h0M203.5 230.3h0M209.0 257.0h0M204.4 234.7h0M208.0 248.3h0M203.1 229.6h0M205.1 241.3h0M204.7 228.3h0M204.6 237.9h0M206.5 237.6h0M210.2 253.5h0M204.4 230.4h0M203.5 226.5h0M209.2 251.2h0M210.7 259.3h0M204.2 233.8h0M202.5 226.0h0M205.2 236.1h0M204.3 235.8h0M207.7 234.8h0M209.7 244.1h0M212.2 262.0h0M205.8 228.3h0M204.2 234.9h0M211.9 258.9h0M211.5 263.5h0M210.8 260.2h0M210.0 247.6h0M206.3 240.4h0M208.1 238.2h0M204.3 232.1h0M204.2 235.8h0M205.3 234.0h0M207.3 237.4h0M210.4 253.2h0M209.4 241.7h0M204.7 240.5h0M204.2 229.2h0M207.7 252.3h0M204.1 233.8h0M204.8 240.4h0M205.9 237.3h0M205.1 231.9h0M204.8 232.2h0M203.7 235.8h0M205.2 231.9h0M209.5 247.2h0M209.1 244.0h0M205.8 230.7h0M207.0 241.1h0M210.5 261.2h0M205.7 238.0h0M202.2 227.8h0M208.1 238.2h0M205.1 239.4h0M202.4 225.4h0M203.2 229.9h0M210.2 253.5h0M206.3 243.1h0M202.5 225.9h0M206.6 235.9h0M208.9 252.1h0M204.8 234.1h0M208.6 241.7h0M191.0 245.3h0M191.7 254.3h0M195.9 240.8h0M195.0 246.7h0M195.8 258.0h0M196.8 248.0h0M195.1 256.9h0M196.9 240.9h0M196.1 247.0h0M188.3 252.4h0M195.5 241.1h0M189.7 243.6h0M193.2 256.0h0M192.5 242.3h0M195.8 257.6h0M197.6 244.2h0M194.4 255.1h0M195.4 251.8h0M198.0 253.1h0M192.5 250.6h0M191.0 256.6h0M189.6 253.4h0M195.4 253.0h0M196.8 254.9h0M190.5 248.7h0M193.1 245.4h0M196.0 260.7h0M197.2 256.8h0M191.5 251.4h0M197.7 249.9h0M192.6 251.1h0M192.5 249.6h0M194.3 256.6h0M193.6 251.8h0M197.2 255.0h0M189.4 256.5h0M191.7 256.6h0M197.9 238.5h0M193.6 240.6h0M196.3 245.4h0M197.8 244.6h0M196.3 243.1h0M194.8 251.5h0M196.4 253.8h0M193.0 255.2h0M195.8 243.6h0M194.2 253.0h0M194.3 252.7h0M198.3 238.2h0M194.0 242.6h0M195.0 243.8h0M190.7 248.9h0M196.7 252.0h0M190.7 253.3h0M187.4 250.3h0M194.8 254.0h0M195.5 254.7h0M196.0 247.6h0M192.8 243.0h0M197.2 257.5h0M191.9 255.2h0M193.4 254.4h0M189.6 250.9h0M197.5 246.3h0M197.4 251.3h0M191.2 255.4h0M190.7 251.7h0M192.3 242.4h0M198.0 258.1h0M186.8 249.3h0M189.0 245.8h0M196.7 255.6h0M196.1 244.8h0M197.3 244.9h0M194.5 256.8h0M191.9 257.9h0M194.2 240.9h0M196.7 250.8h0M190.6 248.8h0M191.6 245.4h0M189.7 252.3h0M196.4 241.4h0M193.1 247.6h0M193.7 258.2h0M190.5 250.6h0M197.5 257.3h0M195.0 249.8h0M191.8 247.4h0M193.2 240.6h0M193.2 257.4h0M195.6 255.0h0M191.8 254.8h0M193.4 242.5h0M195.5 242.0h0M196.6 248.5h0M194.4 244.5h0M196.1 247.7h0M189.2 246.7h0M195.7 248.1h0M194.3 256.3h0M193.0 244.7h0M197.7 249.8h0M190.3 248.3h0M186.2 249.0h0M197.7 254.2h0M194.6 246.6h0M197.4 243.8h0M195.9 240.4h0M194.1 256.7h0M193.8 240.9h0M195.9 251.7h0M192.6 249.4h0M198.8 250.3h0M197.1 243.1h0M196.7 237.8h0M190.4 252.8h0M196.0 241.5h0M193.7 243.4h0M195.2 245.1h0M196.2 246.3h0M197.9 239.8h0M196.3 239.7h0M191.3 252.3h0M188.8 247.7h0M196.5 244.5h0M197.0 239.4h0M194.5 240.3h0M194.5 256.3h0M191.8 253.9h0M196.9 238.5h0M196.8 257.4h0M193.6 242.6h0M190.8 252.0h0M193.2 244.0h0M194.7 255.1h0M194.3 242.3h0M196.5 254.9h0M195.1 257.7h0M190.9 246.7h0M192.8 257.1h0M196.5 248.9h0M197.4 256.3h0M188.1 249.4h0M191.0 253.2h0M192.5 245.7h0M190.9 250.3h0M197.2 258.1h0M192.4 256.7h0M188.5 248.2h0M190.1 246.2h0M195.6 245.2h0M194.1 240.3h0M193.3 249.3h0M196.1 253.8h0M197.0 250.9h0M196.5 242.5h0M195.8 252.6h0M190.8 243.0h0M194.7 256.7h0M195.1 256.2h0M194.6 253.8h0M192.7 250.7h0M190.8 257.1h0M193.4 245.7h0M187.0 250.4h0M196.4 257.5h0M189.8 245.5h0M195.9 250.0h0M190.4 249.4h0M198.2 242.3h0M193.5 251.9h0M191.5 255.1h0M191.8 251.2h0M197.0 256.9h0M190.4 245.7h0M189.5 248.2h0M197.8 254.3h0M192.2 247.4h0M194.0 248.5h0M198.4 249.5h0M196.0 258.2h0M197.0 258.6h0M188.6 247.0h0M194.8 255.8h0M197.4 240.0h0M196.5 247.9h0M198.0 245.3h0M192.0 249.9h0M186.5 248.7h0M191.1 245.6h0M198.7 239.4h0M191.8 248.3h0M190.6 250.0h0M198.0 246.2h0M196.6 257.9h0M197.0 246.7h0M191.5 255.6h0M191.8 257.4h0M197.7 250.2h0M190.0 255.4h0M196.5 254.0h0M190.3 253.6h0M195.1 241.6h0M196.1 246.2h0M194.2 245.1h0M193.7 244.3h0M191.7 247.9h0M191.8 250.2h0M196.6 242.3h0M196.3 247.1h0M197.3 249.2h0M198.5 242.1h0M196.5 251.0h0M194.7 252.3h0M196.1 253.4h0M193.7 251.5h0M198.5 250.1h0M194.0 250.7h0M194.8 249.7h0M192.7 246.6h0M192.3 246.8h0M196.4 247.6h0M196.5 257.6h0M195.2 250.7h0M198.5 237.5h0M196.3 256.0h0M194.9 259.2h0M190.0 254.2h0M190.4 256.1h0M188.7 249.2h0M195.5 244.9h0M199.2 249.1h0M194.8 244.9h0M195.6 258.0h0M193.8 249.1h0M195.8 258.3h0M197.1 257.6h0M193.8 242.0h0M194.4 250.0h0M187.4 253.5h0M197.5 252.1h0M193.9 243.6h0M197.4 251.8h0M195.6 247.2h0M196.7 244.9h0M190.6 252.9h0M198.2 246.5h0M198.0 237.3h0M192.3 246.9h0M192.9 244.5h0M191.2 256.2h0M198.0 257.0h0M198.4 253.5h0M193.2 253.5h0M191.3 252.2h0M193.8 255.8h0M191.8 251.8h0M195.7 240.1h0M191.7 253.3h0M196.0 253.7h0M191.3 249.0h0M194.0 258.3h0M194.8 257.4h0M188.8 246.4h0M187.7 250.1h0M193.6 246.5h0M190.9 254.8h0M195.2 258.5h0M192.9 257.4h0M197.5 250.6h0M192.5 244.9h0M196.7 256.0h0M187.1 248.8h0M189.1 252.9h0M195.0 242.6h0M192.1 253.2h0M190.6 256.0h0M198.8 255.1h0M196.7 236.5h0M196.6 238.8h0M196.9 243.2h0M193.2 249.3h0M192.4 251.9h0M194.2 250.9h0M196.8 249.1h0M192.1 248.7h0M191.5 247.8h0M193.6 258.1h0M191.3 255.3h0M197.0 241.8h0M193.9 239.6h0M187.5 249.5h0M192.0 249.8h0M194.7 258.8h0M196.4 240.8h0M197.8 250.3h0M196.4 246.5h0M196.4 260.2h0M196.5 238.7h0M193.3 258.7h0M193.9 256.6h0M194.7 258.3h0M198.8 249.7h0M197.0 240.0h0M193.0 250.0h0M191.0 246.0h0M190.9 250.0h0M192.2 252.2h0M192.2 247.9h0M195.8 247.6h0M196.0 251.7h0M197.5 242.6h0M195.3 252.2h0M195.1 257.9h0M198.0 244.6h0M194.4 248.3h0M191.5 244.6h0M190.1 250.9h0M193.5 249.7h0M195.2 244.2h0M190.3 252.1h0M193.0 248.9h0M195.4 250.7h0M197.4 245.4h0M189.0 247.1h0M189.6 247.4h0M193.7 247.4h0M197.1 246.5h0M192.8 253.9h0M188.2 246.6h0M187.6 251.2h0M197.0 241.0h0M194.1 242.4h0M197.0 254.7h0M191.0 244.2h0M198.4 244.1h0M193.9 259.1h0M194.5 245.1h0M193.1 254.0h0M191.4 255.3h0M194.3 245.0h0M197.1 260.2h0M196.9 252.4h0M196.1 251.8h0M191.7 247.4h0M197.7 243.8h0M190.6 248.5h0M194.9 259.4h0M193.9 244.5h0M191.4 252.1h0M194.4 255.9h0M197.4 252.0h0M195.1 242.0h0M193.8 246.7h0M194.9 242.1h0M197.8 257.5h0M195.9 243.6h0M194.4 251.3h0M195.7 249.7h0M197.8 245.4h0M196.6 252.7h0M197.9 250.4h0M194.8 250.5h0M198.7 248.1h0M196.9 239.4h0M193.9 246.4h0M195.0 244.9h0M195.1 241.9h0M195.1 243.7h0M196.9 255.3h0M198.2 248.2h0M198.0 257.7h0M192.7 249.5h0M197.7 256.5h0M193.9 248.5h0M194.1 254.6h0M195.1 253.2h0M196.4 245.3h0M193.4 243.0h0M192.6 248.3h0M196.3 250.7h0M193.5 246.4h0M196.2 245.8h0M196.5 251.5h0M197.6 247.1h0M193.8 248.9h0M197.1 253.9h0M197.1 241.2h0M194.9 242.3h0M196.3 241.5h0M198.0 254.5h0M195.6 242.7h0M199.1 241.4h0M191.9 248.7h0M192.9 251.2h0M193.5 245.1h0M192.8 248.9h0M196.3 252.7h0M192.1 246.5h0M193.4 248.9h0M196.9 241.3h0M194.0 250.8h0M194.4 244.4h0M196.8 256.7h0M192.2 250.1h0M195.9 246.4h0M196.8 255.7h0M197.1 240.7h0M197.2 249.7h0M197.1 247.6h0M194.5 243.5h0M195.9 252.2h0M195.0 251.0h0M194.3 247.2h0M195.0 256.5h0M195.8 240.2h0M195.2 244.0h0M194.1 254.3h0M195.5 246.0h0M196.4 244.2h0M195.8 243.6h0M192.1 248.0h0M198.4 246.6h0M194.7 252.3h0M197.1 243.3h0M194.3 246.8h0M197.4 250.2h0M193.8 253.5h0M194.2 245.1h0M196.6 254.6h0M197.1 242.2h0M194.3 254.6h0M197.2 255.5h0M191.5 248.9h0M191.3 249.9h0M194.6 252.2h0M193.2 253.0h0M198.6 239.2h0M196.9 249.0h0M196.5 245.3h0M196.4 256.0h0M198.6 244.6h0M197.3 240.2h0M196.8 252.9h0M193.8 254.8h0M193.8 243.7h0M197.2 245.6h0M195.5 245.2h0M197.8 241.5h0M194.1 247.1h0M193.7 250.6h0M195.9 257.0h0M198.0 241.4h0M196.3 257.6h0M195.9 248.9h0M195.1 246.1h0M196.0 256.2h0M193.2 252.9h0M198.6 252.3h0M196.6 242.9h0M192.3 249.1h0M196.4 253.5h0M196.6 244.2h0M194.7 252.9h0M198.2 255.5h0M196.0 241.8h0M194.6 243.6h0M198.6 238.9h0M198.2 241.9h0M196.3 249.6h0M193.9 246.1h0M197.8 254.3h0M196.6 246.9h0M197.4 255.1h0M194.9 252.9h0M194.1 245.9h0M197.7 241.6h0M192.3 249.0h0M191.4 251.8h0M195.0 245.5h0M195.8 256.2h0M196.2 245.5h0M196.0 253.6h0M198.6 247.7h0M194.2 245.5h0M199.3 248.0h0M195.3 255.7h0M193.8 254.8h0M192.4 249.8h0M195.5 249.0h0M197.0 250.4h0M196.7 248.1h0M196.7 253.3h0M192.4 249.5h0M192.5 253.3h0M175.4 250.5h0M180.2 248.8h0M218.6 252.7h0M219.6 258.2h0M230.4 250.5h0M232.1 252.7h0M235.2 260.9h0M250.0 252.3h0M260.7 255.0h0M209.6 271.4h0M186.3 246.2h0M185.8 254.4h0M216.3 256.4h0M215.5 265.0h0M207.0 258.0h0M184.3 250.7h0M213.7 250.6h0M210.6 243.0h0" class="p"/>
<path d="M198.8 226.0L198.8 233.2" fill="none" stroke="#fff" stroke-width="0.40"/></g>
<rect x="171.3" y="157.6" width="93.7" height="118.5" fill="none" stroke="#7a7a7a" stroke-width=".9"/>
<path d="M200.0 276.5v2.6M231.7 276.5v2.6M263.3 276.5v2.6M170.9 179.8h-2.6M170.9 204.7h-2.6M170.9 229.6h-2.6M170.9 254.6h-2.6" stroke="#333" stroke-width=".9" fill="none"/>
<text class="t" x="200.0" y="288.0" text-anchor="middle">0</text>
<text class="t" x="231.7" y="288.0" text-anchor="middle">5</text>
<text class="t" x="263.3" y="288.0" text-anchor="middle">10</text>
<text class="t" x="165.9" y="182.9" text-anchor="end">0.1</text>
<text class="t" x="165.9" y="207.8" text-anchor="end">0.0</text>
<text class="t" x="165.9" y="232.7" text-anchor="end">−0.1</text>
<text class="t" x="165.9" y="257.6" text-anchor="end">−0.2</text>
<text class="a" x="219.9" y="303.8" text-anchor="middle">LDL FPC3 score</text>
<text class="a" transform="translate(146.0 214.9) rotate(-90)" text-anchor="middle">SHAP value</text></g>
<g><clipPath id="c7"><rect x="310.5" y="157.6" width="93.3" height="118.5"/></clipPath>
<path d="M325.3 157.6V276.1M346.5 157.6V276.1M367.7 157.6V276.1M388.9 157.6V276.1M310.5 167.2H403.8M310.5 196.4H403.8M310.5 225.6H403.8M310.5 254.7H403.8" stroke="#f1f1f1" stroke-width=".5" fill="none"/>
<path d="M314.7 157.6V276.1M335.9 157.6V276.1M357.1 157.6V276.1M378.3 157.6V276.1M399.5 157.6V276.1M310.5 181.8H403.8M310.5 211.2H403.8M310.5 240.3H403.8M310.5 269.3H403.8" stroke="#e6e6e6" stroke-width=".9" fill="none"/>
<g clip-path="url(#c7)"><path d="M313.9 162.3L315.6 162.3L315.6 173.8L313.9 173.8ZM398.6 228.4L400.4 228.4L400.4 268.4L398.6 268.4Z" fill="#000" stroke="#000" stroke-width=".6" stroke-linejoin="round"/>
<path d="M314.8 171.3h0M314.7 171.5h0M314.7 164.0h0M314.5 163.4h0M314.4 169.7h0M314.7 171.7h0M315.0 162.4h0M314.8 169.7h0M314.7 163.2h0M314.6 170.6h0M314.6 173.1h0M314.7 170.2h0M314.8 170.2h0M314.5 168.1h0M314.6 173.1h0M314.7 169.4h0M314.8 167.0h0M314.7 169.4h0M314.9 168.7h0M314.8 166.1h0M314.8 172.5h0M314.7 167.9h0M314.8 173.5h0M314.8 171.6h0M315.0 170.4h0M314.7 170.8h0M314.7 167.8h0M314.6 170.3h0M314.6 173.8h0M314.7 162.4h0M399.4 234.7h0M399.4 267.9h0M399.4 250.6h0M399.7 246.9h0M399.7 236.3h0M399.7 236.0h0M399.3 253.6h0M399.6 268.6h0M399.7 259.8h0M399.7 247.1h0M399.4 263.2h0M399.4 228.1h0M399.4 258.2h0M399.4 257.2h0M399.6 255.5h0M399.6 262.4h0M399.4 254.8h0M399.4 232.6h0M399.4 252.7h0M399.5 248.2h0M399.6 240.7h0M399.5 258.8h0M399.8 261.9h0M399.6 258.0h0M399.7 243.8h0M399.5 257.7h0M399.5 250.3h0M399.6 240.0h0M399.4 260.1h0M399.5 260.8h0M399.5 262.3h0M399.5 243.9h0M399.6 252.7h0M399.5 228.5h0M399.3 243.5h0M399.4 250.2h0M399.5 242.1h0M399.6 232.9h0M399.4 250.4h0M399.5 268.5h0M399.4 261.6h0M399.5 261.7h0M399.4 248.6h0M399.4 261.0h0M399.5 229.5h0M399.4 243.8h0M399.5 261.8h0M399.6 267.1h0M399.6 251.3h0M399.5 257.7h0M399.4 254.4h0M399.5 238.5h0M399.6 261.1h0M399.5 254.7h0M399.7 243.4h0M399.6 241.3h0M399.5 244.7h0M399.7 249.1h0M399.4 245.4h0M399.4 236.0h0M399.6 253.7h0M399.5 232.8h0M399.4 235.0h0M399.3 232.3h0M399.7 239.0h0M399.5 264.5h0M399.7 258.4h0M399.6 229.1h0M399.5 261.5h0M399.5 232.2h0M399.5 248.3h0M399.5 243.5h0M399.6 261.9h0M399.5 265.2h0M399.5 266.9h0M399.4 262.4h0M399.7 237.9h0M399.5 234.1h0M399.5 261.0h0M399.4 267.6h0M399.6 259.0h0M399.5 262.1h0M399.4 264.2h0M399.5 256.3h0M399.4 253.4h0M399.6 263.3h0M399.4 241.1h0M399.6 248.1h0M399.2 264.0h0M399.5 246.2h0M399.5 271.2h0" class="p"/></g>
<rect x="310.5" y="157.6" width="93.3" height="118.5" fill="none" stroke="#7a7a7a" stroke-width=".9"/>
<path d="M314.7 276.5v2.6M335.9 276.5v2.6M357.1 276.5v2.6M378.3 276.5v2.6M399.5 276.5v2.6M310.1 181.8h-2.6M310.1 211.2h-2.6M310.1 240.3h-2.6M310.1 269.3h-2.6" stroke="#333" stroke-width=".9" fill="none"/>
<text class="t" x="314.7" y="288.0" text-anchor="middle">1.00</text>
<text class="t" x="335.9" y="288.0" text-anchor="middle">1.25</text>
<text class="t" x="357.1" y="288.0" text-anchor="middle">1.50</text>
<text class="t" x="378.3" y="288.0" text-anchor="middle">1.75</text>
<text class="t" x="399.5" y="288.0" text-anchor="middle">2.00</text>
<text class="t" x="305.1" y="184.9" text-anchor="end">0.0</text>
<text class="t" x="305.1" y="214.2" text-anchor="end">−0.1</text>
<text class="t" x="305.1" y="243.4" text-anchor="end">−0.2</text>
<text class="t" x="305.1" y="272.4" text-anchor="end">−0.3</text>
<text class="a" x="356.9" y="303.8" text-anchor="middle">Sex</text>
<text class="a" transform="translate(284.6 214.9) rotate(-90)" text-anchor="middle">SHAP value</text></g>
<g><clipPath id="c8"><rect x="449.3" y="157.6" width="93.2" height="118.5"/></clipPath>
<path d="M456.6 157.6V276.1M474.2 157.6V276.1M491.8 157.6V276.1M509.4 157.6V276.1M527.0 157.6V276.1M449.3 163.9H542.5M449.3 192.8H542.5M449.3 221.7H542.5M449.3 250.6H542.5" stroke="#f1f1f1" stroke-width=".5" fill="none"/>
<path d="M465.4 157.6V276.1M483.0 157.6V276.1M500.6 157.6V276.1M518.2 157.6V276.1M535.8 157.6V276.1M449.3 178.3H542.5M449.3 207.2H542.5M449.3 236.1H542.5M449.3 265.0H542.5" stroke="#e6e6e6" stroke-width=".9" fill="none"/>
<g clip-path="url(#c8)"><path d="M500.6 161.0L500.1 163.0L499.6 169.3L498.8 199.0L498.6 212.0L497.8 226.0L497.4 232.0L501.6 232.0L501.6 226.0L502.0 212.0L502.2 199.0L501.6 169.3L501.2 163.0L500.8 161.0ZM503.1 205.2L502.8 223.9L504.2 226.5L509.9 225.7L515.9 224.3L520.8 222.1L524.2 218.6L522.8 217.3L518.9 215.5L512.9 213.7L512.9 213.7L507.4 212.0L507.4 212.0L507.4 212.0L507.3 211.9L507.3 211.9L507.3 211.9L504.4 208.8L504.4 208.8L504.3 208.8L504.3 208.7L504.3 208.7ZM499.6 229.9L494.1 232.0L490.1 233.8L486.7 236.2L484.8 239.5L484.7 247.5L486.2 253.4L488.8 257.8L491.7 260.4L495.7 262.4L495.7 262.4L495.8 262.4L499.6 265.5Z" fill="#000" stroke="#000" stroke-width=".6" stroke-linejoin="round"/>
<path d="M500.4 198.3h0M501.0 170.5h0M500.4 217.2h0M499.2 200.7h0M499.5 178.1h0M500.8 167.5h0M501.1 187.4h0M500.0 227.6h0M500.7 168.5h0M501.1 186.5h0M500.2 210.7h0M500.7 168.9h0M502.1 211.1h0M501.5 229.0h0M498.7 214.0h0M501.4 203.0h0M500.8 164.1h0M501.4 182.5h0M501.3 218.0h0M499.4 187.2h0M500.7 177.3h0M499.8 201.5h0M500.9 187.0h0M499.3 192.6h0M502.3 209.1h0M501.3 199.1h0M500.0 196.1h0M501.2 167.2h0M499.5 220.4h0M499.3 227.4h0M501.4 203.1h0M501.5 217.4h0M500.1 170.7h0M501.9 208.1h0M500.8 166.3h0M499.1 204.9h0M499.6 204.2h0M501.8 183.8h0M500.0 215.0h0M500.8 163.4h0M500.5 189.2h0M501.6 219.6h0M501.9 204.8h0M498.6 230.5h0M500.1 205.5h0M500.2 195.8h0M500.4 213.6h0M500.5 184.2h0M499.3 197.5h0M501.2 213.2h0M498.9 226.6h0M499.7 190.9h0M501.6 209.5h0M500.2 230.4h0M498.6 231.0h0M500.1 177.9h0M500.8 181.4h0M499.3 189.8h0M501.3 167.2h0M500.9 221.6h0M499.6 209.1h0M500.4 190.3h0M501.3 203.6h0M498.9 222.9h0M499.5 184.7h0M501.0 172.3h0M501.3 177.4h0M499.1 212.3h0M500.8 164.8h0M500.6 164.1h0M501.3 192.1h0M500.0 169.6h0M501.1 195.8h0M501.2 167.6h0M499.6 186.7h0M498.8 216.5h0M499.9 180.9h0M500.6 185.8h0M500.5 182.1h0M499.4 220.2h0M500.5 184.2h0M501.1 178.8h0M501.4 167.5h0M501.4 188.9h0M500.3 170.8h0M498.9 220.5h0M501.7 172.0h0M501.4 162.6h0M500.4 173.6h0M500.0 187.6h0M500.6 182.9h0M501.0 183.0h0M498.7 202.3h0M499.8 195.9h0M501.4 201.5h0M499.9 179.7h0M500.0 181.7h0M500.0 185.3h0M500.4 214.1h0M499.7 188.7h0M501.1 228.5h0M500.9 228.1h0M499.3 211.4h0M500.5 168.7h0M499.4 208.4h0M501.6 230.0h0M497.9 229.6h0M500.4 183.5h0M498.6 223.9h0M501.6 209.2h0M501.1 168.2h0M498.0 217.7h0M500.6 190.0h0M500.8 219.2h0M500.2 183.6h0M499.2 184.4h0M500.7 162.3h0M500.8 165.7h0M500.3 163.3h0M499.7 214.0h0M499.6 211.7h0M498.9 216.8h0M499.4 183.9h0M502.2 210.9h0M500.9 216.2h0M498.3 228.5h0M498.3 226.6h0M499.5 214.4h0M500.8 181.9h0M500.4 222.5h0M500.6 202.0h0M501.3 199.6h0M499.0 226.9h0M499.7 191.1h0M501.7 198.1h0M501.0 165.3h0M500.2 191.2h0M499.8 222.2h0M497.5 230.9h0M500.4 168.3h0M501.5 192.2h0M501.9 212.1h0M501.3 177.6h0M500.6 167.3h0M500.2 175.8h0M500.1 174.4h0M498.9 206.4h0M500.0 196.9h0M499.1 216.3h0M500.6 173.6h0M501.0 226.9h0M500.4 165.4h0M499.3 205.6h0M499.0 225.1h0M499.0 194.9h0M499.6 176.7h0M499.8 184.4h0M501.7 177.9h0M500.8 184.1h0M501.2 165.8h0M500.6 176.7h0M499.2 191.1h0M501.2 165.9h0M499.9 209.2h0M498.8 215.4h0M499.5 189.6h0M499.6 230.1h0M499.5 178.5h0M500.4 204.2h0M499.9 172.7h0M500.4 189.9h0M502.1 195.0h0M499.8 176.6h0M499.8 202.0h0M499.6 171.8h0M500.4 163.6h0M500.5 225.7h0M501.6 180.3h0M501.6 206.6h0M501.4 198.7h0M499.9 178.9h0M499.3 183.9h0M499.9 178.4h0M500.9 227.1h0M501.4 200.6h0M501.3 185.7h0M501.9 209.4h0M501.8 173.3h0M500.4 167.0h0M500.3 199.0h0M499.1 210.3h0M499.8 177.0h0M498.7 195.4h0M501.7 202.2h0M500.4 222.6h0M501.4 201.5h0M499.7 216.5h0M500.5 167.7h0M499.6 168.6h0M499.1 218.4h0M498.3 222.8h0M500.2 164.0h0M500.0 174.1h0M500.6 168.8h0M500.5 187.2h0M501.5 224.1h0M499.5 215.2h0M501.2 204.7h0M501.3 206.8h0M501.5 226.0h0M500.5 230.6h0M501.8 207.3h0M499.1 212.5h0M498.9 218.6h0M499.9 165.7h0M499.6 175.2h0M500.4 206.6h0M500.2 210.8h0M500.9 194.6h0M500.5 177.3h0M500.0 172.0h0M497.9 227.1h0M499.9 211.6h0M499.3 214.2h0M499.4 213.1h0M500.4 189.1h0M500.1 218.9h0M500.7 176.8h0M500.2 173.8h0M500.5 186.3h0M500.2 216.0h0M501.3 180.0h0M499.4 220.0h0M501.0 176.5h0M500.4 170.6h0M501.3 164.9h0M500.3 219.4h0M500.0 175.5h0M500.7 161.6h0M499.4 197.2h0M501.3 204.0h0M499.6 226.2h0M500.0 230.0h0M499.2 229.7h0M499.9 222.0h0M501.4 211.4h0M501.5 174.9h0M499.4 180.7h0M500.9 228.3h0M499.1 222.2h0M501.1 222.8h0M500.1 189.8h0M500.1 204.1h0M500.6 200.9h0M499.8 204.9h0M500.0 206.9h0M500.7 179.8h0M500.7 191.1h0M501.0 229.3h0M500.3 216.6h0M502.1 202.4h0M499.2 208.0h0M500.2 202.4h0M499.5 214.3h0M500.6 183.9h0M501.0 173.7h0M500.4 187.2h0M499.8 181.8h0M500.3 221.5h0M501.8 206.5h0M498.3 220.7h0M500.9 162.4h0M499.5 221.9h0M501.5 185.3h0M500.0 183.8h0M500.7 166.2h0M501.5 175.2h0M500.0 221.8h0M500.2 218.4h0M501.4 195.2h0M501.2 178.1h0M499.6 190.8h0M499.5 174.5h0M500.1 169.3h0M500.2 186.5h0M499.4 227.2h0M500.5 190.8h0M500.7 193.8h0M501.5 177.7h0M500.9 213.9h0M500.7 201.9h0M501.4 195.0h0M498.3 224.7h0M499.6 193.5h0M500.8 213.6h0M500.6 171.2h0M500.2 163.3h0M500.8 209.6h0M500.6 196.2h0M501.9 215.9h0M500.2 173.9h0M499.7 191.0h0M498.4 220.1h0M499.6 228.0h0M499.6 177.2h0M499.4 222.7h0M499.9 170.9h0M501.2 210.1h0M498.5 209.2h0M499.0 202.6h0M499.8 228.7h0M500.6 163.2h0M501.1 184.8h0M499.9 197.2h0M498.9 202.6h0M500.3 185.9h0M501.2 174.7h0M501.2 220.8h0M499.7 201.6h0M501.5 228.3h0M498.9 228.6h0M499.4 195.2h0M500.2 219.8h0M500.7 183.7h0M501.4 220.8h0M499.9 197.3h0M499.9 171.1h0M501.0 164.0h0M501.7 180.6h0M501.5 215.5h0M501.0 175.1h0M500.5 206.3h0M498.9 216.9h0M501.1 190.3h0M499.8 207.3h0M499.0 206.6h0M501.4 177.3h0M500.1 175.4h0M501.8 207.1h0M500.9 222.9h0M500.2 178.9h0M501.7 199.6h0M500.8 229.6h0M499.9 186.0h0M499.7 224.5h0M498.4 230.3h0M500.9 169.2h0M498.7 209.0h0M500.7 162.9h0M500.3 166.4h0M500.0 190.4h0M500.4 180.8h0M500.2 212.2h0M500.1 169.6h0M499.8 188.0h0M500.3 173.0h0M500.6 220.4h0M499.4 214.5h0M500.4 164.3h0M499.2 222.3h0M500.5 228.2h0M501.6 195.0h0M500.0 167.2h0M500.3 203.8h0M501.5 180.1h0M500.5 229.7h0M501.2 189.6h0M500.6 168.2h0M499.9 220.2h0M501.2 226.2h0M500.5 186.4h0M501.0 229.4h0M500.4 213.5h0M501.0 166.0h0M501.6 199.5h0M500.7 211.0h0M500.5 167.9h0M501.9 197.8h0M500.0 167.8h0M500.0 181.8h0M499.6 228.0h0M500.0 211.2h0M500.4 192.8h0M501.6 207.0h0M499.3 177.1h0M500.6 195.4h0M501.6 230.8h0M500.8 188.6h0M498.6 217.5h0M500.3 223.6h0M500.4 206.0h0M500.3 213.4h0M499.8 175.0h0M501.2 209.9h0M499.0 230.2h0M501.3 187.4h0M500.4 203.0h0M500.3 207.6h0M500.8 171.6h0M500.4 196.7h0M498.9 213.1h0M499.8 181.6h0M500.7 189.0h0M500.6 220.0h0M501.2 199.7h0M500.4 163.8h0M500.0 229.1h0M499.4 220.7h0M501.6 208.1h0M500.5 197.3h0M499.6 182.4h0M499.9 200.1h0M502.1 203.6h0M502.1 203.3h0M501.4 183.1h0M499.6 194.2h0M501.4 173.6h0M501.0 170.7h0M501.5 215.7h0M501.5 206.2h0M499.4 195.3h0M500.2 167.9h0M500.4 213.0h0M498.7 219.0h0M499.5 174.1h0M501.3 189.8h0M509.1 213.0h0M509.0 218.9h0M515.2 218.1h0M506.9 220.5h0M521.1 218.7h0M509.6 222.6h0M503.1 221.9h0M511.6 223.8h0M514.3 222.7h0M514.8 214.5h0M504.9 212.3h0M524.0 219.4h0M513.3 221.2h0M518.4 218.6h0M507.6 214.8h0M509.8 217.5h0M512.1 224.4h0M525.1 221.9h0M510.5 225.0h0M517.7 221.6h0M515.7 213.4h0M504.9 215.0h0M505.6 226.2h0M523.4 221.2h0M512.6 213.5h0M505.1 214.9h0M519.5 219.4h0M513.7 227.7h0M517.7 215.8h0M514.4 222.7h0M518.2 224.1h0M512.0 216.9h0M507.6 217.9h0M507.0 221.4h0M509.1 214.1h0M506.8 224.1h0M510.8 219.2h0M507.4 220.5h0M515.3 217.0h0M505.0 218.2h0M517.2 214.2h0M524.2 219.2h0M517.8 216.2h0M504.1 226.5h0M523.0 218.8h0M516.5 225.6h0M513.6 220.1h0M503.2 221.6h0M511.7 223.6h0M509.1 225.6h0M510.1 221.3h0M516.1 213.0h0M509.0 218.1h0M512.2 219.2h0M519.4 216.2h0M509.2 219.3h0M512.8 222.9h0M510.2 222.2h0M510.1 217.9h0M510.7 220.1h0M507.7 214.6h0M510.4 214.7h0M508.9 224.2h0M504.2 215.6h0M503.8 213.7h0M516.8 213.0h0M510.0 216.3h0M504.0 214.8h0M518.4 223.0h0M502.8 222.1h0M508.9 213.0h0M510.7 215.4h0M509.6 217.5h0M505.8 210.7h0M514.7 220.7h0M518.9 222.1h0M505.1 211.9h0M518.1 219.2h0M510.3 222.6h0M504.9 218.1h0M504.0 212.4h0M507.0 224.5h0M503.7 209.5h0M503.7 210.0h0M513.2 217.8h0M516.1 222.1h0M507.2 226.4h0M511.2 222.4h0M509.6 216.4h0M505.6 219.0h0M524.6 216.8h0M518.1 217.3h0M512.6 221.7h0M505.3 217.2h0M506.7 224.4h0M507.6 213.5h0M515.8 215.4h0M517.8 217.5h0M506.4 220.8h0M505.9 210.6h0M523.2 217.3h0M513.6 223.1h0M514.1 223.3h0M521.3 221.5h0M505.2 217.4h0M506.9 219.7h0M513.6 213.8h0M504.5 210.5h0M512.3 211.9h0M512.4 226.7h0M521.9 223.1h0M517.5 213.5h0M525.3 218.7h0M508.2 224.6h0M505.1 209.7h0M503.8 208.9h0M512.8 222.8h0M508.2 217.6h0M505.4 219.5h0M516.6 215.9h0M510.2 224.9h0M508.3 219.3h0M512.8 226.3h0M516.7 221.6h0M509.9 211.5h0M510.1 212.6h0M507.7 225.8h0M516.4 222.3h0M517.2 216.5h0M506.7 210.8h0M518.0 219.2h0M509.0 212.3h0M511.8 215.4h0M510.6 220.8h0M517.3 224.2h0M505.9 215.0h0M510.4 223.0h0M507.9 227.4h0M511.8 219.7h0M516.6 215.2h0M508.0 218.0h0M506.6 210.9h0M509.3 218.5h0M507.3 220.6h0M511.6 217.6h0M508.8 217.8h0M505.7 213.4h0M507.6 216.6h0M506.4 224.3h0M519.3 215.6h0M525.1 216.3h0M505.0 226.5h0M505.2 219.2h0M506.2 227.2h0M515.0 223.7h0M505.7 215.6h0M507.2 217.1h0M503.2 225.2h0M510.7 216.5h0M520.5 224.3h0M512.5 216.3h0M508.5 222.8h0M505.7 222.2h0M522.6 221.4h0M513.5 223.4h0M515.9 220.4h0M509.7 218.3h0M513.8 223.1h0M504.7 210.4h0M518.7 219.6h0M503.5 223.2h0M520.2 223.8h0M516.6 224.5h0M508.6 213.4h0M503.5 217.1h0M516.6 214.1h0M507.1 210.7h0M521.3 223.4h0M509.0 215.0h0M504.6 224.7h0M518.6 223.6h0M504.8 218.6h0M512.0 214.3h0M514.5 214.9h0M508.6 217.7h0M523.9 220.1h0M507.5 216.9h0M511.4 219.8h0M522.1 216.5h0M514.8 221.5h0M507.8 216.4h0M523.6 222.8h0M510.9 216.7h0M509.1 224.9h0M512.2 213.1h0M514.2 220.9h0M522.2 215.3h0M517.4 216.3h0M517.6 223.9h0M518.0 214.8h0M506.2 215.9h0M510.5 221.2h0M524.6 219.3h0M507.1 211.3h0M513.2 222.7h0M513.0 225.8h0M504.5 214.0h0M507.2 218.8h0M518.7 219.1h0M505.9 214.5h0M522.7 218.9h0M505.8 215.0h0M507.3 213.2h0M509.3 221.1h0M509.7 224.2h0M504.5 211.3h0M514.8 219.0h0M509.7 225.8h0M514.4 221.0h0M518.3 224.8h0M522.6 217.6h0M516.7 221.9h0M505.8 225.2h0M524.5 217.2h0M510.3 221.4h0M507.9 214.1h0M506.5 217.1h0M506.1 220.4h0M508.9 217.5h0M515.7 223.1h0M509.1 211.5h0M507.7 224.4h0M504.4 210.9h0M522.6 216.2h0M503.4 217.3h0M508.7 224.3h0M525.2 223.5h0M505.9 216.5h0M502.4 212.5h0M517.7 224.8h0M522.5 215.3h0M509.8 212.7h0M504.7 217.5h0M508.3 219.2h0M514.4 215.2h0M515.6 225.2h0M526.2 219.4h0M513.8 214.7h0M508.6 211.7h0M515.7 226.3h0M503.4 210.5h0M503.5 221.2h0M514.9 225.5h0M522.0 219.3h0M504.6 213.5h0M515.7 216.5h0M505.6 216.5h0M512.8 214.2h0M516.6 224.6h0M506.1 211.4h0M509.9 221.5h0M527.0 218.4h0M508.0 226.3h0M509.3 225.0h0M515.9 223.7h0M504.9 215.9h0M507.1 222.3h0M506.4 217.7h0M515.8 220.4h0M508.4 223.7h0M523.1 216.8h0M503.9 211.3h0M508.8 216.5h0M504.8 209.9h0M510.5 215.2h0M512.7 219.0h0M513.2 215.0h0M517.2 219.4h0M510.3 220.1h0M502.7 205.5h0M512.5 222.9h0M510.4 212.5h0M507.9 224.1h0M512.0 217.5h0M503.5 211.5h0M517.5 218.0h0M506.7 219.3h0M513.3 222.5h0M504.9 210.7h0M503.1 215.5h0M509.8 224.5h0M507.6 210.5h0M522.0 224.9h0M522.7 220.6h0M505.6 211.3h0M509.4 217.9h0M521.1 224.3h0M515.8 215.4h0M511.0 222.3h0M513.3 225.1h0M507.2 211.5h0M515.7 215.0h0M507.3 227.0h0M521.1 215.7h0M509.1 225.2h0M508.7 221.4h0M505.7 218.5h0M503.7 214.8h0M510.4 219.5h0M505.0 220.9h0M515.1 221.9h0M512.3 222.8h0M520.4 223.6h0M507.6 214.4h0M520.6 218.4h0M507.7 221.7h0M515.3 222.8h0M514.8 214.9h0M511.5 226.2h0M513.0 219.2h0M523.2 222.5h0M513.4 222.6h0M504.2 212.3h0M508.1 216.2h0M504.8 209.8h0M506.1 223.6h0M512.2 214.8h0M503.7 221.4h0M504.6 214.6h0M505.1 221.0h0M511.9 216.4h0M505.9 223.5h0M509.0 217.4h0M523.1 214.2h0M516.0 223.0h0M509.8 217.0h0M515.7 220.9h0M516.9 222.8h0M522.2 221.3h0M508.6 224.0h0M507.7 223.4h0M521.4 221.2h0M520.1 215.0h0M509.0 222.9h0M514.1 219.4h0M511.6 214.8h0M506.8 217.4h0M514.1 212.5h0M515.8 217.2h0M508.7 214.3h0M503.8 208.2h0M505.2 227.6h0M506.9 218.2h0M512.5 215.6h0M510.0 215.0h0M515.0 222.2h0M520.3 224.1h0M520.3 221.8h0M528.9 218.3h0M515.4 221.9h0M509.6 212.6h0M511.9 218.3h0M515.4 223.4h0M503.4 213.0h0M512.9 219.9h0M512.9 216.3h0M509.4 218.8h0M507.1 226.6h0M509.5 216.8h0M507.0 225.0h0M521.3 222.8h0M508.1 223.0h0M514.5 222.4h0M520.0 219.7h0M503.0 209.7h0M504.9 223.9h0M511.3 226.0h0M505.6 209.7h0M514.0 219.2h0M516.1 213.1h0M518.6 213.9h0M517.0 225.5h0M515.4 224.5h0M511.9 213.3h0M514.0 219.9h0M507.3 213.9h0M505.0 220.2h0M513.4 212.7h0M509.1 211.5h0M511.7 222.6h0M516.4 221.2h0M511.7 224.2h0M514.9 221.4h0M519.5 223.5h0M516.3 223.4h0M509.8 212.6h0M501.5 216.9h0M504.9 212.0h0M506.8 223.4h0M512.6 212.9h0M512.4 215.7h0M528.6 220.0h0M509.9 223.8h0M504.2 227.1h0M513.7 219.3h0M509.0 218.0h0M524.8 220.3h0M511.5 214.0h0M531.1 218.6h0M506.8 216.6h0M508.8 211.2h0M503.3 216.8h0M509.5 218.7h0M516.4 221.7h0M513.1 220.2h0M514.4 220.8h0M515.8 220.8h0M503.6 218.1h0M503.2 213.7h0M502.7 225.2h0M503.3 212.9h0M504.1 226.4h0M513.6 223.0h0M509.5 211.9h0M503.1 217.2h0M508.4 219.5h0M512.8 217.1h0M515.6 216.2h0M507.2 216.4h0M505.8 217.3h0M511.8 222.5h0M515.3 217.6h0M512.2 223.4h0M508.0 226.1h0M503.7 206.6h0M509.2 217.6h0M512.1 226.4h0M505.4 216.9h0M521.9 215.1h0M507.9 211.3h0M521.4 216.1h0M510.7 212.2h0M528.3 217.6h0M504.5 212.2h0M504.8 213.9h0M506.3 215.9h0M510.9 218.5h0M512.6 217.2h0M516.7 213.7h0M506.2 219.6h0M510.3 219.8h0M506.0 210.4h0M510.1 220.3h0M508.1 222.5h0M510.2 224.7h0M524.2 222.0h0M507.6 220.4h0M503.4 223.5h0M520.7 218.4h0M514.5 225.9h0M518.0 217.3h0M514.7 214.1h0M510.6 225.9h0M510.8 223.9h0M524.2 215.0h0M514.6 225.3h0M503.8 223.9h0M514.5 223.6h0M504.5 220.5h0M519.4 214.2h0M516.9 217.6h0M512.9 218.6h0M507.1 214.4h0M505.5 218.4h0M516.9 224.0h0M508.4 224.2h0M512.6 225.1h0M521.7 220.2h0M509.3 215.3h0M505.5 223.8h0M504.5 210.2h0M506.3 216.9h0M518.1 225.2h0M502.0 221.4h0M525.6 219.9h0M514.9 219.0h0M511.5 217.5h0M508.6 217.3h0M505.7 220.0h0M506.0 209.2h0M510.6 227.4h0M510.4 219.6h0M511.4 215.1h0M507.1 222.6h0M513.6 212.5h0M503.5 209.1h0M502.0 206.9h0M517.3 216.7h0M507.7 222.6h0M505.7 222.3h0M508.3 222.7h0M503.5 221.4h0M516.7 216.7h0M518.9 221.0h0M508.5 219.9h0M508.4 223.8h0M508.4 220.1h0M507.5 217.9h0M519.5 221.6h0M516.8 215.3h0M503.3 213.6h0M509.2 221.9h0M506.3 220.6h0M503.0 217.7h0M508.5 223.2h0M512.8 220.8h0M516.4 216.5h0M524.9 221.5h0M515.2 214.4h0M506.6 225.2h0M510.0 223.4h0M516.6 220.0h0M510.1 215.9h0M511.9 217.1h0M506.9 215.6h0M503.1 207.7h0M517.0 223.7h0M515.8 225.7h0M511.7 215.3h0M504.3 211.8h0M518.5 215.5h0M506.0 209.9h0M505.2 225.8h0M507.5 225.8h0M504.5 225.0h0M510.9 218.5h0M503.6 205.4h0M505.5 223.3h0M507.9 211.2h0M504.5 219.5h0M509.3 222.7h0M513.1 223.9h0M502.7 226.0h0M515.8 225.9h0M523.7 216.4h0M506.8 222.7h0M520.2 217.7h0M504.4 211.1h0M512.4 223.1h0M504.2 223.7h0M507.4 214.0h0M509.4 224.6h0M528.0 218.4h0M506.7 217.2h0M507.3 228.2h0M502.7 224.1h0M516.7 217.1h0M516.3 224.7h0M510.4 221.5h0M504.6 209.3h0M512.0 222.4h0M516.9 215.3h0M511.8 224.0h0M509.1 222.8h0M516.0 217.4h0M511.3 218.0h0M510.5 225.1h0M512.8 223.2h0M522.6 220.0h0M521.7 215.7h0M506.7 221.7h0M517.8 219.5h0M506.2 220.1h0M524.0 217.7h0M503.7 220.1h0M515.8 217.6h0M505.7 225.5h0M526.0 220.7h0M517.2 218.3h0M520.3 217.9h0M507.7 226.8h0M519.7 215.7h0M512.0 213.3h0M517.9 217.8h0M526.9 219.2h0M504.6 216.9h0M519.3 220.8h0M518.9 221.7h0M503.8 220.9h0M502.4 222.3h0M505.3 226.8h0M504.8 223.2h0M506.5 215.4h0M508.3 225.7h0M513.2 219.5h0M504.4 225.3h0M503.6 224.8h0M507.7 225.3h0M503.0 209.4h0M507.9 222.8h0M507.2 225.4h0M511.3 219.5h0M510.7 215.2h0M517.6 217.4h0M512.3 224.4h0M516.1 223.5h0M508.2 220.8h0M514.6 220.5h0M503.8 225.7h0M503.6 219.3h0M505.7 213.7h0M511.0 217.4h0M509.8 216.4h0M517.3 218.7h0M512.3 216.6h0M503.1 225.6h0M514.0 214.1h0M503.8 207.6h0M510.3 213.5h0M504.5 212.7h0M512.9 219.4h0M513.4 222.2h0M516.1 221.6h0M508.3 219.8h0M512.3 223.2h0M514.0 216.9h0M518.7 221.6h0M509.6 222.0h0M511.5 221.1h0M506.4 221.0h0M503.9 218.7h0M508.9 215.8h0M517.4 221.0h0M507.6 217.9h0M504.7 212.3h0M505.2 209.9h0M508.4 221.4h0M504.1 219.2h0M516.6 216.8h0M513.4 221.1h0M512.4 222.6h0M515.2 220.5h0M507.1 221.5h0M505.9 211.5h0M504.7 217.5h0M509.9 216.2h0M506.4 215.6h0M512.8 221.2h0M508.3 223.1h0M506.0 212.0h0M520.7 218.5h0M513.1 220.5h0M505.3 217.8h0M506.1 224.4h0M512.0 219.6h0M503.3 214.7h0M503.6 222.6h0M513.9 218.7h0M508.7 224.8h0M506.1 224.1h0M519.5 218.3h0M514.5 220.5h0M507.6 219.2h0M519.4 218.6h0M512.4 213.5h0M510.4 218.5h0M511.3 216.4h0M504.3 211.0h0M506.2 220.3h0M511.5 214.2h0M511.0 221.2h0M512.9 218.0h0M511.7 225.4h0M503.5 211.2h0M512.1 225.4h0M518.9 217.6h0M516.4 219.1h0M504.8 213.9h0M511.7 215.3h0M515.1 223.8h0M516.5 219.4h0M518.7 220.9h0M518.7 221.3h0M507.1 212.6h0M511.7 216.9h0M503.8 216.4h0M507.4 213.0h0M505.6 215.6h0M523.0 220.2h0M510.9 214.0h0M506.8 221.1h0M503.3 214.8h0M510.6 223.0h0M516.7 217.2h0M507.5 211.3h0M507.6 213.6h0M506.1 216.3h0M509.2 217.6h0M513.3 223.3h0M513.0 224.8h0M522.2 218.2h0M514.2 215.3h0M520.0 219.8h0M509.4 222.2h0M513.6 214.8h0M504.6 212.9h0M506.3 216.8h0M503.9 218.4h0M504.3 225.8h0M514.9 217.2h0M521.5 219.6h0M517.6 221.6h0M503.5 222.0h0M511.5 214.8h0M504.6 216.1h0M516.4 223.6h0M514.6 222.6h0M510.0 222.9h0M508.4 220.7h0M506.1 216.2h0M515.7 219.5h0M504.9 215.0h0M504.2 211.0h0M502.9 208.7h0M510.5 218.9h0M508.0 223.4h0M515.5 216.1h0M522.6 218.4h0M511.2 218.2h0M507.2 218.3h0M508.0 225.0h0M508.2 212.0h0M515.5 221.2h0M510.2 222.3h0M503.9 221.9h0M516.2 222.8h0M506.9 212.6h0M514.9 218.5h0M503.8 222.3h0M509.9 219.9h0M504.8 212.1h0M514.5 224.5h0M519.0 216.2h0M508.8 217.0h0M514.3 221.0h0M518.7 217.9h0M517.8 219.7h0M510.9 215.3h0M521.6 219.3h0M518.8 219.4h0M514.2 218.4h0M520.8 222.9h0M508.9 219.6h0M509.8 214.2h0M504.1 222.3h0M509.9 221.6h0M505.9 219.2h0M515.9 223.6h0M503.5 207.9h0M504.8 216.4h0M516.4 218.7h0M523.7 218.4h0M512.6 217.5h0M504.3 216.5h0M508.7 223.6h0M512.8 223.9h0M505.6 220.9h0M521.0 219.5h0M503.8 210.0h0M508.1 220.1h0M504.3 225.5h0M518.5 221.5h0M503.8 225.0h0M506.4 224.2h0M507.8 218.8h0M507.0 214.8h0M507.8 225.8h0M520.8 216.5h0M510.2 216.6h0M518.2 220.1h0M506.1 212.2h0M506.3 215.6h0M506.0 216.1h0M507.7 213.9h0M504.5 222.1h0M506.6 222.6h0M510.9 223.0h0M517.6 219.1h0M510.3 225.7h0M517.2 217.3h0M515.0 218.2h0M505.9 224.7h0M508.8 218.1h0M510.8 214.3h0M519.5 219.1h0M503.7 225.5h0M503.7 209.1h0M507.5 223.4h0M513.2 218.1h0M519.8 217.0h0M503.2 208.8h0M505.5 217.1h0M511.4 214.0h0M518.3 220.2h0M504.6 209.8h0M515.7 216.8h0M503.4 221.4h0M506.2 225.3h0M511.0 219.9h0M513.6 222.9h0M509.0 219.9h0M508.6 215.8h0M507.1 215.2h0M515.2 221.3h0M516.1 215.6h0M509.4 221.1h0M521.2 217.0h0M519.6 216.7h0M505.3 221.1h0M510.0 218.8h0M512.6 220.6h0M517.6 219.6h0M506.1 211.0h0M506.7 216.7h0M515.3 219.8h0M511.6 221.2h0M515.1 217.2h0M504.3 218.0h0M513.5 222.7h0M507.2 222.8h0M505.9 217.1h0M510.9 218.3h0M516.7 218.4h0M513.5 221.4h0M511.9 221.0h0M504.1 225.6h0M520.8 221.1h0M507.3 211.9h0M506.2 219.0h0M503.6 214.6h0M503.3 218.7h0M508.2 214.2h0M503.5 221.5h0M513.2 222.8h0M508.3 213.1h0M507.7 218.2h0M503.9 214.1h0M518.9 217.6h0M510.6 218.6h0M504.0 222.7h0M513.7 220.7h0M505.9 219.2h0M515.5 217.9h0M518.3 220.7h0M523.8 220.3h0M503.7 213.1h0M508.7 221.5h0M504.3 216.2h0M522.2 218.2h0M505.1 216.5h0M521.7 217.0h0M508.9 219.3h0M507.2 217.4h0M505.1 209.8h0M505.5 217.9h0M506.8 219.9h0M516.9 220.8h0M504.1 216.1h0M505.4 224.6h0M518.7 221.3h0M506.5 221.3h0M515.9 221.0h0M506.6 219.5h0M507.2 213.0h0M515.3 219.4h0M503.1 219.3h0M514.2 216.4h0M508.8 218.4h0M519.7 215.6h0M506.0 224.8h0M508.5 222.1h0M518.0 222.7h0M505.5 220.0h0M510.5 215.9h0M503.8 216.8h0M508.1 218.6h0M511.2 217.9h0M519.6 220.2h0M507.6 217.3h0M507.8 221.5h0M513.3 218.3h0M508.2 218.0h0M515.3 215.9h0M514.9 223.6h0M515.9 219.9h0M516.7 221.7h0M501.9 223.8h0M508.8 217.4h0M510.5 222.7h0M510.9 221.6h0M511.0 216.7h0M516.3 222.7h0M505.2 215.0h0M503.5 209.2h0M506.2 215.8h0M513.1 218.5h0M504.1 208.7h0M510.6 216.8h0M506.9 225.6h0M504.4 224.0h0M513.2 221.0h0M511.4 216.5h0M508.6 224.0h0M511.1 222.5h0M507.7 216.1h0M504.0 212.2h0M508.3 224.2h0M521.4 220.5h0M504.4 225.1h0M504.2 224.4h0M516.6 217.6h0M511.1 218.6h0M512.8 223.1h0M514.1 218.5h0M520.9 216.6h0M518.0 221.7h0M511.2 219.5h0M517.7 217.7h0M509.8 218.5h0M516.2 219.2h0M507.2 215.9h0M515.7 217.0h0M504.0 217.7h0M520.6 223.0h0M520.8 218.3h0M505.1 210.5h0M504.1 220.5h0M513.5 223.8h0M503.3 225.0h0M504.3 210.4h0M507.1 215.2h0M510.2 214.7h0M512.8 217.3h0M513.4 215.5h0M504.1 223.0h0M508.7 223.8h0M504.9 221.0h0M503.6 211.5h0M505.6 223.7h0M504.0 225.0h0M507.6 221.3h0M515.1 215.2h0M511.9 218.7h0M503.5 210.6h0M514.7 220.3h0M507.3 214.8h0M516.0 217.1h0M507.8 213.3h0M521.3 219.9h0M506.6 202.9h0M514.6 207.3h0M517.3 207.3h0M510.7 209.3h0M525.4 210.5h0M537.9 212.3h0M538.8 215.0h0M536.1 217.1h0M532.5 218.6h0M528.9 215.9h0M530.4 221.8h0M525.4 223.0h0M516.0 208.6h0M519.5 209.4h0M513.0 208.2h0M521.6 211.2h0M534.4 219.4h0M527.3 222.6h0M531.7 215.3h0M523.4 212.3h0M519.0 211.6h0M483.5 252.3h0M501.3 244.8h0M487.8 258.7h0M494.0 246.2h0M499.3 232.3h0M498.4 242.7h0M498.7 241.8h0M491.9 253.1h0M496.8 240.4h0M493.6 254.0h0M497.4 243.2h0M480.5 236.6h0M488.0 261.9h0M493.2 249.2h0M493.7 248.3h0M489.7 235.7h0M488.4 253.1h0M495.5 259.9h0M485.3 235.1h0M481.7 247.8h0M495.3 239.1h0M497.0 236.7h0M491.6 248.7h0M490.6 252.4h0M486.2 243.9h0M499.1 261.7h0M489.2 237.6h0M479.8 243.2h0M497.1 238.3h0M481.3 237.6h0M494.6 250.9h0M488.7 254.0h0M484.1 247.3h0M495.6 243.8h0M495.7 263.0h0M492.6 252.8h0M490.7 256.5h0M497.9 231.1h0M493.4 243.9h0M497.2 235.9h0M491.8 236.0h0M482.6 243.0h0M492.5 236.3h0M496.5 253.3h0M488.4 243.9h0M485.3 248.6h0M486.9 245.5h0M496.8 230.9h0M493.5 247.9h0M498.3 243.3h0M485.1 241.8h0M495.7 236.6h0M486.3 235.4h0M492.4 241.9h0M494.4 262.3h0M496.7 250.7h0M492.8 255.5h0M494.2 248.6h0M483.2 238.8h0M482.6 258.4h0M481.2 250.4h0M499.3 256.1h0M494.5 262.8h0M493.6 259.6h0M497.7 250.1h0M496.0 233.9h0M490.5 252.0h0M489.9 238.9h0M488.9 252.2h0M490.2 240.7h0M496.7 256.1h0M489.8 238.1h0M491.4 247.7h0M494.2 260.4h0M496.9 232.5h0M495.0 245.2h0M486.2 247.5h0M487.6 251.0h0M493.1 253.1h0M493.8 251.9h0M488.0 243.9h0M500.4 234.3h0M478.4 246.4h0M500.2 230.0h0M482.4 247.4h0M495.6 259.5h0M492.8 241.3h0M487.9 235.9h0M491.8 254.7h0M497.3 255.8h0M495.0 253.9h0M491.9 236.3h0M483.3 256.7h0M482.2 238.2h0M497.9 250.4h0M487.3 249.2h0M489.7 236.9h0M498.5 263.2h0M493.5 262.6h0M488.7 253.8h0M482.8 249.4h0M497.1 262.8h0M499.1 235.6h0M496.1 229.7h0M487.1 244.7h0M494.3 245.1h0M489.7 259.1h0M485.9 246.8h0M492.2 253.5h0M483.4 250.4h0M488.3 240.6h0M498.7 231.5h0M497.6 252.3h0M486.6 244.2h0M487.5 244.6h0M491.7 234.9h0M491.2 238.0h0M495.8 248.3h0M481.6 243.3h0M497.7 255.4h0M489.2 257.8h0M495.0 245.1h0M496.1 235.3h0M493.4 234.1h0M491.4 250.8h0M498.6 242.3h0M484.6 241.3h0M497.3 256.0h0M497.8 236.3h0M492.1 242.3h0M496.2 239.8h0M484.8 250.8h0M497.5 249.9h0M488.3 235.5h0M497.5 242.6h0M497.7 246.6h0M497.5 253.3h0M494.1 241.2h0M490.4 242.5h0M489.6 259.3h0M495.8 249.8h0M499.1 259.0h0M485.9 237.7h0M498.4 264.4h0M496.9 247.7h0M491.4 235.1h0M490.2 254.3h0M490.5 254.2h0M484.0 243.0h0M498.5 244.4h0M484.5 243.9h0M492.7 255.3h0M482.6 237.8h0M489.0 247.0h0M485.8 255.7h0M493.5 234.3h0M498.0 260.6h0M489.8 248.1h0M491.0 247.1h0M488.1 246.3h0M496.0 262.2h0M497.1 238.4h0M491.3 254.8h0M493.1 241.1h0M490.2 243.7h0M493.4 238.8h0M498.7 244.9h0M487.1 260.7h0M491.7 256.7h0M498.4 253.9h0M491.5 244.3h0M494.1 254.0h0M498.9 245.9h0M496.2 253.5h0M497.1 241.5h0M497.0 253.3h0M494.2 246.6h0M496.9 243.3h0M495.9 256.9h0M496.8 239.3h0M488.6 255.1h0M493.4 237.1h0M490.1 246.0h0M486.4 245.1h0M495.1 234.4h0M485.8 251.6h0M487.7 258.1h0M497.4 232.7h0M493.5 234.4h0M496.5 250.2h0M495.2 235.3h0M498.0 248.1h0M496.3 239.4h0M497.8 248.1h0M497.8 244.0h0M488.1 248.8h0M488.5 252.2h0M496.6 237.7h0M491.3 240.3h0M492.1 257.4h0M491.8 255.0h0M496.1 231.6h0M484.5 254.1h0M489.6 244.9h0M485.8 243.4h0M484.6 235.6h0M485.9 233.8h0M483.6 248.1h0M493.8 237.4h0M482.3 242.6h0M484.3 252.1h0M492.0 257.9h0M497.0 234.3h0M495.5 239.7h0M490.4 260.3h0M493.9 243.6h0M492.8 236.2h0M495.9 242.7h0M486.5 239.0h0M494.1 262.7h0M492.6 250.7h0M495.3 244.3h0M498.0 259.6h0M496.8 259.5h0M498.0 238.4h0M494.7 257.1h0M485.5 253.3h0M491.5 246.0h0M499.1 250.4h0M482.4 245.3h0M496.6 236.7h0M483.5 246.8h0M495.6 232.7h0M495.2 262.6h0M488.3 237.8h0M487.8 247.7h0M490.4 246.3h0M485.5 258.1h0M493.9 258.6h0M494.9 240.6h0M484.0 259.2h0M497.9 230.3h0M497.3 263.1h0M481.8 236.9h0M497.2 259.0h0M489.7 243.2h0M491.1 237.7h0M488.0 238.7h0M493.3 248.4h0M492.0 256.3h0M494.2 262.8h0M498.9 260.0h0M481.9 253.5h0M491.9 242.5h0M488.3 250.6h0M496.2 251.0h0M492.0 252.9h0M496.2 229.9h0M489.1 243.6h0M496.7 255.7h0M494.6 241.0h0M494.2 230.3h0M489.3 241.6h0M489.5 245.8h0M497.7 255.1h0M496.6 232.2h0M486.1 248.9h0M489.5 248.8h0M490.2 247.2h0M498.5 253.9h0M496.0 260.3h0M491.3 237.3h0M492.6 249.1h0M497.3 261.3h0M486.3 259.4h0M498.3 258.5h0M489.5 253.3h0M497.0 238.5h0M490.4 257.2h0M494.2 252.0h0M483.2 235.5h0M490.7 255.7h0M486.2 247.7h0M495.5 251.9h0M496.6 245.7h0M487.0 247.6h0M492.6 251.6h0M493.8 263.2h0M494.5 259.8h0M485.5 245.0h0M483.3 243.3h0M497.5 229.4h0M495.9 236.2h0M488.8 245.6h0M498.6 241.6h0M497.3 258.5h0M487.5 240.5h0M484.8 258.2h0M487.0 241.3h0M496.0 260.9h0M487.0 234.1h0M488.3 236.4h0M494.7 255.1h0M493.3 250.7h0M494.7 249.6h0M490.3 247.7h0M495.1 237.5h0M483.3 257.1h0M491.7 248.2h0M493.9 257.6h0M495.2 243.7h0M496.0 248.8h0M497.6 235.0h0M488.3 256.0h0M488.1 234.5h0M483.6 241.3h0M487.8 256.6h0M487.1 249.8h0M493.3 240.6h0M491.9 245.8h0M495.8 242.2h0M487.7 254.7h0M499.1 257.5h0M496.9 239.0h0M498.1 258.5h0M488.6 260.4h0M492.6 257.3h0M486.0 235.8h0M491.4 240.3h0M496.6 232.0h0M494.7 234.6h0M493.0 256.2h0M498.3 260.5h0M491.2 249.9h0M490.0 236.8h0M499.0 264.4h0M494.6 233.9h0M495.6 246.9h0M491.4 254.8h0M494.5 238.4h0M490.9 233.0h0M488.7 246.8h0M498.7 235.9h0M478.9 242.1h0M487.1 249.7h0M494.4 239.6h0M489.4 254.8h0M488.4 234.8h0M492.9 259.7h0M496.3 240.2h0M497.5 265.1h0M497.1 256.1h0M496.1 239.3h0M493.3 234.2h0M495.9 258.7h0M487.9 234.9h0M491.7 245.7h0M499.1 240.6h0M493.0 244.5h0M493.9 261.8h0M488.4 252.4h0M484.8 243.6h0M493.7 251.4h0M492.9 243.8h0M495.8 255.0h0M491.4 242.8h0M491.1 233.6h0M496.1 251.6h0M497.1 259.3h0M498.0 229.1h0M493.7 257.2h0M493.7 252.6h0M491.7 241.2h0M488.6 241.7h0M492.3 238.5h0M489.7 242.7h0M489.3 233.7h0M480.1 246.4h0M486.1 257.7h0M491.5 241.0h0M493.7 259.7h0M494.2 242.5h0M498.1 230.2h0M494.4 251.3h0M498.6 248.3h0M494.7 253.1h0M480.2 249.6h0M482.2 247.9h0M490.7 253.4h0M485.7 238.2h0M488.8 256.1h0M495.8 250.5h0M481.3 239.4h0M496.6 235.5h0M489.2 260.1h0M495.8 247.7h0M493.2 243.6h0M491.4 240.3h0M493.3 263.1h0M495.7 250.6h0M495.4 256.1h0M498.7 258.1h0M494.7 249.9h0M487.7 251.0h0M491.9 237.6h0M491.2 242.1h0M496.4 249.1h0M494.6 258.4h0M492.0 238.7h0M495.6 242.9h0M490.4 247.0h0M497.5 254.5h0M498.9 260.3h0M495.0 235.5h0M496.0 253.7h0M494.9 259.5h0M488.9 251.5h0M496.5 241.9h0M492.4 253.0h0M491.2 244.4h0M489.8 260.8h0M489.5 246.6h0M499.6 243.8h0M494.9 250.7h0M499.8 233.1h0M499.2 252.5h0M492.3 251.4h0M493.2 241.7h0M488.7 236.2h0M497.0 244.2h0M479.1 243.8h0M498.5 231.8h0M486.1 238.0h0M496.8 245.9h0M494.7 255.0h0M488.4 236.8h0M489.1 245.8h0M498.8 263.7h0M496.3 232.4h0M484.6 246.5h0M489.9 262.9h0M493.2 236.9h0M498.5 243.1h0M489.8 256.4h0M499.9 234.2h0M490.3 241.7h0M494.5 231.6h0M499.6 230.4h0M487.6 249.7h0M487.2 252.8h0M493.9 247.2h0M497.1 256.7h0M490.0 244.0h0M488.0 244.1h0M494.2 256.3h0M495.6 240.8h0M490.9 245.2h0M486.8 236.7h0M491.9 260.2h0M491.4 235.3h0M495.3 257.0h0M481.6 238.6h0M495.5 233.1h0M498.0 266.4h0M486.7 237.4h0M491.3 235.5h0M494.4 248.0h0M487.7 247.8h0M492.4 259.3h0M494.2 255.0h0M476.5 241.5h0M492.0 252.5h0M489.9 254.8h0M486.6 237.6h0M492.2 255.3h0M496.8 238.5h0M494.1 247.6h0M490.6 257.2h0M496.1 243.0h0M484.0 255.7h0M496.5 244.6h0M483.3 247.9h0M497.1 259.9h0M499.1 244.7h0M489.8 239.7h0M490.6 260.7h0M490.2 236.1h0M492.3 259.0h0M487.1 242.5h0M484.8 245.1h0M486.5 246.4h0M482.5 235.0h0M496.3 236.6h0M491.7 250.7h0M494.9 241.9h0M497.9 234.7h0M499.1 251.9h0M490.5 251.4h0M494.5 246.8h0M496.2 234.0h0M496.7 249.1h0M495.1 255.0h0M499.2 237.4h0M497.4 233.0h0M488.8 259.4h0M497.6 259.0h0M497.0 253.8h0M498.6 238.1h0M494.9 245.2h0M490.3 255.6h0M492.2 255.6h0M490.7 247.1h0M493.7 242.2h0M493.6 262.7h0M489.8 254.9h0M488.3 245.7h0M489.6 251.5h0M480.7 249.2h0M496.5 243.7h0M483.7 242.9h0M497.5 248.2h0M489.8 233.0h0M495.3 249.4h0M491.8 243.0h0M487.6 255.8h0M485.3 239.9h0M494.1 240.8h0M485.6 237.6h0M490.4 262.1h0M489.7 239.6h0M494.0 233.3h0M488.2 245.5h0M496.5 263.0h0M487.4 253.8h0M489.2 256.3h0M493.7 232.2h0M487.5 241.0h0M498.1 231.1h0M493.8 232.5h0M498.5 231.1h0M498.5 240.9h0M494.5 235.7h0M491.3 233.2h0M489.4 232.7h0M497.1 235.5h0M494.0 256.9h0M493.5 250.5h0M494.1 243.5h0M484.8 236.8h0M492.6 236.1h0M498.8 258.6h0M496.8 236.7h0M488.7 251.9h0M491.7 247.1h0M490.4 253.7h0M494.5 245.8h0M482.7 233.8h0M489.4 254.1h0M485.7 240.4h0M493.7 262.7h0M489.9 250.9h0M490.3 247.3h0M496.4 239.0h0M492.4 234.1h0M492.6 251.8h0M498.4 263.7h0M487.0 253.1h0M496.8 234.3h0M492.4 246.0h0M492.1 244.6h0M496.0 239.3h0M486.4 246.9h0M489.4 239.3h0M491.3 256.8h0M488.6 259.2h0M486.5 258.5h0M489.2 255.9h0M491.7 244.9h0M491.4 236.1h0M493.4 247.2h0M482.9 247.1h0M496.3 245.0h0M491.1 261.8h0M491.0 261.1h0M491.6 259.2h0M495.3 231.4h0M494.4 256.9h0M498.6 261.4h0M498.2 237.4h0M496.5 242.1h0M480.9 252.4h0M490.5 259.0h0M491.4 262.8h0M487.4 259.0h0M495.8 249.8h0M488.7 254.0h0M494.3 246.4h0M485.2 248.7h0M493.4 255.2h0M485.7 239.4h0M487.7 261.2h0M493.3 242.0h0M481.0 248.4h0M480.8 238.4h0M499.3 230.6h0M495.4 261.1h0M495.6 235.3h0M491.7 244.0h0M491.1 233.3h0M498.3 246.4h0M496.3 253.6h0M499.1 232.4h0M498.8 247.3h0M496.3 235.4h0M492.0 248.9h0M498.7 232.6h0M496.5 238.4h0M494.6 246.8h0M490.8 245.7h0M483.7 256.8h0M492.2 244.0h0M487.3 239.8h0M498.5 250.0h0M490.5 236.6h0M491.8 257.0h0M488.1 242.7h0M495.5 242.8h0M487.1 254.5h0M494.2 253.4h0M480.2 251.5h0M484.0 250.2h0M495.7 237.3h0M494.6 231.4h0M487.7 239.6h0M480.2 241.0h0M499.5 237.2h0M483.3 234.7h0M497.7 228.6h0M488.9 258.8h0M491.3 247.4h0M493.3 248.3h0M498.3 264.4h0M493.8 258.4h0M496.6 233.0h0M496.6 245.0h0M490.8 252.5h0M496.6 239.4h0M492.4 237.9h0M490.4 255.9h0M489.3 238.8h0M498.0 229.8h0M496.0 244.2h0M497.7 246.5h0M498.3 243.8h0M489.4 249.3h0M494.0 231.1h0M484.9 253.6h0M482.4 245.8h0M495.9 260.3h0M491.0 259.0h0M489.9 259.6h0M494.4 229.1h0M485.3 254.2h0M485.0 251.0h0M491.4 236.8h0M496.1 259.8h0M488.5 257.7h0M497.0 238.0h0M498.7 253.2h0M494.5 234.6h0M486.4 239.5h0M488.9 259.1h0M485.7 256.7h0M479.9 241.6h0M496.0 253.9h0M485.0 257.6h0M494.3 239.8h0M482.6 249.0h0M495.4 241.3h0M493.2 247.9h0M489.5 237.9h0M491.8 235.2h0M489.0 242.7h0M489.9 247.6h0M498.3 252.2h0M490.6 251.5h0M487.0 254.9h0M488.0 256.9h0M483.6 258.0h0M494.1 236.8h0M495.7 255.7h0M494.9 229.4h0M499.4 259.5h0M495.2 244.6h0M497.9 232.4h0M494.2 251.5h0M496.4 245.8h0M494.2 241.1h0M489.8 247.8h0M490.1 252.8h0M494.9 235.3h0M484.4 258.8h0M491.7 234.8h0M497.4 232.4h0M497.5 257.8h0M482.7 238.7h0M496.0 263.5h0M489.7 240.3h0M492.6 236.0h0M495.8 236.0h0M497.4 242.6h0M497.4 259.4h0M496.3 251.9h0M495.0 246.2h0M495.7 259.4h0M492.0 258.1h0M486.7 259.7h0M491.4 245.4h0M488.0 246.6h0M488.3 252.4h0M487.0 252.0h0M491.1 242.8h0M485.1 235.6h0M491.3 259.0h0M498.4 254.1h0M492.3 261.9h0M494.3 241.7h0M492.7 246.1h0M489.4 239.6h0M487.0 236.9h0M482.5 235.1h0M498.1 254.6h0M496.8 252.8h0M494.0 235.2h0M497.0 238.5h0M495.8 254.0h0M493.3 236.1h0M490.4 240.2h0M489.6 259.5h0M496.4 238.2h0M498.2 257.1h0M499.9 246.9h0M489.8 249.7h0M487.3 240.9h0M499.5 260.1h0M498.4 250.3h0M490.4 246.4h0M481.4 242.8h0M490.2 250.5h0M496.2 242.5h0M489.9 257.0h0M492.4 235.3h0M499.9 259.2h0M492.6 255.4h0M478.1 246.5h0M492.7 254.2h0M485.9 257.2h0M488.0 241.8h0M492.5 241.0h0M490.5 250.2h0M486.9 245.3h0M484.1 252.6h0M493.0 251.0h0M488.8 257.5h0M494.9 240.1h0M498.9 255.6h0M486.9 254.4h0M488.1 257.8h0M481.3 243.5h0M490.2 259.7h0M484.2 241.3h0M495.9 236.6h0M492.2 256.4h0M491.6 257.1h0M498.6 257.2h0M493.3 249.3h0M489.6 260.7h0M492.6 230.8h0M490.8 248.9h0M490.1 233.5h0M489.2 260.6h0M483.5 243.8h0M498.8 244.2h0M490.1 245.3h0M496.6 231.5h0M489.2 234.9h0M489.6 235.0h0M493.0 241.1h0M486.8 254.4h0M498.8 250.3h0M491.3 247.9h0M494.1 253.6h0M484.3 242.4h0M485.4 248.3h0M489.8 244.5h0M496.3 253.2h0M485.6 239.2h0M496.6 261.9h0M484.5 244.3h0M493.1 248.4h0M493.9 256.8h0M496.1 241.8h0M486.8 249.3h0M490.8 236.8h0M492.3 250.8h0M489.7 241.5h0M499.1 238.2h0M491.5 250.7h0M487.4 232.8h0M496.3 244.3h0M491.1 254.1h0M493.8 233.9h0M492.8 231.5h0M484.4 258.6h0M498.2 241.3h0M486.9 246.0h0M496.8 261.8h0M488.4 241.2h0M488.2 258.2h0M495.0 237.1h0M498.3 258.5h0M497.2 232.6h0M491.3 244.2h0M483.3 241.6h0M493.1 230.9h0M496.2 262.7h0M484.6 246.1h0M497.4 252.2h0M486.2 245.8h0M488.1 245.4h0M494.9 229.5h0M497.5 263.8h0M494.7 230.4h0M495.6 256.5h0M490.5 243.4h0M495.0 258.1h0M499.0 237.0h0M485.0 241.4h0M495.1 262.1h0M498.9 256.7h0M498.2 244.4h0M482.1 249.4h0M493.0 257.9h0M482.4 250.0h0M498.3 249.4h0M486.4 249.3h0M481.7 237.3h0M490.2 250.8h0M485.6 235.0h0M493.6 261.5h0M491.9 257.5h0M494.3 231.6h0M495.2 256.3h0M495.3 253.2h0M496.2 260.8h0M491.2 232.5h0M499.1 258.3h0M484.9 245.4h0M499.3 253.1h0M491.1 231.7h0M492.7 260.8h0M488.7 246.0h0M491.7 258.1h0M496.6 235.0h0M489.9 247.9h0M492.3 245.2h0M495.9 240.9h0M488.9 235.1h0M493.0 259.7h0M490.6 242.1h0M495.0 246.7h0M492.1 258.2h0M496.0 249.9h0M498.5 229.5h0M485.9 232.9h0M493.2 239.1h0M490.3 256.4h0M495.3 232.0h0M489.9 243.6h0M485.2 236.1h0M494.3 245.4h0M494.2 249.1h0M487.3 239.7h0M494.8 259.1h0M498.0 243.4h0M493.1 262.3h0M498.2 239.8h0M490.9 255.6h0M496.3 253.9h0M483.6 256.0h0M498.7 237.0h0M482.6 253.2h0M490.2 244.7h0M481.4 239.6h0M488.9 237.5h0M481.4 239.3h0M492.4 251.5h0M497.0 251.3h0M488.1 245.7h0M491.9 243.9h0M495.2 251.8h0M495.4 242.2h0M486.5 249.7h0M485.1 254.2h0M494.6 232.9h0M490.9 261.8h0M490.1 247.8h0M495.9 258.8h0M496.9 254.3h0M496.7 239.3h0M494.3 233.2h0M489.8 233.2h0M483.5 253.2h0M492.6 252.2h0M488.1 242.2h0M494.0 246.7h0M485.1 237.0h0M498.0 259.2h0M493.0 258.6h0M496.7 261.7h0M488.7 243.6h0M492.5 234.6h0M496.1 244.0h0M499.2 232.2h0M499.4 236.1h0M497.3 235.7h0M493.5 246.0h0M495.9 242.6h0M496.8 263.4h0M496.4 241.3h0M499.9 248.3h0M482.7 247.1h0M482.8 253.8h0M493.4 241.1h0M482.0 248.0h0M499.6 236.1h0M492.8 246.7h0M499.5 232.6h0M494.5 233.7h0M494.0 230.3h0M492.7 245.1h0M495.8 243.6h0M486.0 241.8h0M495.4 255.0h0M489.0 239.8h0M492.8 236.8h0M489.9 240.2h0M497.6 239.7h0M485.1 245.7h0M494.7 256.5h0M491.5 253.3h0M491.1 240.0h0M486.7 252.1h0M493.5 243.2h0M493.3 244.0h0M497.2 255.1h0M488.7 243.6h0M498.3 240.1h0M495.9 262.4h0M491.7 238.8h0M497.7 245.9h0M497.3 230.0h0M490.0 251.9h0M494.1 249.5h0M495.3 256.8h0M494.7 257.4h0M491.9 231.7h0M486.1 243.6h0M483.0 235.9h0M495.7 244.0h0M492.8 256.4h0M483.6 242.6h0M485.9 246.6h0M496.5 253.4h0M480.1 244.9h0M492.3 233.2h0M497.0 233.3h0M488.0 232.7h0M499.5 231.9h0M495.7 257.2h0M497.2 247.3h0M482.4 237.1h0M490.8 250.4h0M498.5 248.7h0M493.0 257.7h0M493.8 261.8h0M493.1 246.4h0M493.0 231.6h0M496.1 254.7h0M489.4 258.0h0M491.6 232.1h0M496.5 229.9h0M487.9 249.8h0M498.3 254.3h0M490.2 259.7h0M482.2 251.9h0M494.5 258.2h0M494.2 262.5h0M493.7 251.2h0M493.2 251.1h0M499.3 243.9h0M499.2 241.9h0M492.2 241.6h0M497.6 258.1h0M492.7 259.2h0M488.9 248.4h0M490.2 233.6h0M492.5 256.8h0M491.7 253.7h0M485.3 243.5h0M495.7 244.8h0M491.4 258.4h0M488.1 258.8h0M498.4 259.5h0M492.8 242.4h0M481.2 237.1h0M489.5 252.4h0M489.2 239.1h0M492.2 253.0h0M491.5 234.4h0M482.0 236.0h0M496.8 252.3h0M487.3 252.4h0M495.6 239.9h0M494.4 256.4h0M492.3 232.1h0M493.3 261.5h0M491.6 234.1h0M496.9 248.5h0M490.1 234.6h0M500.0 239.2h0M491.8 244.6h0M489.8 242.0h0M495.4 246.7h0M491.5 239.1h0M489.5 233.7h0M497.6 239.1h0M493.3 250.6h0M498.1 260.3h0M498.4 248.5h0M485.6 241.8h0M488.3 257.8h0M499.1 255.3h0M485.9 245.6h0M495.7 239.2h0M488.6 249.0h0M497.3 264.3h0M499.3 253.6h0M484.5 257.8h0M499.3 256.6h0M498.8 228.7h0M493.6 257.6h0M493.3 250.2h0M495.4 261.3h0M492.0 259.0h0M484.6 251.3h0M497.9 237.6h0M487.0 257.8h0M487.8 234.8h0M484.1 256.6h0M494.0 235.7h0M480.1 244.3h0M497.6 233.4h0M487.9 255.9h0M499.2 254.0h0M496.4 231.4h0M490.2 242.5h0M486.8 245.7h0M498.7 253.9h0M495.2 243.0h0M490.4 238.5h0M496.0 233.5h0M498.5 260.2h0M491.4 245.9h0M491.3 251.2h0M498.0 252.7h0M495.5 231.6h0M489.7 242.5h0M486.4 254.5h0M486.3 247.2h0M489.9 253.9h0M499.0 263.0h0M495.5 259.8h0M493.3 247.5h0M488.9 256.9h0M488.5 237.4h0M489.0 244.1h0M496.4 238.3h0M486.8 235.4h0M497.8 242.9h0M493.5 235.5h0M489.3 252.6h0M492.8 256.5h0M498.8 251.2h0M491.3 255.0h0M496.9 253.8h0M498.2 251.6h0M493.4 240.4h0M495.4 252.3h0M498.3 263.4h0M489.6 253.8h0M495.6 241.1h0M493.6 236.8h0M494.0 253.7h0M480.0 245.2h0M489.5 242.3h0M488.3 248.5h0M495.6 243.7h0M494.1 260.8h0M492.6 250.8h0M488.6 252.4h0M499.5 241.8h0M497.9 241.1h0M489.4 236.6h0M494.3 245.8h0M485.0 245.9h0M489.5 256.1h0M495.1 251.8h0M495.1 246.2h0M496.1 259.6h0M496.0 238.6h0M497.0 251.3h0M491.7 252.5h0M486.7 254.9h0M489.2 259.6h0M494.2 255.8h0M487.9 245.9h0M495.0 250.9h0M492.8 240.0h0M493.6 257.8h0M495.6 261.6h0M497.0 262.7h0M497.0 251.8h0M498.5 232.4h0M491.9 246.1h0M494.1 231.7h0M481.9 238.8h0M484.0 257.3h0M486.6 249.8h0M491.7 249.0h0M491.2 256.1h0M493.1 232.1h0M488.7 250.5h0M499.0 249.9h0M488.2 254.3h0M496.0 245.3h0M497.8 256.0h0M484.3 246.9h0M491.9 245.1h0M498.7 236.2h0M494.6 253.6h0M492.3 258.3h0M491.2 243.0h0M489.4 246.4h0M496.7 260.6h0M499.0 251.7h0M492.6 236.1h0M497.1 251.6h0M489.1 236.5h0M493.2 245.6h0M498.4 240.7h0M494.8 247.2h0M485.3 245.9h0M488.1 255.6h0M494.8 239.3h0M493.7 236.2h0M495.3 250.2h0M495.7 246.5h0M497.4 257.4h0M497.2 232.9h0M499.2 231.0h0M499.2 247.5h0M496.6 234.9h0M493.6 252.3h0M498.0 233.7h0M494.5 237.4h0M494.7 255.0h0M492.1 237.4h0M494.6 258.4h0M488.4 243.3h0M488.0 241.7h0M491.9 253.5h0M498.0 248.2h0M495.4 242.6h0M493.1 258.4h0M487.0 242.9h0M493.0 259.2h0M493.8 240.2h0M492.5 245.6h0M491.9 260.0h0M492.4 245.1h0M491.0 241.2h0M493.6 234.0h0M491.1 251.5h0M489.2 248.4h0M496.1 257.1h0M495.4 234.6h0M487.3 254.5h0M498.8 264.9h0M492.5 255.3h0M494.1 261.3h0M493.2 255.4h0M496.4 252.6h0M491.1 250.7h0M494.1 259.5h0M498.4 231.5h0M491.6 234.3h0M486.9 250.6h0M495.7 252.4h0M494.1 234.1h0M489.0 254.9h0M492.0 257.5h0M485.6 243.3h0M487.8 239.6h0M493.3 256.3h0M488.4 237.7h0M487.7 236.1h0M494.1 239.3h0M493.7 240.6h0M496.1 239.7h0M494.9 233.7h0M485.0 242.9h0M489.8 241.6h0M493.6 236.0h0M498.3 252.7h0M495.0 248.1h0M499.4 261.7h0M487.7 253.8h0M493.5 260.7h0M489.7 240.6h0M498.7 260.1h0M487.1 241.4h0M485.6 237.5h0M489.0 239.4h0M499.1 263.2h0M496.9 234.8h0M487.3 242.5h0M493.2 246.4h0M499.2 256.7h0M494.4 259.4h0M493.3 247.1h0M486.3 244.7h0M495.9 255.0h0M500.2 232.4h0M490.2 253.3h0M494.8 233.7h0M493.8 246.8h0M496.7 243.5h0M491.8 251.9h0M492.4 234.6h0M489.6 234.5h0M498.7 245.7h0M495.3 249.0h0M491.4 244.8h0M492.6 259.4h0M492.4 254.2h0M492.1 243.6h0M488.3 239.0h0M492.5 253.5h0M493.7 254.8h0M492.5 249.1h0M495.7 261.2h0M496.1 251.2h0M492.4 243.2h0M490.9 251.7h0M489.5 250.2h0M491.1 239.6h0M487.5 252.1h0M497.3 258.8h0M496.6 260.3h0M494.6 251.1h0M498.7 232.3h0M493.7 259.1h0M499.1 262.5h0M496.8 238.9h0M489.7 237.1h0M496.8 243.7h0M489.4 255.2h0M490.1 245.4h0M496.5 256.1h0M489.9 238.8h0M493.9 249.2h0M497.0 235.5h0M491.7 247.5h0M500.0 242.1h0M498.0 238.6h0M485.6 244.1h0M494.6 233.7h0M495.6 258.0h0M490.9 251.1h0M488.7 256.6h0M495.8 249.3h0M492.7 257.2h0M493.8 243.9h0M493.3 249.8h0M497.8 239.9h0M492.4 241.4h0M492.0 244.3h0M497.5 259.2h0M497.3 238.7h0M492.8 235.8h0M494.7 243.1h0M488.2 237.5h0M492.0 245.7h0M493.1 235.8h0M491.1 250.0h0M491.3 240.3h0M499.0 234.3h0M498.5 257.1h0M496.1 240.5h0M497.7 258.9h0M498.6 259.2h0M485.4 250.0h0M497.4 235.9h0M492.3 256.6h0M487.0 245.0h0M499.0 239.1h0M498.1 258.8h0M487.5 237.4h0M496.3 247.3h0M494.3 254.7h0M495.6 255.1h0M495.0 243.3h0M497.3 248.6h0M491.0 256.8h0M486.8 246.9h0M488.1 240.5h0M494.2 251.8h0M499.1 259.8h0M495.2 254.5h0M495.8 253.8h0M485.9 248.3h0M488.5 251.2h0M485.1 242.6h0M492.8 252.9h0M494.9 248.5h0M497.4 237.9h0M496.4 250.7h0M495.2 260.2h0M486.9 241.6h0M490.0 237.8h0M498.8 246.9h0M489.1 235.7h0M496.2 253.9h0M489.0 251.7h0M495.6 255.6h0M489.5 244.9h0M499.9 252.6h0M495.8 245.4h0M485.2 246.9h0M499.2 262.3h0M489.7 241.8h0M490.6 258.1h0M497.0 260.2h0M490.0 235.3h0M489.8 240.3h0M488.6 247.5h0M497.6 247.4h0M491.9 249.3h0M490.3 246.4h0M497.8 258.9h0M490.0 251.9h0M488.4 251.9h0M496.7 247.3h0M498.5 259.5h0M486.6 249.6h0M490.3 241.5h0M492.2 260.7h0M488.3 236.4h0M491.9 234.8h0M489.1 236.8h0M491.5 252.8h0M499.4 239.8h0M494.2 261.1h0M497.2 242.8h0M489.1 238.9h0M498.6 255.8h0M492.7 237.6h0M495.4 256.7h0M491.2 254.6h0M496.9 256.0h0M498.4 260.5h0M489.5 245.2h0M491.7 248.8h0M489.7 254.6h0M498.7 247.1h0M487.2 246.2h0M493.1 254.7h0M497.7 238.4h0M498.2 257.8h0M489.5 247.7h0M491.3 253.8h0M493.4 254.4h0M495.3 250.7h0M498.5 250.9h0M499.5 257.2h0M492.5 258.3h0M488.1 250.9h0M497.4 260.4h0M499.5 249.0h0M496.2 255.5h0M487.3 250.5h0M496.3 259.3h0M489.7 254.8h0M493.7 238.4h0M492.8 252.6h0M487.0 247.0h0M490.2 242.6h0M495.5 256.7h0M495.8 255.9h0M494.1 260.9h0M492.3 255.7h0M498.6 237.4h0M483.5 241.6h0M489.1 240.8h0M490.1 240.5h0M492.8 234.3h0M494.3 255.5h0M492.8 239.7h0M493.0 243.4h0M489.6 249.7h0M495.9 242.5h0M496.2 236.0h0M499.4 261.1h0M492.8 248.8h0M495.1 258.0h0M488.3 240.2h0M493.9 239.8h0M493.7 246.9h0M494.7 237.0h0M487.5 250.2h0M490.9 237.5h0M488.4 239.8h0M492.0 239.7h0M489.7 238.4h0M486.3 242.6h0M490.0 259.0h0M495.1 258.0h0M494.4 238.3h0M494.8 256.1h0M493.8 252.8h0M493.7 235.1h0M493.7 253.3h0M498.8 246.1h0M494.8 251.0h0M496.5 242.1h0M490.0 243.6h0M492.2 255.7h0M495.0 242.7h0M486.1 251.8h0M499.5 249.6h0M494.1 246.9h0M498.0 261.4h0M489.3 236.8h0M491.3 257.8h0M484.9 238.9h0M486.2 252.1h0M493.8 256.5h0M494.3 248.5h0M494.4 259.3h0M499.8 232.2h0M491.5 240.5h0M495.0 238.6h0M489.4 234.3h0M488.0 243.8h0M499.4 230.8h0M486.0 245.2h0M492.2 238.9h0M487.5 235.5h0M487.5 237.2h0M493.7 232.7h0M487.5 238.9h0M491.3 241.8h0M491.3 234.0h0M488.5 251.8h0M493.8 238.4h0M489.0 238.9h0M497.0 235.7h0M498.9 235.3h0M489.9 255.9h0M488.0 249.8h0M490.5 249.4h0M499.8 231.7h0M490.8 237.2h0M495.8 257.9h0M491.1 247.6h0M490.5 239.5h0M497.4 232.5h0M487.4 247.6h0M491.8 237.5h0M488.6 238.4h0M491.0 240.6h0M498.1 258.7h0M491.7 259.9h0M497.9 260.1h0M486.5 239.9h0M485.8 250.4h0M486.6 246.5h0M496.8 257.6h0M488.8 257.6h0M498.8 257.6h0M499.6 231.8h0M493.2 255.5h0M493.9 251.3h0M498.1 239.8h0M498.5 236.6h0M497.5 253.9h0M488.6 238.4h0M484.9 244.8h0M490.0 243.9h0M492.6 245.1h0M493.8 240.0h0M491.5 243.6h0M497.4 245.9h0M493.3 251.4h0M499.3 240.7h0M490.7 234.7h0M491.8 235.8h0M499.5 247.4h0M492.2 238.4h0M495.0 259.5h0M487.6 239.0h0M495.5 247.4h0M497.5 256.7h0M491.8 246.3h0M496.0 253.5h0M490.2 234.1h0M495.2 254.5h0M497.7 245.8h0M497.3 261.9h0M489.4 249.2h0M498.7 242.5h0M492.4 250.6h0M492.1 246.5h0M491.5 242.7h0M494.4 239.1h0M499.3 230.6h0M497.8 246.0h0M488.1 242.8h0M490.5 249.0h0M499.4 261.1h0M495.8 248.7h0M499.1 242.6h0M492.4 251.1h0M497.1 258.0h0M490.7 258.2h0M494.1 243.0h0M488.8 238.1h0M497.5 263.1h0M489.7 259.1h0M492.9 240.7h0M490.9 239.5h0M498.0 247.6h0M493.5 241.7h0M498.1 240.0h0M490.2 234.9h0M500.0 249.9h0M487.3 249.8h0M487.0 246.7h0M496.6 261.6h0M490.6 237.8h0M485.1 250.0h0M485.9 246.0h0M495.5 236.6h0M488.0 254.0h0M494.8 258.9h0M489.4 254.3h0M493.7 233.7h0M495.7 232.0h0M491.2 243.5h0M497.1 232.6h0M489.6 250.9h0M495.0 255.9h0M487.0 235.5h0M497.8 261.1h0M498.8 233.7h0M492.9 239.3h0M498.8 250.0h0M487.2 251.6h0M494.8 260.4h0M490.8 254.1h0M488.0 246.8h0M489.8 247.6h0M492.1 242.1h0M492.0 252.3h0M492.7 256.6h0M497.5 236.8h0M490.8 246.2h0M498.2 248.0h0M487.5 238.8h0M497.5 257.3h0M494.6 249.4h0M491.9 254.9h0M490.6 245.2h0M487.0 242.5h0M486.5 246.7h0M498.3 251.6h0M495.8 235.8h0M491.6 234.4h0M493.7 258.5h0M499.4 249.6h0M486.6 248.1h0M488.7 249.1h0M496.9 242.8h0M497.5 255.2h0M490.0 250.6h0M487.6 250.2h0M496.3 249.7h0M495.1 253.0h0M493.4 238.4h0M495.9 241.4h0M497.8 252.8h0M499.0 257.7h0M497.0 240.2h0M489.7 242.2h0M495.1 237.9h0M494.4 236.4h0M486.2 243.0h0M498.1 262.7h0M499.1 243.4h0M495.9 261.5h0M485.4 244.8h0M496.6 255.7h0M497.7 237.3h0M495.1 260.0h0M498.3 253.2h0M494.5 236.3h0M487.4 246.3h0M487.7 244.1h0M496.0 236.4h0M497.4 241.3h0M498.1 241.4h0M496.0 258.1h0M490.0 254.5h0M492.4 256.7h0M489.5 238.2h0M499.1 240.3h0M494.6 252.5h0M497.5 255.8h0M492.1 255.8h0M498.0 262.6h0M497.1 239.6h0M494.6 256.9h0M493.0 257.1h0M497.2 233.2h0M485.3 239.5h0M493.0 245.2h0M485.4 249.5h0M495.4 244.9h0M491.9 236.5h0M492.9 255.3h0M497.5 235.1h0M498.7 238.3h0M493.4 238.5h0M490.8 239.1h0M494.9 246.3h0M495.4 259.1h0M489.3 250.7h0M492.3 257.5h0M486.5 251.0h0M491.8 243.3h0M496.5 252.8h0M499.5 235.4h0M499.3 262.0h0M497.7 231.8h0M490.8 258.6h0M489.2 243.2h0M492.6 233.2h0M491.0 257.0h0M495.5 258.3h0M486.0 240.8h0M492.6 244.4h0M497.6 241.9h0M490.6 242.4h0M489.9 240.6h0M491.7 242.4h0M494.5 261.0h0M487.3 248.2h0M490.9 237.9h0M487.9 236.6h0M484.6 242.7h0M499.5 262.6h0M486.6 238.3h0M500.3 259.2h0M490.3 256.2h0M492.9 255.1h0M490.4 242.4h0M489.1 241.0h0M488.0 249.6h0M497.8 253.4h0M496.3 241.6h0M485.8 241.0h0M491.5 238.1h0M490.6 243.0h0M489.1 245.7h0M493.8 238.0h0M497.9 238.7h0M488.4 241.8h0M453.0 243.8h0M462.0 243.8h0M467.3 247.3h0M467.7 238.9h0M470.9 236.6h0M473.6 232.5h0M477.7 231.3h0M470.5 257.1h0M471.8 250.9h0M474.5 252.7h0M477.1 261.6h0M480.7 262.0h0M483.4 263.0h0M493.6 267.0h0M494.1 268.4h0M498.0 267.9h0M498.0 271.4h0M481.3 225.7h0M492.7 225.4h0M474.5 232.3h0M472.5 240.4h0M474.7 244.3h0M473.3 247.6h0M475.5 237.3h0M476.3 254.8h0M479.2 258.4h0M475.3 241.6h0M478.5 233.4h0M483.0 231.6h0M487.0 230.4h0M471.5 243.0h0M474.2 249.6h0" class="p"/>
<path d="M500.8 204.0L501.5 215.0L502.3 226.0" fill="none" stroke="#fff" stroke-width="0.45"/>
<path d="M500.5 233.0L500.5 268.0" fill="none" stroke="#fff" stroke-width="0.50"/></g>
<rect x="449.3" y="157.6" width="93.2" height="118.5" fill="none" stroke="#7a7a7a" stroke-width=".9"/>
<path d="M465.4 276.5v2.6M483.0 276.5v2.6M500.6 276.5v2.6M518.2 276.5v2.6M535.8 276.5v2.6M448.9 178.3h-2.6M448.9 207.2h-2.6M448.9 236.1h-2.6M448.9 265.0h-2.6" stroke="#333" stroke-width=".9" fill="none"/>
<text class="t" x="465.4" y="288.0" text-anchor="middle">−2</text>
<text class="t" x="483.0" y="288.0" text-anchor="middle">−1</text>
<text class="t" x="500.6" y="288.0" text-anchor="middle">0</text>
<text class="t" x="518.2" y="288.0" text-anchor="middle">1</text>
<text class="t" x="535.8" y="288.0" text-anchor="middle">2</text>
<text class="t" x="443.9" y="181.4" text-anchor="end">0.1</text>
<text class="t" x="443.9" y="210.2" text-anchor="end">0.0</text>
<text class="t" x="443.9" y="239.2" text-anchor="end">−0.1</text>
<text class="t" x="443.9" y="268.1" text-anchor="end">−0.2</text>
<text class="a" x="499.0" y="303.8" text-anchor="middle">DBP FPC3 score</text>
<text class="a" transform="translate(424.0 214.9) rotate(-90)" text-anchor="middle">SHAP value</text></g>
<g><clipPath id="c9"><rect x="588.8" y="157.6" width="92.9" height="118.5"/></clipPath>
<path d="M592.5 157.6V276.1M608.7 157.6V276.1M624.8 157.6V276.1M640.9 157.6V276.1M657.0 157.6V276.1M673.1 157.6V276.1M588.8 187.9H681.7M588.8 224.6H681.7M588.8 261.4H681.7" stroke="#f1f1f1" stroke-width=".5" fill="none"/>
<path d="M600.6 157.6V276.1M616.7 157.6V276.1M632.8 157.6V276.1M648.9 157.6V276.1M665.0 157.6V276.1M681.2 157.6V276.1M588.8 169.5H681.7M588.8 206.4H681.7M588.8 243.0H681.7" stroke="#e6e6e6" stroke-width=".9" fill="none"/>
<g clip-path="url(#c9)"><path d="M632.8 161.4L632.4 163.5L631.4 175.0L630.2 190.7L629.6 205.0L629.4 212.0L634.6 212.0L634.9 205.0L635.2 190.7L634.1 175.0L633.4 163.5L633.0 161.4ZM629.3 205.0L629.2 220.0L629.4 236.0L630.4 250.0L631.3 256.0L631.5 256.0L631.4 250.0L631.4 236.0L631.3 220.0L631.2 205.0ZM633.1 205.0L633.2 214.0L633.5 220.0L634.1 232.0L635.5 243.0L637.2 247.0L637.5 247.0L636.5 243.0L635.4 232.0L634.8 220.0L634.5 214.0L634.4 205.0ZM635.7 222.1L635.9 240.0L636.9 243.8L637.9 244.2L640.4 241.4L640.4 241.4L643.4 238.4L643.4 238.4L646.8 235.6L650.2 232.8L653.1 229.5L652.7 226.1L651.2 223.8L648.0 222.7L643.6 223.3L638.9 224.6L638.9 224.6L638.8 224.6L638.8 224.6L638.8 224.6L638.7 224.6L638.7 224.6L638.7 224.6L638.7 224.6L638.6 224.5L638.6 224.5ZM630.0 239.4L625.8 242.6L625.8 242.6L621.2 246.0L621.2 246.1L621.1 246.1L616.2 248.6L613.8 251.1L613.9 255.7L616.2 259.2L618.8 261.7L620.4 262.3L622.8 261.2L625.6 259.0L628.1 255.5L630.0 250.9L630.5 246.0Z" fill="#000" stroke="#000" stroke-width=".6" stroke-linejoin="round"/>
<path d="M634.1 177.5h0M632.9 187.5h0M632.2 184.0h0M633.2 162.7h0M632.7 188.5h0M631.5 193.4h0M632.3 177.7h0M632.3 190.6h0M633.3 183.4h0M633.3 189.2h0M633.2 181.1h0M632.6 181.2h0M633.4 168.0h0M632.2 168.4h0M633.5 165.8h0M631.8 202.1h0M633.3 162.4h0M634.4 178.9h0M633.5 200.5h0M632.6 199.7h0M633.2 170.0h0M632.8 176.0h0M632.2 173.8h0M632.6 167.5h0M634.1 185.3h0M631.5 190.2h0M632.2 192.2h0M634.5 197.0h0M632.2 169.4h0M634.5 192.9h0M632.3 179.5h0M631.4 204.5h0M630.8 210.1h0M632.7 165.4h0M630.6 201.9h0M634.4 193.9h0M632.6 174.8h0M632.4 164.4h0M633.1 201.6h0M631.2 199.7h0M632.3 179.8h0M631.8 195.7h0M632.7 178.0h0M633.0 198.9h0M633.1 179.4h0M633.0 162.2h0M634.1 186.8h0M634.8 198.9h0M633.8 188.9h0M633.9 175.7h0M633.1 164.0h0M634.0 172.5h0M633.1 164.9h0M634.0 200.2h0M631.4 197.3h0M631.9 178.7h0M631.9 168.6h0M630.8 198.7h0M633.9 209.7h0M629.9 210.8h0M634.8 201.6h0M633.3 169.2h0M632.8 201.4h0M631.3 201.7h0M633.7 210.8h0M634.0 189.4h0M633.3 174.2h0M633.1 163.6h0M629.8 204.6h0M632.8 185.3h0M631.6 194.1h0M634.6 183.7h0M632.5 173.6h0M634.6 202.3h0M634.1 180.4h0M633.8 189.7h0M631.6 187.1h0M634.2 193.2h0M634.0 203.6h0M633.2 179.7h0M630.2 198.5h0M633.8 169.2h0M632.5 176.3h0M633.5 175.7h0M633.4 173.9h0M633.9 189.8h0M632.4 166.8h0M634.4 200.4h0M631.9 185.0h0M632.5 173.8h0M630.5 202.2h0M630.1 199.9h0M632.6 182.7h0M632.8 190.4h0M629.6 208.7h0M634.7 190.4h0M632.7 172.3h0M633.2 183.5h0M632.2 170.6h0M633.4 190.1h0M632.9 162.9h0M629.9 196.6h0M632.6 191.6h0M630.4 194.4h0M632.9 209.7h0M634.3 209.7h0M633.2 179.0h0M631.6 176.2h0M633.1 167.9h0M632.7 177.3h0M633.1 165.0h0M632.3 182.8h0M629.6 201.1h0M630.9 193.6h0M631.9 202.0h0M633.4 165.9h0M632.5 171.4h0M634.0 174.1h0M632.2 196.4h0M633.6 180.6h0M632.3 194.4h0M632.2 174.4h0M631.9 171.2h0M632.8 194.3h0M632.2 173.9h0M633.3 186.3h0M630.8 206.4h0M631.6 184.0h0M633.2 167.6h0M633.3 196.0h0M632.2 167.2h0M632.9 181.0h0M632.6 169.2h0M632.4 211.1h0M631.2 180.6h0M632.7 164.2h0M633.5 181.4h0M633.9 170.5h0M632.3 190.0h0M632.4 206.8h0M632.5 196.7h0M633.7 179.3h0M632.7 182.3h0M633.4 205.3h0M630.9 192.5h0M632.0 181.7h0M633.3 200.2h0M634.1 207.6h0M633.4 180.2h0M633.8 176.7h0M632.0 174.4h0M633.3 189.6h0M632.0 183.4h0M632.3 191.9h0M630.7 187.1h0M632.4 166.9h0M633.0 205.9h0M632.6 187.2h0M633.1 193.6h0M631.3 179.5h0M632.4 164.9h0M633.5 171.1h0M634.3 187.2h0M630.1 199.1h0M631.5 194.0h0M633.2 177.9h0M632.1 174.9h0M632.1 208.3h0M633.1 178.5h0M633.8 199.1h0M633.6 170.7h0M634.1 188.6h0M634.3 208.6h0M630.8 202.1h0M633.7 194.8h0M633.0 206.2h0M633.9 180.5h0M633.3 173.1h0M631.1 203.6h0M631.3 211.1h0M633.8 170.6h0M631.2 205.9h0M629.9 202.6h0M629.9 207.1h0M631.1 187.0h0M631.1 197.2h0M632.4 163.6h0M631.2 195.1h0M630.4 209.2h0M633.6 181.6h0M631.5 179.5h0M633.7 211.0h0M633.0 163.7h0M634.6 210.3h0M632.7 164.9h0M633.6 206.8h0M634.4 181.8h0M632.7 164.2h0M633.6 197.4h0M631.9 192.8h0M630.7 195.4h0M633.8 198.5h0M633.4 164.2h0M630.8 190.9h0M631.2 206.2h0M633.2 166.7h0M632.9 171.9h0M632.2 184.4h0M633.4 178.2h0M633.1 163.4h0M634.8 199.2h0M632.7 163.4h0M633.4 177.5h0M632.9 172.9h0M630.3 194.5h0M631.5 202.5h0M632.6 162.5h0M632.4 210.2h0M634.8 196.5h0M632.1 191.9h0M634.1 188.1h0M633.3 164.5h0M632.1 173.5h0M633.6 173.3h0M633.0 169.7h0M632.9 193.6h0M633.8 174.0h0M633.1 191.2h0M633.6 174.7h0M632.3 164.8h0M633.7 174.3h0M634.0 195.5h0M633.1 173.9h0M633.1 164.6h0M634.5 200.8h0M632.5 169.9h0M632.2 177.5h0M632.4 168.2h0M633.7 198.3h0M633.8 192.4h0M632.9 169.3h0M634.7 190.5h0M632.3 165.0h0M633.8 198.5h0M633.9 168.5h0M632.7 162.3h0M632.7 164.0h0M632.1 207.2h0M634.1 188.8h0M632.4 176.0h0M633.7 169.4h0M632.6 189.3h0M631.1 201.6h0M630.3 200.9h0M634.2 186.3h0M632.6 164.0h0M632.9 207.1h0M633.4 177.3h0M633.4 196.8h0M630.1 210.1h0M631.5 175.8h0M633.5 210.0h0M630.1 211.2h0M632.2 175.7h0M633.4 163.2h0M630.8 207.0h0M633.0 163.7h0M633.7 174.1h0M631.1 185.8h0M632.9 179.3h0M631.5 174.1h0M632.0 173.0h0M634.9 201.8h0M631.7 186.5h0M633.2 196.5h0M633.2 163.0h0M632.7 165.1h0M633.2 162.3h0M632.6 164.6h0M632.1 173.8h0M631.4 202.7h0M632.4 173.5h0M632.7 162.2h0M631.4 190.4h0M632.7 181.3h0M630.6 200.0h0M630.4 211.2h0M631.9 179.9h0M631.8 171.4h0M632.4 165.7h0M632.7 189.7h0M633.1 185.4h0M632.1 206.7h0M632.6 179.8h0M632.5 183.3h0M633.1 170.3h0M633.5 195.5h0M633.3 168.6h0M633.4 178.6h0M632.1 197.5h0M631.6 179.6h0M633.0 207.1h0M634.6 193.9h0M631.8 191.2h0M634.0 176.1h0M631.0 204.0h0M631.1 180.6h0M632.8 173.5h0M631.5 209.9h0M631.8 190.6h0M631.0 191.8h0M632.5 182.7h0M631.3 190.9h0M632.6 170.9h0M632.5 187.9h0M631.8 178.8h0M632.1 175.0h0M634.3 207.7h0M632.1 184.5h0M632.9 170.3h0M633.4 188.5h0M632.3 204.9h0M632.4 170.0h0M632.7 163.8h0M632.8 164.5h0M630.5 196.3h0M632.2 174.3h0M633.1 171.6h0M632.8 162.5h0M631.6 180.4h0M631.1 188.7h0M631.9 191.1h0M633.7 177.5h0M633.5 188.0h0M632.7 163.8h0M634.8 192.3h0M631.9 167.7h0M631.7 174.5h0M633.6 173.8h0M631.9 192.1h0M634.0 190.4h0M631.8 179.5h0M631.0 205.8h0M631.0 187.0h0M632.8 190.5h0M630.6 190.2h0M633.8 182.9h0M631.8 178.9h0M632.1 192.0h0M633.8 183.2h0M631.8 170.7h0M633.8 184.7h0M633.0 168.8h0M632.6 168.0h0M631.2 201.7h0M633.0 196.0h0M631.9 195.6h0M633.8 202.5h0M633.1 162.7h0M634.0 183.0h0M634.4 182.8h0M632.6 170.5h0M634.2 175.0h0M631.1 183.1h0M633.6 206.7h0M629.7 227.1h0M629.5 238.8h0M629.6 224.3h0M631.0 245.4h0M631.5 255.1h0M629.6 231.7h0M630.0 241.1h0M631.2 236.7h0M630.7 249.2h0M630.1 208.2h0M630.9 251.6h0M630.8 249.8h0M630.8 250.8h0M629.2 225.8h0M629.9 207.5h0M631.4 252.5h0M629.4 214.5h0M629.7 209.1h0M630.7 240.1h0M629.0 232.6h0M631.2 250.3h0M631.5 247.3h0M630.4 216.7h0M630.5 209.0h0M630.7 206.7h0M630.2 218.6h0M630.5 209.4h0M630.4 211.5h0M631.4 253.1h0M631.2 249.5h0M631.3 214.2h0M631.0 242.4h0M629.4 206.8h0M630.7 222.9h0M630.0 207.4h0M630.8 251.0h0M631.1 253.2h0M630.4 216.2h0M629.7 210.8h0M630.2 223.0h0M629.6 226.4h0M630.3 248.0h0M630.6 217.4h0M629.6 218.7h0M630.9 249.7h0M630.2 219.9h0M631.1 209.2h0M630.7 214.1h0M631.0 252.8h0M630.2 210.4h0M630.3 244.1h0M630.6 233.7h0M631.1 250.6h0M630.7 209.1h0M630.4 246.1h0M629.9 211.8h0M630.6 235.4h0M630.0 242.9h0M630.5 210.7h0M631.4 249.4h0M630.8 208.6h0M631.2 209.3h0M629.7 206.0h0M630.2 238.5h0M629.9 220.3h0M631.0 252.5h0M629.9 223.4h0M629.2 219.3h0M631.3 221.3h0M629.3 236.0h0M629.7 225.6h0M629.3 214.1h0M630.3 214.6h0M630.0 240.0h0M630.6 250.5h0M630.9 206.6h0M631.3 248.9h0M630.7 236.6h0M631.2 226.0h0M630.3 243.0h0M631.2 225.3h0M631.0 207.1h0M630.2 226.1h0M630.2 225.3h0M629.9 218.7h0M631.5 254.5h0M630.5 230.0h0M630.3 231.3h0M630.5 222.3h0M630.3 232.0h0M631.0 249.6h0M631.0 214.2h0M631.1 219.8h0M629.4 219.3h0M631.0 242.2h0M630.9 220.9h0M631.0 250.4h0M631.0 231.5h0M630.8 211.9h0M629.7 229.8h0M631.0 252.1h0M630.4 241.8h0M630.5 235.4h0M630.1 207.6h0M631.5 251.5h0M630.4 240.6h0M630.8 230.9h0M629.6 227.2h0M631.2 206.3h0M630.8 250.0h0M629.3 207.1h0M629.9 213.2h0M631.0 253.3h0M630.7 251.3h0M631.0 254.2h0M630.4 248.2h0M630.5 222.3h0M631.4 238.2h0M631.0 227.3h0M631.3 253.7h0M630.9 245.1h0M630.2 237.0h0M631.0 207.6h0M629.5 227.0h0M630.3 250.1h0M631.2 246.3h0M629.7 230.9h0M630.4 209.9h0M631.3 219.5h0M631.0 208.3h0M630.8 233.3h0M630.7 249.1h0M630.4 241.8h0M631.4 248.1h0M630.7 206.3h0M631.2 249.1h0M630.4 211.7h0M630.5 208.8h0M630.2 240.7h0M630.3 210.4h0M630.8 237.2h0M630.5 228.1h0M630.0 209.2h0M629.7 214.3h0M631.5 249.8h0M631.1 215.8h0M630.8 215.7h0M629.8 243.0h0M630.3 243.1h0M630.8 247.0h0M629.5 234.2h0M629.6 206.8h0M630.5 243.5h0M630.0 221.0h0M631.1 221.6h0M631.1 213.5h0M631.2 232.1h0M629.7 206.1h0M631.0 232.7h0M629.9 208.0h0M631.3 243.8h0M629.4 222.8h0M631.2 225.7h0M631.0 218.7h0M631.1 220.3h0M631.0 248.2h0M630.6 207.9h0M631.4 229.3h0M629.8 232.3h0M630.8 229.8h0M630.2 246.4h0M630.7 246.7h0M630.2 212.2h0M630.4 241.6h0M630.7 220.0h0M631.0 213.4h0M630.8 210.7h0M630.7 242.3h0M630.3 208.8h0M630.8 235.9h0M630.3 232.0h0M631.4 233.8h0M631.1 250.9h0M630.9 252.2h0M631.3 236.1h0M630.0 212.0h0M631.3 244.1h0M631.1 232.6h0M629.8 216.1h0M630.7 224.4h0M631.4 243.5h0M631.3 224.7h0M630.9 241.5h0M629.9 228.5h0M630.4 245.3h0M631.3 246.6h0M630.5 208.7h0M630.1 212.7h0M631.3 247.9h0M631.0 225.0h0M630.7 218.0h0M630.7 218.1h0M630.0 218.2h0M630.2 228.8h0M630.5 243.3h0M630.2 247.1h0M629.3 216.5h0M631.3 254.6h0M629.3 213.3h0M629.7 231.6h0M630.2 212.7h0M630.8 233.7h0M629.9 229.3h0M630.9 228.0h0M629.9 217.2h0M631.0 236.4h0M631.1 220.2h0M635.8 239.8h0M634.8 231.1h0M634.8 229.4h0M636.1 238.3h0M636.1 242.3h0M633.2 217.9h0M633.8 222.5h0M635.9 240.0h0M633.8 219.1h0M635.1 230.6h0M633.9 227.2h0M633.6 223.9h0M634.0 214.4h0M633.5 210.3h0M633.7 211.9h0M634.2 223.8h0M636.2 241.9h0M634.0 216.4h0M633.9 223.5h0M634.6 214.1h0M634.4 219.8h0M635.8 239.0h0M634.0 224.4h0M633.9 207.6h0M634.5 220.2h0M634.7 231.4h0M633.8 223.5h0M634.9 230.4h0M635.1 237.7h0M637.2 245.1h0M635.9 241.8h0M635.0 236.8h0M634.4 222.7h0M634.3 230.6h0M634.4 227.5h0M635.6 236.2h0M636.9 245.0h0M636.1 244.9h0M634.5 233.8h0M635.1 221.8h0M634.2 228.6h0M633.3 213.5h0M634.9 226.6h0M635.2 240.6h0M634.0 219.1h0M634.7 225.6h0M633.7 214.4h0M633.3 206.8h0M634.1 223.8h0M633.9 229.1h0M635.9 243.3h0M634.1 216.4h0M634.2 225.0h0M634.5 233.4h0M637.0 245.8h0M637.3 245.4h0M635.0 231.1h0M636.6 245.1h0M633.6 207.7h0M634.6 229.3h0M634.7 231.8h0M633.5 211.8h0M636.5 244.6h0M635.1 237.4h0M635.2 238.7h0M635.5 236.0h0M637.2 245.7h0M635.3 235.6h0M635.7 243.3h0M633.7 213.4h0M635.3 241.1h0M634.3 208.4h0M634.6 220.7h0M634.8 232.0h0M635.0 234.7h0M634.1 208.2h0M634.7 230.0h0M634.2 217.8h0M636.5 242.6h0M634.7 222.0h0M634.0 208.0h0M634.5 215.5h0M634.5 225.3h0M634.6 220.7h0M634.7 218.3h0M635.0 222.3h0M634.8 230.0h0M636.2 242.4h0M634.3 218.2h0M634.6 234.4h0M633.9 217.9h0M634.2 214.1h0M633.6 206.3h0M633.3 208.2h0M634.3 227.0h0M635.2 239.7h0M636.5 240.2h0M633.7 216.6h0M636.4 241.8h0M633.5 220.2h0M634.9 235.7h0M634.2 218.1h0M635.2 238.5h0M634.0 212.6h0M634.0 225.3h0M633.3 207.7h0M634.5 211.7h0M633.6 226.3h0M634.9 230.1h0M634.8 224.4h0M634.3 207.2h0M635.9 240.2h0M635.7 238.9h0M635.0 236.7h0M635.3 229.9h0M634.9 224.8h0M634.4 217.4h0M634.1 216.3h0M634.1 223.2h0M633.5 216.6h0M635.6 239.6h0M634.0 217.8h0M636.8 244.8h0M634.9 228.3h0M634.5 222.4h0M636.9 245.0h0M633.9 214.3h0M634.4 225.4h0M635.7 238.3h0M635.5 239.2h0M634.4 231.9h0M633.5 213.1h0M634.8 227.0h0M635.2 232.0h0M635.8 242.7h0M634.8 232.8h0M634.1 218.3h0M634.8 225.9h0M634.2 212.3h0M633.6 208.3h0M634.8 225.8h0M635.9 242.1h0M634.9 235.8h0M636.5 244.8h0M635.4 239.0h0M634.1 214.2h0M652.6 232.6h0M639.6 231.4h0M652.5 231.6h0M637.0 237.2h0M645.0 235.7h0M641.6 225.3h0M636.8 230.4h0M652.9 225.8h0M651.1 234.6h0M644.3 220.4h0M655.0 230.1h0M651.6 233.4h0M644.3 238.0h0M650.2 229.8h0M637.8 227.9h0M641.2 236.4h0M643.6 240.7h0M645.6 234.4h0M635.7 229.4h0M643.8 236.9h0M642.2 221.4h0M644.7 232.0h0M640.3 236.2h0M641.2 237.2h0M639.1 241.9h0M646.6 236.6h0M647.2 227.7h0M635.3 231.2h0M651.3 234.2h0M638.9 232.6h0M647.7 227.2h0M636.3 236.9h0M641.0 240.3h0M649.0 227.5h0M641.3 223.6h0M640.9 229.9h0M654.3 225.6h0M645.3 240.5h0M642.2 226.7h0M646.2 223.3h0M637.9 230.6h0M636.9 243.5h0M643.7 236.5h0M639.6 231.3h0M644.8 238.0h0M641.2 238.0h0M645.7 226.7h0M645.3 238.5h0M640.4 226.0h0M652.6 225.4h0M641.1 244.1h0M640.2 237.9h0M640.0 240.0h0M639.9 231.4h0M642.8 230.0h0M642.8 237.9h0M641.6 223.1h0M647.1 224.6h0M641.3 230.2h0M645.6 229.1h0M637.0 244.8h0M637.1 242.6h0M648.0 233.2h0M643.0 233.1h0M647.6 234.8h0M640.0 231.3h0M635.7 228.7h0M645.5 221.7h0M654.4 223.8h0M637.1 234.8h0M642.8 225.3h0M648.5 221.1h0M643.7 231.6h0M639.1 243.1h0M646.4 224.6h0M644.6 239.3h0M636.8 242.9h0M644.6 233.0h0M638.3 232.2h0M656.9 230.9h0M637.9 245.0h0M635.7 231.3h0M652.7 231.8h0M638.7 231.0h0M640.5 229.4h0M636.3 236.3h0M654.7 234.1h0M649.8 224.3h0M640.3 225.9h0M639.9 241.4h0M650.8 228.5h0M641.2 235.6h0M637.6 232.6h0M636.8 236.6h0M644.8 226.0h0M637.1 228.7h0M648.7 237.1h0M643.9 231.9h0M644.1 222.7h0M647.4 235.7h0M635.5 241.0h0M649.7 230.9h0M641.5 238.0h0M648.4 236.6h0M644.1 232.8h0M640.6 232.1h0M656.6 227.8h0M644.4 231.8h0M643.2 240.3h0M638.4 233.3h0M636.3 222.8h0M646.4 234.5h0M641.4 222.4h0M651.7 225.3h0M650.3 223.1h0M638.8 242.3h0M653.4 230.4h0M649.7 228.3h0M640.6 228.4h0M637.3 222.3h0M639.8 224.6h0M644.1 226.6h0M651.1 232.6h0M636.3 224.2h0M639.5 224.0h0M641.5 232.2h0M640.6 240.6h0M642.0 241.4h0M645.6 237.4h0M636.8 241.8h0M649.5 233.0h0M656.0 229.9h0M637.1 223.5h0M644.6 224.8h0M635.9 227.4h0M652.0 227.0h0M644.5 227.8h0M640.8 240.2h0M645.7 230.1h0M641.9 234.2h0M645.8 232.0h0M645.4 233.6h0M637.7 228.0h0M649.6 225.8h0M637.2 224.4h0M640.9 224.7h0M652.4 229.2h0M642.7 240.8h0M637.9 238.0h0M644.1 239.1h0M637.5 232.4h0M641.2 225.5h0M648.0 222.0h0M649.1 226.0h0M646.9 229.4h0M645.5 221.7h0M639.0 241.0h0M643.8 236.2h0M640.2 233.2h0M643.4 223.9h0M638.1 225.0h0M648.9 225.9h0M636.8 222.8h0M642.5 229.7h0M646.9 221.8h0M648.3 223.0h0M639.3 225.9h0M639.5 242.8h0M650.7 228.4h0M640.4 242.7h0M644.1 221.5h0M647.9 224.5h0M642.1 227.2h0M649.9 225.1h0M641.4 226.6h0M644.6 223.1h0M654.4 227.7h0M638.3 226.9h0M637.3 238.2h0M638.0 232.9h0M640.7 235.2h0M644.3 234.4h0M647.2 232.2h0M648.4 233.7h0M636.1 224.4h0M643.2 225.7h0M647.3 223.9h0M638.8 233.2h0M645.7 224.1h0M639.8 225.9h0M639.3 241.7h0M651.4 235.2h0M641.2 226.9h0M642.2 229.2h0M646.0 228.8h0M647.4 231.0h0M641.7 233.0h0M642.7 230.0h0M647.1 228.4h0M638.2 237.8h0M642.4 236.5h0M641.3 226.3h0M652.5 232.9h0M651.9 224.0h0M645.2 230.9h0M654.6 228.0h0M640.0 230.4h0M647.5 223.4h0M645.4 234.5h0M636.9 243.7h0M652.8 229.8h0M642.1 234.2h0M642.1 239.4h0M641.3 231.9h0M639.4 241.7h0M637.9 239.2h0M643.1 238.6h0M635.9 243.9h0M638.2 224.6h0M641.1 231.6h0M641.9 237.6h0M644.7 230.9h0M646.8 229.4h0M640.7 231.2h0M642.0 233.8h0M644.8 231.9h0M644.8 224.5h0M649.5 221.8h0M639.9 231.1h0M650.9 225.5h0M639.7 225.1h0M639.1 232.7h0M635.7 230.3h0M641.5 242.6h0M638.7 241.3h0M638.9 225.2h0M643.3 235.4h0M648.9 225.4h0M642.3 224.4h0M640.0 232.1h0M642.6 232.1h0M642.0 233.7h0M638.0 234.0h0M642.0 227.2h0M636.5 240.7h0M646.9 223.8h0M650.7 223.2h0M645.2 239.1h0M653.1 222.9h0M654.9 229.5h0M649.0 222.0h0M654.3 231.8h0M636.4 240.6h0M646.1 231.0h0M642.3 240.2h0M644.3 222.1h0M643.0 225.0h0M636.9 229.8h0M645.7 239.6h0M648.3 225.1h0M641.7 231.1h0M637.1 238.0h0M645.6 227.9h0M649.0 228.2h0M644.0 225.6h0M642.7 226.0h0M653.2 231.4h0M646.5 233.9h0M638.6 232.5h0M638.2 243.1h0M641.3 236.8h0M639.8 231.0h0M652.7 228.8h0M643.6 236.9h0M637.5 232.0h0M651.9 223.6h0M644.5 231.9h0M637.0 238.9h0M635.4 232.6h0M649.3 224.8h0M639.0 236.4h0M639.1 233.4h0M637.1 222.1h0M635.7 222.6h0M644.9 238.7h0M644.2 236.1h0M648.5 232.3h0M639.4 227.2h0M640.9 223.6h0M643.7 230.0h0M646.3 226.1h0M636.7 243.4h0M652.3 224.3h0M642.9 230.2h0M643.8 234.1h0M642.8 232.4h0M644.1 237.3h0M644.2 225.5h0M643.7 221.6h0M646.8 223.7h0M652.2 223.1h0M656.3 231.7h0M649.0 231.6h0M646.8 233.8h0M653.3 227.8h0M640.1 241.9h0M636.9 224.4h0M639.7 233.5h0M643.5 232.7h0M641.4 231.6h0M640.9 224.2h0M644.6 228.1h0M646.1 221.6h0M650.8 231.2h0M648.5 230.7h0M638.6 223.4h0M642.0 234.8h0M639.1 225.0h0M648.0 224.1h0M642.7 222.6h0M650.5 232.9h0M640.6 237.4h0M650.8 220.5h0M637.2 235.9h0M645.9 226.5h0M647.7 225.9h0M654.9 230.8h0M636.5 234.9h0M649.5 235.4h0M655.1 227.5h0M641.1 228.6h0M639.5 237.7h0M638.9 227.1h0M638.0 244.3h0M636.2 241.4h0M657.1 227.0h0M639.0 224.2h0M636.7 245.1h0M653.3 229.0h0M648.2 221.6h0M649.0 230.5h0M651.1 221.9h0M636.6 230.5h0M644.0 226.2h0M637.5 234.2h0M640.0 240.7h0M643.1 224.2h0M644.3 237.5h0M643.0 235.1h0M642.9 233.7h0M641.5 226.5h0M636.4 228.0h0M641.0 236.5h0M645.6 235.2h0M650.4 231.9h0M653.1 228.8h0M638.5 242.9h0M639.5 223.6h0M644.1 221.5h0M636.5 225.0h0M643.1 235.9h0M644.6 234.0h0M644.2 230.1h0M645.3 239.3h0M652.4 228.2h0M644.6 234.0h0M639.0 242.9h0M640.0 236.6h0M637.0 232.0h0M645.7 234.5h0M649.7 224.5h0M648.5 231.8h0M648.5 227.4h0M642.0 233.6h0M645.9 230.5h0M649.4 233.6h0M640.4 232.2h0M648.3 237.3h0M647.8 235.1h0M636.6 235.8h0M647.2 231.4h0M638.8 229.3h0M649.5 223.6h0M655.4 228.7h0M641.7 240.0h0M644.8 225.0h0M647.9 225.7h0M654.8 225.6h0M654.3 225.5h0M641.3 234.3h0M638.2 229.9h0M647.8 228.6h0M639.7 241.6h0M637.2 232.5h0M641.2 228.3h0M651.3 228.8h0M637.2 244.0h0M644.3 231.9h0M639.1 234.1h0M646.4 221.1h0M636.3 229.2h0M636.8 232.2h0M656.2 228.3h0M637.7 224.4h0M653.0 229.3h0M638.1 238.9h0M645.9 226.3h0M651.0 236.1h0M640.1 228.6h0M636.6 226.1h0M645.4 227.0h0M647.7 230.4h0M640.2 241.7h0M636.0 235.4h0M639.8 224.8h0M646.2 234.4h0M654.0 231.6h0M636.2 240.7h0M653.3 221.9h0M647.4 232.1h0M645.9 233.7h0M641.7 236.0h0M644.9 225.5h0M641.3 231.7h0M647.1 237.0h0M650.6 224.2h0M635.9 224.5h0M643.9 229.5h0M646.8 235.7h0M641.3 230.1h0M643.6 227.6h0M641.2 235.9h0M648.3 227.7h0M641.9 223.6h0M638.7 240.3h0M638.2 238.5h0M647.8 223.2h0M641.9 241.7h0M641.0 239.6h0M650.6 226.3h0M637.7 224.9h0M637.6 236.2h0M644.0 224.2h0M636.1 224.3h0M637.9 239.6h0M656.7 228.1h0M641.5 241.1h0M645.1 228.8h0M640.2 235.7h0M653.3 222.8h0M647.8 231.7h0M655.0 229.5h0M647.2 237.3h0M642.8 231.5h0M639.7 233.2h0M645.2 232.8h0M645.6 232.2h0M637.0 231.6h0M653.9 231.5h0M643.8 239.0h0M640.2 239.6h0M647.5 227.7h0M642.0 239.1h0M646.8 220.6h0M649.2 224.9h0M649.4 229.1h0M654.8 229.0h0M638.8 240.3h0M646.0 221.3h0M639.5 241.8h0M645.5 223.0h0M638.0 238.6h0M653.3 222.8h0M647.6 221.8h0M638.5 233.9h0M656.1 227.7h0M649.1 221.9h0M636.8 232.0h0M646.9 229.3h0M640.9 232.5h0M644.6 236.9h0M646.4 224.6h0M641.7 227.0h0M641.0 233.5h0M636.5 242.8h0M638.7 236.8h0M642.2 237.9h0M655.9 226.1h0M648.4 224.3h0M646.1 226.4h0M638.5 231.6h0M637.7 239.9h0M642.7 221.8h0M639.1 226.3h0M648.8 236.0h0M637.4 225.9h0M636.6 237.6h0M638.1 238.3h0M635.6 233.6h0M637.5 242.9h0M655.3 225.6h0M643.3 222.1h0M636.6 233.2h0M638.8 223.9h0M641.8 228.6h0M637.6 229.7h0M648.6 227.4h0M644.1 233.3h0M638.5 231.5h0M655.7 225.7h0M646.6 222.0h0M651.9 229.9h0M639.4 227.9h0M651.5 231.4h0M640.8 237.6h0M637.1 233.7h0M644.9 222.1h0M652.6 222.8h0M644.0 236.3h0M640.2 240.6h0M636.3 223.2h0M637.0 222.4h0M644.8 228.8h0M636.1 244.9h0M639.1 236.7h0M638.5 229.9h0M642.2 233.3h0M638.9 224.7h0M637.4 237.1h0M645.1 229.8h0M645.2 220.4h0M639.8 235.4h0M647.1 225.7h0M644.0 220.6h0M647.0 231.4h0M638.8 231.4h0M641.6 238.2h0M636.1 234.1h0M645.7 222.6h0M639.0 240.1h0M648.8 221.5h0M646.0 239.6h0M652.3 229.4h0M639.5 241.5h0M648.8 226.6h0M636.8 240.5h0M638.8 230.0h0M649.3 237.2h0M640.7 239.0h0M638.7 244.3h0M640.2 243.8h0M636.4 230.7h0M648.7 229.1h0M640.7 231.3h0M646.6 221.1h0M643.4 224.2h0M644.9 239.5h0M639.2 230.0h0M653.4 224.0h0M638.8 227.0h0M639.5 236.3h0M643.9 223.9h0M643.9 238.4h0M642.4 240.3h0M635.3 237.3h0M638.7 228.7h0M640.5 232.5h0M638.7 229.8h0M654.0 225.4h0M643.9 226.3h0M653.1 233.9h0M638.2 231.1h0M652.6 235.4h0M639.3 240.9h0M643.5 232.8h0M644.8 234.8h0M640.7 235.5h0M646.8 236.9h0M655.4 228.2h0M638.2 229.0h0M646.3 234.8h0M640.9 236.3h0M644.2 231.6h0M638.6 235.8h0M654.7 222.4h0M639.4 232.7h0M643.6 229.7h0M647.5 229.1h0M653.0 225.5h0M637.2 236.2h0M649.2 220.3h0M638.6 222.6h0M643.3 232.2h0M639.0 223.9h0M647.0 230.8h0M637.9 240.3h0M642.8 234.1h0M638.8 232.2h0M640.7 230.1h0M636.9 227.5h0M641.3 243.4h0M642.4 226.0h0M647.9 228.9h0M643.5 225.5h0M643.8 236.7h0M652.2 233.4h0M646.9 223.9h0M635.8 222.1h0M636.5 233.3h0M653.1 227.9h0M645.7 233.2h0M641.8 239.7h0M646.2 221.2h0M646.3 236.5h0M649.7 228.8h0M640.3 232.3h0M643.1 234.6h0M650.7 233.5h0M639.2 222.9h0M639.1 243.0h0M653.8 224.5h0M649.3 225.2h0M647.5 228.8h0M639.4 226.8h0M637.6 236.7h0M638.8 241.9h0M639.3 236.5h0M640.5 231.8h0M634.1 230.9h0M656.1 227.7h0M653.7 224.1h0M643.9 232.0h0M642.9 234.9h0M637.7 223.9h0M641.4 229.4h0M637.0 235.9h0M646.2 223.8h0M644.9 225.4h0M641.7 234.6h0M653.5 229.6h0M639.2 229.0h0M638.0 225.6h0M651.1 225.4h0M638.6 242.5h0M639.1 233.9h0M646.9 231.2h0M647.2 223.9h0M641.1 226.6h0M643.5 226.8h0M646.7 235.4h0M644.3 231.3h0M640.4 233.9h0M639.6 238.1h0M637.8 238.2h0M638.6 240.2h0M639.1 228.6h0M651.7 231.9h0M646.0 229.0h0M643.7 228.7h0M649.8 229.7h0M644.1 222.7h0M637.2 228.4h0M654.6 226.9h0M647.2 236.1h0M648.5 238.3h0M649.1 232.7h0M643.6 225.7h0M636.7 239.6h0M635.7 223.3h0M644.8 238.0h0M637.3 244.1h0M641.7 238.1h0M638.5 232.4h0M639.4 245.1h0M642.4 227.2h0M642.2 228.4h0M643.0 231.9h0M643.6 232.6h0M647.0 235.3h0M651.7 235.0h0M654.7 224.5h0M638.1 231.1h0M646.1 227.9h0M641.7 223.3h0M636.2 227.0h0M651.2 232.2h0M654.5 224.4h0M646.6 234.4h0M644.4 237.1h0M642.2 224.1h0M653.8 229.6h0M641.2 240.4h0M642.3 226.5h0M643.5 237.0h0M648.5 223.5h0M638.3 226.3h0M636.9 232.5h0M636.8 241.7h0M643.8 222.2h0M642.9 240.8h0M646.0 219.7h0M650.2 224.6h0M644.1 232.2h0M635.8 240.3h0M644.7 221.4h0M650.0 230.3h0M639.9 228.0h0M640.1 237.2h0M652.6 221.9h0M639.7 227.6h0M647.9 238.1h0M655.3 224.3h0M656.4 226.9h0M639.4 236.6h0M650.0 227.1h0M652.4 228.9h0M635.8 237.7h0M638.3 239.6h0M637.7 232.0h0M646.6 231.2h0M645.0 236.0h0M640.9 228.9h0M642.2 228.0h0M644.8 226.0h0M642.8 227.5h0M645.4 233.2h0M645.1 226.1h0M640.0 225.9h0M641.1 240.2h0M639.0 229.0h0M641.3 236.9h0M645.2 236.4h0M642.9 235.0h0M646.8 224.5h0M639.1 230.3h0M639.5 227.9h0M636.8 227.8h0M639.5 229.9h0M645.7 232.2h0M637.9 234.2h0M645.8 222.7h0M653.2 225.8h0M646.6 228.0h0M643.7 230.7h0M645.2 226.1h0M649.1 225.4h0M641.6 227.4h0M636.3 238.5h0M644.1 232.2h0M638.2 237.6h0M643.0 235.7h0M651.7 231.1h0M637.9 226.3h0M641.1 239.8h0M638.0 228.2h0M653.1 226.1h0M636.8 233.7h0M645.9 232.3h0M644.8 225.6h0M650.1 230.7h0M641.3 235.6h0M638.5 233.6h0M649.8 228.5h0M649.6 233.2h0M644.7 223.6h0M648.8 231.8h0M639.9 229.7h0M650.5 224.2h0M644.8 227.8h0M640.8 228.6h0M637.1 229.6h0M645.6 228.1h0M647.3 231.4h0M638.6 228.7h0M641.7 227.2h0M646.4 224.5h0M648.4 232.8h0M646.1 231.7h0M635.8 228.8h0M641.3 232.9h0M649.8 231.3h0M639.8 231.2h0M653.2 227.1h0M640.4 239.9h0M646.7 223.0h0M636.8 240.7h0M643.7 236.2h0M643.8 236.4h0M647.9 225.7h0M649.3 227.6h0M636.8 223.2h0M650.0 223.6h0M638.5 235.7h0M635.9 236.2h0M639.9 229.3h0M638.3 231.8h0M636.4 238.1h0M643.2 224.5h0M645.4 224.7h0M651.0 226.6h0M640.1 226.1h0M649.0 228.2h0M646.5 224.7h0M636.7 228.2h0M647.4 235.5h0M638.5 235.3h0M640.2 230.9h0M637.5 233.4h0M644.2 225.1h0M637.5 236.3h0M638.0 231.1h0M645.9 230.8h0M639.7 226.4h0M640.7 238.3h0M649.0 225.9h0M643.0 234.8h0M646.7 223.0h0M636.7 227.7h0M651.2 231.0h0M644.1 236.4h0M641.9 238.0h0M635.6 239.3h0M641.6 238.3h0M635.8 227.0h0M643.6 230.9h0M646.2 236.3h0M653.0 225.2h0M642.9 232.2h0M636.1 239.9h0M650.2 227.2h0M647.0 226.2h0M645.4 234.6h0M642.2 228.1h0M640.9 237.2h0M639.7 233.0h0M645.1 234.6h0M641.3 237.9h0M642.5 227.3h0M641.4 231.8h0M640.6 236.7h0M639.9 240.7h0M637.6 236.8h0M643.9 228.4h0M640.5 226.9h0M651.1 229.9h0M642.3 228.6h0M640.2 236.6h0M651.2 228.3h0M651.9 226.0h0M642.0 225.0h0M639.7 233.1h0M638.5 240.8h0M644.7 231.9h0M642.1 227.6h0M638.5 229.1h0M647.1 233.3h0M644.2 231.0h0M636.6 224.4h0M645.8 235.2h0M649.5 228.6h0M651.6 229.8h0M638.9 234.6h0M638.0 240.8h0M638.4 240.1h0M643.9 235.2h0M645.5 228.3h0M647.8 222.9h0M641.8 230.1h0M650.7 230.2h0M635.9 239.2h0M646.3 232.0h0M648.5 227.2h0M647.5 226.0h0M642.7 230.6h0M650.3 225.8h0M637.4 229.3h0M638.6 236.5h0M639.0 227.5h0M651.3 231.0h0M637.5 231.7h0M652.0 230.7h0M636.2 226.9h0M640.2 237.0h0M642.2 238.1h0M636.4 226.5h0M639.8 225.9h0M645.1 231.8h0M637.2 240.3h0M646.6 229.1h0M643.3 229.4h0M637.0 239.3h0M639.3 236.1h0M637.2 231.6h0M647.0 223.8h0M648.0 227.3h0M646.4 233.3h0M644.5 224.8h0M643.6 227.0h0M639.4 233.9h0M637.0 232.1h0M635.9 239.2h0M639.0 242.7h0M638.0 233.8h0M645.1 229.2h0M638.1 226.1h0M644.7 229.7h0M647.9 229.8h0M635.7 222.9h0M635.1 229.4h0M640.3 230.0h0M641.7 234.4h0M649.9 230.6h0M649.5 231.5h0M639.8 239.5h0M636.4 229.2h0M637.4 225.4h0M639.9 238.7h0M641.2 233.2h0M650.4 230.5h0M648.9 224.7h0M639.7 229.3h0M642.8 231.4h0M645.8 226.9h0M642.8 226.3h0M644.4 233.5h0M645.5 226.4h0M636.6 236.8h0M650.7 229.9h0M646.4 231.4h0M643.6 234.4h0M646.9 229.2h0M636.6 243.0h0M638.7 226.1h0M649.0 229.0h0M641.3 229.4h0M637.6 237.8h0M637.2 231.1h0M645.6 233.2h0M635.9 242.0h0M649.9 227.4h0M635.2 230.1h0M645.4 224.2h0M640.6 232.8h0M643.9 232.3h0M648.6 225.3h0M638.5 230.5h0M641.5 234.2h0M648.1 223.6h0M639.3 235.1h0M636.5 232.7h0M652.5 229.1h0M637.3 239.2h0M641.8 226.7h0M647.9 229.3h0M640.5 236.0h0M643.0 225.1h0M638.7 231.0h0M643.4 231.2h0M647.3 226.2h0M640.2 241.9h0M641.2 226.3h0M640.3 231.1h0M648.1 228.1h0M647.8 230.5h0M638.3 239.3h0M648.9 231.8h0M641.0 235.4h0M637.6 241.4h0M637.5 232.7h0M647.9 228.0h0M641.6 238.6h0M636.4 242.3h0M639.0 229.3h0M638.7 232.2h0M639.8 233.4h0M635.9 230.0h0M650.0 231.8h0M636.8 235.5h0M650.6 230.3h0M642.4 223.6h0M644.4 229.5h0M642.1 235.8h0M640.4 236.4h0M643.2 230.1h0M640.8 230.4h0M640.2 237.6h0M639.6 234.5h0M642.7 236.1h0M637.0 224.4h0M648.3 230.9h0M637.9 236.5h0M637.5 231.9h0M652.2 226.1h0M648.3 232.5h0M649.8 230.0h0M651.4 228.5h0M637.2 227.7h0M638.4 225.5h0M642.6 230.4h0M643.3 229.0h0M652.1 231.0h0M648.0 226.4h0M643.6 235.0h0M640.5 235.0h0M642.3 229.2h0M643.3 236.9h0M640.0 230.0h0M639.7 240.4h0M647.3 231.3h0M636.8 240.3h0M636.7 229.5h0M638.9 235.7h0M641.7 224.2h0M641.1 239.5h0M645.4 230.9h0M642.4 238.6h0M644.4 225.0h0M638.2 241.2h0M650.1 231.1h0M646.0 235.5h0M640.0 226.1h0M638.0 240.2h0M640.5 226.8h0M649.7 229.2h0M642.3 237.7h0M648.4 226.1h0M647.4 226.3h0M639.1 230.4h0M645.1 231.0h0M645.2 226.2h0M646.7 226.8h0M644.7 224.8h0M637.8 229.2h0M645.3 224.4h0M636.8 236.1h0M635.1 231.2h0M651.8 230.2h0M647.2 233.0h0M646.1 235.7h0M651.4 227.5h0M645.0 230.3h0M640.3 238.6h0M644.0 223.7h0M641.6 234.9h0M647.2 225.8h0M641.1 237.4h0M637.5 239.4h0M647.8 224.1h0M638.2 234.6h0M663.6 226.8h0M667.1 228.6h0M673.8 230.4h0M668.9 232.5h0M677.5 235.2h0M663.6 234.8h0M660.0 233.9h0M655.5 235.7h0M651.1 218.6h0M643.0 242.3h0M661.3 229.5h0M659.4 224.3h0M654.3 219.8h0M646.0 218.4h0M641.0 219.6h0M657.6 234.6h0M650.3 238.8h0M646.8 241.3h0M661.6 231.8h0M640.8 246.0h0M625.0 259.9h0M627.7 257.7h0M618.9 251.2h0M624.6 257.1h0M606.8 254.9h0M616.8 255.7h0M618.8 255.0h0M618.5 263.3h0M613.5 263.3h0M611.0 253.1h0M621.4 253.4h0M619.2 259.5h0M628.2 243.4h0M627.2 244.9h0M618.5 256.4h0M617.6 255.5h0M628.8 249.3h0M628.7 244.3h0M630.3 255.2h0M627.4 251.7h0M620.7 262.9h0M621.3 245.2h0M617.1 252.9h0M623.6 254.1h0M615.2 250.5h0M620.0 247.1h0M629.4 253.8h0M620.2 252.6h0M624.4 244.1h0M622.2 252.7h0M629.2 239.7h0M629.9 242.5h0M628.5 253.5h0M617.9 261.3h0M619.2 256.2h0M622.1 248.9h0M616.5 249.6h0M614.8 248.2h0M630.1 246.6h0M620.4 248.5h0M627.0 249.8h0M617.2 262.2h0M622.9 256.6h0M630.1 254.8h0M622.3 246.3h0M619.0 261.5h0M623.2 256.8h0M628.3 252.3h0M622.3 256.5h0M627.9 247.5h0M623.5 249.4h0M625.0 253.5h0M619.2 262.2h0M622.2 246.1h0M611.7 250.6h0M622.2 262.3h0M622.9 245.4h0M612.2 252.6h0M616.5 259.7h0M620.5 261.3h0M619.8 260.9h0M620.3 249.6h0M617.9 251.8h0M624.3 261.1h0M624.3 256.3h0M623.0 248.6h0M621.9 248.1h0M622.6 242.7h0M618.5 262.0h0M623.8 257.8h0M630.3 250.7h0M622.4 261.3h0M613.0 258.6h0M606.2 256.7h0M617.1 250.8h0M626.1 252.1h0M621.7 245.6h0M624.2 255.5h0M628.1 248.3h0M610.5 255.4h0M626.9 254.0h0M622.9 250.7h0M622.9 243.6h0M617.6 245.6h0M628.0 252.4h0M623.3 259.1h0M615.5 246.4h0M606.3 250.6h0M627.2 243.7h0M623.4 260.9h0M618.0 260.4h0M614.3 259.3h0M622.7 257.5h0M630.1 248.0h0M624.0 250.8h0M629.1 246.4h0M613.5 257.6h0M622.1 247.0h0M627.3 255.9h0M625.3 244.6h0M626.4 259.6h0M616.4 258.5h0M621.9 263.3h0M620.4 250.3h0M625.8 257.5h0M612.7 262.4h0M619.9 251.7h0M623.6 241.6h0M620.3 263.9h0M625.2 241.5h0M619.3 262.4h0M609.3 256.7h0M620.0 249.3h0M624.9 257.2h0M618.0 250.7h0M628.4 240.9h0M617.2 251.8h0M623.4 243.9h0M619.9 250.6h0M610.6 255.2h0M611.5 256.2h0M606.0 253.9h0M631.2 248.0h0M618.0 256.3h0M626.6 250.9h0M618.5 258.9h0M612.3 255.5h0M625.1 257.3h0M625.8 256.8h0M628.4 247.5h0M622.5 257.0h0M615.5 258.2h0M624.7 245.8h0M616.8 252.5h0M619.0 259.5h0M614.3 256.6h0M626.7 242.7h0M632.2 242.0h0M623.1 260.2h0M614.8 253.1h0M621.0 258.0h0M624.9 244.1h0M614.9 251.4h0M616.1 249.6h0M622.4 259.1h0M618.9 260.9h0M612.5 256.1h0M626.0 252.0h0M614.1 262.2h0M621.9 248.4h0M626.9 246.1h0M619.1 248.9h0M627.7 245.2h0M624.5 244.1h0M617.5 262.6h0M627.9 257.2h0M625.4 241.4h0M625.6 250.0h0M618.8 246.8h0M630.0 247.3h0M609.0 253.5h0M620.8 261.3h0M624.9 250.6h0M628.2 247.6h0M628.3 244.2h0M624.2 253.7h0M624.3 243.8h0M621.8 256.6h0M624.1 248.8h0M625.8 252.7h0M624.0 250.8h0M616.1 262.5h0M627.3 238.4h0M623.4 264.2h0M624.1 248.1h0M619.9 252.8h0M617.7 249.9h0M622.1 243.7h0M622.2 260.0h0M619.9 252.3h0M616.5 257.5h0M625.4 240.9h0M621.0 253.3h0M611.5 257.2h0M616.3 258.1h0M622.6 247.4h0M626.5 246.7h0M616.6 246.8h0M624.7 243.4h0M622.5 263.3h0M625.6 250.9h0M618.2 250.9h0M625.4 255.8h0M614.3 257.7h0M626.2 246.4h0M620.1 247.2h0M618.3 253.6h0M613.1 255.5h0M630.5 248.1h0M615.3 250.8h0M628.5 255.5h0M609.2 257.6h0M625.2 242.8h0M626.2 240.5h0M609.6 256.7h0M626.0 249.4h0M621.1 254.2h0M623.7 256.8h0M614.4 259.6h0M613.8 249.8h0M614.4 258.2h0M626.7 241.3h0M615.5 250.6h0M628.4 255.5h0M618.0 246.7h0M608.3 249.2h0M628.4 242.2h0M629.6 254.4h0M622.9 253.8h0M622.4 257.6h0M627.0 243.4h0M622.1 249.9h0M622.4 255.0h0M616.8 261.5h0M622.1 245.0h0M608.8 256.2h0M618.2 243.9h0M622.7 244.9h0M614.6 254.8h0M621.8 250.3h0M612.7 250.9h0M616.9 251.6h0M628.9 246.5h0M625.2 242.4h0M627.7 253.4h0M624.8 255.9h0M617.1 254.3h0M628.8 254.9h0M628.8 244.1h0M623.8 262.2h0M625.5 242.7h0M616.3 254.1h0M628.4 239.2h0M613.8 255.7h0M625.5 252.4h0M628.5 246.7h0M618.9 253.4h0M622.3 249.9h0M617.3 255.5h0M625.8 258.5h0M618.5 263.1h0M610.8 249.8h0M616.4 248.5h0M620.8 248.0h0M626.2 251.9h0M615.5 249.3h0M626.7 243.2h0M621.3 243.2h0M629.4 237.8h0M626.6 252.4h0M626.0 254.7h0M622.5 243.7h0M618.7 248.5h0M626.3 258.4h0M618.7 246.8h0M617.7 258.9h0M623.5 247.6h0M630.7 245.2h0M628.3 243.6h0M628.0 254.8h0M627.3 248.6h0M628.3 242.3h0M628.8 245.6h0M622.2 259.8h0M629.9 246.5h0M621.9 262.0h0M611.7 254.9h0M618.7 247.4h0M621.0 253.4h0M628.0 251.2h0M625.7 259.7h0M626.1 242.0h0M625.7 256.2h0M629.2 253.3h0M614.5 260.7h0M616.7 256.4h0M627.8 252.0h0M620.2 257.5h0M625.0 257.6h0M621.9 249.1h0M629.0 245.1h0M618.7 261.6h0M613.4 259.5h0M627.1 239.4h0M614.1 253.0h0M623.1 258.7h0M625.8 256.6h0M619.5 254.5h0M620.5 259.1h0M627.9 249.2h0M627.2 256.1h0M628.4 253.8h0M615.0 254.8h0M624.5 245.8h0M617.9 256.8h0M614.9 249.3h0M625.1 250.8h0M612.2 252.2h0M630.6 252.1h0M623.5 257.1h0M622.4 255.6h0M613.8 261.8h0M621.7 252.1h0M618.2 248.2h0M622.0 256.6h0M626.3 260.7h0M608.7 252.8h0M615.4 261.2h0M625.5 262.0h0M619.7 253.5h0M629.9 250.3h0M616.2 259.0h0M624.9 250.5h0M620.4 257.4h0M628.3 253.7h0M622.6 248.3h0M624.9 244.7h0M630.0 235.9h0M616.9 260.8h0M627.6 244.3h0M622.0 255.6h0M626.2 241.6h0M625.2 241.2h0M626.5 244.5h0M622.8 248.5h0M611.4 253.2h0M624.3 241.4h0M612.2 248.6h0M622.4 244.3h0M628.3 253.2h0M623.5 243.6h0M625.4 246.8h0M630.4 238.5h0M620.0 249.8h0M612.4 247.6h0M623.9 260.4h0M623.8 241.6h0M626.2 250.8h0M624.6 251.8h0M628.1 253.8h0M621.8 243.6h0M618.4 256.4h0M628.5 254.3h0M620.6 261.6h0M619.1 256.2h0M620.2 256.9h0M619.4 262.2h0M616.5 259.3h0M616.5 262.0h0M628.3 246.9h0M630.2 239.6h0M629.6 245.9h0M620.1 260.5h0M628.2 251.5h0M629.1 241.8h0M609.9 252.5h0M614.2 252.4h0M611.1 260.3h0M622.3 254.1h0M621.5 246.5h0M624.9 250.9h0M619.9 253.8h0M618.7 251.6h0M626.8 257.4h0M630.1 245.1h0M624.6 253.9h0M615.1 263.0h0M619.7 248.5h0M621.3 243.8h0M615.0 261.5h0M612.1 249.0h0M623.2 255.9h0M623.1 254.7h0M623.0 260.2h0M626.0 253.6h0M615.9 260.3h0M616.5 251.5h0M628.6 251.3h0M621.0 246.4h0M623.8 244.3h0M626.1 242.5h0M627.3 247.4h0M620.9 253.2h0M623.6 242.9h0M629.8 240.4h0M627.4 253.0h0M627.6 247.0h0M613.0 259.3h0M627.0 255.0h0M618.0 262.7h0M624.7 248.3h0M625.7 255.0h0M622.5 247.6h0M613.9 256.4h0M622.1 254.1h0M614.9 247.5h0M617.2 255.9h0M628.2 241.3h0M623.4 258.0h0M619.9 252.1h0M615.1 247.8h0M624.3 257.0h0M610.1 260.2h0M627.9 247.7h0M627.5 250.2h0M615.2 255.9h0M618.5 246.2h0M628.3 241.2h0M621.2 246.1h0M616.5 251.3h0M626.5 247.4h0M629.8 252.9h0M620.2 258.1h0M630.7 245.4h0M624.5 245.9h0M621.5 255.4h0M631.7 242.5h0M610.9 258.9h0M620.9 255.9h0M621.4 245.8h0M613.2 251.3h0M607.8 250.4h0M627.6 248.9h0M620.1 244.5h0M620.5 257.8h0M627.6 249.3h0M620.2 255.6h0M617.4 262.0h0M614.6 250.9h0M624.7 256.2h0M621.3 244.0h0M621.6 246.5h0M620.0 248.6h0M618.0 257.6h0M628.3 249.5h0M623.2 253.4h0M629.1 244.6h0M620.2 256.9h0M619.0 256.0h0M618.2 248.5h0M618.9 263.7h0M611.5 247.2h0M622.6 256.7h0M616.6 248.2h0M626.0 256.9h0M613.3 251.2h0M630.1 244.3h0M612.7 256.9h0M626.4 253.2h0M615.5 247.2h0M627.0 253.1h0M626.7 248.9h0M626.4 249.6h0M613.5 246.8h0M613.6 247.5h0M610.4 258.1h0M629.2 253.1h0M627.2 253.3h0M621.9 244.0h0M617.0 260.9h0M618.8 250.1h0M614.6 263.3h0M621.2 253.2h0M617.1 245.8h0M623.1 255.5h0M612.6 248.7h0M616.8 244.7h0M627.8 250.2h0M617.7 255.2h0M624.5 242.1h0M615.2 252.6h0M617.2 258.7h0M626.7 249.1h0M613.9 253.3h0M625.2 250.0h0M623.5 260.2h0M627.3 257.0h0M619.2 260.2h0M620.1 263.0h0M622.3 249.2h0M625.3 245.2h0M616.4 244.6h0M625.8 248.9h0M617.4 256.4h0M622.1 250.9h0M627.2 252.9h0M627.7 240.5h0M627.1 244.0h0M622.7 249.3h0M620.8 245.4h0M614.1 249.3h0M624.2 248.6h0M624.4 253.4h0M627.9 250.0h0M631.1 246.9h0M622.5 248.0h0M616.8 250.9h0M630.1 241.7h0M612.0 248.2h0M622.3 252.0h0M622.4 259.7h0M618.6 261.3h0M629.8 242.6h0M623.5 257.4h0M627.8 248.2h0M627.3 250.7h0M615.1 263.5h0M622.2 244.5h0M618.0 258.3h0M610.5 251.7h0M627.0 260.5h0M616.5 249.9h0M617.7 249.6h0M613.2 255.0h0M616.3 252.0h0M615.9 253.2h0M630.0 238.1h0M617.6 259.3h0M609.9 255.5h0M617.6 259.6h0M626.4 241.5h0M618.1 247.6h0M606.9 256.1h0M618.2 249.4h0M622.9 244.7h0M628.8 242.3h0M613.7 253.5h0M621.5 255.0h0M617.4 263.6h0M611.3 259.4h0M629.4 244.2h0M621.2 252.7h0M619.4 259.5h0M627.7 239.8h0M623.8 255.2h0M624.9 262.7h0M627.8 252.1h0M619.4 247.9h0M622.9 256.9h0M621.8 253.7h0M624.3 252.0h0M626.9 252.0h0M616.6 263.1h0M624.4 254.0h0M626.2 250.6h0M625.1 243.2h0M617.9 263.2h0M626.1 255.2h0M630.3 242.4h0M616.7 250.4h0M621.3 244.8h0M625.3 244.7h0M626.3 248.4h0M618.9 259.8h0M617.8 261.4h0M625.1 258.7h0M629.3 253.8h0M631.0 249.0h0M627.1 243.8h0M624.1 241.7h0M628.6 255.3h0M621.9 253.7h0M614.2 248.8h0M628.4 241.3h0M622.4 246.7h0M617.1 256.7h0M629.8 249.6h0M619.3 247.5h0M630.3 253.2h0M626.8 259.8h0M620.3 257.3h0M620.5 262.0h0M613.4 253.6h0M618.8 257.0h0M621.0 256.5h0M621.9 251.3h0M624.2 244.1h0M618.5 250.5h0M607.0 250.6h0M625.3 250.1h0M624.9 246.3h0M618.2 246.8h0M624.8 246.4h0M627.5 260.8h0M623.2 245.9h0M613.8 258.5h0M612.6 255.2h0M623.2 256.3h0M623.2 242.2h0M618.8 253.1h0M628.6 250.4h0M621.2 248.4h0M623.0 243.8h0M629.4 255.1h0M612.2 260.2h0M622.5 255.4h0M613.3 255.7h0M627.5 239.2h0M617.4 248.9h0M628.3 254.6h0M612.0 250.1h0M617.0 256.1h0M620.1 254.6h0M620.5 258.0h0M616.2 254.2h0M615.0 247.7h0M628.1 243.3h0M608.4 252.3h0M622.7 263.7h0M612.1 258.6h0M611.0 258.1h0M623.2 247.5h0M630.7 251.0h0M615.9 255.4h0M626.6 251.1h0M625.2 256.2h0M621.4 251.7h0M624.1 254.7h0M629.7 240.6h0M630.0 250.4h0M625.7 243.1h0M625.2 252.4h0M622.7 248.9h0M628.1 253.8h0M629.1 244.2h0M628.4 247.1h0M624.8 246.6h0M615.8 246.8h0M612.8 256.7h0M623.3 250.0h0M619.2 260.4h0M623.6 261.9h0M625.4 253.6h0M620.3 262.5h0M624.4 259.0h0M628.6 254.8h0M617.5 247.8h0M623.8 257.4h0M618.6 256.3h0M621.9 259.8h0M617.0 258.2h0M628.8 241.8h0M623.4 251.5h0M611.8 254.7h0M610.2 257.8h0M618.9 248.9h0M624.8 254.5h0M626.5 251.1h0M621.6 247.0h0M621.9 249.1h0M612.5 256.2h0M625.0 247.5h0M626.5 239.7h0M617.9 247.5h0M621.4 245.7h0M624.4 253.1h0M621.8 245.3h0M625.9 258.6h0M623.6 259.1h0M623.2 247.1h0M622.5 244.5h0M624.9 247.1h0M618.6 259.1h0M623.9 245.6h0M627.8 250.9h0M622.6 248.8h0M631.0 243.2h0M620.1 253.9h0M616.1 250.9h0M623.0 260.0h0M625.8 258.1h0M615.8 257.7h0M628.9 250.8h0M628.3 247.9h0M624.0 251.1h0M617.4 262.9h0M617.3 248.0h0M614.7 259.7h0M619.2 255.0h0M619.5 260.6h0M616.9 246.4h0M614.9 250.2h0M620.8 258.2h0M625.1 255.7h0M621.9 258.9h0M628.5 252.1h0M619.2 261.1h0M617.5 249.2h0M624.9 254.8h0M623.8 255.6h0M621.9 253.2h0M619.8 257.2h0M612.1 257.4h0M621.3 246.9h0M626.0 241.9h0M619.5 255.3h0M623.7 254.0h0M618.7 261.0h0M627.2 252.7h0M619.5 245.3h0M619.3 261.7h0M624.1 252.8h0M614.9 252.2h0M618.7 260.2h0M626.7 248.8h0M607.6 250.6h0M630.7 241.4h0M620.3 244.6h0M616.2 250.5h0M613.6 261.0h0M625.2 243.7h0M618.0 248.5h0M629.3 251.6h0M630.7 240.5h0M615.7 260.4h0M619.5 246.9h0M623.2 260.7h0M617.5 246.1h0M612.9 251.8h0M619.5 254.4h0M624.4 255.3h0M620.1 245.6h0M626.4 238.7h0M615.6 246.8h0M620.4 264.1h0M609.2 249.9h0M625.5 250.8h0M626.3 245.6h0M611.3 256.4h0M623.8 248.3h0M615.8 250.0h0M627.9 246.2h0M618.9 258.9h0M624.2 260.7h0M628.9 244.1h0M625.3 260.0h0M612.8 262.1h0M625.5 251.4h0M622.6 253.7h0M619.9 254.2h0M628.0 239.7h0M622.8 252.3h0M629.8 247.5h0M618.4 251.7h0M620.4 256.0h0M622.0 254.5h0M622.6 258.8h0M619.6 257.3h0M625.5 243.2h0M622.7 249.5h0M628.2 246.9h0M628.5 241.3h0M624.2 247.7h0M624.6 246.1h0M628.1 251.0h0M623.0 251.5h0M618.8 246.3h0M623.6 248.3h0M624.6 242.7h0M619.2 264.7h0M620.7 253.9h0M606.8 258.7h0M612.1 254.9h0M623.6 245.2h0M625.6 247.5h0M620.0 248.7h0M620.1 262.0h0M625.9 241.5h0M626.0 258.1h0M621.5 248.3h0M620.4 260.6h0M616.7 252.5h0M619.1 258.6h0M625.8 249.3h0M624.8 249.7h0M626.5 256.2h0M629.7 250.5h0M623.5 249.6h0M616.8 255.6h0M629.0 245.2h0M617.4 255.8h0M618.0 259.1h0M628.8 241.3h0M624.4 244.6h0M619.6 252.0h0M623.4 257.0h0M624.1 253.6h0M621.2 247.9h0M619.3 257.9h0M613.4 251.8h0M626.2 246.6h0M615.7 256.2h0M616.1 256.9h0M627.4 245.3h0M625.8 249.9h0M624.3 253.6h0M618.7 256.9h0M624.5 255.2h0M628.0 252.8h0M625.4 245.3h0M620.9 249.0h0M621.6 258.5h0M627.9 248.2h0M624.6 248.1h0M621.2 259.3h0M623.8 258.0h0M616.0 250.9h0M626.1 245.7h0M617.5 257.4h0M614.7 251.6h0M615.4 253.8h0M627.3 253.6h0M619.8 258.7h0M615.8 249.4h0M619.4 248.2h0M620.0 259.6h0M617.6 259.6h0M628.2 246.4h0M619.0 246.7h0M624.9 256.9h0M630.1 248.3h0M623.3 254.5h0M616.7 248.0h0M617.5 251.7h0M629.5 251.1h0M618.7 255.2h0M617.4 255.0h0M623.0 247.6h0M615.4 252.6h0M621.4 257.9h0M623.7 254.6h0M623.6 251.7h0M628.7 242.7h0M624.0 246.6h0M631.1 246.8h0M621.0 246.9h0M618.9 254.3h0M619.9 255.7h0M628.1 243.7h0M620.4 246.8h0M629.8 242.5h0M624.1 246.2h0M619.6 253.9h0M625.6 248.5h0M618.9 256.0h0M624.9 250.6h0M621.1 246.6h0M630.0 241.4h0M618.5 257.0h0M626.3 252.8h0M629.7 241.0h0M630.7 249.3h0M621.0 254.8h0M629.2 248.4h0M622.4 249.6h0M629.8 239.0h0M628.0 243.9h0M623.2 257.3h0M626.2 255.7h0M621.6 254.8h0M618.0 258.8h0M624.8 256.2h0M617.0 251.0h0M627.2 250.8h0M622.7 255.5h0M620.1 260.2h0M627.2 256.6h0M618.7 256.8h0M616.6 252.3h0M626.5 246.0h0M618.4 248.3h0M616.4 252.2h0M625.6 254.3h0M623.0 253.4h0M620.2 261.7h0M622.4 257.1h0M627.4 244.5h0M629.4 240.8h0M629.4 244.7h0M618.7 248.6h0M628.2 245.6h0M614.6 251.1h0M617.0 255.6h0M629.1 248.4h0M622.0 257.6h0M614.7 255.3h0M619.2 251.7h0M615.7 253.2h0M628.9 251.0h0M615.1 253.4h0M621.5 253.6h0M622.3 261.1h0M620.2 252.2h0M617.6 260.5h0M629.3 241.0h0M620.6 253.5h0M624.2 253.9h0M621.0 249.5h0M628.5 250.0h0M627.6 250.0h0M621.4 247.4h0M618.1 259.1h0M620.1 258.6h0M621.4 259.7h0M623.4 250.1h0M630.4 245.2h0M620.8 251.0h0M622.2 258.9h0M617.7 250.9h0M617.1 259.7h0M624.8 250.3h0M617.9 257.7h0M621.1 258.0h0M627.1 251.7h0M620.2 247.7h0M616.4 251.6h0M628.3 254.8h0M624.7 248.7h0M618.0 256.9h0M621.4 254.8h0M624.7 250.3h0M628.4 250.8h0M625.9 251.3h0M620.8 261.6h0M624.5 250.4h0M619.0 253.8h0M624.4 254.8h0M613.7 253.4h0M627.5 246.5h0M615.9 258.3h0M628.8 248.9h0M628.9 249.1h0M623.0 258.8h0M619.4 252.4h0M620.0 259.4h0M623.4 258.7h0M618.8 258.9h0M617.1 248.3h0M628.8 243.1h0M618.8 252.0h0M623.0 244.3h0M621.5 261.5h0M617.1 257.3h0M626.8 253.4h0M622.1 250.0h0M614.2 253.5h0M618.2 259.2h0M616.5 251.9h0M628.0 253.7h0M621.0 258.8h0M628.1 253.7h0M625.8 252.5h0M615.4 255.5h0M626.7 248.7h0M626.2 246.4h0M622.8 247.4h0M629.9 247.9h0M617.0 250.3h0M617.0 248.8h0M620.3 254.3h0M616.9 256.4h0M624.3 253.6h0M623.9 258.7h0M617.6 255.9h0M627.3 256.0h0M626.4 245.8h0M619.6 260.7h0M625.0 254.1h0M621.2 248.1h0M628.9 251.7h0M627.5 244.6h0M619.4 250.8h0M622.0 249.1h0M617.7 254.7h0M624.3 251.0h0M629.2 250.8h0M627.7 245.5h0M620.0 247.5h0M623.1 248.6h0M623.9 245.2h0M621.8 258.5h0M625.0 259.6h0M615.0 255.2h0M628.9 245.8h0M617.3 254.5h0M614.2 254.3h0M622.2 257.4h0M628.2 246.1h0M629.4 246.1h0M627.9 248.4h0M625.5 249.4h0M621.6 252.8h0M627.7 248.1h0M623.7 248.7h0M615.1 254.2h0M622.2 262.3h0M616.8 249.8h0M621.1 258.4h0M624.4 251.3h0M627.8 245.6h0M626.9 246.2h0M616.7 257.0h0M616.0 254.6h0M619.7 252.4h0M627.0 255.1h0M628.0 255.1h0M620.3 250.9h0M627.5 243.5h0M625.8 256.2h0M622.3 253.9h0M628.7 251.2h0M619.5 247.7h0M615.4 257.8h0M620.4 251.0h0M620.3 246.8h0M627.0 250.7h0M626.3 250.3h0M627.7 244.0h0M619.9 252.1h0M625.7 245.4h0M618.9 257.4h0M627.2 252.5h0M625.8 249.4h0M623.2 247.8h0M628.0 244.4h0M626.2 256.4h0M622.6 252.5h0M616.0 253.6h0M616.4 250.7h0M629.1 252.2h0M620.2 262.1h0M616.5 253.8h0M623.2 259.8h0M623.4 258.3h0M628.6 244.8h0M624.2 253.8h0M620.2 260.1h0M628.5 252.3h0M617.5 251.1h0M615.8 250.5h0M627.6 253.1h0M626.6 254.8h0M622.8 258.5h0M627.4 251.2h0M621.4 256.7h0M630.2 247.3h0M624.0 250.2h0M629.3 240.4h0M630.0 240.9h0M626.8 245.5h0M622.8 258.7h0M621.5 260.8h0M629.7 248.7h0M620.1 261.2h0M615.2 255.5h0M615.4 249.6h0M615.2 254.9h0M616.3 254.4h0M630.4 244.9h0M626.6 245.0h0M615.5 252.5h0M623.6 257.4h0M623.5 250.3h0M619.0 250.2h0M616.5 252.8h0M613.6 255.3h0M621.3 245.2h0M629.1 247.4h0M625.5 245.9h0M622.9 257.6h0M621.2 261.1h0M623.9 252.8h0M620.7 253.6h0M620.3 246.6h0M619.5 257.5h0M629.7 240.0h0M616.3 258.8h0M626.7 251.6h0M615.3 253.4h0M623.8 249.9h0M626.2 242.6h0M619.8 247.8h0M621.3 255.3h0M592.1 259.8h0M594.8 257.7h0M596.6 253.2h0M598.4 255.0h0M601.1 255.9h0M602.9 256.8h0M621.3 271.4h0M617.7 242.0h0M607.7 246.4h0M604.6 248.8h0M614.5 243.8h0M611.4 245.4h0M602.3 252.4h0M600.3 253.7h0M603.7 259.5h0M607.5 261.8h0M611.0 264.3h0M614.7 266.3h0M618.3 267.4h0M622.8 265.8h0M606.0 250.0h0M623.6 240.2h0M627.4 237.3h0" class="p"/>
<path d="M632.1 209.0L632.2 225.0L632.6 240.0L633.3 254.0" fill="none" stroke="#fff" stroke-width="0.45"/></g>
<rect x="588.8" y="157.6" width="92.9" height="118.5" fill="none" stroke="#7a7a7a" stroke-width=".9"/>
<path d="M600.6 276.5v2.6M616.7 276.5v2.6M632.8 276.5v2.6M648.9 276.5v2.6M665.0 276.5v2.6M681.2 276.5v2.6M588.4 169.5h-2.6M588.4 206.4h-2.6M588.4 243.0h-2.6" stroke="#333" stroke-width=".9" fill="none"/>
<text class="t" x="600.6" y="288.0" text-anchor="middle">−2</text>
<text class="t" x="616.7" y="288.0" text-anchor="middle">−1</text>
<text class="t" x="632.8" y="288.0" text-anchor="middle">0</text>
<text class="t" x="648.9" y="288.0" text-anchor="middle">1</text>
<text class="t" x="665.0" y="288.0" text-anchor="middle">2</text>
<text class="t" x="681.2" y="288.0" text-anchor="middle">3</text>
<text class="t" x="583.4" y="172.6" text-anchor="end">0.1</text>
<text class="t" x="583.4" y="209.5" text-anchor="end">0.0</text>
<text class="t" x="583.4" y="246.1" text-anchor="end">−0.1</text>
<text class="a" x="638.0" y="303.8" text-anchor="middle">HR FPC3 score</text>
<text class="a" transform="translate(564.3 215.4) rotate(-90)" text-anchor="middle">SHAP value</text></g>
<path d="M41.8 306.3l1 -1.1l1 1.1l1 -1.1l1 1.1l1 -1.1l1 1.1l1 -1.1l1 1.1l1 -1.1l1 1.1l1 -1.1l1 1.1l1 -1.1l1 1.1l1 -1.1l1 1.1l1 -1.1l1 1.1" stroke="#e8413a" stroke-width=".7" fill="none"/>
</svg>
</body></html>
